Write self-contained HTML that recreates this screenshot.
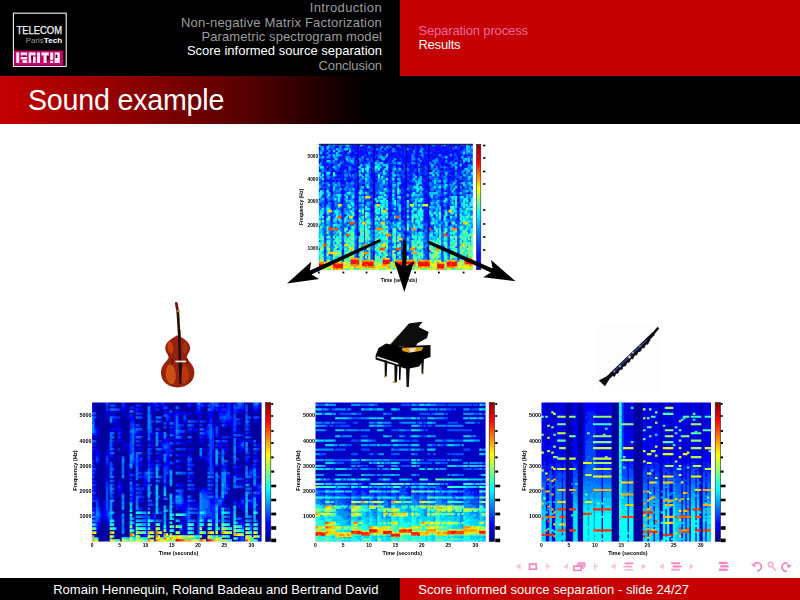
<!DOCTYPE html><html><head><meta charset="utf-8"><title>Sound example</title><style>
html,body{margin:0;padding:0;background:#fff;}
body{width:800px;height:600px;position:relative;overflow:hidden;font-family:"Liberation Sans",sans-serif;}
.abs{position:absolute;}
.nav{position:absolute;right:418px;white-space:nowrap;font-size:13px;line-height:15px;color:#9c9c9c;text-align:right;}
.t{position:absolute;white-space:nowrap;font-size:13px;line-height:15px;}
</style></head><body>
<div class="abs" style="left:0;top:0;width:400px;height:76px;background:#000"></div>
<div class="abs" style="left:400px;top:0;width:400px;height:76px;background:#c40000"></div>
<div class="abs" style="left:0;top:76px;width:800px;height:47.5px;background:linear-gradient(to right,#c40000 0px,#a30000 80px,#800000 160px,#5a0000 240px,#300000 300px,#0e0000 345px,#000 372px)"></div>
<div class="nav" style="top:0.3px;color:#9c9c9c;letter-spacing:0.36px">Introduction</div>
<div class="nav" style="top:14.6px;color:#9c9c9c;letter-spacing:0.20px">Non-negative Matrix Factorization</div>
<div class="nav" style="top:28.9px;color:#9c9c9c;letter-spacing:0.10px">Parametric spectrogram model</div>
<div class="nav" style="top:43.2px;color:#fff;letter-spacing:0.00px">Score informed source separation</div>
<div class="nav" style="top:57.5px;color:#9c9c9c;letter-spacing:-0.08px">Conclusion</div>
<div class="t" style="left:418.4px;top:22.6px;color:#ee6a9c;letter-spacing:-0.14px">Separation process</div>
<div class="t" style="left:418.4px;top:36.6px;color:#fff;letter-spacing:-0.2px">Results</div>
<div class="t" style="left:28px;top:84.2px;font-size:28.6px;line-height:32px;color:#fff;letter-spacing:-0.2px">Sound example</div>
<div class="abs" style="left:0;top:577.5px;width:400px;height:22.5px;background:#000"></div>
<div class="abs" style="left:400px;top:577.5px;width:400px;height:22.5px;background:#c40000"></div>
<div class="t" style="left:53.2px;top:581.8px;color:#fff;letter-spacing:0.03px">Romain Hennequin, Roland Badeau and Bertrand David</div>
<div class="t" style="left:418.2px;top:581.8px;color:#fff;letter-spacing:0.03px">Score informed source separation - slide 24/27</div>
<svg class="abs" style="left:0;top:0" width="80" height="76" viewBox="0 0 80 76"><rect x="13.4" y="13.2" width="52.8" height="53.2" fill="#000" stroke="#f4f4f4" stroke-width="1.1"/><rect x="14" y="50.6" width="49.2" height="15" fill="#c4006a"/><text x="16.4" y="34.2" font-family="Liberation Sans, sans-serif" font-size="10.4" fill="#f4f4f4" stroke="#f4f4f4" stroke-width="0.25" textLength="45.6" lengthAdjust="spacingAndGlyphs">TELECOM</text><text x="25.8" y="42.6" font-family="Liberation Sans, sans-serif" font-size="7.4" fill="#9a9a9a" textLength="18" lengthAdjust="spacingAndGlyphs">Paris</text><text x="43.8" y="42.6" font-family="Liberation Sans, sans-serif" font-weight="bold" font-size="7.4" fill="#fff" textLength="18.5" lengthAdjust="spacingAndGlyphs">Tech</text><g fill="#fff" opacity="0.9"><rect x="16.2" y="52.4" width="3" height="10.6"/><rect x="20.6" y="52.4" width="6.5" height="3"/><rect x="20.6" y="57" width="6.5" height="2.4"/><rect x="22.5" y="60" width="4.6" height="3"/><rect x="28.6" y="52.4" width="7" height="3"/><rect x="28.6" y="55" width="2.6" height="8"/><rect x="33" y="56.6" width="2.6" height="6.4"/><rect x="37" y="52.4" width="3" height="10.6"/><rect x="41.4" y="52.4" width="7.4" height="3"/><rect x="43.6" y="55" width="3" height="8"/><rect x="50.2" y="52.4" width="3" height="7.5"/><rect x="50.2" y="60.8" width="3" height="2.2"/><rect x="54.6" y="52.4" width="5.2" height="10.6"/></g><g fill="#1a0010"><rect x="23" y="55.6" width="2.2" height="1.2"/><rect x="31.4" y="55.6" width="1.4" height="4"/><rect x="55.6" y="54.6" width="1.6" height="3.4"/><rect x="47" y="56" width="2" height="4"/></g></svg>
<svg class="abs" style="left:0;top:0" width="800" height="600" viewBox="0 0 800 600">
<defs><filter id="bl" x="-2%" y="-2%" width="104%" height="104%"><feGaussianBlur stdDeviation="0.45"/></filter><filter id="bl2" x="-5%" y="-5%" width="110%" height="110%"><feGaussianBlur stdDeviation="0.5"/></filter><filter id="bl3" x="-5%" y="-5%" width="110%" height="110%"><feGaussianBlur stdDeviation="0.3"/></filter></defs>
<defs><clipPath id="cpT"><rect x="318.8" y="144.3" width="154.0" height="125.7"/></clipPath></defs><g clip-path="url(#cpT)"><g filter="url(#bl)"><rect x="316.8" y="142.3" width="158.0" height="129.7" fill="#004dff"/><path fill="#0000c3" d="M320.1 144h3.8v2.6h-3.8zM326.5 144h2.2v2.6h-2.2zM357 144h2.2v2.6h-2.2zM373 144h2.2v2.6h-2.2zM393.9 144h2.2v2.6h-2.2zM405.1 144h2.2v2.6h-2.2zM427.6 144h2.2v2.6h-2.2zM336.1 146h2.2v2.6h-2.2zM357 146h2.2v2.6h-2.2zM361.8 146h2.2v2.6h-2.2zM373 146h3.8v2.6h-3.8zM405.1 146h2.2v2.6h-2.2zM411.5 146h2.2v2.6h-2.2zM427.6 146h2.2v2.6h-2.2zM357 148h2.2v2.6h-2.2zM373 148h2.2v2.6h-2.2zM377.9 148h2.2v2.6h-2.2zM385.9 148h2.2v2.6h-2.2zM397.1 148h2.2v2.6h-2.2zM405.1 148h2.2v2.6h-2.2zM427.6 148h2.2v2.6h-2.2zM459.7 148h2.2v2.6h-2.2zM345.8 150h2.2v2.6h-2.2zM357 150h2.2v2.6h-2.2zM373 150h2.2v2.6h-2.2zM405.1 150h3.8v2.6h-3.8zM427.6 150h2.2v2.6h-2.2zM445.2 150h2.2v2.6h-2.2zM454.9 150h2.2v2.6h-2.2zM352.2 152h2.2v2.6h-2.2zM357 152h2.2v2.6h-2.2zM373 152h2.2v2.6h-2.2zM392.3 152h2.2v2.6h-2.2zM405.1 152h2.2v2.6h-2.2zM427.6 152h2.2v2.6h-2.2zM326.5 154h2.2v2.6h-2.2zM357 154h2.2v2.6h-2.2zM373 154h2.2v2.6h-2.2zM382.7 154h2.2v2.6h-2.2zM405.1 154h2.2v2.6h-2.2zM427.6 154h2.2v2.6h-2.2zM430.8 154h2.2v2.6h-2.2zM339.4 156h2.2v2.6h-2.2zM357 156h2.2v2.6h-2.2zM373 156h2.2v2.6h-2.2zM405.1 156h2.2v2.6h-2.2zM427.6 156h2.2v2.6h-2.2zM434 156h2.2v2.6h-2.2zM459.7 156h2.2v2.6h-2.2zM462.9 156h2.2v2.6h-2.2zM337.8 158h2.2v2.6h-2.2zM357 158h2.2v2.6h-2.2zM373 158h2.2v2.6h-2.2zM397.1 158h2.2v2.6h-2.2zM405.1 158h2.2v2.6h-2.2zM427.6 158h2.2v2.6h-2.2zM318.5 160h2.2v2.6h-2.2zM357 160h2.2v2.6h-2.2zM373 160h2.2v2.6h-2.2zM381.1 160h2.2v2.6h-2.2zM384.3 160h2.2v2.6h-2.2zM405.1 160h2.2v2.6h-2.2zM427.6 160h2.2v2.6h-2.2zM326.5 162h2.2v2.6h-2.2zM357 162h2.2v2.6h-2.2zM373 162h2.2v2.6h-2.2zM405.1 162h2.2v2.6h-2.2zM421.2 162h2.2v2.6h-2.2zM427.6 162h2.2v2.6h-2.2zM467.7 162h2.2v2.6h-2.2zM357 164h2.2v2.6h-2.2zM373 164h2.2v2.6h-2.2zM405.1 164h2.2v2.6h-2.2zM427.6 164h2.2v2.6h-2.2zM434 164h2.2v2.6h-2.2zM357 165.9h2.2v2.6h-2.2zM373 165.9h2.2v2.6h-2.2zM384.3 165.9h2.2v2.6h-2.2zM405.1 165.9h2.2v2.6h-2.2zM427.6 165.9h2.2v2.6h-2.2zM461.3 165.9h2.2v2.6h-2.2zM326.5 167.9h2.2v2.6h-2.2zM339.4 167.9h2.2v2.6h-2.2zM357 167.9h2.2v2.6h-2.2zM373 167.9h2.2v2.6h-2.2zM405.1 167.9h2.2v2.6h-2.2zM427.6 167.9h2.2v2.6h-2.2zM461.3 167.9h2.2v2.6h-2.2zM332.9 169.9h2.2v2.6h-2.2zM357 169.9h2.2v2.6h-2.2zM373 169.9h2.2v2.6h-2.2zM379.5 169.9h2.2v2.6h-2.2zM405.1 169.9h2.2v2.6h-2.2zM427.6 169.9h5.4v2.6h-5.4zM337.8 171.9h2.2v2.6h-2.2zM357 171.9h2.2v2.6h-2.2zM360.2 171.9h2.2v2.6h-2.2zM373 171.9h2.2v2.6h-2.2zM381.1 171.9h2.2v2.6h-2.2zM393.9 171.9h2.2v2.6h-2.2zM405.1 171.9h2.2v2.6h-2.2zM416.4 171.9h2.2v2.6h-2.2zM427.6 171.9h2.2v2.6h-2.2zM453.2 171.9h2.2v2.6h-2.2zM320.1 173.9h2.2v2.6h-2.2zM336.1 173.9h2.2v2.6h-2.2zM350.6 173.9h2.2v2.6h-2.2zM357 173.9h2.2v2.6h-2.2zM373 173.9h2.2v2.6h-2.2zM405.1 173.9h2.2v2.6h-2.2zM427.6 173.9h2.2v2.6h-2.2zM434 173.9h2.2v2.6h-2.2zM438.8 173.9h2.2v2.6h-2.2zM357 175.9h2.2v2.6h-2.2zM373 175.9h2.2v2.6h-2.2zM379.5 175.9h2.2v2.6h-2.2zM405.1 175.9h2.2v2.6h-2.2zM427.6 175.9h2.2v2.6h-2.2zM345.8 177.9h2.2v2.6h-2.2zM357 177.9h2.2v2.6h-2.2zM373 177.9h2.2v2.6h-2.2zM393.9 177.9h2.2v2.6h-2.2zM405.1 177.9h2.2v2.6h-2.2zM427.6 177.9h2.2v2.6h-2.2zM451.6 177.9h2.2v2.6h-2.2zM357 179.9h2.2v2.6h-2.2zM373 179.9h2.2v2.6h-2.2zM405.1 179.9h2.2v2.6h-2.2zM421.2 179.9h2.2v2.6h-2.2zM427.6 179.9h2.2v2.6h-2.2zM461.3 179.9h2.2v2.6h-2.2zM344.2 181.9h2.2v2.6h-2.2zM357 181.9h2.2v2.6h-2.2zM373 181.9h2.2v2.6h-2.2zM405.1 181.9h2.2v2.6h-2.2zM411.5 181.9h2.2v2.6h-2.2zM427.6 181.9h2.2v2.6h-2.2zM438.8 181.9h2.2v2.6h-2.2zM357 183.9h2.2v2.6h-2.2zM361.8 183.9h2.2v2.6h-2.2zM373 183.9h2.2v2.6h-2.2zM398.7 183.9h2.2v2.6h-2.2zM405.1 183.9h2.2v2.6h-2.2zM419.6 183.9h2.2v2.6h-2.2zM427.6 183.9h2.2v2.6h-2.2zM461.3 183.9h2.2v2.6h-2.2zM357 185.9h2.2v2.6h-2.2zM373 185.9h2.2v2.6h-2.2zM382.7 185.9h2.2v2.6h-2.2zM398.7 185.9h2.2v2.6h-2.2zM405.1 185.9h2.2v2.6h-2.2zM427.6 185.9h2.2v2.6h-2.2zM461.3 185.9h3.8v2.6h-3.8zM470.9 185.9h2.2v2.6h-2.2zM320.1 187.9h2.2v2.6h-2.2zM357 187.9h2.2v2.6h-2.2zM366.6 187.9h2.2v2.6h-2.2zM373 187.9h2.2v2.6h-2.2zM405.1 187.9h2.2v2.6h-2.2zM427.6 187.9h2.2v2.6h-2.2zM454.9 187.9h2.2v2.6h-2.2zM357 189.9h2.2v2.6h-2.2zM373 189.9h2.2v2.6h-2.2zM405.1 189.9h2.2v2.6h-2.2zM427.6 189.9h2.2v2.6h-2.2zM357 191.9h2.2v2.6h-2.2zM373 191.9h2.2v2.6h-2.2zM405.1 191.9h2.2v2.6h-2.2zM427.6 191.9h2.2v2.6h-2.2zM357 193.9h2.2v2.6h-2.2zM373 193.9h2.2v2.6h-2.2zM405.1 193.9h2.2v2.6h-2.2zM427.6 193.9h2.2v2.6h-2.2zM357 195.9h2.2v2.6h-2.2zM373 195.9h2.2v2.6h-2.2zM405.1 195.9h2.2v2.6h-2.2zM427.6 195.9h2.2v2.6h-2.2zM357 197.9h2.2v2.6h-2.2zM373 197.9h2.2v2.6h-2.2zM405.1 197.9h2.2v2.6h-2.2zM427.6 197.9h2.2v2.6h-2.2zM357 199.9h2.2v2.6h-2.2zM373 199.9h2.2v2.6h-2.2zM405.1 199.9h2.2v2.6h-2.2zM427.6 199.9h2.2v2.6h-2.2zM357 201.9h2.2v2.6h-2.2zM373 201.9h2.2v2.6h-2.2zM405.1 201.9h2.2v2.6h-2.2zM427.6 201.9h2.2v2.6h-2.2zM357 203.9h2.2v2.6h-2.2zM373 203.9h2.2v2.6h-2.2zM405.1 203.9h2.2v2.6h-2.2zM427.6 203.9h2.2v2.6h-2.2zM357 205.9h2.2v2.6h-2.2zM373 205.9h2.2v2.6h-2.2zM405.1 205.9h2.2v2.6h-2.2zM427.6 205.9h2.2v2.6h-2.2zM357 207.8h2.2v2.6h-2.2zM373 207.8h2.2v2.6h-2.2zM405.1 207.8h2.2v2.6h-2.2zM427.6 207.8h2.2v2.6h-2.2zM357 209.8h2.2v2.6h-2.2zM373 209.8h2.2v2.6h-2.2zM405.1 209.8h2.2v2.6h-2.2zM427.6 209.8h2.2v2.6h-2.2zM357 211.8h2.2v2.6h-2.2zM373 211.8h2.2v2.6h-2.2zM405.1 211.8h2.2v2.6h-2.2zM427.6 211.8h2.2v2.6h-2.2zM357 213.8h2.2v2.6h-2.2zM373 213.8h2.2v2.6h-2.2zM405.1 213.8h2.2v2.6h-2.2zM427.6 213.8h2.2v2.6h-2.2zM357 215.8h2.2v2.6h-2.2zM373 215.8h2.2v2.6h-2.2zM405.1 215.8h2.2v2.6h-2.2zM427.6 215.8h2.2v2.6h-2.2zM357 217.8h2.2v2.6h-2.2zM373 217.8h2.2v2.6h-2.2zM405.1 217.8h2.2v2.6h-2.2zM427.6 217.8h2.2v2.6h-2.2zM357 219.8h2.2v2.6h-2.2zM373 219.8h2.2v2.6h-2.2zM405.1 219.8h2.2v2.6h-2.2zM427.6 219.8h2.2v2.6h-2.2zM357 221.8h2.2v2.6h-2.2zM373 221.8h2.2v2.6h-2.2zM405.1 221.8h2.2v2.6h-2.2zM427.6 221.8h2.2v2.6h-2.2zM357 223.8h2.2v2.6h-2.2zM373 223.8h2.2v2.6h-2.2zM405.1 223.8h2.2v2.6h-2.2zM427.6 223.8h2.2v2.6h-2.2zM357 225.8h2.2v2.6h-2.2zM373 225.8h2.2v2.6h-2.2zM405.1 225.8h2.2v2.6h-2.2zM427.6 225.8h2.2v2.6h-2.2zM357 227.8h2.2v2.6h-2.2zM373 227.8h2.2v2.6h-2.2zM405.1 227.8h2.2v2.6h-2.2zM427.6 227.8h2.2v2.6h-2.2zM357 229.8h2.2v2.6h-2.2zM373 229.8h2.2v2.6h-2.2zM405.1 229.8h2.2v2.6h-2.2zM427.6 229.8h2.2v2.6h-2.2zM357 231.8h2.2v2.6h-2.2zM373 231.8h2.2v2.6h-2.2zM405.1 231.8h2.2v2.6h-2.2zM427.6 231.8h2.2v2.6h-2.2zM357 233.8h2.2v2.6h-2.2zM373 233.8h2.2v2.6h-2.2zM405.1 233.8h2.2v2.6h-2.2zM427.6 233.8h2.2v2.6h-2.2zM357 235.8h2.2v2.6h-2.2zM373 235.8h2.2v2.6h-2.2zM405.1 235.8h2.2v2.6h-2.2zM427.6 235.8h2.2v2.6h-2.2zM357 237.8h2.2v2.6h-2.2zM373 237.8h2.2v2.6h-2.2zM405.1 237.8h2.2v2.6h-2.2zM427.6 237.8h2.2v2.6h-2.2zM357 239.8h2.2v2.6h-2.2zM373 239.8h2.2v2.6h-2.2zM405.1 239.8h2.2v2.6h-2.2zM427.6 239.8h2.2v2.6h-2.2zM357 241.8h2.2v2.6h-2.2zM373 241.8h2.2v2.6h-2.2zM405.1 241.8h2.2v2.6h-2.2zM427.6 241.8h2.2v2.6h-2.2zM357 243.8h2.2v2.6h-2.2zM373 243.8h2.2v2.6h-2.2zM405.1 243.8h2.2v2.6h-2.2zM427.6 243.8h2.2v2.6h-2.2zM357 245.8h2.2v2.6h-2.2zM373 245.8h2.2v2.6h-2.2zM405.1 245.8h2.2v2.6h-2.2zM427.6 245.8h2.2v2.6h-2.2zM357 247.8h2.2v2.6h-2.2zM373 247.8h2.2v2.6h-2.2zM405.1 247.8h2.2v2.6h-2.2zM427.6 247.8h2.2v2.6h-2.2zM357 249.7h2.2v2.6h-2.2zM373 249.7h2.2v2.6h-2.2zM405.1 249.7h2.2v2.6h-2.2zM427.6 249.7h2.2v2.6h-2.2zM357 251.7h2.2v2.6h-2.2zM373 251.7h2.2v2.6h-2.2zM405.1 251.7h2.2v2.6h-2.2zM427.6 251.7h2.2v2.6h-2.2zM357 253.7h2.2v2.6h-2.2zM373 253.7h2.2v2.6h-2.2zM405.1 253.7h2.2v2.6h-2.2zM427.6 253.7h2.2v2.6h-2.2zM357 255.7h2.2v2.6h-2.2zM373 255.7h2.2v2.6h-2.2zM405.1 255.7h2.2v2.6h-2.2zM427.6 255.7h2.2v2.6h-2.2zM373 257.7h2.2v2.6h-2.2zM405.1 257.7h2.2v2.6h-2.2zM427.6 257.7h2.2v2.6h-2.2z"/><path fill="#0008ff" d="M323.3 144h3.8v2.6h-3.8zM337.8 144h2.2v2.6h-2.2zM349 144h2.2v2.6h-2.2zM352.2 144h2.2v2.6h-2.2zM355.4 144h2.2v2.6h-2.2zM358.6 144h2.2v2.6h-2.2zM365 144h3.8v2.6h-3.8zM369.8 144h3.8v2.6h-3.8zM377.9 144h5.4v2.6h-5.4zM384.3 144h3.8v2.6h-3.8zM390.7 144h3.8v2.6h-3.8zM395.5 144h2.2v2.6h-2.2zM400.3 144h5.4v2.6h-5.4zM406.7 144h2.2v2.6h-2.2zM409.9 144h2.2v2.6h-2.2zM413.1 144h7v2.6h-7zM421.2 144h5.4v2.6h-5.4zM429.2 144h2.2v2.6h-2.2zM434 144h2.2v2.6h-2.2zM437.2 144h3.8v2.6h-3.8zM445.2 144h2.2v2.6h-2.2zM448.4 144h11.8v2.6h-11.8zM464.5 144h2.2v2.6h-2.2zM470.9 144h2.2v2.6h-2.2zM318.5 146h2.2v2.6h-2.2zM323.3 146h3.8v2.6h-3.8zM334.5 146h2.2v2.6h-2.2zM341 146h3.8v2.6h-3.8zM349 146h2.2v2.6h-2.2zM352.2 146h5.4v2.6h-5.4zM360.2 146h2.2v2.6h-2.2zM363.4 146h3.8v2.6h-3.8zM369.8 146h2.2v2.6h-2.2zM376.2 146h3.8v2.6h-3.8zM382.7 146h3.8v2.6h-3.8zM392.3 146h3.8v2.6h-3.8zM397.1 146h2.2v2.6h-2.2zM401.9 146h2.2v2.6h-2.2zM408.3 146h2.2v2.6h-2.2zM413.1 146h2.2v2.6h-2.2zM416.4 146h3.8v2.6h-3.8zM422.8 146h3.8v2.6h-3.8zM430.8 146h3.8v2.6h-3.8zM435.6 146h5.4v2.6h-5.4zM442 146h7v2.6h-7zM450 146h2.2v2.6h-2.2zM456.5 146h2.2v2.6h-2.2zM459.7 146h3.8v2.6h-3.8zM464.5 146h2.2v2.6h-2.2zM469.3 146h2.2v2.6h-2.2zM318.5 148h2.2v2.6h-2.2zM323.3 148h3.8v2.6h-3.8zM328.1 148h2.2v2.6h-2.2zM350.6 148h2.2v2.6h-2.2zM353.8 148h2.2v2.6h-2.2zM360.2 148h2.2v2.6h-2.2zM363.4 148h3.8v2.6h-3.8zM368.2 148h2.2v2.6h-2.2zM374.6 148h2.2v2.6h-2.2zM381.1 148h3.8v2.6h-3.8zM389.1 148h3.8v2.6h-3.8zM395.5 148h2.2v2.6h-2.2zM400.3 148h3.8v2.6h-3.8zM408.3 148h2.2v2.6h-2.2zM411.5 148h3.8v2.6h-3.8zM416.4 148h3.8v2.6h-3.8zM424.4 148h2.2v2.6h-2.2zM429.2 148h3.8v2.6h-3.8zM434 148h11.8v2.6h-11.8zM446.8 148h2.2v2.6h-2.2zM450 148h2.2v2.6h-2.2zM454.9 148h2.2v2.6h-2.2zM461.3 148h2.2v2.6h-2.2zM324.9 150h3.8v2.6h-3.8zM329.7 150h3.8v2.6h-3.8zM336.1 150h2.2v2.6h-2.2zM344.2 150h2.2v2.6h-2.2zM347.4 150h2.2v2.6h-2.2zM350.6 150h2.2v2.6h-2.2zM353.8 150h3.8v2.6h-3.8zM358.6 150h5.4v2.6h-5.4zM365 150h2.2v2.6h-2.2zM371.4 150h2.2v2.6h-2.2zM374.6 150h3.8v2.6h-3.8zM384.3 150h2.2v2.6h-2.2zM387.5 150h3.8v2.6h-3.8zM397.1 150h3.8v2.6h-3.8zM401.9 150h2.2v2.6h-2.2zM408.3 150h5.4v2.6h-5.4zM414.8 150h5.4v2.6h-5.4zM422.8 150h2.2v2.6h-2.2zM426 150h2.2v2.6h-2.2zM429.2 150h2.2v2.6h-2.2zM432.4 150h2.2v2.6h-2.2zM435.6 150h2.2v2.6h-2.2zM438.8 150h3.8v2.6h-3.8zM443.6 150h2.2v2.6h-2.2zM446.8 150h3.8v2.6h-3.8zM451.6 150h3.8v2.6h-3.8zM456.5 150h3.8v2.6h-3.8zM321.7 152h3.8v2.6h-3.8zM328.1 152h3.8v2.6h-3.8zM332.9 152h2.2v2.6h-2.2zM337.8 152h5.4v2.6h-5.4zM344.2 152h3.8v2.6h-3.8zM349 152h3.8v2.6h-3.8zM358.6 152h10.2v2.6h-10.2zM374.6 152h3.8v2.6h-3.8zM381.1 152h2.2v2.6h-2.2zM384.3 152h2.2v2.6h-2.2zM389.1 152h3.8v2.6h-3.8zM393.9 152h2.2v2.6h-2.2zM397.1 152h3.8v2.6h-3.8zM401.9 152h2.2v2.6h-2.2zM406.7 152h2.2v2.6h-2.2zM409.9 152h2.2v2.6h-2.2zM416.4 152h5.4v2.6h-5.4zM422.8 152h2.2v2.6h-2.2zM432.4 152h21.5v2.6h-21.5zM456.5 152h3.8v2.6h-3.8zM320.1 154h2.2v2.6h-2.2zM323.3 154h2.2v2.6h-2.2zM342.6 154h3.8v2.6h-3.8zM347.4 154h10.2v2.6h-10.2zM360.2 154h3.8v2.6h-3.8zM366.6 154h2.2v2.6h-2.2zM369.8 154h3.8v2.6h-3.8zM381.1 154h2.2v2.6h-2.2zM384.3 154h2.2v2.6h-2.2zM387.5 154h7v2.6h-7zM395.5 154h2.2v2.6h-2.2zM398.7 154h5.4v2.6h-5.4zM406.7 154h5.4v2.6h-5.4zM414.8 154h3.8v2.6h-3.8zM424.4 154h3.8v2.6h-3.8zM429.2 154h2.2v2.6h-2.2zM432.4 154h2.2v2.6h-2.2zM435.6 154h2.2v2.6h-2.2zM442 154h2.2v2.6h-2.2zM445.2 154h5.4v2.6h-5.4zM451.6 154h2.2v2.6h-2.2zM456.5 154h5.4v2.6h-5.4zM464.5 154h2.2v2.6h-2.2zM467.7 154h2.2v2.6h-2.2zM470.9 154h2.2v2.6h-2.2zM324.9 156h2.2v2.6h-2.2zM329.7 156h2.2v2.6h-2.2zM342.6 156h2.2v2.6h-2.2zM350.6 156h2.2v2.6h-2.2zM355.4 156h2.2v2.6h-2.2zM358.6 156h2.2v2.6h-2.2zM363.4 156h2.2v2.6h-2.2zM366.6 156h2.2v2.6h-2.2zM371.4 156h2.2v2.6h-2.2zM376.2 156h2.2v2.6h-2.2zM387.5 156h2.2v2.6h-2.2zM390.7 156h2.2v2.6h-2.2zM393.9 156h5.4v2.6h-5.4zM400.3 156h5.4v2.6h-5.4zM406.7 156h5.4v2.6h-5.4zM414.8 156h7v2.6h-7zM424.4 156h2.2v2.6h-2.2zM429.2 156h2.2v2.6h-2.2zM432.4 156h2.2v2.6h-2.2zM437.2 156h3.8v2.6h-3.8zM448.4 156h7v2.6h-7zM458.1 156h2.2v2.6h-2.2zM318.5 158h2.2v2.6h-2.2zM323.3 158h2.2v2.6h-2.2zM326.5 158h3.8v2.6h-3.8zM331.3 158h3.8v2.6h-3.8zM339.4 158h2.2v2.6h-2.2zM342.6 158h3.8v2.6h-3.8zM353.8 158h3.8v2.6h-3.8zM363.4 158h2.2v2.6h-2.2zM368.2 158h2.2v2.6h-2.2zM374.6 158h2.2v2.6h-2.2zM377.9 158h3.8v2.6h-3.8zM384.3 158h5.4v2.6h-5.4zM390.7 158h2.2v2.6h-2.2zM401.9 158h3.8v2.6h-3.8zM406.7 158h5.4v2.6h-5.4zM414.8 158h2.2v2.6h-2.2zM419.6 158h3.8v2.6h-3.8zM424.4 158h2.2v2.6h-2.2zM430.8 158h2.2v2.6h-2.2zM438.8 158h3.8v2.6h-3.8zM443.6 158h2.2v2.6h-2.2zM446.8 158h7v2.6h-7zM458.1 158h3.8v2.6h-3.8zM469.3 158h2.2v2.6h-2.2zM323.3 160h3.8v2.6h-3.8zM334.5 160h2.2v2.6h-2.2zM337.8 160h2.2v2.6h-2.2zM344.2 160h2.2v2.6h-2.2zM353.8 160h2.2v2.6h-2.2zM363.4 160h3.8v2.6h-3.8zM379.5 160h2.2v2.6h-2.2zM382.7 160h2.2v2.6h-2.2zM385.9 160h2.2v2.6h-2.2zM389.1 160h2.2v2.6h-2.2zM393.9 160h3.8v2.6h-3.8zM398.7 160h2.2v2.6h-2.2zM401.9 160h3.8v2.6h-3.8zM406.7 160h3.8v2.6h-3.8zM413.1 160h7v2.6h-7zM421.2 160h7v2.6h-7zM429.2 160h3.8v2.6h-3.8zM438.8 160h2.2v2.6h-2.2zM442 160h3.8v2.6h-3.8zM446.8 160h3.8v2.6h-3.8zM454.9 160h2.2v2.6h-2.2zM458.1 160h2.2v2.6h-2.2zM461.3 160h2.2v2.6h-2.2zM469.3 160h2.2v2.6h-2.2zM318.5 162h2.2v2.6h-2.2zM321.7 162h2.2v2.6h-2.2zM324.9 162h2.2v2.6h-2.2zM337.8 162h2.2v2.6h-2.2zM344.2 162h5.4v2.6h-5.4zM353.8 162h2.2v2.6h-2.2zM361.8 162h2.2v2.6h-2.2zM369.8 162h3.8v2.6h-3.8zM384.3 162h2.2v2.6h-2.2zM395.5 162h2.2v2.6h-2.2zM401.9 162h3.8v2.6h-3.8zM408.3 162h2.2v2.6h-2.2zM414.8 162h2.2v2.6h-2.2zM419.6 162h2.2v2.6h-2.2zM422.8 162h5.4v2.6h-5.4zM430.8 162h3.8v2.6h-3.8zM435.6 162h2.2v2.6h-2.2zM440.4 162h3.8v2.6h-3.8zM445.2 162h2.2v2.6h-2.2zM458.1 162h2.2v2.6h-2.2zM464.5 162h3.8v2.6h-3.8zM469.3 162h2.2v2.6h-2.2zM323.3 164h3.8v2.6h-3.8zM329.7 164h3.8v2.6h-3.8zM341 164h3.8v2.6h-3.8zM349 164h2.2v2.6h-2.2zM352.2 164h2.2v2.6h-2.2zM355.4 164h2.2v2.6h-2.2zM358.6 164h2.2v2.6h-2.2zM369.8 164h3.8v2.6h-3.8zM389.1 164h3.8v2.6h-3.8zM393.9 164h8.6v2.6h-8.6zM409.9 164h8.6v2.6h-8.6zM419.6 164h2.2v2.6h-2.2zM422.8 164h2.2v2.6h-2.2zM426 164h2.2v2.6h-2.2zM429.2 164h2.2v2.6h-2.2zM437.2 164h2.2v2.6h-2.2zM442 164h8.6v2.6h-8.6zM456.5 164h2.2v2.6h-2.2zM461.3 164h3.8v2.6h-3.8zM466.1 164h2.2v2.6h-2.2zM323.3 165.9h2.2v2.6h-2.2zM328.1 165.9h3.8v2.6h-3.8zM341 165.9h7v2.6h-7zM350.6 165.9h7v2.6h-7zM363.4 165.9h2.2v2.6h-2.2zM369.8 165.9h2.2v2.6h-2.2zM381.1 165.9h2.2v2.6h-2.2zM389.1 165.9h2.2v2.6h-2.2zM395.5 165.9h2.2v2.6h-2.2zM400.3 165.9h3.8v2.6h-3.8zM408.3 165.9h3.8v2.6h-3.8zM413.1 165.9h3.8v2.6h-3.8zM418 165.9h5.4v2.6h-5.4zM429.2 165.9h2.2v2.6h-2.2zM434 165.9h2.2v2.6h-2.2zM437.2 165.9h2.2v2.6h-2.2zM448.4 165.9h2.2v2.6h-2.2zM453.2 165.9h2.2v2.6h-2.2zM458.1 165.9h2.2v2.6h-2.2zM462.9 165.9h3.8v2.6h-3.8zM331.3 167.9h3.8v2.6h-3.8zM341 167.9h3.8v2.6h-3.8zM345.8 167.9h2.2v2.6h-2.2zM355.4 167.9h2.2v2.6h-2.2zM358.6 167.9h2.2v2.6h-2.2zM363.4 167.9h2.2v2.6h-2.2zM369.8 167.9h2.2v2.6h-2.2zM379.5 167.9h2.2v2.6h-2.2zM387.5 167.9h5.4v2.6h-5.4zM401.9 167.9h2.2v2.6h-2.2zM408.3 167.9h2.2v2.6h-2.2zM411.5 167.9h2.2v2.6h-2.2zM416.4 167.9h2.2v2.6h-2.2zM422.8 167.9h2.2v2.6h-2.2zM438.8 167.9h5.4v2.6h-5.4zM445.2 167.9h2.2v2.6h-2.2zM448.4 167.9h7v2.6h-7zM456.5 167.9h3.8v2.6h-3.8zM318.5 169.9h2.2v2.6h-2.2zM331.3 169.9h2.2v2.6h-2.2zM334.5 169.9h2.2v2.6h-2.2zM339.4 169.9h2.2v2.6h-2.2zM342.6 169.9h2.2v2.6h-2.2zM345.8 169.9h2.2v2.6h-2.2zM350.6 169.9h7v2.6h-7zM363.4 169.9h2.2v2.6h-2.2zM371.4 169.9h2.2v2.6h-2.2zM377.9 169.9h2.2v2.6h-2.2zM381.1 169.9h2.2v2.6h-2.2zM384.3 169.9h2.2v2.6h-2.2zM389.1 169.9h3.8v2.6h-3.8zM393.9 169.9h2.2v2.6h-2.2zM409.9 169.9h3.8v2.6h-3.8zM416.4 169.9h2.2v2.6h-2.2zM419.6 169.9h3.8v2.6h-3.8zM426 169.9h2.2v2.6h-2.2zM435.6 169.9h2.2v2.6h-2.2zM451.6 169.9h2.2v2.6h-2.2zM454.9 169.9h3.8v2.6h-3.8zM459.7 169.9h2.2v2.6h-2.2zM464.5 169.9h2.2v2.6h-2.2zM469.3 169.9h2.2v2.6h-2.2zM323.3 171.9h2.2v2.6h-2.2zM329.7 171.9h3.8v2.6h-3.8zM334.5 171.9h3.8v2.6h-3.8zM339.4 171.9h3.8v2.6h-3.8zM350.6 171.9h3.8v2.6h-3.8zM371.4 171.9h2.2v2.6h-2.2zM374.6 171.9h2.2v2.6h-2.2zM387.5 171.9h2.2v2.6h-2.2zM398.7 171.9h2.2v2.6h-2.2zM403.5 171.9h2.2v2.6h-2.2zM408.3 171.9h2.2v2.6h-2.2zM414.8 171.9h2.2v2.6h-2.2zM422.8 171.9h2.2v2.6h-2.2zM440.4 171.9h3.8v2.6h-3.8zM448.4 171.9h5.4v2.6h-5.4zM456.5 171.9h2.2v2.6h-2.2zM459.7 171.9h2.2v2.6h-2.2zM462.9 171.9h2.2v2.6h-2.2zM323.3 173.9h2.2v2.6h-2.2zM329.7 173.9h3.8v2.6h-3.8zM339.4 173.9h2.2v2.6h-2.2zM342.6 173.9h2.2v2.6h-2.2zM347.4 173.9h2.2v2.6h-2.2zM353.8 173.9h2.2v2.6h-2.2zM363.4 173.9h2.2v2.6h-2.2zM369.8 173.9h3.8v2.6h-3.8zM379.5 173.9h2.2v2.6h-2.2zM389.1 173.9h3.8v2.6h-3.8zM409.9 173.9h2.2v2.6h-2.2zM416.4 173.9h2.2v2.6h-2.2zM421.2 173.9h3.8v2.6h-3.8zM426 173.9h2.2v2.6h-2.2zM429.2 173.9h2.2v2.6h-2.2zM443.6 173.9h2.2v2.6h-2.2zM446.8 173.9h2.2v2.6h-2.2zM451.6 173.9h2.2v2.6h-2.2zM459.7 173.9h3.8v2.6h-3.8zM323.3 175.9h3.8v2.6h-3.8zM334.5 175.9h7v2.6h-7zM342.6 175.9h2.2v2.6h-2.2zM347.4 175.9h2.2v2.6h-2.2zM360.2 175.9h2.2v2.6h-2.2zM369.8 175.9h3.8v2.6h-3.8zM374.6 175.9h3.8v2.6h-3.8zM387.5 175.9h2.2v2.6h-2.2zM395.5 175.9h2.2v2.6h-2.2zM400.3 175.9h2.2v2.6h-2.2zM408.3 175.9h3.8v2.6h-3.8zM416.4 175.9h3.8v2.6h-3.8zM421.2 175.9h5.4v2.6h-5.4zM438.8 175.9h2.2v2.6h-2.2zM446.8 175.9h5.4v2.6h-5.4zM453.2 175.9h2.2v2.6h-2.2zM461.3 175.9h3.8v2.6h-3.8zM323.3 177.9h3.8v2.6h-3.8zM329.7 177.9h2.2v2.6h-2.2zM341 177.9h3.8v2.6h-3.8zM349 177.9h3.8v2.6h-3.8zM355.4 177.9h2.2v2.6h-2.2zM371.4 177.9h2.2v2.6h-2.2zM387.5 177.9h3.8v2.6h-3.8zM395.5 177.9h2.2v2.6h-2.2zM400.3 177.9h2.2v2.6h-2.2zM403.5 177.9h2.2v2.6h-2.2zM409.9 177.9h2.2v2.6h-2.2zM414.8 177.9h2.2v2.6h-2.2zM424.4 177.9h2.2v2.6h-2.2zM440.4 177.9h2.2v2.6h-2.2zM448.4 177.9h2.2v2.6h-2.2zM456.5 177.9h2.2v2.6h-2.2zM320.1 179.9h2.2v2.6h-2.2zM323.3 179.9h7v2.6h-7zM331.3 179.9h3.8v2.6h-3.8zM336.1 179.9h2.2v2.6h-2.2zM339.4 179.9h7v2.6h-7zM347.4 179.9h3.8v2.6h-3.8zM353.8 179.9h2.2v2.6h-2.2zM363.4 179.9h2.2v2.6h-2.2zM374.6 179.9h2.2v2.6h-2.2zM387.5 179.9h2.2v2.6h-2.2zM395.5 179.9h3.8v2.6h-3.8zM400.3 179.9h5.4v2.6h-5.4zM406.7 179.9h2.2v2.6h-2.2zM409.9 179.9h2.2v2.6h-2.2zM413.1 179.9h2.2v2.6h-2.2zM426 179.9h2.2v2.6h-2.2zM429.2 179.9h2.2v2.6h-2.2zM440.4 179.9h2.2v2.6h-2.2zM446.8 179.9h3.8v2.6h-3.8zM456.5 179.9h5.4v2.6h-5.4zM329.7 181.9h2.2v2.6h-2.2zM341 181.9h3.8v2.6h-3.8zM353.8 181.9h2.2v2.6h-2.2zM369.8 181.9h2.2v2.6h-2.2zM387.5 181.9h2.2v2.6h-2.2zM390.7 181.9h2.2v2.6h-2.2zM401.9 181.9h3.8v2.6h-3.8zM408.3 181.9h3.8v2.6h-3.8zM422.8 181.9h3.8v2.6h-3.8zM440.4 181.9h3.8v2.6h-3.8zM446.8 181.9h2.2v2.6h-2.2zM456.5 181.9h2.2v2.6h-2.2zM323.3 183.9h2.2v2.6h-2.2zM329.7 183.9h2.2v2.6h-2.2zM353.8 183.9h2.2v2.6h-2.2zM363.4 183.9h2.2v2.6h-2.2zM369.8 183.9h3.8v2.6h-3.8zM387.5 183.9h5.4v2.6h-5.4zM395.5 183.9h2.2v2.6h-2.2zM400.3 183.9h5.4v2.6h-5.4zM424.4 183.9h3.8v2.6h-3.8zM458.1 183.9h2.2v2.6h-2.2zM329.7 185.9h3.8v2.6h-3.8zM341 185.9h3.8v2.6h-3.8zM353.8 185.9h2.2v2.6h-2.2zM363.4 185.9h2.2v2.6h-2.2zM369.8 185.9h2.2v2.6h-2.2zM389.1 185.9h3.8v2.6h-3.8zM400.3 185.9h5.4v2.6h-5.4zM422.8 185.9h5.4v2.6h-5.4zM448.4 185.9h2.2v2.6h-2.2zM458.1 185.9h2.2v2.6h-2.2zM324.9 187.9h2.2v2.6h-2.2zM329.7 187.9h3.8v2.6h-3.8zM341 187.9h2.2v2.6h-2.2zM355.4 187.9h2.2v2.6h-2.2zM363.4 187.9h2.2v2.6h-2.2zM389.1 187.9h2.2v2.6h-2.2zM395.5 187.9h2.2v2.6h-2.2zM403.5 187.9h2.2v2.6h-2.2zM409.9 187.9h2.2v2.6h-2.2zM424.4 187.9h3.8v2.6h-3.8zM440.4 187.9h3.8v2.6h-3.8zM448.4 187.9h2.2v2.6h-2.2zM456.5 187.9h3.8v2.6h-3.8zM323.3 189.9h2.2v2.6h-2.2zM329.7 189.9h3.8v2.6h-3.8zM341 189.9h3.8v2.6h-3.8zM355.4 189.9h2.2v2.6h-2.2zM381.1 189.9h2.2v2.6h-2.2zM390.7 189.9h2.2v2.6h-2.2zM395.5 189.9h2.2v2.6h-2.2zM400.3 189.9h2.2v2.6h-2.2zM403.5 189.9h2.2v2.6h-2.2zM406.7 189.9h2.2v2.6h-2.2zM409.9 189.9h2.2v2.6h-2.2zM422.8 189.9h2.2v2.6h-2.2zM434 189.9h2.2v2.6h-2.2zM440.4 189.9h3.8v2.6h-3.8zM445.2 189.9h2.2v2.6h-2.2zM448.4 189.9h2.2v2.6h-2.2zM456.5 189.9h3.8v2.6h-3.8zM323.3 191.9h2.2v2.6h-2.2zM331.3 191.9h2.2v2.6h-2.2zM341 191.9h3.8v2.6h-3.8zM355.4 191.9h2.2v2.6h-2.2zM369.8 191.9h3.8v2.6h-3.8zM385.9 191.9h2.2v2.6h-2.2zM389.1 191.9h3.8v2.6h-3.8zM395.5 191.9h2.2v2.6h-2.2zM403.5 191.9h2.2v2.6h-2.2zM408.3 191.9h3.8v2.6h-3.8zM418 191.9h2.2v2.6h-2.2zM424.4 191.9h2.2v2.6h-2.2zM442 191.9h2.2v2.6h-2.2zM446.8 191.9h3.8v2.6h-3.8zM466.1 191.9h3.8v2.6h-3.8zM321.7 193.9h3.8v2.6h-3.8zM329.7 193.9h3.8v2.6h-3.8zM341 193.9h3.8v2.6h-3.8zM353.8 193.9h3.8v2.6h-3.8zM363.4 193.9h2.2v2.6h-2.2zM376.2 193.9h2.2v2.6h-2.2zM389.1 193.9h3.8v2.6h-3.8zM395.5 193.9h2.2v2.6h-2.2zM400.3 193.9h5.4v2.6h-5.4zM408.3 193.9h2.2v2.6h-2.2zM422.8 193.9h5.4v2.6h-5.4zM445.2 193.9h3.8v2.6h-3.8zM451.6 193.9h2.2v2.6h-2.2zM456.5 193.9h3.8v2.6h-3.8zM324.9 195.9h2.2v2.6h-2.2zM341 195.9h3.8v2.6h-3.8zM347.4 195.9h2.2v2.6h-2.2zM355.4 195.9h2.2v2.6h-2.2zM387.5 195.9h3.8v2.6h-3.8zM395.5 195.9h2.2v2.6h-2.2zM400.3 195.9h2.2v2.6h-2.2zM408.3 195.9h3.8v2.6h-3.8zM424.4 195.9h3.8v2.6h-3.8zM437.2 195.9h2.2v2.6h-2.2zM440.4 195.9h3.8v2.6h-3.8zM446.8 195.9h2.2v2.6h-2.2zM458.1 195.9h2.2v2.6h-2.2zM318.5 197.9h2.2v2.6h-2.2zM324.9 197.9h2.2v2.6h-2.2zM339.4 197.9h2.2v2.6h-2.2zM342.6 197.9h2.2v2.6h-2.2zM353.8 197.9h3.8v2.6h-3.8zM369.8 197.9h2.2v2.6h-2.2zM381.1 197.9h2.2v2.6h-2.2zM385.9 197.9h3.8v2.6h-3.8zM390.7 197.9h2.2v2.6h-2.2zM395.5 197.9h2.2v2.6h-2.2zM400.3 197.9h2.2v2.6h-2.2zM403.5 197.9h2.2v2.6h-2.2zM406.7 197.9h2.2v2.6h-2.2zM422.8 197.9h2.2v2.6h-2.2zM426 197.9h2.2v2.6h-2.2zM429.2 197.9h2.2v2.6h-2.2zM440.4 197.9h2.2v2.6h-2.2zM456.5 197.9h3.8v2.6h-3.8zM324.9 199.9h2.2v2.6h-2.2zM329.7 199.9h3.8v2.6h-3.8zM341 199.9h3.8v2.6h-3.8zM353.8 199.9h2.2v2.6h-2.2zM363.4 199.9h2.2v2.6h-2.2zM387.5 199.9h5.4v2.6h-5.4zM395.5 199.9h2.2v2.6h-2.2zM400.3 199.9h3.8v2.6h-3.8zM408.3 199.9h2.2v2.6h-2.2zM424.4 199.9h3.8v2.6h-3.8zM448.4 199.9h2.2v2.6h-2.2zM453.2 199.9h2.2v2.6h-2.2zM456.5 199.9h3.8v2.6h-3.8zM324.9 201.9h3.8v2.6h-3.8zM332.9 201.9h2.2v2.6h-2.2zM341 201.9h2.2v2.6h-2.2zM353.8 201.9h3.8v2.6h-3.8zM358.6 201.9h2.2v2.6h-2.2zM363.4 201.9h2.2v2.6h-2.2zM377.9 201.9h2.2v2.6h-2.2zM400.3 201.9h3.8v2.6h-3.8zM409.9 201.9h2.2v2.6h-2.2zM418 201.9h2.2v2.6h-2.2zM424.4 201.9h3.8v2.6h-3.8zM440.4 201.9h2.2v2.6h-2.2zM320.1 203.9h2.2v2.6h-2.2zM323.3 203.9h2.2v2.6h-2.2zM331.3 203.9h3.8v2.6h-3.8zM353.8 203.9h2.2v2.6h-2.2zM371.4 203.9h2.2v2.6h-2.2zM387.5 203.9h3.8v2.6h-3.8zM395.5 203.9h2.2v2.6h-2.2zM401.9 203.9h3.8v2.6h-3.8zM440.4 203.9h3.8v2.6h-3.8zM446.8 203.9h2.2v2.6h-2.2zM456.5 203.9h3.8v2.6h-3.8zM331.3 205.9h2.2v2.6h-2.2zM342.6 205.9h2.2v2.6h-2.2zM363.4 205.9h2.2v2.6h-2.2zM369.8 205.9h2.2v2.6h-2.2zM389.1 205.9h2.2v2.6h-2.2zM400.3 205.9h3.8v2.6h-3.8zM409.9 205.9h2.2v2.6h-2.2zM422.8 205.9h3.8v2.6h-3.8zM440.4 205.9h3.8v2.6h-3.8zM446.8 205.9h3.8v2.6h-3.8zM331.3 207.8h2.2v2.6h-2.2zM334.5 207.8h2.2v2.6h-2.2zM337.8 207.8h2.2v2.6h-2.2zM341 207.8h2.2v2.6h-2.2zM350.6 207.8h2.2v2.6h-2.2zM369.8 207.8h3.8v2.6h-3.8zM382.7 207.8h2.2v2.6h-2.2zM389.1 207.8h2.2v2.6h-2.2zM395.5 207.8h2.2v2.6h-2.2zM409.9 207.8h2.2v2.6h-2.2zM440.4 207.8h3.8v2.6h-3.8zM446.8 207.8h2.2v2.6h-2.2zM456.5 207.8h2.2v2.6h-2.2zM341 209.8h2.2v2.6h-2.2zM355.4 209.8h2.2v2.6h-2.2zM363.4 209.8h2.2v2.6h-2.2zM366.6 209.8h2.2v2.6h-2.2zM369.8 209.8h3.8v2.6h-3.8zM387.5 209.8h8.6v2.6h-8.6zM400.3 209.8h5.4v2.6h-5.4zM424.4 209.8h3.8v2.6h-3.8zM440.4 209.8h3.8v2.6h-3.8zM446.8 209.8h2.2v2.6h-2.2zM456.5 209.8h2.2v2.6h-2.2zM324.9 211.8h2.2v2.6h-2.2zM329.7 211.8h2.2v2.6h-2.2zM341 211.8h2.2v2.6h-2.2zM353.8 211.8h3.8v2.6h-3.8zM363.4 211.8h2.2v2.6h-2.2zM371.4 211.8h2.2v2.6h-2.2zM390.7 211.8h2.2v2.6h-2.2zM400.3 211.8h5.4v2.6h-5.4zM408.3 211.8h2.2v2.6h-2.2zM414.8 211.8h2.2v2.6h-2.2zM422.8 211.8h2.2v2.6h-2.2zM426 211.8h2.2v2.6h-2.2zM442 211.8h2.2v2.6h-2.2zM458.1 211.8h2.2v2.6h-2.2zM321.7 213.8h3.8v2.6h-3.8zM341 213.8h2.2v2.6h-2.2zM344.2 213.8h2.2v2.6h-2.2zM369.8 213.8h2.2v2.6h-2.2zM379.5 213.8h2.2v2.6h-2.2zM389.1 213.8h2.2v2.6h-2.2zM400.3 213.8h3.8v2.6h-3.8zM408.3 213.8h3.8v2.6h-3.8zM424.4 213.8h2.2v2.6h-2.2zM434 213.8h2.2v2.6h-2.2zM451.6 213.8h2.2v2.6h-2.2zM456.5 213.8h2.2v2.6h-2.2zM323.3 215.8h3.8v2.6h-3.8zM331.3 215.8h2.2v2.6h-2.2zM341 215.8h2.2v2.6h-2.2zM347.4 215.8h2.2v2.6h-2.2zM353.8 215.8h3.8v2.6h-3.8zM369.8 215.8h2.2v2.6h-2.2zM377.9 215.8h2.2v2.6h-2.2zM387.5 215.8h2.2v2.6h-2.2zM400.3 215.8h2.2v2.6h-2.2zM422.8 215.8h5.4v2.6h-5.4zM442 215.8h2.2v2.6h-2.2zM446.8 215.8h2.2v2.6h-2.2zM458.1 215.8h2.2v2.6h-2.2zM323.3 217.8h2.2v2.6h-2.2zM329.7 217.8h2.2v2.6h-2.2zM341 217.8h2.2v2.6h-2.2zM355.4 217.8h2.2v2.6h-2.2zM365 217.8h2.2v2.6h-2.2zM379.5 217.8h2.2v2.6h-2.2zM387.5 217.8h2.2v2.6h-2.2zM395.5 217.8h2.2v2.6h-2.2zM400.3 217.8h5.4v2.6h-5.4zM408.3 217.8h3.8v2.6h-3.8zM414.8 217.8h2.2v2.6h-2.2zM422.8 217.8h2.2v2.6h-2.2zM426 217.8h2.2v2.6h-2.2zM440.4 217.8h3.8v2.6h-3.8zM451.6 217.8h2.2v2.6h-2.2zM456.5 217.8h3.8v2.6h-3.8zM331.3 219.8h2.2v2.6h-2.2zM376.2 219.8h2.2v2.6h-2.2zM389.1 219.8h3.8v2.6h-3.8zM413.1 219.8h2.2v2.6h-2.2zM424.4 219.8h2.2v2.6h-2.2zM332.9 221.8h2.2v2.6h-2.2zM347.4 221.8h2.2v2.6h-2.2zM387.5 221.8h2.2v2.6h-2.2zM403.5 221.8h2.2v2.6h-2.2zM448.4 221.8h3.8v2.6h-3.8zM454.9 221.8h2.2v2.6h-2.2zM461.3 221.8h2.2v2.6h-2.2zM448.4 223.8h2.2v2.6h-2.2zM334.5 225.8h2.2v2.6h-2.2zM339.4 225.8h2.2v2.6h-2.2zM347.4 225.8h2.2v2.6h-2.2zM422.8 225.8h2.2v2.6h-2.2zM429.2 225.8h2.2v2.6h-2.2zM453.2 225.8h2.2v2.6h-2.2zM464.5 225.8h2.2v2.6h-2.2zM470.9 225.8h2.2v2.6h-2.2zM349 227.8h2.2v2.6h-2.2zM368.2 227.8h2.2v2.6h-2.2zM418 227.8h2.2v2.6h-2.2zM430.8 227.8h2.2v2.6h-2.2zM440.4 227.8h2.2v2.6h-2.2zM389.1 229.8h3.8v2.6h-3.8zM397.1 229.8h3.8v2.6h-3.8zM416.4 229.8h2.2v2.6h-2.2zM422.8 229.8h2.2v2.6h-2.2zM467.7 229.8h2.2v2.6h-2.2zM344.2 231.8h2.2v2.6h-2.2zM358.6 231.8h2.2v2.6h-2.2zM403.5 231.8h2.2v2.6h-2.2zM406.7 231.8h2.2v2.6h-2.2zM445.2 231.8h2.2v2.6h-2.2zM326.5 233.8h2.2v2.6h-2.2zM341 233.8h2.2v2.6h-2.2zM358.6 233.8h2.2v2.6h-2.2zM377.9 233.8h2.2v2.6h-2.2zM409.9 233.8h2.2v2.6h-2.2zM434 233.8h2.2v2.6h-2.2zM437.2 233.8h2.2v2.6h-2.2zM451.6 233.8h2.2v2.6h-2.2zM334.5 235.8h2.2v2.6h-2.2zM469.3 235.8h2.2v2.6h-2.2zM324.9 237.8h2.2v2.6h-2.2zM332.9 237.8h2.2v2.6h-2.2zM411.5 237.8h2.2v2.6h-2.2zM453.2 237.8h2.2v2.6h-2.2zM318.5 239.8h2.2v2.6h-2.2zM398.7 239.8h2.2v2.6h-2.2zM461.3 239.8h2.2v2.6h-2.2zM467.7 239.8h2.2v2.6h-2.2zM334.5 241.8h2.2v2.6h-2.2zM395.5 241.8h3.8v2.6h-3.8zM403.5 241.8h2.2v2.6h-2.2zM392.3 243.8h2.2v2.6h-2.2zM332.9 245.8h2.2v2.6h-2.2zM384.3 245.8h2.2v2.6h-2.2zM426 245.8h2.2v2.6h-2.2zM440.4 245.8h2.2v2.6h-2.2zM443.6 245.8h2.2v2.6h-2.2zM454.9 245.8h2.2v2.6h-2.2zM466.1 245.8h2.2v2.6h-2.2zM318.5 247.8h2.2v2.6h-2.2zM336.1 247.8h3.8v2.6h-3.8zM365 247.8h2.2v2.6h-2.2zM392.3 247.8h3.8v2.6h-3.8zM414.8 247.8h2.2v2.6h-2.2zM422.8 247.8h2.2v2.6h-2.2zM440.4 247.8h2.2v2.6h-2.2zM323.3 249.7h2.2v2.6h-2.2zM342.6 249.7h2.2v2.6h-2.2zM366.6 249.7h2.2v2.6h-2.2zM369.8 249.7h2.2v2.6h-2.2zM387.5 249.7h2.2v2.6h-2.2zM397.1 249.7h2.2v2.6h-2.2zM401.9 249.7h2.2v2.6h-2.2zM419.6 249.7h2.2v2.6h-2.2zM429.2 249.7h2.2v2.6h-2.2zM448.4 249.7h2.2v2.6h-2.2zM341 251.7h2.2v2.6h-2.2zM381.1 251.7h2.2v2.6h-2.2zM393.9 251.7h2.2v2.6h-2.2zM400.3 251.7h2.2v2.6h-2.2zM406.7 251.7h2.2v2.6h-2.2zM430.8 251.7h2.2v2.6h-2.2zM328.1 253.7h2.2v2.6h-2.2zM366.6 255.7h2.2v2.6h-2.2zM379.5 255.7h2.2v2.6h-2.2zM385.9 255.7h2.2v2.6h-2.2zM395.5 255.7h2.2v2.6h-2.2zM459.7 255.7h2.2v2.6h-2.2zM342.6 257.7h2.2v2.6h-2.2zM442 257.7h2.2v2.6h-2.2zM403.5 259.7h2.2v2.6h-2.2zM442 259.7h2.2v2.6h-2.2z"/><path fill="#0091ff" d="M328.1 144h2.2v2.6h-2.2zM332.9 144h2.2v2.6h-2.2zM339.4 144h2.2v2.6h-2.2zM397.1 144h2.2v2.6h-2.2zM432.4 144h2.2v2.6h-2.2zM443.6 144h2.2v2.6h-2.2zM320.1 146h3.8v2.6h-3.8zM328.1 146h2.2v2.6h-2.2zM339.4 146h2.2v2.6h-2.2zM347.4 146h2.2v2.6h-2.2zM368.2 146h2.2v2.6h-2.2zM381.1 146h2.2v2.6h-2.2zM385.9 146h2.2v2.6h-2.2zM454.9 146h2.2v2.6h-2.2zM326.5 148h2.2v2.6h-2.2zM339.4 148h2.2v2.6h-2.2zM349 148h2.2v2.6h-2.2zM376.2 148h2.2v2.6h-2.2zM379.5 148h2.2v2.6h-2.2zM384.3 148h2.2v2.6h-2.2zM392.3 148h2.2v2.6h-2.2zM406.7 148h2.2v2.6h-2.2zM421.2 148h2.2v2.6h-2.2zM469.3 148h2.2v2.6h-2.2zM320.1 150h2.2v2.6h-2.2zM328.1 150h2.2v2.6h-2.2zM392.3 150h2.2v2.6h-2.2zM413.1 150h2.2v2.6h-2.2zM462.9 150h2.2v2.6h-2.2zM466.1 150h2.2v2.6h-2.2zM469.3 150h2.2v2.6h-2.2zM326.5 152h2.2v2.6h-2.2zM347.4 152h2.2v2.6h-2.2zM368.2 152h2.2v2.6h-2.2zM421.2 152h2.2v2.6h-2.2zM466.1 152h2.2v2.6h-2.2zM470.9 152h2.2v2.6h-2.2zM328.1 154h2.2v2.6h-2.2zM337.8 154h3.8v2.6h-3.8zM379.5 154h2.2v2.6h-2.2zM411.5 154h2.2v2.6h-2.2zM421.2 154h2.2v2.6h-2.2zM438.8 154h2.2v2.6h-2.2zM450 154h2.2v2.6h-2.2zM318.5 156h2.2v2.6h-2.2zM326.5 156h3.8v2.6h-3.8zM332.9 156h3.8v2.6h-3.8zM345.8 156h3.8v2.6h-3.8zM361.8 156h2.2v2.6h-2.2zM377.9 156h3.8v2.6h-3.8zM384.3 156h2.2v2.6h-2.2zM411.5 156h2.2v2.6h-2.2zM467.7 156h2.2v2.6h-2.2zM336.1 158h2.2v2.6h-2.2zM349 158h2.2v2.6h-2.2zM352.2 158h2.2v2.6h-2.2zM358.6 158h2.2v2.6h-2.2zM366.6 158h2.2v2.6h-2.2zM381.1 158h2.2v2.6h-2.2zM393.9 158h2.2v2.6h-2.2zM411.5 158h3.8v2.6h-3.8zM418 158h2.2v2.6h-2.2zM435.6 158h2.2v2.6h-2.2zM462.9 158h2.2v2.6h-2.2zM466.1 158h2.2v2.6h-2.2zM470.9 158h2.2v2.6h-2.2zM332.9 160h2.2v2.6h-2.2zM347.4 160h2.2v2.6h-2.2zM352.2 160h2.2v2.6h-2.2zM376.2 160h2.2v2.6h-2.2zM392.3 160h2.2v2.6h-2.2zM419.6 160h2.2v2.6h-2.2zM432.4 160h5.4v2.6h-5.4zM445.2 160h2.2v2.6h-2.2zM320.1 162h2.2v2.6h-2.2zM339.4 162h2.2v2.6h-2.2zM352.2 162h2.2v2.6h-2.2zM368.2 162h2.2v2.6h-2.2zM376.2 162h3.8v2.6h-3.8zM393.9 162h2.2v2.6h-2.2zM397.1 162h2.2v2.6h-2.2zM411.5 162h3.8v2.6h-3.8zM429.2 162h2.2v2.6h-2.2zM434 162h2.2v2.6h-2.2zM450 162h2.2v2.6h-2.2zM365 164h2.2v2.6h-2.2zM368.2 164h2.2v2.6h-2.2zM374.6 164h2.2v2.6h-2.2zM418 164h2.2v2.6h-2.2zM432.4 164h2.2v2.6h-2.2zM451.6 164h3.8v2.6h-3.8zM467.7 164h3.8v2.6h-3.8zM334.5 165.9h2.2v2.6h-2.2zM349 165.9h2.2v2.6h-2.2zM365 165.9h2.2v2.6h-2.2zM377.9 165.9h2.2v2.6h-2.2zM393.9 165.9h2.2v2.6h-2.2zM430.8 165.9h2.2v2.6h-2.2zM435.6 165.9h2.2v2.6h-2.2zM443.6 165.9h2.2v2.6h-2.2zM467.7 165.9h2.2v2.6h-2.2zM321.7 167.9h2.2v2.6h-2.2zM334.5 167.9h2.2v2.6h-2.2zM349 167.9h2.2v2.6h-2.2zM360.2 167.9h2.2v2.6h-2.2zM392.3 167.9h2.2v2.6h-2.2zM406.7 167.9h2.2v2.6h-2.2zM418 167.9h2.2v2.6h-2.2zM434 167.9h3.8v2.6h-3.8zM454.9 167.9h2.2v2.6h-2.2zM469.3 167.9h2.2v2.6h-2.2zM321.7 169.9h2.2v2.6h-2.2zM344.2 169.9h2.2v2.6h-2.2zM374.6 169.9h3.8v2.6h-3.8zM392.3 169.9h2.2v2.6h-2.2zM418 169.9h2.2v2.6h-2.2zM437.2 169.9h2.2v2.6h-2.2zM461.3 169.9h3.8v2.6h-3.8zM466.1 169.9h2.2v2.6h-2.2zM358.6 171.9h2.2v2.6h-2.2zM366.6 171.9h2.2v2.6h-2.2zM379.5 171.9h2.2v2.6h-2.2zM454.9 171.9h2.2v2.6h-2.2zM461.3 171.9h2.2v2.6h-2.2zM466.1 171.9h2.2v2.6h-2.2zM326.5 173.9h2.2v2.6h-2.2zM334.5 173.9h2.2v2.6h-2.2zM344.2 173.9h3.8v2.6h-3.8zM349 173.9h2.2v2.6h-2.2zM352.2 173.9h2.2v2.6h-2.2zM382.7 173.9h2.2v2.6h-2.2zM397.1 173.9h2.2v2.6h-2.2zM413.1 173.9h2.2v2.6h-2.2zM445.2 173.9h2.2v2.6h-2.2zM464.5 173.9h2.2v2.6h-2.2zM470.9 173.9h2.2v2.6h-2.2zM318.5 175.9h2.2v2.6h-2.2zM326.5 175.9h3.8v2.6h-3.8zM365 175.9h5.4v2.6h-5.4zM392.3 175.9h2.2v2.6h-2.2zM429.2 175.9h2.2v2.6h-2.2zM443.6 175.9h2.2v2.6h-2.2zM459.7 175.9h2.2v2.6h-2.2zM344.2 177.9h2.2v2.6h-2.2zM360.2 177.9h2.2v2.6h-2.2zM366.6 177.9h2.2v2.6h-2.2zM377.9 177.9h5.4v2.6h-5.4zM384.3 177.9h2.2v2.6h-2.2zM398.7 177.9h2.2v2.6h-2.2zM418 177.9h2.2v2.6h-2.2zM434 177.9h3.8v2.6h-3.8zM445.2 177.9h2.2v2.6h-2.2zM318.5 179.9h2.2v2.6h-2.2zM358.6 179.9h2.2v2.6h-2.2zM365 179.9h3.8v2.6h-3.8zM377.9 179.9h2.2v2.6h-2.2zM398.7 179.9h2.2v2.6h-2.2zM411.5 179.9h2.2v2.6h-2.2zM419.6 179.9h2.2v2.6h-2.2zM432.4 179.9h2.2v2.6h-2.2zM437.2 179.9h2.2v2.6h-2.2zM445.2 179.9h2.2v2.6h-2.2zM454.9 179.9h2.2v2.6h-2.2zM321.7 181.9h2.2v2.6h-2.2zM326.5 181.9h2.2v2.6h-2.2zM332.9 181.9h2.2v2.6h-2.2zM337.8 181.9h2.2v2.6h-2.2zM345.8 181.9h2.2v2.6h-2.2zM350.6 181.9h3.8v2.6h-3.8zM365 181.9h2.2v2.6h-2.2zM368.2 181.9h2.2v2.6h-2.2zM381.1 181.9h2.2v2.6h-2.2zM385.9 181.9h2.2v2.6h-2.2zM392.3 181.9h2.2v2.6h-2.2zM429.2 181.9h2.2v2.6h-2.2zM443.6 181.9h2.2v2.6h-2.2zM318.5 183.9h2.2v2.6h-2.2zM337.8 183.9h2.2v2.6h-2.2zM365 183.9h2.2v2.6h-2.2zM379.5 183.9h3.8v2.6h-3.8zM429.2 183.9h2.2v2.6h-2.2zM435.6 183.9h2.2v2.6h-2.2zM438.8 183.9h2.2v2.6h-2.2zM443.6 183.9h2.2v2.6h-2.2zM450 183.9h3.8v2.6h-3.8zM464.5 183.9h2.2v2.6h-2.2zM469.3 183.9h2.2v2.6h-2.2zM345.8 185.9h2.2v2.6h-2.2zM360.2 185.9h2.2v2.6h-2.2zM368.2 185.9h2.2v2.6h-2.2zM379.5 185.9h3.8v2.6h-3.8zM392.3 185.9h2.2v2.6h-2.2zM397.1 185.9h2.2v2.6h-2.2zM432.4 185.9h2.2v2.6h-2.2zM437.2 185.9h2.2v2.6h-2.2zM450 185.9h2.2v2.6h-2.2zM459.7 185.9h2.2v2.6h-2.2zM464.5 185.9h2.2v2.6h-2.2zM469.3 185.9h2.2v2.6h-2.2zM326.5 187.9h2.2v2.6h-2.2zM344.2 187.9h2.2v2.6h-2.2zM349 187.9h2.2v2.6h-2.2zM360.2 187.9h2.2v2.6h-2.2zM382.7 187.9h2.2v2.6h-2.2zM392.3 187.9h2.2v2.6h-2.2zM406.7 187.9h2.2v2.6h-2.2zM411.5 187.9h2.2v2.6h-2.2zM419.6 187.9h2.2v2.6h-2.2zM430.8 187.9h3.8v2.6h-3.8zM443.6 187.9h2.2v2.6h-2.2zM450 187.9h2.2v2.6h-2.2zM321.7 189.9h2.2v2.6h-2.2zM332.9 189.9h2.2v2.6h-2.2zM336.1 189.9h3.8v2.6h-3.8zM349 189.9h2.2v2.6h-2.2zM358.6 189.9h2.2v2.6h-2.2zM377.9 189.9h3.8v2.6h-3.8zM382.7 189.9h5.4v2.6h-5.4zM419.6 189.9h2.2v2.6h-2.2zM435.6 189.9h5.4v2.6h-5.4zM462.9 189.9h3.8v2.6h-3.8zM326.5 191.9h2.2v2.6h-2.2zM345.8 191.9h2.2v2.6h-2.2zM350.6 191.9h3.8v2.6h-3.8zM361.8 191.9h2.2v2.6h-2.2zM366.6 191.9h2.2v2.6h-2.2zM376.2 191.9h2.2v2.6h-2.2zM392.3 191.9h2.2v2.6h-2.2zM411.5 191.9h2.2v2.6h-2.2zM430.8 191.9h2.2v2.6h-2.2zM445.2 191.9h2.2v2.6h-2.2zM453.2 191.9h2.2v2.6h-2.2zM326.5 193.9h2.2v2.6h-2.2zM332.9 193.9h3.8v2.6h-3.8zM350.6 193.9h2.2v2.6h-2.2zM366.6 193.9h2.2v2.6h-2.2zM382.7 193.9h2.2v2.6h-2.2zM413.1 193.9h2.2v2.6h-2.2zM416.4 193.9h2.2v2.6h-2.2zM421.2 193.9h2.2v2.6h-2.2zM429.2 193.9h2.2v2.6h-2.2zM437.2 193.9h2.2v2.6h-2.2zM453.2 193.9h2.2v2.6h-2.2zM332.9 195.9h2.2v2.6h-2.2zM339.4 195.9h2.2v2.6h-2.2zM350.6 195.9h2.2v2.6h-2.2zM382.7 195.9h2.2v2.6h-2.2zM385.9 195.9h2.2v2.6h-2.2zM392.3 195.9h2.2v2.6h-2.2zM411.5 195.9h2.2v2.6h-2.2zM416.4 195.9h2.2v2.6h-2.2zM435.6 195.9h2.2v2.6h-2.2zM450 195.9h2.2v2.6h-2.2zM453.2 195.9h2.2v2.6h-2.2zM469.3 195.9h3.8v2.6h-3.8zM320.1 197.9h2.2v2.6h-2.2zM328.1 197.9h2.2v2.6h-2.2zM332.9 197.9h2.2v2.6h-2.2zM344.2 197.9h3.8v2.6h-3.8zM350.6 197.9h2.2v2.6h-2.2zM360.2 197.9h3.8v2.6h-3.8zM377.9 197.9h3.8v2.6h-3.8zM398.7 197.9h2.2v2.6h-2.2zM411.5 197.9h2.2v2.6h-2.2zM453.2 197.9h2.2v2.6h-2.2zM459.7 197.9h2.2v2.6h-2.2zM318.5 199.9h3.8v2.6h-3.8zM347.4 199.9h2.2v2.6h-2.2zM350.6 199.9h3.8v2.6h-3.8zM392.3 199.9h2.2v2.6h-2.2zM397.1 199.9h2.2v2.6h-2.2zM432.4 199.9h2.2v2.6h-2.2zM435.6 199.9h2.2v2.6h-2.2zM445.2 199.9h2.2v2.6h-2.2zM450 199.9h3.8v2.6h-3.8zM459.7 199.9h2.2v2.6h-2.2zM464.5 199.9h2.2v2.6h-2.2zM328.1 201.9h2.2v2.6h-2.2zM334.5 201.9h2.2v2.6h-2.2zM368.2 201.9h2.2v2.6h-2.2zM397.1 201.9h2.2v2.6h-2.2zM432.4 201.9h2.2v2.6h-2.2zM466.1 201.9h2.2v2.6h-2.2zM321.7 203.9h2.2v2.6h-2.2zM326.5 203.9h3.8v2.6h-3.8zM334.5 203.9h2.2v2.6h-2.2zM349 203.9h2.2v2.6h-2.2zM358.6 203.9h3.8v2.6h-3.8zM366.6 203.9h3.8v2.6h-3.8zM413.1 203.9h2.2v2.6h-2.2zM419.6 203.9h2.2v2.6h-2.2zM430.8 203.9h2.2v2.6h-2.2zM443.6 203.9h2.2v2.6h-2.2zM453.2 203.9h2.2v2.6h-2.2zM462.9 203.9h2.2v2.6h-2.2zM318.5 205.9h2.2v2.6h-2.2zM328.1 205.9h2.2v2.6h-2.2zM350.6 205.9h2.2v2.6h-2.2zM385.9 205.9h2.2v2.6h-2.2zM419.6 205.9h2.2v2.6h-2.2zM430.8 205.9h2.2v2.6h-2.2zM435.6 205.9h3.8v2.6h-3.8zM464.5 205.9h3.8v2.6h-3.8zM318.5 207.8h2.2v2.6h-2.2zM336.1 207.8h2.2v2.6h-2.2zM344.2 207.8h2.2v2.6h-2.2zM358.6 207.8h3.8v2.6h-3.8zM374.6 207.8h2.2v2.6h-2.2zM418 207.8h2.2v2.6h-2.2zM430.8 207.8h2.2v2.6h-2.2zM464.5 207.8h2.2v2.6h-2.2zM318.5 209.8h2.2v2.6h-2.2zM332.9 209.8h2.2v2.6h-2.2zM344.2 209.8h3.8v2.6h-3.8zM360.2 209.8h2.2v2.6h-2.2zM379.5 209.8h2.2v2.6h-2.2zM413.1 209.8h2.2v2.6h-2.2zM416.4 209.8h2.2v2.6h-2.2zM438.8 209.8h2.2v2.6h-2.2zM443.6 209.8h2.2v2.6h-2.2zM462.9 209.8h2.2v2.6h-2.2zM466.1 209.8h3.8v2.6h-3.8zM318.5 211.8h2.2v2.6h-2.2zM328.1 211.8h2.2v2.6h-2.2zM339.4 211.8h2.2v2.6h-2.2zM344.2 211.8h2.2v2.6h-2.2zM347.4 211.8h2.2v2.6h-2.2zM360.2 211.8h2.2v2.6h-2.2zM368.2 211.8h2.2v2.6h-2.2zM374.6 211.8h2.2v2.6h-2.2zM430.8 211.8h3.8v2.6h-3.8zM437.2 211.8h2.2v2.6h-2.2zM454.9 211.8h2.2v2.6h-2.2zM462.9 211.8h2.2v2.6h-2.2zM469.3 211.8h2.2v2.6h-2.2zM332.9 213.8h2.2v2.6h-2.2zM337.8 213.8h2.2v2.6h-2.2zM349 213.8h3.8v2.6h-3.8zM358.6 213.8h2.2v2.6h-2.2zM374.6 213.8h2.2v2.6h-2.2zM381.1 213.8h2.2v2.6h-2.2zM398.7 213.8h2.2v2.6h-2.2zM406.7 213.8h2.2v2.6h-2.2zM416.4 213.8h2.2v2.6h-2.2zM429.2 213.8h2.2v2.6h-2.2zM443.6 213.8h2.2v2.6h-2.2zM461.3 213.8h7v2.6h-7zM470.9 213.8h2.2v2.6h-2.2zM320.1 215.8h2.2v2.6h-2.2zM326.5 215.8h2.2v2.6h-2.2zM334.5 215.8h2.2v2.6h-2.2zM358.6 215.8h3.8v2.6h-3.8zM368.2 215.8h2.2v2.6h-2.2zM374.6 215.8h2.2v2.6h-2.2zM398.7 215.8h2.2v2.6h-2.2zM421.2 215.8h2.2v2.6h-2.2zM430.8 215.8h2.2v2.6h-2.2zM435.6 215.8h3.8v2.6h-3.8zM451.6 215.8h5.4v2.6h-5.4zM318.5 217.8h2.2v2.6h-2.2zM332.9 217.8h2.2v2.6h-2.2zM339.4 217.8h2.2v2.6h-2.2zM345.8 217.8h2.2v2.6h-2.2zM349 217.8h2.2v2.6h-2.2zM376.2 217.8h2.2v2.6h-2.2zM381.1 217.8h2.2v2.6h-2.2zM430.8 217.8h2.2v2.6h-2.2zM435.6 217.8h3.8v2.6h-3.8zM445.2 217.8h2.2v2.6h-2.2zM450 217.8h2.2v2.6h-2.2zM453.2 217.8h2.2v2.6h-2.2zM469.3 217.8h2.2v2.6h-2.2zM320.1 219.8h2.2v2.6h-2.2zM328.1 219.8h2.2v2.6h-2.2zM358.6 219.8h2.2v2.6h-2.2zM361.8 219.8h2.2v2.6h-2.2zM374.6 219.8h2.2v2.6h-2.2zM377.9 219.8h2.2v2.6h-2.2zM381.1 219.8h2.2v2.6h-2.2zM384.3 219.8h2.2v2.6h-2.2zM387.5 219.8h2.2v2.6h-2.2zM400.3 219.8h2.2v2.6h-2.2zM406.7 219.8h3.8v2.6h-3.8zM434 219.8h2.2v2.6h-2.2zM446.8 219.8h2.2v2.6h-2.2zM450 219.8h3.8v2.6h-3.8zM466.1 219.8h2.2v2.6h-2.2zM321.7 221.8h2.2v2.6h-2.2zM328.1 221.8h2.2v2.6h-2.2zM334.5 221.8h2.2v2.6h-2.2zM344.2 221.8h2.2v2.6h-2.2zM365 221.8h2.2v2.6h-2.2zM369.8 221.8h2.2v2.6h-2.2zM389.1 221.8h2.2v2.6h-2.2zM411.5 221.8h2.2v2.6h-2.2zM414.8 221.8h2.2v2.6h-2.2zM434 221.8h2.2v2.6h-2.2zM440.4 221.8h2.2v2.6h-2.2zM467.7 221.8h5.4v2.6h-5.4zM318.5 223.8h2.2v2.6h-2.2zM328.1 223.8h2.2v2.6h-2.2zM337.8 223.8h2.2v2.6h-2.2zM353.8 223.8h2.2v2.6h-2.2zM368.2 223.8h2.2v2.6h-2.2zM374.6 223.8h3.8v2.6h-3.8zM379.5 223.8h2.2v2.6h-2.2zM384.3 223.8h2.2v2.6h-2.2zM392.3 223.8h2.2v2.6h-2.2zM395.5 223.8h2.2v2.6h-2.2zM408.3 223.8h2.2v2.6h-2.2zM411.5 223.8h2.2v2.6h-2.2zM419.6 223.8h2.2v2.6h-2.2zM437.2 223.8h2.2v2.6h-2.2zM451.6 223.8h2.2v2.6h-2.2zM461.3 223.8h2.2v2.6h-2.2zM466.1 223.8h2.2v2.6h-2.2zM470.9 223.8h2.2v2.6h-2.2zM321.7 225.8h3.8v2.6h-3.8zM328.1 225.8h2.2v2.6h-2.2zM336.1 225.8h2.2v2.6h-2.2zM345.8 225.8h2.2v2.6h-2.2zM353.8 225.8h2.2v2.6h-2.2zM358.6 225.8h2.2v2.6h-2.2zM363.4 225.8h2.2v2.6h-2.2zM374.6 225.8h2.2v2.6h-2.2zM377.9 225.8h2.2v2.6h-2.2zM390.7 225.8h2.2v2.6h-2.2zM401.9 225.8h2.2v2.6h-2.2zM409.9 225.8h2.2v2.6h-2.2zM418 225.8h2.2v2.6h-2.2zM438.8 225.8h2.2v2.6h-2.2zM443.6 225.8h2.2v2.6h-2.2zM448.4 225.8h2.2v2.6h-2.2zM451.6 225.8h2.2v2.6h-2.2zM458.1 225.8h2.2v2.6h-2.2zM462.9 225.8h2.2v2.6h-2.2zM467.7 225.8h2.2v2.6h-2.2zM339.4 227.8h2.2v2.6h-2.2zM363.4 227.8h2.2v2.6h-2.2zM374.6 227.8h2.2v2.6h-2.2zM387.5 227.8h2.2v2.6h-2.2zM403.5 227.8h2.2v2.6h-2.2zM421.2 227.8h2.2v2.6h-2.2zM437.2 227.8h2.2v2.6h-2.2zM467.7 227.8h2.2v2.6h-2.2zM321.7 229.8h2.2v2.6h-2.2zM328.1 229.8h2.2v2.6h-2.2zM336.1 229.8h2.2v2.6h-2.2zM339.4 229.8h2.2v2.6h-2.2zM358.6 229.8h2.2v2.6h-2.2zM371.4 229.8h2.2v2.6h-2.2zM377.9 229.8h2.2v2.6h-2.2zM395.5 229.8h2.2v2.6h-2.2zM406.7 229.8h2.2v2.6h-2.2zM414.8 229.8h2.2v2.6h-2.2zM424.4 229.8h2.2v2.6h-2.2zM430.8 229.8h2.2v2.6h-2.2zM450 229.8h3.8v2.6h-3.8zM459.7 229.8h2.2v2.6h-2.2zM466.1 229.8h2.2v2.6h-2.2zM318.5 231.8h2.2v2.6h-2.2zM321.7 231.8h2.2v2.6h-2.2zM332.9 231.8h2.2v2.6h-2.2zM337.8 231.8h2.2v2.6h-2.2zM374.6 231.8h3.8v2.6h-3.8zM381.1 231.8h2.2v2.6h-2.2zM387.5 231.8h2.2v2.6h-2.2zM398.7 231.8h3.8v2.6h-3.8zM411.5 231.8h2.2v2.6h-2.2zM429.2 231.8h2.2v2.6h-2.2zM437.2 231.8h2.2v2.6h-2.2zM440.4 231.8h2.2v2.6h-2.2zM448.4 231.8h2.2v2.6h-2.2zM454.9 231.8h2.2v2.6h-2.2zM459.7 231.8h2.2v2.6h-2.2zM321.7 233.8h2.2v2.6h-2.2zM328.1 233.8h2.2v2.6h-2.2zM349 233.8h2.2v2.6h-2.2zM368.2 233.8h2.2v2.6h-2.2zM371.4 233.8h2.2v2.6h-2.2zM381.1 233.8h2.2v2.6h-2.2zM384.3 233.8h2.2v2.6h-2.2zM397.1 233.8h2.2v2.6h-2.2zM401.9 233.8h2.2v2.6h-2.2zM422.8 233.8h2.2v2.6h-2.2zM440.4 233.8h2.2v2.6h-2.2zM448.4 233.8h3.8v2.6h-3.8zM454.9 233.8h2.2v2.6h-2.2zM318.5 235.8h2.2v2.6h-2.2zM342.6 235.8h2.2v2.6h-2.2zM345.8 235.8h3.8v2.6h-3.8zM353.8 235.8h3.8v2.6h-3.8zM369.8 235.8h2.2v2.6h-2.2zM376.2 235.8h2.2v2.6h-2.2zM392.3 235.8h2.2v2.6h-2.2zM406.7 235.8h3.8v2.6h-3.8zM416.4 235.8h2.2v2.6h-2.2zM422.8 235.8h2.2v2.6h-2.2zM430.8 235.8h2.2v2.6h-2.2zM435.6 235.8h2.2v2.6h-2.2zM458.1 235.8h2.2v2.6h-2.2zM326.5 237.8h5.4v2.6h-5.4zM349 237.8h2.2v2.6h-2.2zM353.8 237.8h2.2v2.6h-2.2zM369.8 237.8h3.8v2.6h-3.8zM379.5 237.8h2.2v2.6h-2.2zM413.1 237.8h2.2v2.6h-2.2zM421.2 237.8h2.2v2.6h-2.2zM434 237.8h2.2v2.6h-2.2zM442 237.8h2.2v2.6h-2.2zM459.7 237.8h2.2v2.6h-2.2zM466.1 237.8h2.2v2.6h-2.2zM320.1 239.8h2.2v2.6h-2.2zM329.7 239.8h2.2v2.6h-2.2zM376.2 239.8h2.2v2.6h-2.2zM381.1 239.8h2.2v2.6h-2.2zM384.3 239.8h2.2v2.6h-2.2zM387.5 239.8h3.8v2.6h-3.8zM395.5 239.8h2.2v2.6h-2.2zM406.7 239.8h3.8v2.6h-3.8zM424.4 239.8h2.2v2.6h-2.2zM434 239.8h2.2v2.6h-2.2zM445.2 239.8h2.2v2.6h-2.2zM469.3 239.8h2.2v2.6h-2.2zM366.6 241.8h2.2v2.6h-2.2zM381.1 241.8h2.2v2.6h-2.2zM392.3 241.8h2.2v2.6h-2.2zM406.7 241.8h2.2v2.6h-2.2zM414.8 241.8h2.2v2.6h-2.2zM437.2 241.8h2.2v2.6h-2.2zM440.4 241.8h3.8v2.6h-3.8zM337.8 243.8h2.2v2.6h-2.2zM353.8 243.8h2.2v2.6h-2.2zM376.2 243.8h2.2v2.6h-2.2zM403.5 243.8h2.2v2.6h-2.2zM416.4 243.8h3.8v2.6h-3.8zM426 243.8h2.2v2.6h-2.2zM459.7 243.8h2.2v2.6h-2.2zM331.3 245.8h2.2v2.6h-2.2zM341 245.8h2.2v2.6h-2.2zM345.8 245.8h2.2v2.6h-2.2zM371.4 245.8h2.2v2.6h-2.2zM389.1 245.8h2.2v2.6h-2.2zM395.5 245.8h2.2v2.6h-2.2zM401.9 245.8h2.2v2.6h-2.2zM414.8 245.8h2.2v2.6h-2.2zM424.4 245.8h2.2v2.6h-2.2zM448.4 245.8h2.2v2.6h-2.2zM331.3 247.8h2.2v2.6h-2.2zM347.4 247.8h2.2v2.6h-2.2zM360.2 247.8h2.2v2.6h-2.2zM371.4 247.8h2.2v2.6h-2.2zM389.1 247.8h2.2v2.6h-2.2zM403.5 247.8h2.2v2.6h-2.2zM421.2 247.8h2.2v2.6h-2.2zM450 247.8h2.2v2.6h-2.2zM456.5 247.8h2.2v2.6h-2.2zM345.8 249.7h2.2v2.6h-2.2zM350.6 249.7h2.2v2.6h-2.2zM365 249.7h2.2v2.6h-2.2zM374.6 249.7h2.2v2.6h-2.2zM385.9 249.7h2.2v2.6h-2.2zM403.5 249.7h2.2v2.6h-2.2zM406.7 249.7h3.8v2.6h-3.8zM411.5 249.7h2.2v2.6h-2.2zM418 249.7h2.2v2.6h-2.2zM456.5 249.7h2.2v2.6h-2.2zM321.7 251.7h2.2v2.6h-2.2zM352.2 251.7h3.8v2.6h-3.8zM358.6 251.7h2.2v2.6h-2.2zM374.6 251.7h3.8v2.6h-3.8zM385.9 251.7h2.2v2.6h-2.2zM389.1 251.7h2.2v2.6h-2.2zM462.9 251.7h2.2v2.6h-2.2zM353.8 253.7h2.2v2.6h-2.2zM376.2 253.7h2.2v2.6h-2.2zM382.7 253.7h2.2v2.6h-2.2zM389.1 253.7h2.2v2.6h-2.2zM398.7 253.7h2.2v2.6h-2.2zM416.4 253.7h2.2v2.6h-2.2zM422.8 253.7h2.2v2.6h-2.2zM454.9 253.7h3.8v2.6h-3.8zM329.7 255.7h2.2v2.6h-2.2zM342.6 255.7h2.2v2.6h-2.2zM347.4 255.7h2.2v2.6h-2.2zM358.6 255.7h2.2v2.6h-2.2zM361.8 255.7h2.2v2.6h-2.2zM401.9 255.7h2.2v2.6h-2.2zM411.5 255.7h2.2v2.6h-2.2zM446.8 255.7h2.2v2.6h-2.2zM331.3 257.7h2.2v2.6h-2.2zM365 257.7h2.2v2.6h-2.2zM398.7 257.7h3.8v2.6h-3.8zM411.5 257.7h2.2v2.6h-2.2zM416.4 257.7h2.2v2.6h-2.2zM421.2 257.7h2.2v2.6h-2.2zM424.4 257.7h2.2v2.6h-2.2zM429.2 257.7h2.2v2.6h-2.2zM434 257.7h2.2v2.6h-2.2zM437.2 257.7h5.4v2.6h-5.4zM448.4 257.7h2.2v2.6h-2.2zM451.6 257.7h3.8v2.6h-3.8zM459.7 257.7h2.2v2.6h-2.2zM329.7 259.7h2.2v2.6h-2.2zM440.4 259.7h2.2v2.6h-2.2zM458.1 259.7h2.2v2.6h-2.2z"/><path fill="#00d4ff" d="M318.5 144h2.2v2.6h-2.2zM345.8 144h3.8v2.6h-3.8zM360.2 144h2.2v2.6h-2.2zM466.1 144h2.2v2.6h-2.2zM326.5 146h2.2v2.6h-2.2zM466.1 146h3.8v2.6h-3.8zM470.9 146h2.2v2.6h-2.2zM321.7 148h2.2v2.6h-2.2zM336.1 148h2.2v2.6h-2.2zM344.2 148h3.8v2.6h-3.8zM466.1 148h2.2v2.6h-2.2zM332.9 150h2.2v2.6h-2.2zM337.8 150h2.2v2.6h-2.2zM349 150h2.2v2.6h-2.2zM419.6 150h2.2v2.6h-2.2zM467.7 150h2.2v2.6h-2.2zM320.1 152h2.2v2.6h-2.2zM336.1 152h2.2v2.6h-2.2zM462.9 152h2.2v2.6h-2.2zM332.9 154h2.2v2.6h-2.2zM336.1 154h2.2v2.6h-2.2zM385.9 154h2.2v2.6h-2.2zM321.7 156h2.2v2.6h-2.2zM381.1 156h2.2v2.6h-2.2zM445.2 156h2.2v2.6h-2.2zM461.3 156h2.2v2.6h-2.2zM334.5 158h2.2v2.6h-2.2zM345.8 158h2.2v2.6h-2.2zM382.7 158h2.2v2.6h-2.2zM464.5 158h2.2v2.6h-2.2zM467.7 158h2.2v2.6h-2.2zM326.5 160h3.8v2.6h-3.8zM350.6 160h2.2v2.6h-2.2zM462.9 160h2.2v2.6h-2.2zM467.7 160h2.2v2.6h-2.2zM374.6 162h2.2v2.6h-2.2zM379.5 162h3.8v2.6h-3.8zM398.7 162h2.2v2.6h-2.2zM454.9 162h2.2v2.6h-2.2zM318.5 164h2.2v2.6h-2.2zM337.8 164h2.2v2.6h-2.2zM360.2 164h2.2v2.6h-2.2zM366.6 164h2.2v2.6h-2.2zM376.2 164h3.8v2.6h-3.8zM382.7 164h5.4v2.6h-5.4zM430.8 164h2.2v2.6h-2.2zM459.7 164h2.2v2.6h-2.2zM321.7 165.9h2.2v2.6h-2.2zM332.9 165.9h2.2v2.6h-2.2zM368.2 165.9h2.2v2.6h-2.2zM379.5 165.9h2.2v2.6h-2.2zM454.9 165.9h2.2v2.6h-2.2zM470.9 165.9h2.2v2.6h-2.2zM374.6 167.9h2.2v2.6h-2.2zM384.3 167.9h3.8v2.6h-3.8zM393.9 167.9h2.2v2.6h-2.2zM398.7 167.9h2.2v2.6h-2.2zM464.5 167.9h3.8v2.6h-3.8zM358.6 169.9h2.2v2.6h-2.2zM432.4 169.9h2.2v2.6h-2.2zM467.7 169.9h2.2v2.6h-2.2zM384.3 171.9h2.2v2.6h-2.2zM392.3 171.9h2.2v2.6h-2.2zM429.2 171.9h3.8v2.6h-3.8zM435.6 171.9h2.2v2.6h-2.2zM445.2 171.9h2.2v2.6h-2.2zM358.6 173.9h3.8v2.6h-3.8zM365 173.9h3.8v2.6h-3.8zM392.3 173.9h3.8v2.6h-3.8zM437.2 173.9h2.2v2.6h-2.2zM462.9 173.9h2.2v2.6h-2.2zM320.1 175.9h2.2v2.6h-2.2zM361.8 175.9h2.2v2.6h-2.2zM414.8 175.9h2.2v2.6h-2.2zM419.6 175.9h2.2v2.6h-2.2zM467.7 175.9h3.8v2.6h-3.8zM397.1 177.9h2.2v2.6h-2.2zM413.1 177.9h2.2v2.6h-2.2zM419.6 177.9h2.2v2.6h-2.2zM467.7 177.9h2.2v2.6h-2.2zM414.8 179.9h2.2v2.6h-2.2zM418 179.9h2.2v2.6h-2.2zM434 179.9h2.2v2.6h-2.2zM438.8 179.9h2.2v2.6h-2.2zM443.6 179.9h2.2v2.6h-2.2zM382.7 181.9h2.2v2.6h-2.2zM397.1 181.9h3.8v2.6h-3.8zM416.4 181.9h5.4v2.6h-5.4zM434 181.9h2.2v2.6h-2.2zM453.2 181.9h2.2v2.6h-2.2zM461.3 181.9h3.8v2.6h-3.8zM467.7 181.9h3.8v2.6h-3.8zM328.1 183.9h2.2v2.6h-2.2zM334.5 183.9h2.2v2.6h-2.2zM366.6 183.9h2.2v2.6h-2.2zM392.3 183.9h3.8v2.6h-3.8zM397.1 183.9h2.2v2.6h-2.2zM462.9 183.9h2.2v2.6h-2.2zM470.9 183.9h2.2v2.6h-2.2zM318.5 185.9h2.2v2.6h-2.2zM332.9 185.9h2.2v2.6h-2.2zM361.8 185.9h2.2v2.6h-2.2zM413.1 185.9h2.2v2.6h-2.2zM416.4 185.9h2.2v2.6h-2.2zM434 185.9h2.2v2.6h-2.2zM443.6 185.9h2.2v2.6h-2.2zM454.9 185.9h2.2v2.6h-2.2zM332.9 187.9h2.2v2.6h-2.2zM339.4 187.9h2.2v2.6h-2.2zM352.2 187.9h2.2v2.6h-2.2zM418 187.9h2.2v2.6h-2.2zM421.2 187.9h2.2v2.6h-2.2zM453.2 187.9h2.2v2.6h-2.2zM469.3 187.9h2.2v2.6h-2.2zM398.7 189.9h2.2v2.6h-2.2zM451.6 189.9h2.2v2.6h-2.2zM466.1 189.9h2.2v2.6h-2.2zM470.9 189.9h2.2v2.6h-2.2zM318.5 191.9h2.2v2.6h-2.2zM321.7 191.9h2.2v2.6h-2.2zM328.1 191.9h2.2v2.6h-2.2zM349 191.9h2.2v2.6h-2.2zM360.2 191.9h2.2v2.6h-2.2zM365 191.9h2.2v2.6h-2.2zM381.1 191.9h3.8v2.6h-3.8zM419.6 191.9h2.2v2.6h-2.2zM429.2 191.9h2.2v2.6h-2.2zM432.4 191.9h5.4v2.6h-5.4zM443.6 191.9h2.2v2.6h-2.2zM459.7 191.9h2.2v2.6h-2.2zM318.5 193.9h2.2v2.6h-2.2zM336.1 193.9h2.2v2.6h-2.2zM339.4 193.9h2.2v2.6h-2.2zM344.2 193.9h2.2v2.6h-2.2zM352.2 193.9h2.2v2.6h-2.2zM406.7 193.9h2.2v2.6h-2.2zM414.8 193.9h2.2v2.6h-2.2zM418 193.9h2.2v2.6h-2.2zM430.8 193.9h2.2v2.6h-2.2zM466.1 193.9h2.2v2.6h-2.2zM469.3 193.9h2.2v2.6h-2.2zM326.5 195.9h2.2v2.6h-2.2zM337.8 195.9h2.2v2.6h-2.2zM358.6 195.9h2.2v2.6h-2.2zM361.8 195.9h2.2v2.6h-2.2zM379.5 195.9h2.2v2.6h-2.2zM397.1 195.9h2.2v2.6h-2.2zM430.8 195.9h2.2v2.6h-2.2zM459.7 195.9h2.2v2.6h-2.2zM466.1 195.9h2.2v2.6h-2.2zM321.7 197.9h2.2v2.6h-2.2zM358.6 197.9h2.2v2.6h-2.2zM414.8 197.9h3.8v2.6h-3.8zM451.6 197.9h2.2v2.6h-2.2zM462.9 197.9h2.2v2.6h-2.2zM466.1 197.9h2.2v2.6h-2.2zM337.8 199.9h2.2v2.6h-2.2zM345.8 199.9h2.2v2.6h-2.2zM349 199.9h2.2v2.6h-2.2zM358.6 199.9h2.2v2.6h-2.2zM361.8 199.9h2.2v2.6h-2.2zM414.8 199.9h2.2v2.6h-2.2zM437.2 199.9h2.2v2.6h-2.2zM352.2 201.9h2.2v2.6h-2.2zM366.6 201.9h2.2v2.6h-2.2zM381.1 201.9h7v2.6h-7zM392.3 201.9h2.2v2.6h-2.2zM406.7 201.9h2.2v2.6h-2.2zM413.1 201.9h3.8v2.6h-3.8zM430.8 201.9h2.2v2.6h-2.2zM435.6 201.9h2.2v2.6h-2.2zM461.3 201.9h2.2v2.6h-2.2zM361.8 203.9h2.2v2.6h-2.2zM374.6 203.9h2.2v2.6h-2.2zM379.5 203.9h3.8v2.6h-3.8zM393.9 203.9h2.2v2.6h-2.2zM397.1 203.9h3.8v2.6h-3.8zM406.7 203.9h2.2v2.6h-2.2zM414.8 203.9h2.2v2.6h-2.2zM421.2 203.9h2.2v2.6h-2.2zM437.2 203.9h2.2v2.6h-2.2zM326.5 205.9h2.2v2.6h-2.2zM337.8 205.9h2.2v2.6h-2.2zM347.4 205.9h2.2v2.6h-2.2zM376.2 205.9h2.2v2.6h-2.2zM382.7 205.9h3.8v2.6h-3.8zM398.7 205.9h2.2v2.6h-2.2zM406.7 205.9h2.2v2.6h-2.2zM411.5 205.9h2.2v2.6h-2.2zM429.2 205.9h2.2v2.6h-2.2zM432.4 205.9h2.2v2.6h-2.2zM438.8 205.9h2.2v2.6h-2.2zM453.2 205.9h3.8v2.6h-3.8zM467.7 205.9h2.2v2.6h-2.2zM352.2 207.8h2.2v2.6h-2.2zM361.8 207.8h2.2v2.6h-2.2zM365 207.8h2.2v2.6h-2.2zM368.2 207.8h2.2v2.6h-2.2zM393.9 207.8h2.2v2.6h-2.2zM435.6 207.8h2.2v2.6h-2.2zM438.8 207.8h2.2v2.6h-2.2zM450 207.8h2.2v2.6h-2.2zM453.2 207.8h2.2v2.6h-2.2zM459.7 207.8h2.2v2.6h-2.2zM467.7 207.8h2.2v2.6h-2.2zM320.1 209.8h3.8v2.6h-3.8zM336.1 209.8h3.8v2.6h-3.8zM349 209.8h2.2v2.6h-2.2zM376.2 209.8h3.8v2.6h-3.8zM398.7 209.8h2.2v2.6h-2.2zM406.7 209.8h2.2v2.6h-2.2zM429.2 209.8h2.2v2.6h-2.2zM435.6 209.8h2.2v2.6h-2.2zM445.2 209.8h2.2v2.6h-2.2zM454.9 209.8h2.2v2.6h-2.2zM459.7 209.8h3.8v2.6h-3.8zM321.7 211.8h2.2v2.6h-2.2zM334.5 211.8h2.2v2.6h-2.2zM345.8 211.8h2.2v2.6h-2.2zM350.6 211.8h2.2v2.6h-2.2zM361.8 211.8h2.2v2.6h-2.2zM392.3 211.8h2.2v2.6h-2.2zM411.5 211.8h2.2v2.6h-2.2zM416.4 211.8h2.2v2.6h-2.2zM419.6 211.8h2.2v2.6h-2.2zM450 211.8h2.2v2.6h-2.2zM459.7 211.8h2.2v2.6h-2.2zM466.1 211.8h3.8v2.6h-3.8zM318.5 213.8h2.2v2.6h-2.2zM339.4 213.8h2.2v2.6h-2.2zM368.2 213.8h2.2v2.6h-2.2zM385.9 213.8h2.2v2.6h-2.2zM411.5 213.8h2.2v2.6h-2.2zM419.6 213.8h2.2v2.6h-2.2zM379.5 215.8h2.2v2.6h-2.2zM384.3 215.8h2.2v2.6h-2.2zM413.1 215.8h2.2v2.6h-2.2zM459.7 215.8h2.2v2.6h-2.2zM462.9 215.8h3.8v2.6h-3.8zM467.7 215.8h3.8v2.6h-3.8zM350.6 217.8h2.2v2.6h-2.2zM361.8 217.8h2.2v2.6h-2.2zM366.6 217.8h3.8v2.6h-3.8zM398.7 217.8h2.2v2.6h-2.2zM438.8 217.8h2.2v2.6h-2.2zM464.5 217.8h3.8v2.6h-3.8zM326.5 219.8h2.2v2.6h-2.2zM332.9 219.8h3.8v2.6h-3.8zM347.4 219.8h2.2v2.6h-2.2zM350.6 219.8h2.2v2.6h-2.2zM365 219.8h2.2v2.6h-2.2zM418 219.8h3.8v2.6h-3.8zM432.4 219.8h2.2v2.6h-2.2zM435.6 219.8h2.2v2.6h-2.2zM443.6 219.8h2.2v2.6h-2.2zM469.3 219.8h3.8v2.6h-3.8zM326.5 221.8h2.2v2.6h-2.2zM379.5 221.8h2.2v2.6h-2.2zM385.9 221.8h2.2v2.6h-2.2zM392.3 221.8h2.2v2.6h-2.2zM397.1 221.8h2.2v2.6h-2.2zM406.7 221.8h2.2v2.6h-2.2zM416.4 221.8h2.2v2.6h-2.2zM435.6 221.8h2.2v2.6h-2.2zM321.7 223.8h2.2v2.6h-2.2zM336.1 223.8h2.2v2.6h-2.2zM339.4 223.8h2.2v2.6h-2.2zM347.4 223.8h2.2v2.6h-2.2zM358.6 223.8h3.8v2.6h-3.8zM377.9 223.8h2.2v2.6h-2.2zM381.1 223.8h2.2v2.6h-2.2zM393.9 223.8h2.2v2.6h-2.2zM413.1 223.8h2.2v2.6h-2.2zM421.2 223.8h2.2v2.6h-2.2zM438.8 223.8h2.2v2.6h-2.2zM454.9 223.8h2.2v2.6h-2.2zM464.5 223.8h2.2v2.6h-2.2zM469.3 223.8h2.2v2.6h-2.2zM332.9 225.8h2.2v2.6h-2.2zM337.8 225.8h2.2v2.6h-2.2zM350.6 225.8h2.2v2.6h-2.2zM361.8 225.8h2.2v2.6h-2.2zM366.6 225.8h2.2v2.6h-2.2zM376.2 225.8h2.2v2.6h-2.2zM381.1 225.8h2.2v2.6h-2.2zM397.1 225.8h3.8v2.6h-3.8zM414.8 225.8h3.8v2.6h-3.8zM421.2 225.8h2.2v2.6h-2.2zM450 225.8h2.2v2.6h-2.2zM469.3 225.8h2.2v2.6h-2.2zM318.5 227.8h3.8v2.6h-3.8zM332.9 227.8h2.2v2.6h-2.2zM350.6 227.8h2.2v2.6h-2.2zM358.6 227.8h2.2v2.6h-2.2zM366.6 227.8h2.2v2.6h-2.2zM382.7 227.8h3.8v2.6h-3.8zM414.8 227.8h2.2v2.6h-2.2zM434 227.8h2.2v2.6h-2.2zM443.6 227.8h2.2v2.6h-2.2zM461.3 227.8h2.2v2.6h-2.2zM464.5 227.8h2.2v2.6h-2.2zM469.3 227.8h2.2v2.6h-2.2zM318.5 229.8h3.8v2.6h-3.8zM326.5 229.8h2.2v2.6h-2.2zM334.5 229.8h2.2v2.6h-2.2zM352.2 229.8h2.2v2.6h-2.2zM361.8 229.8h2.2v2.6h-2.2zM376.2 229.8h2.2v2.6h-2.2zM384.3 229.8h2.2v2.6h-2.2zM411.5 229.8h2.2v2.6h-2.2zM443.6 229.8h2.2v2.6h-2.2zM461.3 229.8h2.2v2.6h-2.2zM469.3 229.8h2.2v2.6h-2.2zM320.1 231.8h2.2v2.6h-2.2zM336.1 231.8h2.2v2.6h-2.2zM345.8 231.8h2.2v2.6h-2.2zM397.1 231.8h2.2v2.6h-2.2zM414.8 231.8h2.2v2.6h-2.2zM418 231.8h2.2v2.6h-2.2zM421.2 231.8h2.2v2.6h-2.2zM430.8 231.8h2.2v2.6h-2.2zM434 231.8h3.8v2.6h-3.8zM438.8 231.8h2.2v2.6h-2.2zM469.3 231.8h2.2v2.6h-2.2zM318.5 233.8h2.2v2.6h-2.2zM334.5 233.8h2.2v2.6h-2.2zM344.2 233.8h2.2v2.6h-2.2zM374.6 233.8h2.2v2.6h-2.2zM382.7 233.8h2.2v2.6h-2.2zM393.9 233.8h2.2v2.6h-2.2zM414.8 233.8h3.8v2.6h-3.8zM435.6 233.8h2.2v2.6h-2.2zM453.2 233.8h2.2v2.6h-2.2zM461.3 233.8h2.2v2.6h-2.2zM361.8 235.8h2.2v2.6h-2.2zM365 235.8h2.2v2.6h-2.2zM368.2 235.8h2.2v2.6h-2.2zM374.6 235.8h2.2v2.6h-2.2zM377.9 235.8h2.2v2.6h-2.2zM381.1 235.8h2.2v2.6h-2.2zM384.3 235.8h2.2v2.6h-2.2zM398.7 235.8h2.2v2.6h-2.2zM429.2 235.8h2.2v2.6h-2.2zM432.4 235.8h3.8v2.6h-3.8zM466.1 235.8h2.2v2.6h-2.2zM337.8 237.8h3.8v2.6h-3.8zM345.8 237.8h2.2v2.6h-2.2zM366.6 237.8h2.2v2.6h-2.2zM374.6 237.8h2.2v2.6h-2.2zM419.6 237.8h2.2v2.6h-2.2zM429.2 237.8h2.2v2.6h-2.2zM432.4 237.8h2.2v2.6h-2.2zM435.6 237.8h2.2v2.6h-2.2zM438.8 237.8h2.2v2.6h-2.2zM450 237.8h2.2v2.6h-2.2zM469.3 237.8h2.2v2.6h-2.2zM321.7 239.8h2.2v2.6h-2.2zM332.9 239.8h2.2v2.6h-2.2zM345.8 239.8h2.2v2.6h-2.2zM365 239.8h3.8v2.6h-3.8zM377.9 239.8h2.2v2.6h-2.2zM382.7 239.8h2.2v2.6h-2.2zM385.9 239.8h2.2v2.6h-2.2zM413.1 239.8h2.2v2.6h-2.2zM416.4 239.8h2.2v2.6h-2.2zM419.6 239.8h3.8v2.6h-3.8zM430.8 239.8h2.2v2.6h-2.2zM437.2 239.8h2.2v2.6h-2.2zM443.6 239.8h2.2v2.6h-2.2zM450 239.8h2.2v2.6h-2.2zM454.9 239.8h2.2v2.6h-2.2zM466.1 239.8h2.2v2.6h-2.2zM320.1 241.8h2.2v2.6h-2.2zM332.9 241.8h2.2v2.6h-2.2zM347.4 241.8h3.8v2.6h-3.8zM358.6 241.8h2.2v2.6h-2.2zM365 241.8h2.2v2.6h-2.2zM376.2 241.8h5.4v2.6h-5.4zM393.9 241.8h2.2v2.6h-2.2zM398.7 241.8h2.2v2.6h-2.2zM418 241.8h2.2v2.6h-2.2zM453.2 241.8h2.2v2.6h-2.2zM461.3 241.8h2.2v2.6h-2.2zM469.3 241.8h2.2v2.6h-2.2zM326.5 243.8h2.2v2.6h-2.2zM332.9 243.8h2.2v2.6h-2.2zM336.1 243.8h2.2v2.6h-2.2zM350.6 243.8h2.2v2.6h-2.2zM358.6 243.8h3.8v2.6h-3.8zM366.6 243.8h3.8v2.6h-3.8zM374.6 243.8h2.2v2.6h-2.2zM406.7 243.8h2.2v2.6h-2.2zM429.2 243.8h2.2v2.6h-2.2zM435.6 243.8h2.2v2.6h-2.2zM450 243.8h3.8v2.6h-3.8zM470.9 243.8h2.2v2.6h-2.2zM318.5 245.8h2.2v2.6h-2.2zM328.1 245.8h2.2v2.6h-2.2zM337.8 245.8h3.8v2.6h-3.8zM344.2 245.8h2.2v2.6h-2.2zM361.8 245.8h2.2v2.6h-2.2zM365 245.8h2.2v2.6h-2.2zM374.6 245.8h2.2v2.6h-2.2zM377.9 245.8h2.2v2.6h-2.2zM381.1 245.8h2.2v2.6h-2.2zM398.7 245.8h2.2v2.6h-2.2zM432.4 245.8h3.8v2.6h-3.8zM461.3 245.8h2.2v2.6h-2.2zM332.9 247.8h2.2v2.6h-2.2zM345.8 247.8h2.2v2.6h-2.2zM376.2 247.8h2.2v2.6h-2.2zM385.9 247.8h2.2v2.6h-2.2zM416.4 247.8h2.2v2.6h-2.2zM419.6 247.8h2.2v2.6h-2.2zM434 247.8h2.2v2.6h-2.2zM461.3 247.8h2.2v2.6h-2.2zM464.5 247.8h2.2v2.6h-2.2zM318.5 249.7h2.2v2.6h-2.2zM321.7 249.7h2.2v2.6h-2.2zM326.5 249.7h2.2v2.6h-2.2zM339.4 249.7h2.2v2.6h-2.2zM360.2 249.7h3.8v2.6h-3.8zM368.2 249.7h2.2v2.6h-2.2zM384.3 249.7h2.2v2.6h-2.2zM393.9 249.7h2.2v2.6h-2.2zM398.7 249.7h2.2v2.6h-2.2zM416.4 249.7h2.2v2.6h-2.2zM437.2 249.7h2.2v2.6h-2.2zM443.6 249.7h2.2v2.6h-2.2zM451.6 249.7h2.2v2.6h-2.2zM464.5 249.7h3.8v2.6h-3.8zM349 251.7h2.2v2.6h-2.2zM418 251.7h2.2v2.6h-2.2zM429.2 251.7h2.2v2.6h-2.2zM445.2 251.7h2.2v2.6h-2.2zM344.2 253.7h2.2v2.6h-2.2zM347.4 253.7h2.2v2.6h-2.2zM365 253.7h3.8v2.6h-3.8zM377.9 253.7h2.2v2.6h-2.2zM381.1 253.7h2.2v2.6h-2.2zM397.1 253.7h2.2v2.6h-2.2zM414.8 253.7h2.2v2.6h-2.2zM438.8 253.7h2.2v2.6h-2.2zM459.7 253.7h2.2v2.6h-2.2zM462.9 253.7h2.2v2.6h-2.2zM318.5 255.7h2.2v2.6h-2.2zM321.7 255.7h2.2v2.6h-2.2zM326.5 255.7h3.8v2.6h-3.8zM334.5 255.7h5.4v2.6h-5.4zM381.1 255.7h2.2v2.6h-2.2zM419.6 255.7h2.2v2.6h-2.2zM438.8 255.7h2.2v2.6h-2.2zM461.3 255.7h2.2v2.6h-2.2zM469.3 255.7h2.2v2.6h-2.2zM318.5 257.7h2.2v2.6h-2.2zM326.5 257.7h3.8v2.6h-3.8zM334.5 257.7h2.2v2.6h-2.2zM345.8 257.7h2.2v2.6h-2.2zM361.8 257.7h2.2v2.6h-2.2zM366.6 257.7h2.2v2.6h-2.2zM392.3 257.7h2.2v2.6h-2.2zM397.1 257.7h2.2v2.6h-2.2zM419.6 257.7h2.2v2.6h-2.2zM454.9 257.7h2.2v2.6h-2.2zM461.3 257.7h2.2v2.6h-2.2zM349 259.7h2.2v2.6h-2.2zM376.2 259.7h2.2v2.6h-2.2zM392.3 259.7h2.2v2.6h-2.2zM416.4 259.7h2.2v2.6h-2.2zM432.4 259.7h2.2v2.6h-2.2zM443.6 259.7h3.8v2.6h-3.8zM357 267.7h2.2v2.6h-2.2zM445.2 267.7h2.2v2.6h-2.2zM451.6 267.7h2.2v2.6h-2.2z"/><path fill="#1affe5" d="M320.1 165.9h2.2v2.6h-2.2zM358.6 165.9h2.2v2.6h-2.2zM366.6 165.9h2.2v2.6h-2.2zM374.6 165.9h3.8v2.6h-3.8zM385.9 165.9h2.2v2.6h-2.2zM361.8 167.9h2.2v2.6h-2.2zM365 167.9h3.8v2.6h-3.8zM377.9 167.9h2.2v2.6h-2.2zM361.8 169.9h2.2v2.6h-2.2zM366.6 169.9h2.2v2.6h-2.2zM382.7 169.9h2.2v2.6h-2.2zM318.5 171.9h2.2v2.6h-2.2zM326.5 171.9h3.8v2.6h-3.8zM332.9 171.9h2.2v2.6h-2.2zM382.7 171.9h2.2v2.6h-2.2zM470.9 171.9h2.2v2.6h-2.2zM318.5 173.9h2.2v2.6h-2.2zM321.7 173.9h2.2v2.6h-2.2zM332.9 173.9h2.2v2.6h-2.2zM377.9 173.9h2.2v2.6h-2.2zM432.4 173.9h2.2v2.6h-2.2zM377.9 175.9h2.2v2.6h-2.2zM381.1 175.9h2.2v2.6h-2.2zM321.7 177.9h2.2v2.6h-2.2zM365 177.9h2.2v2.6h-2.2zM385.9 177.9h2.2v2.6h-2.2zM392.3 177.9h2.2v2.6h-2.2zM382.7 179.9h2.2v2.6h-2.2zM416.4 183.9h2.2v2.6h-2.2zM445.2 183.9h2.2v2.6h-2.2zM366.6 185.9h2.2v2.6h-2.2zM414.8 185.9h2.2v2.6h-2.2zM419.6 185.9h2.2v2.6h-2.2zM438.8 185.9h2.2v2.6h-2.2zM384.3 187.9h2.2v2.6h-2.2zM397.1 187.9h2.2v2.6h-2.2zM416.4 187.9h2.2v2.6h-2.2zM320.1 189.9h2.2v2.6h-2.2zM326.5 189.9h2.2v2.6h-2.2zM360.2 189.9h2.2v2.6h-2.2zM392.3 189.9h2.2v2.6h-2.2zM397.1 189.9h2.2v2.6h-2.2zM416.4 189.9h2.2v2.6h-2.2zM320.1 191.9h2.2v2.6h-2.2zM347.4 191.9h2.2v2.6h-2.2zM358.6 191.9h2.2v2.6h-2.2zM379.5 191.9h2.2v2.6h-2.2zM397.1 191.9h2.2v2.6h-2.2zM413.1 191.9h2.2v2.6h-2.2zM320.1 193.9h2.2v2.6h-2.2zM328.1 193.9h2.2v2.6h-2.2zM337.8 193.9h2.2v2.6h-2.2zM384.3 193.9h2.2v2.6h-2.2zM392.3 193.9h2.2v2.6h-2.2zM411.5 193.9h2.2v2.6h-2.2zM318.5 195.9h2.2v2.6h-2.2zM345.8 195.9h2.2v2.6h-2.2zM352.2 195.9h2.2v2.6h-2.2zM377.9 195.9h2.2v2.6h-2.2zM381.1 195.9h2.2v2.6h-2.2zM398.7 195.9h2.2v2.6h-2.2zM451.6 195.9h2.2v2.6h-2.2zM454.9 195.9h2.2v2.6h-2.2zM461.3 195.9h2.2v2.6h-2.2zM334.5 197.9h2.2v2.6h-2.2zM337.8 197.9h2.2v2.6h-2.2zM374.6 197.9h2.2v2.6h-2.2zM382.7 197.9h3.8v2.6h-3.8zM392.3 197.9h2.2v2.6h-2.2zM419.6 197.9h3.8v2.6h-3.8zM445.2 197.9h2.2v2.6h-2.2zM454.9 197.9h2.2v2.6h-2.2zM464.5 197.9h2.2v2.6h-2.2zM470.9 197.9h2.2v2.6h-2.2zM376.2 199.9h2.2v2.6h-2.2zM379.5 199.9h5.4v2.6h-5.4zM385.9 199.9h2.2v2.6h-2.2zM393.9 199.9h2.2v2.6h-2.2zM406.7 199.9h2.2v2.6h-2.2zM418 199.9h3.8v2.6h-3.8zM443.6 199.9h2.2v2.6h-2.2zM454.9 199.9h2.2v2.6h-2.2zM462.9 199.9h2.2v2.6h-2.2zM466.1 199.9h2.2v2.6h-2.2zM470.9 199.9h2.2v2.6h-2.2zM350.6 201.9h2.2v2.6h-2.2zM393.9 201.9h2.2v2.6h-2.2zM451.6 201.9h2.2v2.6h-2.2zM454.9 201.9h2.2v2.6h-2.2zM462.9 201.9h2.2v2.6h-2.2zM469.3 201.9h3.8v2.6h-3.8zM347.4 203.9h2.2v2.6h-2.2zM352.2 203.9h2.2v2.6h-2.2zM382.7 203.9h2.2v2.6h-2.2zM385.9 203.9h2.2v2.6h-2.2zM418 203.9h2.2v2.6h-2.2zM454.9 203.9h2.2v2.6h-2.2zM461.3 203.9h2.2v2.6h-2.2zM464.5 203.9h3.8v2.6h-3.8zM469.3 203.9h3.8v2.6h-3.8zM365 205.9h2.2v2.6h-2.2zM374.6 205.9h2.2v2.6h-2.2zM379.5 205.9h2.2v2.6h-2.2zM450 205.9h2.2v2.6h-2.2zM462.9 205.9h2.2v2.6h-2.2zM321.7 207.8h2.2v2.6h-2.2zM326.5 207.8h3.8v2.6h-3.8zM366.6 207.8h2.2v2.6h-2.2zM376.2 207.8h3.8v2.6h-3.8zM398.7 207.8h2.2v2.6h-2.2zM413.1 207.8h3.8v2.6h-3.8zM451.6 207.8h2.2v2.6h-2.2zM469.3 207.8h3.8v2.6h-3.8zM326.5 209.8h2.2v2.6h-2.2zM334.5 209.8h2.2v2.6h-2.2zM350.6 209.8h2.2v2.6h-2.2zM381.1 209.8h2.2v2.6h-2.2zM411.5 209.8h2.2v2.6h-2.2zM418 209.8h5.4v2.6h-5.4zM453.2 209.8h2.2v2.6h-2.2zM464.5 209.8h2.2v2.6h-2.2zM320.1 211.8h2.2v2.6h-2.2zM326.5 211.8h2.2v2.6h-2.2zM336.1 211.8h2.2v2.6h-2.2zM366.6 211.8h2.2v2.6h-2.2zM376.2 211.8h3.8v2.6h-3.8zM381.1 211.8h7v2.6h-7zM418 211.8h2.2v2.6h-2.2zM421.2 211.8h2.2v2.6h-2.2zM429.2 211.8h2.2v2.6h-2.2zM434 211.8h2.2v2.6h-2.2zM451.6 211.8h2.2v2.6h-2.2zM464.5 211.8h2.2v2.6h-2.2zM320.1 213.8h2.2v2.6h-2.2zM336.1 213.8h2.2v2.6h-2.2zM347.4 213.8h2.2v2.6h-2.2zM352.2 213.8h2.2v2.6h-2.2zM366.6 213.8h2.2v2.6h-2.2zM382.7 213.8h2.2v2.6h-2.2zM413.1 213.8h2.2v2.6h-2.2zM418 213.8h2.2v2.6h-2.2zM421.2 213.8h2.2v2.6h-2.2zM430.8 213.8h2.2v2.6h-2.2zM435.6 213.8h2.2v2.6h-2.2zM438.8 213.8h2.2v2.6h-2.2zM445.2 213.8h2.2v2.6h-2.2zM454.9 213.8h2.2v2.6h-2.2zM459.7 213.8h2.2v2.6h-2.2zM467.7 213.8h2.2v2.6h-2.2zM318.5 215.8h2.2v2.6h-2.2zM345.8 215.8h2.2v2.6h-2.2zM381.1 215.8h2.2v2.6h-2.2zM393.9 215.8h2.2v2.6h-2.2zM406.7 215.8h2.2v2.6h-2.2zM411.5 215.8h2.2v2.6h-2.2zM414.8 215.8h3.8v2.6h-3.8zM419.6 215.8h2.2v2.6h-2.2zM438.8 215.8h2.2v2.6h-2.2zM443.6 215.8h2.2v2.6h-2.2zM450 215.8h2.2v2.6h-2.2zM461.3 215.8h2.2v2.6h-2.2zM328.1 217.8h2.2v2.6h-2.2zM334.5 217.8h2.2v2.6h-2.2zM337.8 217.8h2.2v2.6h-2.2zM344.2 217.8h2.2v2.6h-2.2zM358.6 217.8h2.2v2.6h-2.2zM374.6 217.8h2.2v2.6h-2.2zM416.4 217.8h2.2v2.6h-2.2zM421.2 217.8h2.2v2.6h-2.2zM432.4 217.8h2.2v2.6h-2.2zM443.6 217.8h2.2v2.6h-2.2zM462.9 217.8h2.2v2.6h-2.2zM339.4 219.8h2.2v2.6h-2.2zM344.2 219.8h2.2v2.6h-2.2zM352.2 219.8h2.2v2.6h-2.2zM360.2 219.8h2.2v2.6h-2.2zM368.2 219.8h2.2v2.6h-2.2zM414.8 219.8h3.8v2.6h-3.8zM461.3 219.8h5.4v2.6h-5.4zM467.7 219.8h2.2v2.6h-2.2zM318.5 221.8h2.2v2.6h-2.2zM358.6 221.8h2.2v2.6h-2.2zM368.2 221.8h2.2v2.6h-2.2zM374.6 221.8h3.8v2.6h-3.8zM398.7 221.8h2.2v2.6h-2.2zM418 221.8h2.2v2.6h-2.2zM430.8 221.8h3.8v2.6h-3.8zM445.2 221.8h2.2v2.6h-2.2zM453.2 221.8h2.2v2.6h-2.2zM459.7 221.8h2.2v2.6h-2.2zM332.9 223.8h3.8v2.6h-3.8zM361.8 223.8h2.2v2.6h-2.2zM397.1 223.8h2.2v2.6h-2.2zM406.7 223.8h2.2v2.6h-2.2zM418 223.8h2.2v2.6h-2.2zM445.2 223.8h2.2v2.6h-2.2zM467.7 223.8h2.2v2.6h-2.2zM360.2 225.8h2.2v2.6h-2.2zM365 225.8h2.2v2.6h-2.2zM419.6 225.8h2.2v2.6h-2.2zM434 225.8h2.2v2.6h-2.2zM459.7 225.8h2.2v2.6h-2.2zM466.1 225.8h2.2v2.6h-2.2zM345.8 227.8h2.2v2.6h-2.2zM352.2 227.8h2.2v2.6h-2.2zM361.8 227.8h2.2v2.6h-2.2zM392.3 227.8h2.2v2.6h-2.2zM435.6 227.8h2.2v2.6h-2.2zM438.8 227.8h2.2v2.6h-2.2zM445.2 227.8h2.2v2.6h-2.2zM450 227.8h2.2v2.6h-2.2zM459.7 227.8h2.2v2.6h-2.2zM466.1 227.8h2.2v2.6h-2.2zM470.9 227.8h2.2v2.6h-2.2zM337.8 229.8h2.2v2.6h-2.2zM344.2 229.8h2.2v2.6h-2.2zM349 229.8h3.8v2.6h-3.8zM368.2 229.8h2.2v2.6h-2.2zM374.6 229.8h2.2v2.6h-2.2zM379.5 229.8h2.2v2.6h-2.2zM382.7 229.8h2.2v2.6h-2.2zM392.3 229.8h2.2v2.6h-2.2zM438.8 229.8h2.2v2.6h-2.2zM453.2 229.8h2.2v2.6h-2.2zM470.9 229.8h2.2v2.6h-2.2zM349 231.8h2.2v2.6h-2.2zM360.2 231.8h2.2v2.6h-2.2zM366.6 231.8h3.8v2.6h-3.8zM379.5 231.8h2.2v2.6h-2.2zM392.3 231.8h3.8v2.6h-3.8zM419.6 231.8h2.2v2.6h-2.2zM450 231.8h5.4v2.6h-5.4zM461.3 231.8h2.2v2.6h-2.2zM470.9 231.8h2.2v2.6h-2.2zM320.1 233.8h2.2v2.6h-2.2zM361.8 233.8h2.2v2.6h-2.2zM376.2 233.8h2.2v2.6h-2.2zM379.5 233.8h2.2v2.6h-2.2zM392.3 233.8h2.2v2.6h-2.2zM411.5 233.8h2.2v2.6h-2.2zM419.6 233.8h2.2v2.6h-2.2zM429.2 233.8h3.8v2.6h-3.8zM438.8 233.8h2.2v2.6h-2.2zM459.7 233.8h2.2v2.6h-2.2zM462.9 233.8h3.8v2.6h-3.8zM467.7 233.8h2.2v2.6h-2.2zM320.1 235.8h3.8v2.6h-3.8zM336.1 235.8h5.4v2.6h-5.4zM344.2 235.8h2.2v2.6h-2.2zM349 235.8h5.4v2.6h-5.4zM358.6 235.8h3.8v2.6h-3.8zM379.5 235.8h2.2v2.6h-2.2zM382.7 235.8h2.2v2.6h-2.2zM411.5 235.8h2.2v2.6h-2.2zM414.8 235.8h2.2v2.6h-2.2zM418 235.8h5.4v2.6h-5.4zM443.6 235.8h3.8v2.6h-3.8zM453.2 235.8h2.2v2.6h-2.2zM462.9 235.8h3.8v2.6h-3.8zM318.5 237.8h2.2v2.6h-2.2zM334.5 237.8h2.2v2.6h-2.2zM344.2 237.8h2.2v2.6h-2.2zM358.6 237.8h3.8v2.6h-3.8zM377.9 237.8h2.2v2.6h-2.2zM381.1 237.8h3.8v2.6h-3.8zM393.9 237.8h2.2v2.6h-2.2zM397.1 237.8h2.2v2.6h-2.2zM406.7 237.8h2.2v2.6h-2.2zM414.8 237.8h2.2v2.6h-2.2zM418 237.8h2.2v2.6h-2.2zM443.6 237.8h3.8v2.6h-3.8zM462.9 237.8h2.2v2.6h-2.2zM326.5 239.8h3.8v2.6h-3.8zM334.5 239.8h2.2v2.6h-2.2zM337.8 239.8h3.8v2.6h-3.8zM350.6 239.8h3.8v2.6h-3.8zM361.8 239.8h2.2v2.6h-2.2zM379.5 239.8h2.2v2.6h-2.2zM414.8 239.8h2.2v2.6h-2.2zM432.4 239.8h2.2v2.6h-2.2zM435.6 239.8h2.2v2.6h-2.2zM451.6 239.8h3.8v2.6h-3.8zM462.9 239.8h3.8v2.6h-3.8zM470.9 239.8h2.2v2.6h-2.2zM318.5 241.8h2.2v2.6h-2.2zM336.1 241.8h2.2v2.6h-2.2zM368.2 241.8h2.2v2.6h-2.2zM385.9 241.8h2.2v2.6h-2.2zM413.1 241.8h2.2v2.6h-2.2zM421.2 241.8h2.2v2.6h-2.2zM430.8 241.8h2.2v2.6h-2.2zM459.7 241.8h2.2v2.6h-2.2zM466.1 241.8h2.2v2.6h-2.2zM318.5 243.8h5.4v2.6h-5.4zM328.1 243.8h2.2v2.6h-2.2zM347.4 243.8h2.2v2.6h-2.2zM379.5 243.8h2.2v2.6h-2.2zM385.9 243.8h2.2v2.6h-2.2zM393.9 243.8h2.2v2.6h-2.2zM411.5 243.8h3.8v2.6h-3.8zM419.6 243.8h3.8v2.6h-3.8zM432.4 243.8h3.8v2.6h-3.8zM438.8 243.8h2.2v2.6h-2.2zM443.6 243.8h3.8v2.6h-3.8zM464.5 243.8h2.2v2.6h-2.2zM467.7 243.8h3.8v2.6h-3.8zM334.5 245.8h2.2v2.6h-2.2zM347.4 245.8h2.2v2.6h-2.2zM350.6 245.8h2.2v2.6h-2.2zM368.2 245.8h2.2v2.6h-2.2zM379.5 245.8h2.2v2.6h-2.2zM392.3 245.8h3.8v2.6h-3.8zM397.1 245.8h2.2v2.6h-2.2zM450 245.8h2.2v2.6h-2.2zM339.4 247.8h2.2v2.6h-2.2zM358.6 247.8h2.2v2.6h-2.2zM361.8 247.8h2.2v2.6h-2.2zM384.3 247.8h2.2v2.6h-2.2zM406.7 247.8h2.2v2.6h-2.2zM418 247.8h2.2v2.6h-2.2zM430.8 247.8h2.2v2.6h-2.2zM445.2 247.8h2.2v2.6h-2.2zM451.6 247.8h2.2v2.6h-2.2zM454.9 247.8h2.2v2.6h-2.2zM332.9 249.7h2.2v2.6h-2.2zM336.1 249.7h2.2v2.6h-2.2zM344.2 249.7h2.2v2.6h-2.2zM349 249.7h2.2v2.6h-2.2zM376.2 249.7h3.8v2.6h-3.8zM413.1 249.7h3.8v2.6h-3.8zM421.2 249.7h2.2v2.6h-2.2zM445.2 249.7h2.2v2.6h-2.2zM450 249.7h2.2v2.6h-2.2zM459.7 249.7h2.2v2.6h-2.2zM462.9 249.7h2.2v2.6h-2.2zM467.7 249.7h3.8v2.6h-3.8zM318.5 251.7h3.8v2.6h-3.8zM326.5 251.7h2.2v2.6h-2.2zM337.8 251.7h2.2v2.6h-2.2zM344.2 251.7h2.2v2.6h-2.2zM377.9 251.7h2.2v2.6h-2.2zM382.7 251.7h2.2v2.6h-2.2zM397.1 251.7h2.2v2.6h-2.2zM421.2 251.7h2.2v2.6h-2.2zM432.4 251.7h2.2v2.6h-2.2zM438.8 251.7h2.2v2.6h-2.2zM443.6 251.7h2.2v2.6h-2.2zM451.6 251.7h5.4v2.6h-5.4zM470.9 251.7h2.2v2.6h-2.2zM318.5 253.7h2.2v2.6h-2.2zM321.7 253.7h2.2v2.6h-2.2zM350.6 253.7h3.8v2.6h-3.8zM360.2 253.7h2.2v2.6h-2.2zM368.2 253.7h2.2v2.6h-2.2zM374.6 253.7h2.2v2.6h-2.2zM379.5 253.7h2.2v2.6h-2.2zM413.1 253.7h2.2v2.6h-2.2zM430.8 253.7h2.2v2.6h-2.2zM437.2 253.7h2.2v2.6h-2.2zM443.6 253.7h3.8v2.6h-3.8zM450 253.7h2.2v2.6h-2.2zM461.3 253.7h2.2v2.6h-2.2zM470.9 253.7h2.2v2.6h-2.2zM339.4 255.7h2.2v2.6h-2.2zM345.8 255.7h2.2v2.6h-2.2zM384.3 255.7h2.2v2.6h-2.2zM393.9 255.7h2.2v2.6h-2.2zM398.7 255.7h2.2v2.6h-2.2zM414.8 255.7h3.8v2.6h-3.8zM421.2 255.7h2.2v2.6h-2.2zM429.2 255.7h2.2v2.6h-2.2zM435.6 255.7h2.2v2.6h-2.2zM443.6 255.7h2.2v2.6h-2.2zM451.6 255.7h2.2v2.6h-2.2zM454.9 255.7h2.2v2.6h-2.2zM464.5 255.7h2.2v2.6h-2.2zM332.9 257.7h2.2v2.6h-2.2zM337.8 257.7h2.2v2.6h-2.2zM347.4 257.7h2.2v2.6h-2.2zM358.6 257.7h2.2v2.6h-2.2zM374.6 257.7h2.2v2.6h-2.2zM379.5 257.7h2.2v2.6h-2.2zM406.7 257.7h2.2v2.6h-2.2zM418 257.7h2.2v2.6h-2.2zM443.6 257.7h2.2v2.6h-2.2zM450 257.7h2.2v2.6h-2.2zM318.5 259.7h2.2v2.6h-2.2zM334.5 259.7h2.2v2.6h-2.2zM339.4 259.7h2.2v2.6h-2.2zM347.4 259.7h2.2v2.6h-2.2zM379.5 259.7h3.8v2.6h-3.8zM414.8 259.7h2.2v2.6h-2.2zM430.8 259.7h2.2v2.6h-2.2zM461.3 259.7h2.2v2.6h-2.2zM329.7 261.7h2.2v2.6h-2.2zM381.1 261.7h2.2v2.6h-2.2zM389.1 261.7h2.2v2.6h-2.2zM416.4 261.7h2.2v2.6h-2.2zM432.4 261.7h2.2v2.6h-2.2zM445.2 261.7h2.2v2.6h-2.2zM456.5 261.7h2.2v2.6h-2.2zM349 263.7h2.2v2.6h-2.2zM358.6 263.7h2.2v2.6h-2.2zM373 263.7h2.2v2.6h-2.2zM393.9 263.7h2.2v2.6h-2.2zM392.3 265.7h2.2v2.6h-2.2zM401.9 265.7h2.2v2.6h-2.2zM429.2 265.7h2.2v2.6h-2.2zM320.1 267.7h2.2v2.6h-2.2zM328.1 267.7h2.2v2.6h-2.2zM344.2 267.7h3.8v2.6h-3.8zM353.8 267.7h3.8v2.6h-3.8zM363.4 267.7h2.2v2.6h-2.2zM366.6 267.7h2.2v2.6h-2.2zM371.4 267.7h2.2v2.6h-2.2zM381.1 267.7h2.2v2.6h-2.2zM384.3 267.7h2.2v2.6h-2.2zM392.3 267.7h3.8v2.6h-3.8zM398.7 267.7h2.2v2.6h-2.2zM406.7 267.7h2.2v2.6h-2.2zM413.1 267.7h2.2v2.6h-2.2zM422.8 267.7h2.2v2.6h-2.2zM435.6 267.7h2.2v2.6h-2.2zM443.6 267.7h2.2v2.6h-2.2zM456.5 267.7h2.2v2.6h-2.2zM459.7 267.7h2.2v2.6h-2.2zM462.9 267.7h2.2v2.6h-2.2zM469.3 267.7h2.2v2.6h-2.2z"/><path fill="#5effa2" d="M349 205.9h2.2v2.6h-2.2zM381.1 205.9h2.2v2.6h-2.2zM451.6 205.9h2.2v2.6h-2.2zM381.1 207.8h2.2v2.6h-2.2zM385.9 207.8h2.2v2.6h-2.2zM419.6 207.8h2.2v2.6h-2.2zM466.1 207.8h2.2v2.6h-2.2zM358.6 209.8h2.2v2.6h-2.2zM361.8 209.8h2.2v2.6h-2.2zM374.6 209.8h2.2v2.6h-2.2zM352.2 211.8h2.2v2.6h-2.2zM365 211.8h2.2v2.6h-2.2zM438.8 211.8h2.2v2.6h-2.2zM445.2 211.8h2.2v2.6h-2.2zM365 213.8h2.2v2.6h-2.2zM414.8 213.8h2.2v2.6h-2.2zM321.7 215.8h2.2v2.6h-2.2zM328.1 215.8h2.2v2.6h-2.2zM336.1 215.8h2.2v2.6h-2.2zM361.8 215.8h2.2v2.6h-2.2zM365 215.8h2.2v2.6h-2.2zM376.2 215.8h2.2v2.6h-2.2zM385.9 215.8h2.2v2.6h-2.2zM466.1 215.8h2.2v2.6h-2.2zM470.9 215.8h2.2v2.6h-2.2zM326.5 217.8h2.2v2.6h-2.2zM377.9 217.8h2.2v2.6h-2.2zM382.7 217.8h2.2v2.6h-2.2zM411.5 217.8h2.2v2.6h-2.2zM419.6 217.8h2.2v2.6h-2.2zM459.7 217.8h2.2v2.6h-2.2zM318.5 219.8h2.2v2.6h-2.2zM321.7 219.8h2.2v2.6h-2.2zM366.6 219.8h2.2v2.6h-2.2zM411.5 219.8h2.2v2.6h-2.2zM366.6 221.8h2.2v2.6h-2.2zM451.6 221.8h2.2v2.6h-2.2zM365 223.8h2.2v2.6h-2.2zM382.7 223.8h2.2v2.6h-2.2zM320.1 225.8h2.2v2.6h-2.2zM326.5 225.8h2.2v2.6h-2.2zM352.2 225.8h2.2v2.6h-2.2zM368.2 225.8h2.2v2.6h-2.2zM382.7 225.8h5.4v2.6h-5.4zM406.7 225.8h2.2v2.6h-2.2zM413.1 225.8h2.2v2.6h-2.2zM461.3 225.8h2.2v2.6h-2.2zM326.5 227.8h2.2v2.6h-2.2zM344.2 227.8h2.2v2.6h-2.2zM360.2 227.8h2.2v2.6h-2.2zM365 227.8h2.2v2.6h-2.2zM393.9 227.8h2.2v2.6h-2.2zM398.7 227.8h2.2v2.6h-2.2zM406.7 227.8h2.2v2.6h-2.2zM360.2 229.8h2.2v2.6h-2.2zM365 229.8h3.8v2.6h-3.8zM381.1 229.8h2.2v2.6h-2.2zM385.9 229.8h2.2v2.6h-2.2zM393.9 229.8h2.2v2.6h-2.2zM435.6 229.8h2.2v2.6h-2.2zM445.2 229.8h2.2v2.6h-2.2zM454.9 229.8h2.2v2.6h-2.2zM462.9 229.8h3.8v2.6h-3.8zM326.5 231.8h2.2v2.6h-2.2zM339.4 231.8h2.2v2.6h-2.2zM347.4 231.8h2.2v2.6h-2.2zM350.6 231.8h3.8v2.6h-3.8zM361.8 231.8h2.2v2.6h-2.2zM365 231.8h2.2v2.6h-2.2zM377.9 231.8h2.2v2.6h-2.2zM382.7 231.8h5.4v2.6h-5.4zM443.6 231.8h2.2v2.6h-2.2zM462.9 231.8h5.4v2.6h-5.4zM339.4 233.8h2.2v2.6h-2.2zM350.6 233.8h3.8v2.6h-3.8zM360.2 233.8h2.2v2.6h-2.2zM365 233.8h3.8v2.6h-3.8zM398.7 233.8h2.2v2.6h-2.2zM466.1 233.8h2.2v2.6h-2.2zM469.3 233.8h3.8v2.6h-3.8zM326.5 235.8h3.8v2.6h-3.8zM332.9 235.8h2.2v2.6h-2.2zM366.6 235.8h2.2v2.6h-2.2zM385.9 235.8h2.2v2.6h-2.2zM393.9 235.8h2.2v2.6h-2.2zM397.1 235.8h2.2v2.6h-2.2zM413.1 235.8h2.2v2.6h-2.2zM438.8 235.8h2.2v2.6h-2.2zM450 235.8h3.8v2.6h-3.8zM454.9 235.8h2.2v2.6h-2.2zM459.7 235.8h3.8v2.6h-3.8zM467.7 235.8h2.2v2.6h-2.2zM470.9 235.8h2.2v2.6h-2.2zM320.1 237.8h3.8v2.6h-3.8zM336.1 237.8h2.2v2.6h-2.2zM347.4 237.8h2.2v2.6h-2.2zM350.6 237.8h3.8v2.6h-3.8zM361.8 237.8h2.2v2.6h-2.2zM365 237.8h2.2v2.6h-2.2zM368.2 237.8h2.2v2.6h-2.2zM376.2 237.8h2.2v2.6h-2.2zM384.3 237.8h3.8v2.6h-3.8zM392.3 237.8h2.2v2.6h-2.2zM437.2 237.8h2.2v2.6h-2.2zM451.6 237.8h2.2v2.6h-2.2zM454.9 237.8h2.2v2.6h-2.2zM461.3 237.8h2.2v2.6h-2.2zM464.5 237.8h2.2v2.6h-2.2zM467.7 237.8h2.2v2.6h-2.2zM470.9 237.8h2.2v2.6h-2.2zM336.1 239.8h2.2v2.6h-2.2zM344.2 239.8h2.2v2.6h-2.2zM347.4 239.8h3.8v2.6h-3.8zM358.6 239.8h3.8v2.6h-3.8zM374.6 239.8h2.2v2.6h-2.2zM392.3 239.8h3.8v2.6h-3.8zM397.1 239.8h2.2v2.6h-2.2zM411.5 239.8h2.2v2.6h-2.2zM418 239.8h2.2v2.6h-2.2zM429.2 239.8h2.2v2.6h-2.2zM438.8 239.8h2.2v2.6h-2.2zM459.7 239.8h2.2v2.6h-2.2zM321.7 241.8h2.2v2.6h-2.2zM326.5 241.8h3.8v2.6h-3.8zM337.8 241.8h2.2v2.6h-2.2zM345.8 241.8h2.2v2.6h-2.2zM350.6 241.8h3.8v2.6h-3.8zM374.6 241.8h2.2v2.6h-2.2zM382.7 241.8h3.8v2.6h-3.8zM411.5 241.8h2.2v2.6h-2.2zM416.4 241.8h2.2v2.6h-2.2zM419.6 241.8h2.2v2.6h-2.2zM429.2 241.8h2.2v2.6h-2.2zM432.4 241.8h5.4v2.6h-5.4zM438.8 241.8h2.2v2.6h-2.2zM443.6 241.8h3.8v2.6h-3.8zM450 241.8h3.8v2.6h-3.8zM454.9 241.8h2.2v2.6h-2.2zM462.9 241.8h3.8v2.6h-3.8zM467.7 241.8h2.2v2.6h-2.2zM470.9 241.8h2.2v2.6h-2.2zM334.5 243.8h2.2v2.6h-2.2zM339.4 243.8h2.2v2.6h-2.2zM349 243.8h2.2v2.6h-2.2zM352.2 243.8h2.2v2.6h-2.2zM377.9 243.8h2.2v2.6h-2.2zM397.1 243.8h3.8v2.6h-3.8zM414.8 243.8h2.2v2.6h-2.2zM430.8 243.8h2.2v2.6h-2.2zM437.2 243.8h2.2v2.6h-2.2zM453.2 243.8h3.8v2.6h-3.8zM466.1 243.8h2.2v2.6h-2.2zM320.1 245.8h3.8v2.6h-3.8zM326.5 245.8h2.2v2.6h-2.2zM336.1 245.8h2.2v2.6h-2.2zM352.2 245.8h2.2v2.6h-2.2zM358.6 245.8h2.2v2.6h-2.2zM366.6 245.8h2.2v2.6h-2.2zM376.2 245.8h2.2v2.6h-2.2zM382.7 245.8h2.2v2.6h-2.2zM406.7 245.8h2.2v2.6h-2.2zM411.5 245.8h2.2v2.6h-2.2zM416.4 245.8h3.8v2.6h-3.8zM421.2 245.8h2.2v2.6h-2.2zM429.2 245.8h3.8v2.6h-3.8zM435.6 245.8h5.4v2.6h-5.4zM445.2 245.8h2.2v2.6h-2.2zM451.6 245.8h3.8v2.6h-3.8zM462.9 245.8h3.8v2.6h-3.8zM467.7 245.8h3.8v2.6h-3.8zM321.7 247.8h2.2v2.6h-2.2zM334.5 247.8h2.2v2.6h-2.2zM344.2 247.8h2.2v2.6h-2.2zM366.6 247.8h3.8v2.6h-3.8zM374.6 247.8h2.2v2.6h-2.2zM377.9 247.8h2.2v2.6h-2.2zM432.4 247.8h2.2v2.6h-2.2zM453.2 247.8h2.2v2.6h-2.2zM459.7 247.8h2.2v2.6h-2.2zM462.9 247.8h2.2v2.6h-2.2zM466.1 247.8h2.2v2.6h-2.2zM469.3 247.8h2.2v2.6h-2.2zM320.1 249.7h2.2v2.6h-2.2zM328.1 249.7h2.2v2.6h-2.2zM334.5 249.7h2.2v2.6h-2.2zM337.8 249.7h2.2v2.6h-2.2zM347.4 249.7h2.2v2.6h-2.2zM352.2 249.7h2.2v2.6h-2.2zM358.6 249.7h2.2v2.6h-2.2zM379.5 249.7h2.2v2.6h-2.2zM382.7 249.7h2.2v2.6h-2.2zM432.4 249.7h3.8v2.6h-3.8zM438.8 249.7h2.2v2.6h-2.2zM453.2 249.7h3.8v2.6h-3.8zM470.9 249.7h2.2v2.6h-2.2zM347.4 251.7h2.2v2.6h-2.2zM350.6 251.7h2.2v2.6h-2.2zM360.2 251.7h2.2v2.6h-2.2zM368.2 251.7h2.2v2.6h-2.2zM379.5 251.7h2.2v2.6h-2.2zM384.3 251.7h2.2v2.6h-2.2zM392.3 251.7h2.2v2.6h-2.2zM398.7 251.7h2.2v2.6h-2.2zM411.5 251.7h2.2v2.6h-2.2zM416.4 251.7h2.2v2.6h-2.2zM419.6 251.7h2.2v2.6h-2.2zM434 251.7h2.2v2.6h-2.2zM437.2 251.7h2.2v2.6h-2.2zM459.7 251.7h3.8v2.6h-3.8zM464.5 251.7h7v2.6h-7zM320.1 253.7h2.2v2.6h-2.2zM332.9 253.7h2.2v2.6h-2.2zM336.1 253.7h5.4v2.6h-5.4zM345.8 253.7h2.2v2.6h-2.2zM358.6 253.7h2.2v2.6h-2.2zM384.3 253.7h3.8v2.6h-3.8zM393.9 253.7h2.2v2.6h-2.2zM418 253.7h5.4v2.6h-5.4zM429.2 253.7h2.2v2.6h-2.2zM432.4 253.7h2.2v2.6h-2.2zM464.5 253.7h2.2v2.6h-2.2zM320.1 255.7h2.2v2.6h-2.2zM332.9 255.7h2.2v2.6h-2.2zM344.2 255.7h2.2v2.6h-2.2zM374.6 255.7h5.4v2.6h-5.4zM382.7 255.7h2.2v2.6h-2.2zM392.3 255.7h2.2v2.6h-2.2zM406.7 255.7h2.2v2.6h-2.2zM413.1 255.7h2.2v2.6h-2.2zM418 255.7h2.2v2.6h-2.2zM430.8 255.7h2.2v2.6h-2.2zM434 255.7h2.2v2.6h-2.2zM445.2 255.7h2.2v2.6h-2.2zM453.2 255.7h2.2v2.6h-2.2zM462.9 255.7h2.2v2.6h-2.2zM467.7 255.7h2.2v2.6h-2.2zM470.9 255.7h2.2v2.6h-2.2zM321.7 257.7h2.2v2.6h-2.2zM339.4 257.7h2.2v2.6h-2.2zM360.2 257.7h2.2v2.6h-2.2zM368.2 257.7h2.2v2.6h-2.2zM376.2 257.7h3.8v2.6h-3.8zM381.1 257.7h2.2v2.6h-2.2zM393.9 257.7h2.2v2.6h-2.2zM413.1 257.7h2.2v2.6h-2.2zM430.8 257.7h3.8v2.6h-3.8zM435.6 257.7h2.2v2.6h-2.2zM445.2 257.7h2.2v2.6h-2.2zM462.9 257.7h2.2v2.6h-2.2zM321.7 259.7h2.2v2.6h-2.2zM344.2 259.7h3.8v2.6h-3.8zM358.6 259.7h3.8v2.6h-3.8zM377.9 259.7h2.2v2.6h-2.2zM435.6 259.7h2.2v2.6h-2.2zM349 261.7h2.2v2.6h-2.2zM358.6 261.7h2.2v2.6h-2.2zM392.3 261.7h3.8v2.6h-3.8zM403.5 261.7h2.2v2.6h-2.2zM435.6 261.7h2.2v2.6h-2.2zM344.2 263.7h2.2v2.6h-2.2zM376.2 263.7h2.2v2.6h-2.2zM389.1 263.7h3.8v2.6h-3.8zM401.9 263.7h2.2v2.6h-2.2zM414.8 263.7h2.2v2.6h-2.2zM443.6 263.7h2.2v2.6h-2.2zM458.1 263.7h2.2v2.6h-2.2zM461.3 263.7h3.8v2.6h-3.8zM349 265.7h2.2v2.6h-2.2zM389.1 265.7h3.8v2.6h-3.8zM406.7 265.7h2.2v2.6h-2.2zM413.1 265.7h5.4v2.6h-5.4zM430.8 265.7h2.2v2.6h-2.2zM466.1 265.7h2.2v2.6h-2.2zM470.9 265.7h2.2v2.6h-2.2zM323.3 267.7h2.2v2.6h-2.2zM326.5 267.7h2.2v2.6h-2.2zM329.7 267.7h2.2v2.6h-2.2zM347.4 267.7h2.2v2.6h-2.2zM352.2 267.7h2.2v2.6h-2.2zM379.5 267.7h2.2v2.6h-2.2zM397.1 267.7h2.2v2.6h-2.2zM403.5 267.7h2.2v2.6h-2.2zM408.3 267.7h2.2v2.6h-2.2zM411.5 267.7h2.2v2.6h-2.2zM416.4 267.7h2.2v2.6h-2.2zM421.2 267.7h2.2v2.6h-2.2zM424.4 267.7h3.8v2.6h-3.8zM450 267.7h2.2v2.6h-2.2zM453.2 267.7h3.8v2.6h-3.8z"/><path fill="#a2ff5e" d="M349 245.8h2.2v2.6h-2.2zM385.9 245.8h2.2v2.6h-2.2zM413.1 245.8h2.2v2.6h-2.2zM419.6 245.8h2.2v2.6h-2.2zM459.7 245.8h2.2v2.6h-2.2zM470.9 245.8h2.2v2.6h-2.2zM320.1 247.8h2.2v2.6h-2.2zM326.5 247.8h3.8v2.6h-3.8zM352.2 247.8h2.2v2.6h-2.2zM429.2 247.8h2.2v2.6h-2.2zM438.8 247.8h2.2v2.6h-2.2zM443.6 247.8h2.2v2.6h-2.2zM467.7 247.8h2.2v2.6h-2.2zM470.9 247.8h2.2v2.6h-2.2zM381.1 249.7h2.2v2.6h-2.2zM392.3 249.7h2.2v2.6h-2.2zM430.8 249.7h2.2v2.6h-2.2zM435.6 249.7h2.2v2.6h-2.2zM461.3 249.7h2.2v2.6h-2.2zM336.1 251.7h2.2v2.6h-2.2zM339.4 251.7h2.2v2.6h-2.2zM345.8 251.7h2.2v2.6h-2.2zM361.8 251.7h2.2v2.6h-2.2zM435.6 251.7h2.2v2.6h-2.2zM450 251.7h2.2v2.6h-2.2zM326.5 253.7h2.2v2.6h-2.2zM334.5 253.7h2.2v2.6h-2.2zM349 253.7h2.2v2.6h-2.2zM361.8 253.7h2.2v2.6h-2.2zM392.3 253.7h2.2v2.6h-2.2zM434 253.7h3.8v2.6h-3.8zM451.6 253.7h3.8v2.6h-3.8zM467.7 253.7h3.8v2.6h-3.8zM349 255.7h5.4v2.6h-5.4zM360.2 255.7h2.2v2.6h-2.2zM365 255.7h2.2v2.6h-2.2zM368.2 255.7h2.2v2.6h-2.2zM432.4 255.7h2.2v2.6h-2.2zM437.2 255.7h2.2v2.6h-2.2zM450 255.7h2.2v2.6h-2.2zM320.1 257.7h2.2v2.6h-2.2zM336.1 257.7h2.2v2.6h-2.2zM344.2 257.7h2.2v2.6h-2.2zM349 257.7h2.2v2.6h-2.2zM414.8 257.7h2.2v2.6h-2.2zM326.5 259.7h3.8v2.6h-3.8zM332.9 259.7h2.2v2.6h-2.2zM336.1 259.7h3.8v2.6h-3.8zM374.6 259.7h2.2v2.6h-2.2zM437.2 259.7h2.2v2.6h-2.2zM462.9 259.7h2.2v2.6h-2.2zM323.3 261.7h2.2v2.6h-2.2zM345.8 261.7h3.8v2.6h-3.8zM373 261.7h8.6v2.6h-8.6zM443.6 261.7h2.2v2.6h-2.2zM458.1 261.7h7v2.6h-7zM324.9 263.7h2.2v2.6h-2.2zM328.1 263.7h5.4v2.6h-5.4zM342.6 263.7h2.2v2.6h-2.2zM374.6 263.7h2.2v2.6h-2.2zM379.5 263.7h2.2v2.6h-2.2zM323.3 265.7h2.2v2.6h-2.2zM326.5 265.7h2.2v2.6h-2.2zM374.6 265.7h2.2v2.6h-2.2zM384.3 265.7h2.2v2.6h-2.2zM409.9 265.7h3.8v2.6h-3.8zM434 265.7h2.2v2.6h-2.2zM443.6 265.7h2.2v2.6h-2.2zM342.6 267.7h2.2v2.6h-2.2zM349 267.7h2.2v2.6h-2.2zM360.2 267.7h3.8v2.6h-3.8zM365 267.7h2.2v2.6h-2.2zM368.2 267.7h2.2v2.6h-2.2zM374.6 267.7h2.2v2.6h-2.2zM377.9 267.7h2.2v2.6h-2.2zM385.9 267.7h2.2v2.6h-2.2zM389.1 267.7h3.8v2.6h-3.8zM400.3 267.7h2.2v2.6h-2.2zM409.9 267.7h2.2v2.6h-2.2zM419.6 267.7h2.2v2.6h-2.2zM429.2 267.7h2.2v2.6h-2.2zM434 267.7h2.2v2.6h-2.2zM458.1 267.7h2.2v2.6h-2.2zM461.3 267.7h2.2v2.6h-2.2zM467.7 267.7h2.2v2.6h-2.2z"/><path fill="#e5ff1a" d="M337.8 203.9h3.8v2.6h-3.8zM409.9 203.9h3.8v2.6h-3.8zM422.8 203.9h5.4v2.6h-5.4zM320.1 259.7h2.2v2.6h-2.2zM393.9 259.7h2.2v2.6h-2.2zM429.2 259.7h2.2v2.6h-2.2zM434 259.7h2.2v2.6h-2.2zM438.8 259.7h2.2v2.6h-2.2zM459.7 259.7h2.2v2.6h-2.2zM328.1 261.7h2.2v2.6h-2.2zM331.3 261.7h2.2v2.6h-2.2zM342.6 261.7h3.8v2.6h-3.8zM360.2 261.7h2.2v2.6h-2.2zM429.2 261.7h2.2v2.6h-2.2zM434 261.7h2.2v2.6h-2.2zM323.3 263.7h2.2v2.6h-2.2zM326.5 263.7h2.2v2.6h-2.2zM347.4 263.7h2.2v2.6h-2.2zM360.2 263.7h2.2v2.6h-2.2zM377.9 263.7h2.2v2.6h-2.2zM403.5 263.7h2.2v2.6h-2.2zM416.4 263.7h2.2v2.6h-2.2zM429.2 263.7h8.6v2.6h-8.6zM459.7 263.7h2.2v2.6h-2.2zM342.6 265.7h5.4v2.6h-5.4zM350.6 265.7h3.8v2.6h-3.8zM376.2 265.7h2.2v2.6h-2.2zM379.5 265.7h2.2v2.6h-2.2zM385.9 265.7h2.2v2.6h-2.2zM432.4 265.7h2.2v2.6h-2.2zM458.1 265.7h3.8v2.6h-3.8zM462.9 265.7h3.8v2.6h-3.8zM467.7 265.7h2.2v2.6h-2.2zM318.5 267.7h2.2v2.6h-2.2zM321.7 267.7h2.2v2.6h-2.2zM324.9 267.7h2.2v2.6h-2.2zM331.3 267.7h2.2v2.6h-2.2zM350.6 267.7h2.2v2.6h-2.2zM369.8 267.7h2.2v2.6h-2.2zM376.2 267.7h2.2v2.6h-2.2zM387.5 267.7h2.2v2.6h-2.2zM395.5 267.7h2.2v2.6h-2.2zM401.9 267.7h2.2v2.6h-2.2zM405.1 267.7h2.2v2.6h-2.2zM414.8 267.7h2.2v2.6h-2.2zM418 267.7h2.2v2.6h-2.2zM427.6 267.7h2.2v2.6h-2.2zM432.4 267.7h2.2v2.6h-2.2zM446.8 267.7h3.8v2.6h-3.8zM464.5 267.7h3.8v2.6h-3.8zM470.9 267.7h2.2v2.6h-2.2z"/><path fill="#ffd500" d="M365 195.9h5.4v2.6h-5.4zM376.2 203.9h3.8v2.6h-3.8zM328.1 209.8h3.8v2.6h-3.8zM382.7 209.8h3.8v2.6h-3.8zM448.4 209.8h3.8v2.6h-3.8zM349 215.8h3.8v2.6h-3.8zM361.8 221.8h3.8v2.6h-3.8zM381.1 221.8h3.8v2.6h-3.8zM462.9 221.8h5.4v2.6h-5.4zM398.7 237.8h3.8v2.6h-3.8zM344.2 243.8h3.8v2.6h-3.8zM381.1 243.8h5.4v2.6h-5.4zM461.3 243.8h3.8v2.6h-3.8zM349 247.8h3.8v2.6h-3.8zM328.1 251.7h8.6v2.6h-8.6zM352.2 257.7h2.2v2.6h-2.2zM355.4 257.7h2.2v2.6h-2.2zM384.3 257.7h5.4v2.6h-5.4zM466.1 257.7h2.2v2.6h-2.2zM470.9 257.7h2.2v2.6h-2.2zM368.2 259.7h2.2v2.6h-2.2zM371.4 259.7h2.2v2.6h-2.2zM405.1 259.7h2.2v2.6h-2.2zM409.9 259.7h2.2v2.6h-2.2zM413.1 259.7h2.2v2.6h-2.2zM419.6 259.7h3.8v2.6h-3.8zM446.8 259.7h2.2v2.6h-2.2zM451.6 259.7h3.8v2.6h-3.8zM324.9 261.7h3.8v2.6h-3.8zM332.9 261.7h2.2v2.6h-2.2zM337.8 261.7h3.8v2.6h-3.8zM390.7 261.7h2.2v2.6h-2.2zM401.9 261.7h2.2v2.6h-2.2zM414.8 261.7h2.2v2.6h-2.2zM430.8 261.7h2.2v2.6h-2.2zM438.8 261.7h5.4v2.6h-5.4zM345.8 263.7h2.2v2.6h-2.2zM353.8 263.7h2.2v2.6h-2.2zM381.1 263.7h2.2v2.6h-2.2zM385.9 263.7h3.8v2.6h-3.8zM392.3 263.7h2.2v2.6h-2.2zM405.1 263.7h3.8v2.6h-3.8zM411.5 263.7h2.2v2.6h-2.2zM445.2 263.7h2.2v2.6h-2.2zM456.5 263.7h2.2v2.6h-2.2zM464.5 263.7h5.4v2.6h-5.4zM320.1 265.7h3.8v2.6h-3.8zM328.1 265.7h5.4v2.6h-5.4zM347.4 265.7h2.2v2.6h-2.2zM355.4 265.7h10.2v2.6h-10.2zM366.6 265.7h2.2v2.6h-2.2zM377.9 265.7h2.2v2.6h-2.2zM381.1 265.7h3.8v2.6h-3.8zM393.9 265.7h3.8v2.6h-3.8zM398.7 265.7h2.2v2.6h-2.2zM403.5 265.7h3.8v2.6h-3.8zM421.2 265.7h3.8v2.6h-3.8zM426 265.7h2.2v2.6h-2.2zM435.6 265.7h2.2v2.6h-2.2zM445.2 265.7h2.2v2.6h-2.2zM454.9 265.7h3.8v2.6h-3.8zM461.3 265.7h2.2v2.6h-2.2zM469.3 265.7h2.2v2.6h-2.2zM334.5 267.7h2.2v2.6h-2.2zM337.8 267.7h3.8v2.6h-3.8zM358.6 267.7h2.2v2.6h-2.2zM373 267.7h2.2v2.6h-2.2zM382.7 267.7h2.2v2.6h-2.2zM430.8 267.7h2.2v2.6h-2.2zM438.8 267.7h2.2v2.6h-2.2z"/><path fill="#ff9100" d="M376.2 227.8h7v2.6h-7zM411.5 227.8h3.8v2.6h-3.8zM451.6 227.8h5.4v2.6h-5.4zM385.9 233.8h5.4v2.6h-5.4zM363.4 243.8h3.8v2.6h-3.8zM409.9 247.8h5.4v2.6h-5.4zM435.6 247.8h3.8v2.6h-3.8zM363.4 251.7h5.4v2.6h-5.4zM413.1 251.7h3.8v2.6h-3.8zM350.6 257.7h2.2v2.6h-2.2zM353.8 257.7h2.2v2.6h-2.2zM357 257.7h2.2v2.6h-2.2zM382.7 257.7h2.2v2.6h-2.2zM464.5 257.7h2.2v2.6h-2.2zM467.7 257.7h3.8v2.6h-3.8zM361.8 259.7h7v2.6h-7zM369.8 259.7h2.2v2.6h-2.2zM395.5 259.7h7v2.6h-7zM406.7 259.7h3.8v2.6h-3.8zM411.5 259.7h2.2v2.6h-2.2zM418 259.7h2.2v2.6h-2.2zM422.8 259.7h7v2.6h-7zM448.4 259.7h3.8v2.6h-3.8zM454.9 259.7h2.2v2.6h-2.2zM318.5 261.7h5.4v2.6h-5.4zM334.5 261.7h3.8v2.6h-3.8zM341 261.7h2.2v2.6h-2.2zM437.2 261.7h2.2v2.6h-2.2zM350.6 263.7h3.8v2.6h-3.8zM355.4 263.7h3.8v2.6h-3.8zM382.7 263.7h3.8v2.6h-3.8zM408.3 263.7h3.8v2.6h-3.8zM413.1 263.7h2.2v2.6h-2.2zM469.3 263.7h3.8v2.6h-3.8zM318.5 265.7h2.2v2.6h-2.2zM324.9 265.7h2.2v2.6h-2.2zM353.8 265.7h2.2v2.6h-2.2zM365 265.7h2.2v2.6h-2.2zM368.2 265.7h7v2.6h-7zM387.5 265.7h2.2v2.6h-2.2zM397.1 265.7h2.2v2.6h-2.2zM400.3 265.7h2.2v2.6h-2.2zM408.3 265.7h2.2v2.6h-2.2zM418 265.7h3.8v2.6h-3.8zM424.4 265.7h2.2v2.6h-2.2zM427.6 265.7h2.2v2.6h-2.2zM446.8 265.7h8.6v2.6h-8.6zM332.9 267.7h2.2v2.6h-2.2zM336.1 267.7h2.2v2.6h-2.2zM341 267.7h2.2v2.6h-2.2zM437.2 267.7h2.2v2.6h-2.2zM440.4 267.7h3.8v2.6h-3.8z"/><path fill="#ff4c00" d="M337.8 215.8h3.8v2.6h-3.8zM395.5 215.8h3.8v2.6h-3.8zM349 221.8h5.4v2.6h-5.4zM328.1 227.8h5.4v2.6h-5.4zM334.5 227.8h3.8v2.6h-3.8zM429.2 227.8h2.2v2.6h-2.2zM345.8 233.8h3.8v2.6h-3.8zM443.6 233.8h3.8v2.6h-3.8zM323.3 243.8h3.8v2.6h-3.8zM379.5 247.8h5.4v2.6h-5.4zM395.5 247.8h5.4v2.6h-5.4zM357 259.7h2.2v2.6h-2.2zM470.9 259.7h2.2v2.6h-2.2zM355.4 261.7h2.2v2.6h-2.2zM361.8 261.7h2.2v2.6h-2.2zM368.2 261.7h2.2v2.6h-2.2zM395.5 261.7h2.2v2.6h-2.2zM398.7 261.7h2.2v2.6h-2.2zM413.1 261.7h2.2v2.6h-2.2zM422.8 261.7h2.2v2.6h-2.2zM427.6 261.7h2.2v2.6h-2.2zM450 261.7h2.2v2.6h-2.2zM464.5 261.7h2.2v2.6h-2.2zM336.1 263.7h2.2v2.6h-2.2zM365 263.7h3.8v2.6h-3.8zM440.4 263.7h2.2v2.6h-2.2zM450 263.7h2.2v2.6h-2.2zM332.9 265.7h2.2v2.6h-2.2z"/><path fill="#ff0800" d="M350.6 259.7h7v2.6h-7zM382.7 259.7h7v2.6h-7zM464.5 259.7h7v2.6h-7zM350.6 261.7h5.4v2.6h-5.4zM357 261.7h2.2v2.6h-2.2zM363.4 261.7h5.4v2.6h-5.4zM369.8 261.7h3.8v2.6h-3.8zM382.7 261.7h7v2.6h-7zM397.1 261.7h2.2v2.6h-2.2zM400.3 261.7h2.2v2.6h-2.2zM405.1 261.7h8.6v2.6h-8.6zM418 261.7h5.4v2.6h-5.4zM424.4 261.7h3.8v2.6h-3.8zM446.8 261.7h3.8v2.6h-3.8zM451.6 261.7h5.4v2.6h-5.4zM466.1 261.7h7v2.6h-7zM318.5 263.7h5.4v2.6h-5.4zM332.9 263.7h3.8v2.6h-3.8zM337.8 263.7h5.4v2.6h-5.4zM361.8 263.7h3.8v2.6h-3.8zM368.2 263.7h5.4v2.6h-5.4zM395.5 263.7h7v2.6h-7zM418 263.7h11.8v2.6h-11.8zM437.2 263.7h3.8v2.6h-3.8zM442 263.7h2.2v2.6h-2.2zM446.8 263.7h3.8v2.6h-3.8zM451.6 263.7h5.4v2.6h-5.4zM334.5 265.7h8.6v2.6h-8.6zM437.2 265.7h7v2.6h-7z"/></g></g><rect x="318.8" y="143.8" width="154.0" height="1" fill="#112"/><defs><linearGradient id="cbT" x1="0" y1="1" x2="0" y2="0"><stop offset="0.00" stop-color="#0000fa"/><stop offset="0.12" stop-color="#000fff"/><stop offset="0.30" stop-color="#0080ff"/><stop offset="0.45" stop-color="#05fffa"/><stop offset="0.55" stop-color="#80ff80"/><stop offset="0.65" stop-color="#faff05"/><stop offset="0.75" stop-color="#ff8000"/><stop offset="0.85" stop-color="#ff0500"/><stop offset="0.95" stop-color="#b30000"/><stop offset="1.00" stop-color="#800000"/></linearGradient></defs><rect x="476.5" y="144.3" width="4.3" height="125.4" fill="url(#cbT)"/><rect x="476.5" y="144.3" width="4.3" height="125.4" fill="none" stroke="#223" stroke-width="0.6"/>
<defs><clipPath id="cpcbB"><rect x="92.1" y="402.6" width="169.5" height="138.9"/></clipPath></defs><g clip-path="url(#cpcbB)"><g filter="url(#bl)"><rect x="90.1" y="400.6" width="173.5" height="142.9" fill="#0000a0"/><path fill="#0000c1" d="M97.8 402.3h2.6v2.6h-2.6zM147.6 402.3h4.6v2.6h-4.6zM155.6 402.3h2.6v2.6h-2.6zM251.3 402.3h2.6v2.6h-2.6zM159.6 404.3h2.6v2.6h-2.6zM163.6 404.3h2.6v2.6h-2.6zM219.4 404.3h2.6v2.6h-2.6zM259.3 404.3h2.6v2.6h-2.6zM149.6 406.3h6.6v2.6h-6.6zM187.5 406.3h2.6v2.6h-2.6zM201.5 406.3h2.6v2.6h-2.6zM225.4 406.3h2.6v2.6h-2.6zM151.6 408.3h2.6v2.6h-2.6zM163.6 408.3h6.6v2.6h-6.6zM175.6 408.3h2.6v2.6h-2.6zM213.4 408.3h2.6v2.6h-2.6zM235.4 408.3h2.6v2.6h-2.6zM121.7 410.2h4.6v2.6h-4.6zM167.6 410.2h2.6v2.6h-2.6zM173.6 410.2h2.6v2.6h-2.6zM183.5 410.2h2.6v2.6h-2.6zM199.5 410.2h2.6v2.6h-2.6zM217.4 410.2h2.6v2.6h-2.6zM223.4 410.2h2.6v2.6h-2.6zM241.4 410.2h2.6v2.6h-2.6zM255.3 410.2h2.6v2.6h-2.6zM121.7 412.2h4.6v2.6h-4.6zM173.6 412.2h2.6v2.6h-2.6zM195.5 412.2h2.6v2.6h-2.6zM217.4 412.2h2.6v2.6h-2.6zM231.4 412.2h2.6v2.6h-2.6zM239.4 412.2h2.6v2.6h-2.6zM253.3 412.2h2.6v2.6h-2.6zM113.7 414.2h2.6v2.6h-2.6zM123.7 414.2h6.6v2.6h-6.6zM131.7 414.2h2.6v2.6h-2.6zM177.5 414.2h2.6v2.6h-2.6zM181.5 414.2h2.6v2.6h-2.6zM185.5 414.2h2.6v2.6h-2.6zM195.5 414.2h4.6v2.6h-4.6zM217.4 414.2h2.6v2.6h-2.6zM231.4 414.2h2.6v2.6h-2.6zM125.7 416.2h2.6v2.6h-2.6zM181.5 416.2h2.6v2.6h-2.6zM185.5 416.2h2.6v2.6h-2.6zM197.5 416.2h2.6v2.6h-2.6zM211.4 416.2h2.6v2.6h-2.6zM105.8 418.2h2.6v2.6h-2.6zM127.7 418.2h2.6v2.6h-2.6zM181.5 418.2h2.6v2.6h-2.6zM185.5 418.2h2.6v2.6h-2.6zM93.8 420.2h2.6v2.6h-2.6zM181.5 420.2h2.6v2.6h-2.6zM207.5 420.2h2.6v2.6h-2.6zM113.7 422.1h4.6v2.6h-4.6zM133.7 422.1h2.6v2.6h-2.6zM165.6 422.1h4.6v2.6h-4.6zM181.5 422.1h4.6v2.6h-4.6zM219.4 422.1h2.6v2.6h-2.6zM113.7 424.1h6.6v2.6h-6.6zM205.5 424.1h2.6v2.6h-2.6zM227.4 424.1h4.6v2.6h-4.6zM113.7 426.1h4.6v2.6h-4.6zM119.7 426.1h2.6v2.6h-2.6zM135.7 426.1h2.6v2.6h-2.6zM119.7 428.1h2.6v2.6h-2.6zM203.5 428.1h2.6v2.6h-2.6zM189.5 430.1h2.6v2.6h-2.6zM203.5 430.1h2.6v2.6h-2.6zM187.5 432.1h2.6v2.6h-2.6zM231.4 432.1h4.6v2.6h-4.6zM119.7 434h2.6v2.6h-2.6zM135.7 434h2.6v2.6h-2.6zM149.6 434h2.6v2.6h-2.6zM231.4 434h2.6v2.6h-2.6zM93.8 436h4.6v2.6h-4.6zM119.7 436h2.6v2.6h-2.6zM173.6 436h2.6v2.6h-2.6zM95.8 438h2.6v2.6h-2.6zM117.7 438h4.6v2.6h-4.6zM167.6 438h2.6v2.6h-2.6zM173.6 438h2.6v2.6h-2.6zM177.5 438h4.6v2.6h-4.6zM241.4 438h2.6v2.6h-2.6zM119.7 440h4.6v2.6h-4.6zM163.6 440h2.6v2.6h-2.6zM173.6 440h2.6v2.6h-2.6zM177.5 440h2.6v2.6h-2.6zM219.4 440h2.6v2.6h-2.6zM107.8 442h2.6v2.6h-2.6zM121.7 442h8.6v2.6h-8.6zM159.6 442h2.6v2.6h-2.6zM201.5 442h2.6v2.6h-2.6zM97.8 444h2.6v2.6h-2.6zM121.7 444h2.6v2.6h-2.6zM171.6 444h2.6v2.6h-2.6zM201.5 444h2.6v2.6h-2.6zM217.4 444h2.6v2.6h-2.6zM227.4 444h2.6v2.6h-2.6zM237.4 444h2.6v2.6h-2.6zM97.8 446h2.6v2.6h-2.6zM121.7 446h6.6v2.6h-6.6zM159.6 446h2.6v2.6h-2.6zM201.5 446h2.6v2.6h-2.6zM257.3 446h2.6v2.6h-2.6zM95.8 447.9h4.6v2.6h-4.6zM123.7 447.9h4.6v2.6h-4.6zM169.6 447.9h2.6v2.6h-2.6zM219.4 447.9h2.6v2.6h-2.6zM239.4 447.9h2.6v2.6h-2.6zM97.8 449.9h2.6v2.6h-2.6zM105.8 449.9h2.6v2.6h-2.6zM207.5 449.9h2.6v2.6h-2.6zM219.4 449.9h2.6v2.6h-2.6zM127.7 451.9h2.6v2.6h-2.6zM133.7 451.9h2.6v2.6h-2.6zM161.6 451.9h2.6v2.6h-2.6zM187.5 451.9h4.6v2.6h-4.6zM109.7 453.9h2.6v2.6h-2.6zM127.7 453.9h2.6v2.6h-2.6zM133.7 453.9h2.6v2.6h-2.6zM139.7 453.9h2.6v2.6h-2.6zM161.6 453.9h2.6v2.6h-2.6zM205.5 453.9h2.6v2.6h-2.6zM245.3 453.9h2.6v2.6h-2.6zM137.7 455.9h2.6v2.6h-2.6zM161.6 455.9h2.6v2.6h-2.6zM107.8 457.9h2.6v2.6h-2.6zM149.6 457.9h4.6v2.6h-4.6zM185.5 457.9h2.6v2.6h-2.6zM191.5 457.9h2.6v2.6h-2.6zM203.5 457.9h2.6v2.6h-2.6zM255.3 457.9h2.6v2.6h-2.6zM97.8 459.8h2.6v2.6h-2.6zM107.8 459.8h2.6v2.6h-2.6zM149.6 459.8h4.6v2.6h-4.6zM185.5 459.8h2.6v2.6h-2.6zM107.8 461.8h2.6v2.6h-2.6zM127.7 461.8h2.6v2.6h-2.6zM137.7 461.8h2.6v2.6h-2.6zM151.6 461.8h2.6v2.6h-2.6zM185.5 461.8h2.6v2.6h-2.6zM245.3 461.8h2.6v2.6h-2.6zM127.7 463.8h2.6v2.6h-2.6zM133.7 463.8h2.6v2.6h-2.6zM185.5 463.8h2.6v2.6h-2.6zM251.3 463.8h2.6v2.6h-2.6zM127.7 465.8h2.6v2.6h-2.6zM133.7 465.8h2.6v2.6h-2.6zM207.5 465.8h2.6v2.6h-2.6zM223.4 465.8h2.6v2.6h-2.6zM249.3 465.8h2.6v2.6h-2.6zM127.7 467.8h4.6v2.6h-4.6zM105.8 469.8h2.6v2.6h-2.6zM187.5 469.8h2.6v2.6h-2.6zM219.4 469.8h2.6v2.6h-2.6zM225.4 469.8h2.6v2.6h-2.6zM105.8 471.8h2.6v2.6h-2.6zM219.4 471.8h2.6v2.6h-2.6zM105.8 473.7h2.6v2.6h-2.6zM127.7 473.7h2.6v2.6h-2.6zM149.6 473.7h2.6v2.6h-2.6zM127.7 475.7h2.6v2.6h-2.6zM167.6 475.7h2.6v2.6h-2.6zM111.7 477.7h2.6v2.6h-2.6zM127.7 477.7h2.6v2.6h-2.6zM165.6 477.7h2.6v2.6h-2.6zM249.3 477.7h2.6v2.6h-2.6zM117.7 479.7h2.6v2.6h-2.6zM129.7 479.7h4.6v2.6h-4.6zM107.8 481.7h2.6v2.6h-2.6zM119.7 481.7h2.6v2.6h-2.6zM131.7 481.7h4.6v2.6h-4.6zM257.3 481.7h2.6v2.6h-2.6zM107.8 483.7h2.6v2.6h-2.6zM133.7 483.7h2.6v2.6h-2.6zM121.7 485.6h2.6v2.6h-2.6zM133.7 485.6h2.6v2.6h-2.6zM145.6 485.6h2.6v2.6h-2.6zM227.4 485.6h2.6v2.6h-2.6zM231.4 485.6h2.6v2.6h-2.6zM107.8 487.6h2.6v2.6h-2.6zM133.7 487.6h2.6v2.6h-2.6zM143.6 487.6h2.6v2.6h-2.6zM177.5 487.6h2.6v2.6h-2.6zM199.5 487.6h2.6v2.6h-2.6zM107.8 489.6h2.6v2.6h-2.6zM199.5 489.6h2.6v2.6h-2.6zM231.4 489.6h2.6v2.6h-2.6zM119.7 491.6h2.6v2.6h-2.6zM129.7 491.6h2.6v2.6h-2.6zM231.4 491.6h2.6v2.6h-2.6zM117.7 493.6h2.6v2.6h-2.6zM173.6 493.6h2.6v2.6h-2.6zM213.4 493.6h2.6v2.6h-2.6zM217.4 493.6h2.6v2.6h-2.6zM231.4 493.6h2.6v2.6h-2.6zM249.3 493.6h2.6v2.6h-2.6zM231.4 495.6h2.6v2.6h-2.6zM241.4 495.6h2.6v2.6h-2.6zM251.3 495.6h2.6v2.6h-2.6zM183.5 497.5h6.6v2.6h-6.6zM231.4 497.5h2.6v2.6h-2.6zM239.4 497.5h2.6v2.6h-2.6zM255.3 497.5h2.6v2.6h-2.6zM259.3 497.5h2.6v2.6h-2.6zM223.4 499.5h2.6v2.6h-2.6zM231.4 499.5h2.6v2.6h-2.6zM97.8 501.5h2.6v2.6h-2.6zM197.5 501.5h2.6v2.6h-2.6zM231.4 501.5h2.6v2.6h-2.6zM255.3 501.5h4.6v2.6h-4.6zM107.8 503.5h2.6v2.6h-2.6zM131.7 503.5h2.6v2.6h-2.6zM173.6 503.5h2.6v2.6h-2.6zM197.5 503.5h2.6v2.6h-2.6zM231.4 503.5h4.6v2.6h-4.6zM239.4 503.5h2.6v2.6h-2.6zM93.8 505.5h2.6v2.6h-2.6zM189.5 505.5h2.6v2.6h-2.6zM231.4 505.5h2.6v2.6h-2.6zM251.3 505.5h2.6v2.6h-2.6zM153.6 507.5h2.6v2.6h-2.6zM179.5 507.5h2.6v2.6h-2.6zM249.3 507.5h2.6v2.6h-2.6zM99.8 509.5h4.6v2.6h-4.6zM143.6 509.5h2.6v2.6h-2.6zM181.5 509.5h2.6v2.6h-2.6zM219.4 509.5h2.6v2.6h-2.6zM241.4 509.5h2.6v2.6h-2.6zM117.7 511.4h2.6v2.6h-2.6zM151.6 511.4h2.6v2.6h-2.6zM181.5 511.4h2.6v2.6h-2.6zM243.4 511.4h2.6v2.6h-2.6zM117.7 513.4h4.6v2.6h-4.6zM151.6 513.4h2.6v2.6h-2.6zM155.6 513.4h2.6v2.6h-2.6zM217.4 513.4h2.6v2.6h-2.6zM243.4 513.4h2.6v2.6h-2.6zM117.7 515.4h2.6v2.6h-2.6zM151.6 515.4h2.6v2.6h-2.6zM181.5 515.4h2.6v2.6h-2.6zM231.4 515.4h2.6v2.6h-2.6zM243.4 515.4h2.6v2.6h-2.6zM91.8 517.4h2.6v2.6h-2.6zM101.8 517.4h2.6v2.6h-2.6zM117.7 517.4h2.6v2.6h-2.6zM151.6 517.4h2.6v2.6h-2.6zM181.5 517.4h2.6v2.6h-2.6zM231.4 517.4h2.6v2.6h-2.6zM241.4 517.4h2.6v2.6h-2.6zM99.8 519.4h2.6v2.6h-2.6zM103.8 519.4h2.6v2.6h-2.6zM117.7 519.4h2.6v2.6h-2.6zM179.5 519.4h6.6v2.6h-6.6zM205.5 519.4h2.6v2.6h-2.6zM235.4 519.4h4.6v2.6h-4.6zM105.8 521.4h2.6v2.6h-2.6zM111.7 521.4h2.6v2.6h-2.6zM117.7 521.4h2.6v2.6h-2.6zM151.6 521.4h2.6v2.6h-2.6zM183.5 521.4h2.6v2.6h-2.6zM203.5 521.4h2.6v2.6h-2.6zM207.5 521.4h2.6v2.6h-2.6zM223.4 521.4h2.6v2.6h-2.6zM107.8 523.3h2.6v2.6h-2.6zM117.7 523.3h2.6v2.6h-2.6zM131.7 523.3h2.6v2.6h-2.6zM151.6 523.3h4.6v2.6h-4.6zM213.4 523.3h2.6v2.6h-2.6zM97.8 525.3h2.6v2.6h-2.6zM117.7 525.3h2.6v2.6h-2.6zM149.6 525.3h6.6v2.6h-6.6zM161.6 525.3h2.6v2.6h-2.6zM185.5 525.3h2.6v2.6h-2.6zM189.5 525.3h2.6v2.6h-2.6zM213.4 525.3h2.6v2.6h-2.6zM251.3 525.3h2.6v2.6h-2.6zM117.7 527.3h2.6v2.6h-2.6zM151.6 527.3h2.6v2.6h-2.6zM161.6 527.3h2.6v2.6h-2.6zM185.5 527.3h2.6v2.6h-2.6zM195.5 527.3h2.6v2.6h-2.6zM201.5 527.3h2.6v2.6h-2.6zM117.7 529.3h2.6v2.6h-2.6zM149.6 529.3h2.6v2.6h-2.6zM185.5 529.3h2.6v2.6h-2.6zM189.5 529.3h2.6v2.6h-2.6zM195.5 529.3h2.6v2.6h-2.6zM201.5 529.3h2.6v2.6h-2.6zM225.4 529.3h2.6v2.6h-2.6zM95.8 531.3h2.6v2.6h-2.6zM183.5 531.3h2.6v2.6h-2.6zM195.5 531.3h2.6v2.6h-2.6zM243.4 531.3h2.6v2.6h-2.6zM91.8 533.3h2.6v2.6h-2.6zM141.7 533.3h2.6v2.6h-2.6zM149.6 533.3h2.6v2.6h-2.6zM179.5 533.3h2.6v2.6h-2.6zM189.5 533.3h2.6v2.6h-2.6zM195.5 533.3h2.6v2.6h-2.6zM225.4 533.3h2.6v2.6h-2.6zM243.4 533.3h2.6v2.6h-2.6zM247.3 533.3h2.6v2.6h-2.6zM141.7 535.2h2.6v2.6h-2.6zM235.4 535.2h2.6v2.6h-2.6zM259.3 535.2h2.6v2.6h-2.6zM223.4 537.2h4.6v2.6h-4.6zM255.3 537.2h6.6v2.6h-6.6z"/><path fill="#0000e2" d="M159.6 402.3h2.6v2.6h-2.6zM163.6 402.3h2.6v2.6h-2.6zM201.5 402.3h2.6v2.6h-2.6zM217.4 402.3h2.6v2.6h-2.6zM229.4 402.3h2.6v2.6h-2.6zM149.6 404.3h6.6v2.6h-6.6zM229.4 404.3h2.6v2.6h-2.6zM123.7 406.3h2.6v2.6h-2.6zM161.6 406.3h2.6v2.6h-2.6zM195.5 406.3h2.6v2.6h-2.6zM215.4 406.3h6.6v2.6h-6.6zM229.4 406.3h2.6v2.6h-2.6zM257.3 406.3h2.6v2.6h-2.6zM121.7 408.3h4.6v2.6h-4.6zM195.5 408.3h2.6v2.6h-2.6zM199.5 408.3h2.6v2.6h-2.6zM219.4 408.3h2.6v2.6h-2.6zM241.4 408.3h2.6v2.6h-2.6zM165.6 410.2h2.6v2.6h-2.6zM175.6 410.2h2.6v2.6h-2.6zM195.5 410.2h2.6v2.6h-2.6zM221.4 410.2h2.6v2.6h-2.6zM239.4 410.2h2.6v2.6h-2.6zM253.3 410.2h2.6v2.6h-2.6zM113.7 412.2h2.6v2.6h-2.6zM167.6 412.2h2.6v2.6h-2.6zM179.5 412.2h6.6v2.6h-6.6zM197.5 412.2h2.6v2.6h-2.6zM201.5 412.2h2.6v2.6h-2.6zM105.8 414.2h2.6v2.6h-2.6zM171.6 414.2h4.6v2.6h-4.6zM211.4 414.2h2.6v2.6h-2.6zM105.8 416.2h2.6v2.6h-2.6zM127.7 416.2h2.6v2.6h-2.6zM131.7 416.2h2.6v2.6h-2.6zM173.6 416.2h2.6v2.6h-2.6zM177.5 416.2h2.6v2.6h-2.6zM231.4 416.2h2.6v2.6h-2.6zM113.7 418.2h2.6v2.6h-2.6zM173.6 418.2h2.6v2.6h-2.6zM177.5 418.2h2.6v2.6h-2.6zM211.4 418.2h2.6v2.6h-2.6zM231.4 418.2h2.6v2.6h-2.6zM115.7 420.2h2.6v2.6h-2.6zM129.7 420.2h2.6v2.6h-2.6zM165.6 420.2h4.6v2.6h-4.6zM173.6 420.2h2.6v2.6h-2.6zM211.4 420.2h2.6v2.6h-2.6zM219.4 420.2h2.6v2.6h-2.6zM231.4 420.2h2.6v2.6h-2.6zM255.3 420.2h2.6v2.6h-2.6zM93.8 422.1h2.6v2.6h-2.6zM173.6 422.1h2.6v2.6h-2.6zM207.5 422.1h2.6v2.6h-2.6zM211.4 422.1h2.6v2.6h-2.6zM221.4 422.1h2.6v2.6h-2.6zM225.4 422.1h8.6v2.6h-8.6zM93.8 424.1h2.6v2.6h-2.6zM133.7 424.1h2.6v2.6h-2.6zM173.6 424.1h2.6v2.6h-2.6zM231.4 424.1h2.6v2.6h-2.6zM117.7 426.1h2.6v2.6h-2.6zM173.6 426.1h2.6v2.6h-2.6zM179.5 426.1h2.6v2.6h-2.6zM205.5 426.1h2.6v2.6h-2.6zM231.4 426.1h2.6v2.6h-2.6zM95.8 428.1h2.6v2.6h-2.6zM113.7 428.1h4.6v2.6h-4.6zM173.6 428.1h2.6v2.6h-2.6zM179.5 428.1h2.6v2.6h-2.6zM231.4 428.1h2.6v2.6h-2.6zM119.7 430.1h2.6v2.6h-2.6zM173.6 430.1h2.6v2.6h-2.6zM187.5 430.1h2.6v2.6h-2.6zM231.4 430.1h2.6v2.6h-2.6zM235.4 430.1h4.6v2.6h-4.6zM119.7 432.1h2.6v2.6h-2.6zM137.7 432.1h4.6v2.6h-4.6zM173.6 432.1h2.6v2.6h-2.6zM217.4 432.1h2.6v2.6h-2.6zM93.8 434h4.6v2.6h-4.6zM117.7 434h2.6v2.6h-2.6zM173.6 434h2.6v2.6h-2.6zM179.5 434h2.6v2.6h-2.6zM205.5 434h2.6v2.6h-2.6zM133.7 436h2.6v2.6h-2.6zM159.6 436h2.6v2.6h-2.6zM215.4 436h4.6v2.6h-4.6zM133.7 438h2.6v2.6h-2.6zM165.6 438h2.6v2.6h-2.6zM171.6 438h2.6v2.6h-2.6zM207.5 438h2.6v2.6h-2.6zM235.4 438h6.6v2.6h-6.6zM149.6 440h4.6v2.6h-4.6zM167.6 440h2.6v2.6h-2.6zM175.6 440h2.6v2.6h-2.6zM189.5 440h2.6v2.6h-2.6zM239.4 440h2.6v2.6h-2.6zM249.3 440h2.6v2.6h-2.6zM161.6 442h2.6v2.6h-2.6zM219.4 442h2.6v2.6h-2.6zM235.4 442h4.6v2.6h-4.6zM259.3 442h2.6v2.6h-2.6zM123.7 444h4.6v2.6h-4.6zM159.6 444h2.6v2.6h-2.6zM169.6 444h2.6v2.6h-2.6zM221.4 444h6.6v2.6h-6.6zM257.3 444h2.6v2.6h-2.6zM127.7 446h2.6v2.6h-2.6zM169.6 446h2.6v2.6h-2.6zM219.4 446h2.6v2.6h-2.6zM237.4 446h2.6v2.6h-2.6zM259.3 446h2.6v2.6h-2.6zM107.8 447.9h2.6v2.6h-2.6zM127.7 447.9h2.6v2.6h-2.6zM137.7 447.9h4.6v2.6h-4.6zM161.6 447.9h2.6v2.6h-2.6zM189.5 447.9h4.6v2.6h-4.6zM203.5 447.9h2.6v2.6h-2.6zM95.8 449.9h2.6v2.6h-2.6zM107.8 449.9h2.6v2.6h-2.6zM127.7 449.9h2.6v2.6h-2.6zM161.6 449.9h2.6v2.6h-2.6zM241.4 449.9h2.6v2.6h-2.6zM97.8 451.9h2.6v2.6h-2.6zM105.8 451.9h4.6v2.6h-4.6zM97.8 453.9h2.6v2.6h-2.6zM107.8 453.9h2.6v2.6h-2.6zM167.6 453.9h2.6v2.6h-2.6zM183.5 453.9h2.6v2.6h-2.6zM187.5 453.9h4.6v2.6h-4.6zM211.4 453.9h2.6v2.6h-2.6zM97.8 455.9h2.6v2.6h-2.6zM107.8 455.9h2.6v2.6h-2.6zM117.7 455.9h2.6v2.6h-2.6zM133.7 455.9h2.6v2.6h-2.6zM155.6 455.9h6.6v2.6h-6.6zM167.6 455.9h2.6v2.6h-2.6zM201.5 455.9h6.6v2.6h-6.6zM211.4 455.9h2.6v2.6h-2.6zM255.3 455.9h2.6v2.6h-2.6zM137.7 457.9h2.6v2.6h-2.6zM167.6 457.9h2.6v2.6h-2.6zM211.4 457.9h2.6v2.6h-2.6zM253.3 457.9h2.6v2.6h-2.6zM133.7 459.8h2.6v2.6h-2.6zM137.7 459.8h2.6v2.6h-2.6zM167.6 459.8h2.6v2.6h-2.6zM211.4 459.8h2.6v2.6h-2.6zM247.3 459.8h2.6v2.6h-2.6zM95.8 461.8h2.6v2.6h-2.6zM133.7 461.8h2.6v2.6h-2.6zM139.7 461.8h2.6v2.6h-2.6zM147.6 461.8h4.6v2.6h-4.6zM167.6 461.8h2.6v2.6h-2.6zM253.3 461.8h2.6v2.6h-2.6zM131.7 463.8h2.6v2.6h-2.6zM207.5 463.8h2.6v2.6h-2.6zM105.8 465.8h2.6v2.6h-2.6zM149.6 465.8h2.6v2.6h-2.6zM179.5 465.8h2.6v2.6h-2.6zM189.5 465.8h2.6v2.6h-2.6zM251.3 465.8h4.6v2.6h-4.6zM105.8 467.8h2.6v2.6h-2.6zM137.7 467.8h4.6v2.6h-4.6zM249.3 467.8h2.6v2.6h-2.6zM111.7 469.8h2.6v2.6h-2.6zM127.7 469.8h2.6v2.6h-2.6zM149.6 469.8h2.6v2.6h-2.6zM171.6 469.8h2.6v2.6h-2.6zM235.4 469.8h2.6v2.6h-2.6zM111.7 471.8h2.6v2.6h-2.6zM127.7 471.8h2.6v2.6h-2.6zM111.7 473.7h2.6v2.6h-2.6zM167.6 473.7h2.6v2.6h-2.6zM225.4 473.7h2.6v2.6h-2.6zM239.4 473.7h4.6v2.6h-4.6zM105.8 475.7h2.6v2.6h-2.6zM165.6 475.7h2.6v2.6h-2.6zM229.4 475.7h2.6v2.6h-2.6zM251.3 475.7h2.6v2.6h-2.6zM117.7 481.7h2.6v2.6h-2.6zM145.6 481.7h2.6v2.6h-2.6zM241.4 481.7h2.6v2.6h-2.6zM259.3 481.7h2.6v2.6h-2.6zM119.7 483.7h2.6v2.6h-2.6zM131.7 483.7h2.6v2.6h-2.6zM145.6 483.7h2.6v2.6h-2.6zM107.8 485.6h2.6v2.6h-2.6zM143.6 485.6h2.6v2.6h-2.6zM119.7 487.6h2.6v2.6h-2.6zM205.5 487.6h2.6v2.6h-2.6zM119.7 489.6h2.6v2.6h-2.6zM225.4 489.6h2.6v2.6h-2.6zM117.7 491.6h2.6v2.6h-2.6zM175.6 491.6h2.6v2.6h-2.6zM181.5 491.6h2.6v2.6h-2.6zM181.5 493.6h2.6v2.6h-2.6zM207.5 493.6h2.6v2.6h-2.6zM95.8 495.6h2.6v2.6h-2.6zM173.6 495.6h2.6v2.6h-2.6zM213.4 495.6h2.6v2.6h-2.6zM219.4 495.6h2.6v2.6h-2.6zM249.3 495.6h2.6v2.6h-2.6zM257.3 495.6h4.6v2.6h-4.6zM209.5 497.5h4.6v2.6h-4.6zM223.4 497.5h2.6v2.6h-2.6zM257.3 497.5h2.6v2.6h-2.6zM141.7 499.5h2.6v2.6h-2.6zM183.5 499.5h4.6v2.6h-4.6zM239.4 499.5h2.6v2.6h-2.6zM255.3 499.5h4.6v2.6h-4.6zM131.7 501.5h2.6v2.6h-2.6zM173.6 501.5h2.6v2.6h-2.6zM183.5 501.5h4.6v2.6h-4.6zM221.4 501.5h2.6v2.6h-2.6zM239.4 501.5h2.6v2.6h-2.6zM97.8 503.5h2.6v2.6h-2.6zM183.5 503.5h4.6v2.6h-4.6zM193.5 503.5h4.6v2.6h-4.6zM249.3 503.5h4.6v2.6h-4.6zM107.8 505.5h2.6v2.6h-2.6zM175.6 505.5h4.6v2.6h-4.6zM183.5 505.5h2.6v2.6h-2.6zM197.5 505.5h2.6v2.6h-2.6zM241.4 505.5h2.6v2.6h-2.6zM249.3 505.5h2.6v2.6h-2.6zM181.5 507.5h4.6v2.6h-4.6zM197.5 507.5h2.6v2.6h-2.6zM219.4 507.5h2.6v2.6h-2.6zM231.4 507.5h2.6v2.6h-2.6zM241.4 507.5h2.6v2.6h-2.6zM93.8 509.5h2.6v2.6h-2.6zM153.6 509.5h2.6v2.6h-2.6zM189.5 509.5h2.6v2.6h-2.6zM217.4 509.5h2.6v2.6h-2.6zM231.4 509.5h2.6v2.6h-2.6zM99.8 511.4h4.6v2.6h-4.6zM145.6 511.4h2.6v2.6h-2.6zM217.4 511.4h2.6v2.6h-2.6zM231.4 511.4h2.6v2.6h-2.6zM111.7 513.4h2.6v2.6h-2.6zM231.4 513.4h2.6v2.6h-2.6zM101.8 515.4h4.6v2.6h-4.6zM111.7 515.4h2.6v2.6h-2.6zM189.5 515.4h2.6v2.6h-2.6zM99.8 517.4h2.6v2.6h-2.6zM103.8 517.4h2.6v2.6h-2.6zM111.7 517.4h2.6v2.6h-2.6zM183.5 517.4h2.6v2.6h-2.6zM189.5 517.4h2.6v2.6h-2.6zM105.8 519.4h2.6v2.6h-2.6zM203.5 519.4h2.6v2.6h-2.6zM239.4 519.4h4.6v2.6h-4.6zM91.8 521.4h2.6v2.6h-2.6zM107.8 521.4h2.6v2.6h-2.6zM153.6 521.4h2.6v2.6h-2.6zM179.5 521.4h4.6v2.6h-4.6zM185.5 521.4h2.6v2.6h-2.6zM189.5 521.4h2.6v2.6h-2.6zM213.4 521.4h2.6v2.6h-2.6zM237.4 521.4h6.6v2.6h-6.6zM97.8 523.3h2.6v2.6h-2.6zM181.5 523.3h2.6v2.6h-2.6zM185.5 523.3h2.6v2.6h-2.6zM235.4 523.3h2.6v2.6h-2.6zM131.7 525.3h2.6v2.6h-2.6zM147.6 525.3h2.6v2.6h-2.6zM165.6 525.3h2.6v2.6h-2.6zM181.5 525.3h2.6v2.6h-2.6zM201.5 525.3h2.6v2.6h-2.6zM209.5 525.3h4.6v2.6h-4.6zM149.6 527.3h2.6v2.6h-2.6zM211.4 527.3h2.6v2.6h-2.6zM251.3 527.3h2.6v2.6h-2.6zM93.8 529.3h4.6v2.6h-4.6zM147.6 529.3h2.6v2.6h-2.6zM161.6 529.3h2.6v2.6h-2.6zM181.5 529.3h2.6v2.6h-2.6zM251.3 529.3h2.6v2.6h-2.6zM161.6 531.3h2.6v2.6h-2.6zM181.5 531.3h2.6v2.6h-2.6zM185.5 531.3h2.6v2.6h-2.6zM235.4 531.3h2.6v2.6h-2.6zM251.3 531.3h2.6v2.6h-2.6zM181.5 533.3h4.6v2.6h-4.6zM199.5 533.3h2.6v2.6h-2.6zM243.4 535.2h2.6v2.6h-2.6zM199.5 537.2h2.6v2.6h-2.6zM227.4 537.2h2.6v2.6h-2.6zM253.3 537.2h2.6v2.6h-2.6zM237.4 539.2h2.6v2.6h-2.6zM257.3 539.2h4.6v2.6h-4.6z"/><path fill="#0004ff" d="M123.7 402.3h2.6v2.6h-2.6zM151.6 402.3h2.6v2.6h-2.6zM187.5 402.3h4.6v2.6h-4.6zM195.5 402.3h2.6v2.6h-2.6zM235.4 402.3h2.6v2.6h-2.6zM259.3 402.3h2.6v2.6h-2.6zM91.8 404.3h2.6v2.6h-2.6zM123.7 404.3h2.6v2.6h-2.6zM139.7 404.3h2.6v2.6h-2.6zM147.6 404.3h2.6v2.6h-2.6zM157.6 404.3h2.6v2.6h-2.6zM161.6 404.3h2.6v2.6h-2.6zM189.5 404.3h2.6v2.6h-2.6zM195.5 404.3h2.6v2.6h-2.6zM203.5 404.3h2.6v2.6h-2.6zM223.4 404.3h4.6v2.6h-4.6zM235.4 404.3h2.6v2.6h-2.6zM257.3 404.3h2.6v2.6h-2.6zM121.7 406.3h2.6v2.6h-2.6zM199.5 406.3h2.6v2.6h-2.6zM213.4 406.3h2.6v2.6h-2.6zM91.8 408.3h2.6v2.6h-2.6zM137.7 408.3h4.6v2.6h-4.6zM149.6 408.3h2.6v2.6h-2.6zM157.6 408.3h2.6v2.6h-2.6zM217.4 408.3h2.6v2.6h-2.6zM225.4 408.3h2.6v2.6h-2.6zM229.4 408.3h2.6v2.6h-2.6zM237.4 408.3h4.6v2.6h-4.6zM253.3 408.3h4.6v2.6h-4.6zM105.8 410.2h2.6v2.6h-2.6zM149.6 410.2h2.6v2.6h-2.6zM163.6 410.2h2.6v2.6h-2.6zM197.5 410.2h2.6v2.6h-2.6zM209.5 410.2h4.6v2.6h-4.6zM219.4 410.2h2.6v2.6h-2.6zM225.4 410.2h2.6v2.6h-2.6zM229.4 410.2h2.6v2.6h-2.6zM237.4 410.2h2.6v2.6h-2.6zM105.8 412.2h2.6v2.6h-2.6zM109.7 412.2h4.6v2.6h-4.6zM149.6 412.2h2.6v2.6h-2.6zM165.6 412.2h2.6v2.6h-2.6zM175.6 412.2h4.6v2.6h-4.6zM187.5 412.2h4.6v2.6h-4.6zM199.5 412.2h2.6v2.6h-2.6zM207.5 412.2h6.6v2.6h-6.6zM221.4 412.2h4.6v2.6h-4.6zM229.4 412.2h2.6v2.6h-2.6zM167.6 414.2h4.6v2.6h-4.6zM209.5 414.2h2.6v2.6h-2.6zM229.4 414.2h2.6v2.6h-2.6zM129.7 416.2h2.6v2.6h-2.6zM199.5 416.2h2.6v2.6h-2.6zM207.5 416.2h4.6v2.6h-4.6zM129.7 418.2h4.6v2.6h-4.6zM167.6 418.2h4.6v2.6h-4.6zM229.4 418.2h2.6v2.6h-2.6zM239.4 418.2h2.6v2.6h-2.6zM111.7 420.2h4.6v2.6h-4.6zM177.5 420.2h2.6v2.6h-2.6zM183.5 420.2h2.6v2.6h-2.6zM215.4 420.2h2.6v2.6h-2.6zM225.4 420.2h6.6v2.6h-6.6zM253.3 420.2h2.6v2.6h-2.6zM177.5 422.1h2.6v2.6h-2.6zM223.4 422.1h2.6v2.6h-2.6zM239.4 422.1h2.6v2.6h-2.6zM211.4 424.1h2.6v2.6h-2.6zM225.4 424.1h2.6v2.6h-2.6zM93.8 426.1h2.6v2.6h-2.6zM133.7 426.1h2.6v2.6h-2.6zM171.6 426.1h2.6v2.6h-2.6zM211.4 426.1h2.6v2.6h-2.6zM235.4 426.1h2.6v2.6h-2.6zM109.7 428.1h4.6v2.6h-4.6zM117.7 428.1h2.6v2.6h-2.6zM191.5 428.1h6.6v2.6h-6.6zM205.5 428.1h2.6v2.6h-2.6zM211.4 428.1h2.6v2.6h-2.6zM217.4 428.1h2.6v2.6h-2.6zM95.8 430.1h2.6v2.6h-2.6zM117.7 430.1h2.6v2.6h-2.6zM169.6 430.1h4.6v2.6h-4.6zM95.8 432.1h2.6v2.6h-2.6zM135.7 432.1h2.6v2.6h-2.6zM149.6 432.1h4.6v2.6h-4.6zM157.6 432.1h4.6v2.6h-4.6zM179.5 432.1h2.6v2.6h-2.6zM205.5 432.1h2.6v2.6h-2.6zM247.3 432.1h2.6v2.6h-2.6zM91.8 434h2.6v2.6h-2.6zM133.7 434h2.6v2.6h-2.6zM177.5 434h2.6v2.6h-2.6zM149.6 436h2.6v2.6h-2.6zM157.6 436h2.6v2.6h-2.6zM201.5 436h4.6v2.6h-4.6zM227.4 436h4.6v2.6h-4.6zM163.6 438h2.6v2.6h-2.6zM169.6 438h2.6v2.6h-2.6zM175.6 438h2.6v2.6h-2.6zM117.7 440h2.6v2.6h-2.6zM147.6 440h2.6v2.6h-2.6zM165.6 440h2.6v2.6h-2.6zM187.5 440h2.6v2.6h-2.6zM199.5 440h4.6v2.6h-4.6zM207.5 440h2.6v2.6h-2.6zM241.4 440h2.6v2.6h-2.6zM245.3 440h4.6v2.6h-4.6zM163.6 442h2.6v2.6h-2.6zM167.6 442h2.6v2.6h-2.6zM179.5 442h6.6v2.6h-6.6zM239.4 442h2.6v2.6h-2.6zM93.8 444h2.6v2.6h-2.6zM107.8 444h2.6v2.6h-2.6zM111.7 444h2.6v2.6h-2.6zM127.7 444h2.6v2.6h-2.6zM139.7 444h2.6v2.6h-2.6zM149.6 444h4.6v2.6h-4.6zM219.4 444h2.6v2.6h-2.6zM259.3 444h2.6v2.6h-2.6zM107.8 446h2.6v2.6h-2.6zM161.6 446h2.6v2.6h-2.6zM235.4 446h2.6v2.6h-2.6zM239.4 446h2.6v2.6h-2.6zM93.8 447.9h2.6v2.6h-2.6zM135.7 447.9h2.6v2.6h-2.6zM187.5 447.9h2.6v2.6h-2.6zM201.5 447.9h2.6v2.6h-2.6zM207.5 447.9h2.6v2.6h-2.6zM223.4 447.9h4.6v2.6h-4.6zM241.4 447.9h2.6v2.6h-2.6zM247.3 447.9h2.6v2.6h-2.6zM109.7 449.9h2.6v2.6h-2.6zM163.6 449.9h2.6v2.6h-2.6zM167.6 449.9h2.6v2.6h-2.6zM171.6 449.9h2.6v2.6h-2.6zM211.4 449.9h2.6v2.6h-2.6zM235.4 449.9h6.6v2.6h-6.6zM91.8 451.9h2.6v2.6h-2.6zM95.8 451.9h2.6v2.6h-2.6zM157.6 451.9h2.6v2.6h-2.6zM163.6 451.9h2.6v2.6h-2.6zM167.6 451.9h2.6v2.6h-2.6zM211.4 451.9h2.6v2.6h-2.6zM255.3 451.9h2.6v2.6h-2.6zM95.8 453.9h2.6v2.6h-2.6zM105.8 453.9h2.6v2.6h-2.6zM177.5 453.9h6.6v2.6h-6.6zM207.5 453.9h2.6v2.6h-2.6zM91.8 455.9h2.6v2.6h-2.6zM109.7 455.9h4.6v2.6h-4.6zM139.7 455.9h2.6v2.6h-2.6zM165.6 455.9h2.6v2.6h-2.6zM189.5 455.9h2.6v2.6h-2.6zM199.5 455.9h2.6v2.6h-2.6zM207.5 455.9h2.6v2.6h-2.6zM253.3 455.9h2.6v2.6h-2.6zM97.8 457.9h2.6v2.6h-2.6zM133.7 457.9h2.6v2.6h-2.6zM165.6 457.9h2.6v2.6h-2.6zM205.5 457.9h2.6v2.6h-2.6zM237.4 457.9h2.6v2.6h-2.6zM139.7 459.8h2.6v2.6h-2.6zM157.6 459.8h2.6v2.6h-2.6zM165.6 459.8h2.6v2.6h-2.6zM179.5 459.8h2.6v2.6h-2.6zM207.5 459.8h2.6v2.6h-2.6zM245.3 459.8h2.6v2.6h-2.6zM257.3 459.8h2.6v2.6h-2.6zM163.6 461.8h4.6v2.6h-4.6zM189.5 461.8h2.6v2.6h-2.6zM207.5 461.8h2.6v2.6h-2.6zM211.4 461.8h2.6v2.6h-2.6zM105.8 463.8h2.6v2.6h-2.6zM111.7 463.8h2.6v2.6h-2.6zM137.7 463.8h4.6v2.6h-4.6zM149.6 463.8h4.6v2.6h-4.6zM159.6 463.8h2.6v2.6h-2.6zM165.6 463.8h4.6v2.6h-4.6zM211.4 463.8h2.6v2.6h-2.6zM217.4 463.8h2.6v2.6h-2.6zM225.4 463.8h2.6v2.6h-2.6zM255.3 463.8h2.6v2.6h-2.6zM131.7 465.8h2.6v2.6h-2.6zM147.6 465.8h2.6v2.6h-2.6zM167.6 465.8h4.6v2.6h-4.6zM175.6 465.8h4.6v2.6h-4.6zM187.5 465.8h2.6v2.6h-2.6zM211.4 465.8h2.6v2.6h-2.6zM235.4 465.8h6.6v2.6h-6.6zM151.6 467.8h2.6v2.6h-2.6zM167.6 467.8h2.6v2.6h-2.6zM225.4 467.8h2.6v2.6h-2.6zM251.3 467.8h2.6v2.6h-2.6zM255.3 467.8h4.6v2.6h-4.6zM91.8 469.8h2.6v2.6h-2.6zM167.6 469.8h2.6v2.6h-2.6zM221.4 469.8h2.6v2.6h-2.6zM233.4 469.8h2.6v2.6h-2.6zM93.8 471.8h2.6v2.6h-2.6zM167.6 471.8h2.6v2.6h-2.6zM247.3 471.8h2.6v2.6h-2.6zM255.3 471.8h4.6v2.6h-4.6zM91.8 473.7h2.6v2.6h-2.6zM165.6 473.7h2.6v2.6h-2.6zM211.4 473.7h2.6v2.6h-2.6zM233.4 473.7h6.6v2.6h-6.6zM251.3 473.7h2.6v2.6h-2.6zM141.7 475.7h2.6v2.6h-2.6zM189.5 475.7h4.6v2.6h-4.6zM225.4 475.7h4.6v2.6h-4.6zM105.8 477.7h2.6v2.6h-2.6zM143.6 477.7h2.6v2.6h-2.6zM225.4 477.7h2.6v2.6h-2.6zM93.8 479.7h2.6v2.6h-2.6zM105.8 479.7h2.6v2.6h-2.6zM143.6 479.7h4.6v2.6h-4.6zM211.4 479.7h2.6v2.6h-2.6zM225.4 479.7h4.6v2.6h-4.6zM247.3 479.7h2.6v2.6h-2.6zM255.3 479.7h2.6v2.6h-2.6zM143.6 481.7h2.6v2.6h-2.6zM165.6 481.7h2.6v2.6h-2.6zM225.4 481.7h2.6v2.6h-2.6zM235.4 481.7h6.6v2.6h-6.6zM117.7 483.7h2.6v2.6h-2.6zM143.6 483.7h2.6v2.6h-2.6zM177.5 483.7h6.6v2.6h-6.6zM227.4 483.7h2.6v2.6h-2.6zM257.3 483.7h2.6v2.6h-2.6zM119.7 485.6h2.6v2.6h-2.6zM131.7 485.6h2.6v2.6h-2.6zM179.5 485.6h2.6v2.6h-2.6zM93.8 487.6h2.6v2.6h-2.6zM117.7 487.6h2.6v2.6h-2.6zM131.7 487.6h2.6v2.6h-2.6zM179.5 487.6h2.6v2.6h-2.6zM193.5 487.6h2.6v2.6h-2.6zM201.5 487.6h4.6v2.6h-4.6zM253.3 487.6h6.6v2.6h-6.6zM117.7 489.6h2.6v2.6h-2.6zM203.5 489.6h4.6v2.6h-4.6zM257.3 489.6h2.6v2.6h-2.6zM131.7 491.6h2.6v2.6h-2.6zM177.5 491.6h2.6v2.6h-2.6zM211.4 491.6h2.6v2.6h-2.6zM259.3 491.6h2.6v2.6h-2.6zM131.7 493.6h2.6v2.6h-2.6zM175.6 493.6h2.6v2.6h-2.6zM223.4 493.6h2.6v2.6h-2.6zM257.3 493.6h4.6v2.6h-4.6zM93.8 495.6h2.6v2.6h-2.6zM131.7 495.6h2.6v2.6h-2.6zM181.5 495.6h2.6v2.6h-2.6zM217.4 495.6h2.6v2.6h-2.6zM223.4 495.6h2.6v2.6h-2.6zM255.3 495.6h2.6v2.6h-2.6zM95.8 497.5h2.6v2.6h-2.6zM131.7 497.5h2.6v2.6h-2.6zM173.6 497.5h2.6v2.6h-2.6zM213.4 497.5h2.6v2.6h-2.6zM221.4 497.5h2.6v2.6h-2.6zM241.4 497.5h2.6v2.6h-2.6zM249.3 497.5h4.6v2.6h-4.6zM103.8 499.5h2.6v2.6h-2.6zM131.7 499.5h2.6v2.6h-2.6zM137.7 499.5h4.6v2.6h-4.6zM209.5 499.5h4.6v2.6h-4.6zM103.8 501.5h2.6v2.6h-2.6zM187.5 501.5h2.6v2.6h-2.6zM209.5 501.5h6.6v2.6h-6.6zM235.4 501.5h2.6v2.6h-2.6zM249.3 501.5h4.6v2.6h-4.6zM103.8 503.5h2.6v2.6h-2.6zM111.7 503.5h2.6v2.6h-2.6zM181.5 503.5h2.6v2.6h-2.6zM189.5 503.5h4.6v2.6h-4.6zM211.4 503.5h2.6v2.6h-2.6zM221.4 503.5h4.6v2.6h-4.6zM241.4 503.5h2.6v2.6h-2.6zM97.8 505.5h2.6v2.6h-2.6zM103.8 505.5h2.6v2.6h-2.6zM179.5 505.5h4.6v2.6h-4.6zM185.5 505.5h2.6v2.6h-2.6zM217.4 505.5h4.6v2.6h-4.6zM235.4 505.5h6.6v2.6h-6.6zM93.8 507.5h2.6v2.6h-2.6zM103.8 507.5h2.6v2.6h-2.6zM107.8 507.5h2.6v2.6h-2.6zM177.5 507.5h2.6v2.6h-2.6zM185.5 507.5h2.6v2.6h-2.6zM217.4 507.5h2.6v2.6h-2.6zM255.3 507.5h4.6v2.6h-4.6zM103.8 509.5h2.6v2.6h-2.6zM183.5 509.5h2.6v2.6h-2.6zM197.5 509.5h2.6v2.6h-2.6zM93.8 511.4h2.6v2.6h-2.6zM103.8 511.4h2.6v2.6h-2.6zM153.6 511.4h2.6v2.6h-2.6zM183.5 511.4h2.6v2.6h-2.6zM197.5 511.4h2.6v2.6h-2.6zM93.8 513.4h2.6v2.6h-2.6zM99.8 513.4h6.6v2.6h-6.6zM189.5 513.4h2.6v2.6h-2.6zM197.5 513.4h2.6v2.6h-2.6zM99.8 515.4h2.6v2.6h-2.6zM105.8 515.4h2.6v2.6h-2.6zM183.5 515.4h2.6v2.6h-2.6zM93.8 517.4h2.6v2.6h-2.6zM105.8 517.4h2.6v2.6h-2.6zM153.6 517.4h2.6v2.6h-2.6zM203.5 517.4h6.6v2.6h-6.6zM213.4 517.4h2.6v2.6h-2.6zM107.8 519.4h2.6v2.6h-2.6zM153.6 519.4h2.6v2.6h-2.6zM185.5 519.4h2.6v2.6h-2.6zM211.4 519.4h4.6v2.6h-4.6zM93.8 521.4h2.6v2.6h-2.6zM97.8 521.4h2.6v2.6h-2.6zM143.6 521.4h4.6v2.6h-4.6zM201.5 521.4h2.6v2.6h-2.6zM209.5 521.4h4.6v2.6h-4.6zM249.3 521.4h2.6v2.6h-2.6zM145.6 523.3h2.6v2.6h-2.6zM211.4 523.3h2.6v2.6h-2.6zM237.4 523.3h2.6v2.6h-2.6zM241.4 523.3h2.6v2.6h-2.6zM91.8 525.3h6.6v2.6h-6.6zM143.6 525.3h4.6v2.6h-4.6zM95.8 527.3h2.6v2.6h-2.6zM131.7 527.3h2.6v2.6h-2.6zM145.6 527.3h2.6v2.6h-2.6zM165.6 527.3h2.6v2.6h-2.6zM181.5 527.3h2.6v2.6h-2.6zM235.4 527.3h2.6v2.6h-2.6zM91.8 529.3h2.6v2.6h-2.6zM143.6 529.3h4.6v2.6h-4.6zM165.6 529.3h2.6v2.6h-2.6zM187.5 529.3h2.6v2.6h-2.6zM145.6 531.3h2.6v2.6h-2.6zM163.6 531.3h4.6v2.6h-4.6zM179.5 531.3h2.6v2.6h-2.6zM143.6 533.3h4.6v2.6h-4.6zM161.6 533.3h2.6v2.6h-2.6zM185.5 533.3h4.6v2.6h-4.6zM223.4 533.3h2.6v2.6h-2.6zM251.3 533.3h2.6v2.6h-2.6zM143.6 535.2h4.6v2.6h-4.6zM237.4 535.2h2.6v2.6h-2.6zM251.3 535.2h2.6v2.6h-2.6zM237.4 537.2h2.6v2.6h-2.6zM243.4 537.2h2.6v2.6h-2.6z"/><path fill="#0025ff" d="M121.7 402.3h2.6v2.6h-2.6zM153.6 402.3h2.6v2.6h-2.6zM161.6 402.3h2.6v2.6h-2.6zM199.5 402.3h2.6v2.6h-2.6zM209.5 402.3h2.6v2.6h-2.6zM227.4 402.3h2.6v2.6h-2.6zM241.4 402.3h2.6v2.6h-2.6zM105.8 404.3h2.6v2.6h-2.6zM113.7 404.3h2.6v2.6h-2.6zM121.7 404.3h2.6v2.6h-2.6zM135.7 404.3h4.6v2.6h-4.6zM155.6 404.3h2.6v2.6h-2.6zM187.5 404.3h2.6v2.6h-2.6zM199.5 404.3h4.6v2.6h-4.6zM209.5 404.3h2.6v2.6h-2.6zM213.4 404.3h2.6v2.6h-2.6zM217.4 404.3h2.6v2.6h-2.6zM221.4 404.3h2.6v2.6h-2.6zM227.4 404.3h2.6v2.6h-2.6zM241.4 404.3h2.6v2.6h-2.6zM105.8 406.3h2.6v2.6h-2.6zM129.7 406.3h4.6v2.6h-4.6zM165.6 406.3h2.6v2.6h-2.6zM177.5 406.3h2.6v2.6h-2.6zM209.5 406.3h2.6v2.6h-2.6zM227.4 406.3h2.6v2.6h-2.6zM239.4 406.3h4.6v2.6h-4.6zM253.3 406.3h4.6v2.6h-4.6zM105.8 408.3h2.6v2.6h-2.6zM117.7 408.3h2.6v2.6h-2.6zM135.7 408.3h2.6v2.6h-2.6zM155.6 408.3h2.6v2.6h-2.6zM197.5 408.3h2.6v2.6h-2.6zM211.4 408.3h2.6v2.6h-2.6zM215.4 408.3h2.6v2.6h-2.6zM221.4 408.3h4.6v2.6h-4.6zM227.4 408.3h2.6v2.6h-2.6zM233.4 408.3h2.6v2.6h-2.6zM233.4 410.2h4.6v2.6h-4.6zM245.3 410.2h2.6v2.6h-2.6zM137.7 412.2h4.6v2.6h-4.6zM219.4 412.2h2.6v2.6h-2.6zM225.4 412.2h2.6v2.6h-2.6zM233.4 412.2h2.6v2.6h-2.6zM245.3 412.2h2.6v2.6h-2.6zM91.8 414.2h2.6v2.6h-2.6zM129.7 414.2h2.6v2.6h-2.6zM149.6 414.2h2.6v2.6h-2.6zM175.6 414.2h2.6v2.6h-2.6zM183.5 414.2h2.6v2.6h-2.6zM219.4 414.2h6.6v2.6h-6.6zM113.7 416.2h6.6v2.6h-6.6zM149.6 416.2h2.6v2.6h-2.6zM167.6 416.2h2.6v2.6h-2.6zM229.4 416.2h2.6v2.6h-2.6zM249.3 416.2h2.6v2.6h-2.6zM257.3 416.2h2.6v2.6h-2.6zM149.6 418.2h2.6v2.6h-2.6zM165.6 418.2h2.6v2.6h-2.6zM183.5 418.2h2.6v2.6h-2.6zM209.5 418.2h2.6v2.6h-2.6zM219.4 418.2h4.6v2.6h-4.6zM225.4 418.2h4.6v2.6h-4.6zM237.4 418.2h2.6v2.6h-2.6zM131.7 420.2h2.6v2.6h-2.6zM151.6 420.2h2.6v2.6h-2.6zM159.6 420.2h2.6v2.6h-2.6zM193.5 420.2h4.6v2.6h-4.6zM201.5 420.2h4.6v2.6h-4.6zM209.5 420.2h2.6v2.6h-2.6zM221.4 420.2h4.6v2.6h-4.6zM129.7 422.1h4.6v2.6h-4.6zM209.5 422.1h2.6v2.6h-2.6zM235.4 422.1h4.6v2.6h-4.6zM129.7 424.1h2.6v2.6h-2.6zM137.7 424.1h2.6v2.6h-2.6zM149.6 424.1h2.6v2.6h-2.6zM179.5 424.1h4.6v2.6h-4.6zM191.5 424.1h2.6v2.6h-2.6zM199.5 424.1h2.6v2.6h-2.6zM223.4 424.1h2.6v2.6h-2.6zM247.3 424.1h2.6v2.6h-2.6zM129.7 426.1h2.6v2.6h-2.6zM169.6 426.1h2.6v2.6h-2.6zM177.5 426.1h2.6v2.6h-2.6zM207.5 426.1h2.6v2.6h-2.6zM233.4 426.1h2.6v2.6h-2.6zM245.3 426.1h2.6v2.6h-2.6zM93.8 428.1h2.6v2.6h-2.6zM129.7 428.1h2.6v2.6h-2.6zM133.7 428.1h2.6v2.6h-2.6zM149.6 428.1h2.6v2.6h-2.6zM157.6 428.1h2.6v2.6h-2.6zM177.5 428.1h2.6v2.6h-2.6zM187.5 428.1h4.6v2.6h-4.6zM207.5 428.1h2.6v2.6h-2.6zM247.3 428.1h2.6v2.6h-2.6zM135.7 430.1h2.6v2.6h-2.6zM183.5 430.1h2.6v2.6h-2.6zM205.5 430.1h2.6v2.6h-2.6zM211.4 430.1h2.6v2.6h-2.6zM233.4 430.1h2.6v2.6h-2.6zM93.8 432.1h2.6v2.6h-2.6zM117.7 432.1h2.6v2.6h-2.6zM129.7 432.1h2.6v2.6h-2.6zM133.7 432.1h2.6v2.6h-2.6zM177.5 432.1h2.6v2.6h-2.6zM203.5 432.1h2.6v2.6h-2.6zM211.4 432.1h2.6v2.6h-2.6zM215.4 432.1h2.6v2.6h-2.6zM245.3 432.1h2.6v2.6h-2.6zM129.7 434h2.6v2.6h-2.6zM165.6 434h2.6v2.6h-2.6zM175.6 434h2.6v2.6h-2.6zM207.5 434h2.6v2.6h-2.6zM211.4 434h2.6v2.6h-2.6zM215.4 434h2.6v2.6h-2.6zM239.4 434h4.6v2.6h-4.6zM117.7 436h2.6v2.6h-2.6zM129.7 436h2.6v2.6h-2.6zM199.5 436h2.6v2.6h-2.6zM207.5 436h2.6v2.6h-2.6zM211.4 436h2.6v2.6h-2.6zM221.4 436h6.6v2.6h-6.6zM249.3 436h2.6v2.6h-2.6zM129.7 438h2.6v2.6h-2.6zM211.4 438h2.6v2.6h-2.6zM111.7 440h2.6v2.6h-2.6zM129.7 440h2.6v2.6h-2.6zM137.7 440h2.6v2.6h-2.6zM157.6 440h4.6v2.6h-4.6zM211.4 440h2.6v2.6h-2.6zM225.4 440h2.6v2.6h-2.6zM165.6 442h2.6v2.6h-2.6zM171.6 442h2.6v2.6h-2.6zM175.6 442h4.6v2.6h-4.6zM211.4 442h2.6v2.6h-2.6zM91.8 444h2.6v2.6h-2.6zM135.7 444h4.6v2.6h-4.6zM147.6 444h2.6v2.6h-2.6zM161.6 444h2.6v2.6h-2.6zM167.6 444h2.6v2.6h-2.6zM211.4 444h2.6v2.6h-2.6zM215.4 444h2.6v2.6h-2.6zM239.4 444h2.6v2.6h-2.6zM255.3 444h2.6v2.6h-2.6zM167.6 446h2.6v2.6h-2.6zM211.4 446h2.6v2.6h-2.6zM241.4 446h2.6v2.6h-2.6zM91.8 447.9h2.6v2.6h-2.6zM117.7 447.9h2.6v2.6h-2.6zM129.7 447.9h2.6v2.6h-2.6zM149.6 447.9h2.6v2.6h-2.6zM163.6 447.9h6.6v2.6h-6.6zM179.5 447.9h6.6v2.6h-6.6zM211.4 447.9h2.6v2.6h-2.6zM221.4 447.9h2.6v2.6h-2.6zM257.3 447.9h2.6v2.6h-2.6zM129.7 449.9h2.6v2.6h-2.6zM165.6 449.9h2.6v2.6h-2.6zM169.6 449.9h2.6v2.6h-2.6zM129.7 451.9h2.6v2.6h-2.6zM149.6 451.9h2.6v2.6h-2.6zM155.6 451.9h2.6v2.6h-2.6zM165.6 451.9h2.6v2.6h-2.6zM207.5 451.9h2.6v2.6h-2.6zM223.4 451.9h2.6v2.6h-2.6zM247.3 451.9h2.6v2.6h-2.6zM253.3 451.9h2.6v2.6h-2.6zM147.6 453.9h2.6v2.6h-2.6zM165.6 453.9h2.6v2.6h-2.6zM175.6 453.9h2.6v2.6h-2.6zM95.8 455.9h2.6v2.6h-2.6zM105.8 455.9h2.6v2.6h-2.6zM187.5 455.9h2.6v2.6h-2.6zM217.4 455.9h2.6v2.6h-2.6zM245.3 455.9h4.6v2.6h-4.6zM147.6 457.9h2.6v2.6h-2.6zM207.5 457.9h2.6v2.6h-2.6zM235.4 457.9h2.6v2.6h-2.6zM245.3 457.9h2.6v2.6h-2.6zM91.8 459.8h2.6v2.6h-2.6zM95.8 459.8h2.6v2.6h-2.6zM105.8 459.8h2.6v2.6h-2.6zM147.6 459.8h2.6v2.6h-2.6zM155.6 459.8h2.6v2.6h-2.6zM177.5 459.8h2.6v2.6h-2.6zM189.5 459.8h2.6v2.6h-2.6zM255.3 459.8h2.6v2.6h-2.6zM105.8 461.8h2.6v2.6h-2.6zM131.7 461.8h2.6v2.6h-2.6zM171.6 461.8h2.6v2.6h-2.6zM187.5 461.8h2.6v2.6h-2.6zM91.8 463.8h2.6v2.6h-2.6zM147.6 463.8h2.6v2.6h-2.6zM157.6 463.8h2.6v2.6h-2.6zM189.5 463.8h4.6v2.6h-4.6zM215.4 463.8h2.6v2.6h-2.6zM221.4 463.8h4.6v2.6h-4.6zM253.3 463.8h2.6v2.6h-2.6zM163.6 465.8h4.6v2.6h-4.6zM233.4 465.8h2.6v2.6h-2.6zM93.8 467.8h2.6v2.6h-2.6zM149.6 467.8h2.6v2.6h-2.6zM165.6 467.8h2.6v2.6h-2.6zM189.5 467.8h2.6v2.6h-2.6zM207.5 467.8h2.6v2.6h-2.6zM211.4 467.8h2.6v2.6h-2.6zM221.4 467.8h4.6v2.6h-4.6zM165.6 469.8h2.6v2.6h-2.6zM211.4 469.8h2.6v2.6h-2.6zM249.3 469.8h4.6v2.6h-4.6zM139.7 471.8h2.6v2.6h-2.6zM143.6 471.8h2.6v2.6h-2.6zM151.6 471.8h2.6v2.6h-2.6zM191.5 471.8h2.6v2.6h-2.6zM131.7 473.7h2.6v2.6h-2.6zM143.6 473.7h2.6v2.6h-2.6zM209.5 473.7h2.6v2.6h-2.6zM249.3 473.7h2.6v2.6h-2.6zM137.7 475.7h4.6v2.6h-4.6zM143.6 475.7h4.6v2.6h-4.6zM151.6 475.7h2.6v2.6h-2.6zM187.5 475.7h2.6v2.6h-2.6zM255.3 475.7h4.6v2.6h-4.6zM129.7 477.7h2.6v2.6h-2.6zM145.6 477.7h2.6v2.6h-2.6zM241.4 477.7h2.6v2.6h-2.6zM91.8 479.7h2.6v2.6h-2.6zM189.5 479.7h2.6v2.6h-2.6zM209.5 479.7h2.6v2.6h-2.6zM245.3 479.7h2.6v2.6h-2.6zM105.8 481.7h2.6v2.6h-2.6zM163.6 481.7h2.6v2.6h-2.6zM93.8 483.7h2.6v2.6h-2.6zM105.8 483.7h2.6v2.6h-2.6zM137.7 483.7h2.6v2.6h-2.6zM175.6 483.7h2.6v2.6h-2.6zM211.4 483.7h2.6v2.6h-2.6zM225.4 483.7h2.6v2.6h-2.6zM255.3 483.7h2.6v2.6h-2.6zM259.3 483.7h2.6v2.6h-2.6zM117.7 485.6h2.6v2.6h-2.6zM225.4 485.6h2.6v2.6h-2.6zM241.4 485.6h2.6v2.6h-2.6zM257.3 485.6h2.6v2.6h-2.6zM91.8 487.6h2.6v2.6h-2.6zM139.7 487.6h4.6v2.6h-4.6zM189.5 487.6h4.6v2.6h-4.6zM209.5 487.6h2.6v2.6h-2.6zM227.4 487.6h2.6v2.6h-2.6zM259.3 487.6h2.6v2.6h-2.6zM131.7 489.6h2.6v2.6h-2.6zM181.5 489.6h2.6v2.6h-2.6zM201.5 489.6h2.6v2.6h-2.6zM259.3 489.6h2.6v2.6h-2.6zM93.8 491.6h2.6v2.6h-2.6zM137.7 491.6h4.6v2.6h-4.6zM201.5 491.6h10.6v2.6h-10.6zM177.5 493.6h2.6v2.6h-2.6zM205.5 493.6h2.6v2.6h-2.6zM91.8 495.6h2.6v2.6h-2.6zM111.7 495.6h2.6v2.6h-2.6zM139.7 495.6h4.6v2.6h-4.6zM189.5 495.6h2.6v2.6h-2.6zM253.3 495.6h2.6v2.6h-2.6zM181.5 497.5h2.6v2.6h-2.6zM207.5 497.5h2.6v2.6h-2.6zM215.4 497.5h6.6v2.6h-6.6zM93.8 499.5h4.6v2.6h-4.6zM173.6 499.5h2.6v2.6h-2.6zM181.5 499.5h2.6v2.6h-2.6zM191.5 499.5h4.6v2.6h-4.6zM213.4 499.5h4.6v2.6h-4.6zM221.4 499.5h2.6v2.6h-2.6zM251.3 499.5h2.6v2.6h-2.6zM181.5 501.5h2.6v2.6h-2.6zM215.4 501.5h2.6v2.6h-2.6zM233.4 501.5h2.6v2.6h-2.6zM241.4 501.5h2.6v2.6h-2.6zM151.6 503.5h2.6v2.6h-2.6zM175.6 503.5h6.6v2.6h-6.6zM187.5 503.5h2.6v2.6h-2.6zM209.5 503.5h2.6v2.6h-2.6zM213.4 503.5h2.6v2.6h-2.6zM219.4 503.5h2.6v2.6h-2.6zM171.6 505.5h2.6v2.6h-2.6zM187.5 505.5h2.6v2.6h-2.6zM209.5 505.5h6.6v2.6h-6.6zM91.8 507.5h2.6v2.6h-2.6zM97.8 507.5h2.6v2.6h-2.6zM137.7 507.5h4.6v2.6h-4.6zM157.6 507.5h2.6v2.6h-2.6zM175.6 507.5h2.6v2.6h-2.6zM195.5 507.5h2.6v2.6h-2.6zM209.5 507.5h6.6v2.6h-6.6zM225.4 507.5h4.6v2.6h-4.6zM97.8 509.5h2.6v2.6h-2.6zM105.8 509.5h4.6v2.6h-4.6zM185.5 509.5h2.6v2.6h-2.6zM209.5 509.5h6.6v2.6h-6.6zM105.8 511.4h2.6v2.6h-2.6zM185.5 511.4h2.6v2.6h-2.6zM211.4 511.4h4.6v2.6h-4.6zM105.8 513.4h2.6v2.6h-2.6zM143.6 513.4h4.6v2.6h-4.6zM153.6 513.4h2.6v2.6h-2.6zM211.4 513.4h4.6v2.6h-4.6zM145.6 515.4h2.6v2.6h-2.6zM153.6 515.4h2.6v2.6h-2.6zM185.5 515.4h2.6v2.6h-2.6zM197.5 515.4h2.6v2.6h-2.6zM205.5 515.4h10.6v2.6h-10.6zM97.8 517.4h2.6v2.6h-2.6zM107.8 517.4h2.6v2.6h-2.6zM143.6 517.4h4.6v2.6h-4.6zM185.5 517.4h2.6v2.6h-2.6zM197.5 517.4h2.6v2.6h-2.6zM209.5 517.4h4.6v2.6h-4.6zM97.8 519.4h2.6v2.6h-2.6zM145.6 519.4h2.6v2.6h-2.6zM197.5 519.4h2.6v2.6h-2.6zM95.8 521.4h2.6v2.6h-2.6zM199.5 521.4h2.6v2.6h-2.6zM95.8 523.3h2.6v2.6h-2.6zM179.5 523.3h2.6v2.6h-2.6zM239.4 523.3h2.6v2.6h-2.6zM249.3 523.3h2.6v2.6h-2.6zM187.5 525.3h2.6v2.6h-2.6zM241.4 525.3h2.6v2.6h-2.6zM179.5 529.3h2.6v2.6h-2.6zM237.4 531.3h2.6v2.6h-2.6zM249.3 533.3h2.6v2.6h-2.6zM161.6 535.2h2.6v2.6h-2.6zM239.4 535.2h2.6v2.6h-2.6zM239.4 537.2h2.6v2.6h-2.6zM239.4 539.2h2.6v2.6h-2.6zM243.4 539.2h2.6v2.6h-2.6z"/><path fill="#0046ff" d="M105.8 402.3h2.6v2.6h-2.6zM213.4 402.3h4.6v2.6h-4.6zM257.3 402.3h2.6v2.6h-2.6zM109.7 404.3h4.6v2.6h-4.6zM197.5 404.3h2.6v2.6h-2.6zM207.5 404.3h2.6v2.6h-2.6zM211.4 404.3h2.6v2.6h-2.6zM233.4 404.3h2.6v2.6h-2.6zM237.4 404.3h4.6v2.6h-4.6zM245.3 404.3h2.6v2.6h-2.6zM253.3 404.3h4.6v2.6h-4.6zM163.6 406.3h2.6v2.6h-2.6zM197.5 406.3h2.6v2.6h-2.6zM211.4 406.3h2.6v2.6h-2.6zM233.4 406.3h6.6v2.6h-6.6zM245.3 406.3h2.6v2.6h-2.6zM113.7 408.3h4.6v2.6h-4.6zM209.5 408.3h2.6v2.6h-2.6zM245.3 408.3h2.6v2.6h-2.6zM131.7 410.2h2.6v2.6h-2.6zM227.4 410.2h2.6v2.6h-2.6zM93.8 412.2h2.6v2.6h-2.6zM135.7 412.2h2.6v2.6h-2.6zM227.4 412.2h2.6v2.6h-2.6zM165.6 414.2h2.6v2.6h-2.6zM225.4 414.2h4.6v2.6h-4.6zM233.4 414.2h2.6v2.6h-2.6zM245.3 414.2h2.6v2.6h-2.6zM93.8 416.2h2.6v2.6h-2.6zM111.7 416.2h2.6v2.6h-2.6zM137.7 416.2h4.6v2.6h-4.6zM159.6 416.2h2.6v2.6h-2.6zM165.6 416.2h2.6v2.6h-2.6zM183.5 416.2h2.6v2.6h-2.6zM219.4 416.2h4.6v2.6h-4.6zM225.4 416.2h4.6v2.6h-4.6zM233.4 416.2h2.6v2.6h-2.6zM247.3 416.2h2.6v2.6h-2.6zM253.3 416.2h4.6v2.6h-4.6zM223.4 418.2h2.6v2.6h-2.6zM233.4 418.2h4.6v2.6h-4.6zM245.3 418.2h2.6v2.6h-2.6zM149.6 420.2h2.6v2.6h-2.6zM157.6 420.2h2.6v2.6h-2.6zM189.5 420.2h4.6v2.6h-4.6zM199.5 420.2h2.6v2.6h-2.6zM233.4 420.2h2.6v2.6h-2.6zM247.3 420.2h2.6v2.6h-2.6zM149.6 422.1h2.6v2.6h-2.6zM163.6 422.1h2.6v2.6h-2.6zM171.6 422.1h2.6v2.6h-2.6zM233.4 422.1h2.6v2.6h-2.6zM245.3 422.1h2.6v2.6h-2.6zM131.7 424.1h2.6v2.6h-2.6zM135.7 424.1h2.6v2.6h-2.6zM177.5 424.1h2.6v2.6h-2.6zM189.5 424.1h2.6v2.6h-2.6zM207.5 424.1h4.6v2.6h-4.6zM221.4 424.1h2.6v2.6h-2.6zM233.4 424.1h2.6v2.6h-2.6zM245.3 424.1h2.6v2.6h-2.6zM131.7 426.1h2.6v2.6h-2.6zM149.6 426.1h2.6v2.6h-2.6zM163.6 426.1h2.6v2.6h-2.6zM209.5 426.1h2.6v2.6h-2.6zM215.4 426.1h2.6v2.6h-2.6zM137.7 428.1h4.6v2.6h-4.6zM155.6 428.1h2.6v2.6h-2.6zM201.5 428.1h2.6v2.6h-2.6zM215.4 428.1h2.6v2.6h-2.6zM233.4 428.1h2.6v2.6h-2.6zM245.3 428.1h2.6v2.6h-2.6zM93.8 430.1h2.6v2.6h-2.6zM133.7 430.1h2.6v2.6h-2.6zM149.6 430.1h2.6v2.6h-2.6zM179.5 430.1h4.6v2.6h-4.6zM207.5 430.1h2.6v2.6h-2.6zM215.4 430.1h2.6v2.6h-2.6zM91.8 432.1h2.6v2.6h-2.6zM147.6 432.1h2.6v2.6h-2.6zM201.5 432.1h2.6v2.6h-2.6zM207.5 432.1h2.6v2.6h-2.6zM147.6 434h2.6v2.6h-2.6zM171.6 434h2.6v2.6h-2.6zM235.4 434h4.6v2.6h-4.6zM139.7 436h2.6v2.6h-2.6zM147.6 436h2.6v2.6h-2.6zM179.5 436h2.6v2.6h-2.6zM189.5 436h2.6v2.6h-2.6zM247.3 436h2.6v2.6h-2.6zM109.7 438h2.6v2.6h-2.6zM209.5 438h2.6v2.6h-2.6zM93.8 440h2.6v2.6h-2.6zM135.7 440h2.6v2.6h-2.6zM209.5 440h2.6v2.6h-2.6zM217.4 440h2.6v2.6h-2.6zM221.4 440h4.6v2.6h-4.6zM109.7 442h2.6v2.6h-2.6zM129.7 442h2.6v2.6h-2.6zM209.5 442h2.6v2.6h-2.6zM241.4 442h2.6v2.6h-2.6zM129.7 444h4.6v2.6h-4.6zM163.6 444h4.6v2.6h-4.6zM207.5 444h4.6v2.6h-4.6zM233.4 444h2.6v2.6h-2.6zM253.3 444h2.6v2.6h-2.6zM109.7 446h2.6v2.6h-2.6zM129.7 446h4.6v2.6h-4.6zM165.6 446h2.6v2.6h-2.6zM209.5 446h2.6v2.6h-2.6zM111.7 447.9h2.6v2.6h-2.6zM147.6 447.9h2.6v2.6h-2.6zM159.6 447.9h2.6v2.6h-2.6zM175.6 447.9h4.6v2.6h-4.6zM209.5 447.9h2.6v2.6h-2.6zM215.4 447.9h2.6v2.6h-2.6zM255.3 447.9h2.6v2.6h-2.6zM131.7 449.9h2.6v2.6h-2.6zM147.6 449.9h2.6v2.6h-2.6zM209.5 449.9h2.6v2.6h-2.6zM139.7 451.9h2.6v2.6h-2.6zM147.6 451.9h2.6v2.6h-2.6zM209.5 451.9h2.6v2.6h-2.6zM217.4 451.9h2.6v2.6h-2.6zM245.3 451.9h2.6v2.6h-2.6zM209.5 453.9h2.6v2.6h-2.6zM221.4 453.9h2.6v2.6h-2.6zM121.7 455.9h2.6v2.6h-2.6zM147.6 455.9h2.6v2.6h-2.6zM209.5 455.9h2.6v2.6h-2.6zM95.8 457.9h2.6v2.6h-2.6zM105.8 457.9h2.6v2.6h-2.6zM135.7 457.9h2.6v2.6h-2.6zM139.7 457.9h2.6v2.6h-2.6zM189.5 457.9h2.6v2.6h-2.6zM209.5 457.9h2.6v2.6h-2.6zM131.7 459.8h2.6v2.6h-2.6zM175.6 459.8h2.6v2.6h-2.6zM187.5 459.8h2.6v2.6h-2.6zM209.5 459.8h2.6v2.6h-2.6zM225.4 459.8h2.6v2.6h-2.6zM253.3 459.8h2.6v2.6h-2.6zM109.7 461.8h2.6v2.6h-2.6zM135.7 461.8h2.6v2.6h-2.6zM169.6 461.8h2.6v2.6h-2.6zM209.5 461.8h2.6v2.6h-2.6zM233.4 461.8h2.6v2.6h-2.6zM109.7 463.8h2.6v2.6h-2.6zM135.7 463.8h2.6v2.6h-2.6zM155.6 463.8h2.6v2.6h-2.6zM187.5 463.8h2.6v2.6h-2.6zM209.5 463.8h2.6v2.6h-2.6zM109.7 465.8h2.6v2.6h-2.6zM209.5 465.8h2.6v2.6h-2.6zM91.8 467.8h2.6v2.6h-2.6zM111.7 467.8h2.6v2.6h-2.6zM147.6 467.8h2.6v2.6h-2.6zM157.6 467.8h2.6v2.6h-2.6zM163.6 467.8h2.6v2.6h-2.6zM209.5 467.8h2.6v2.6h-2.6zM109.7 469.8h2.6v2.6h-2.6zM163.6 469.8h2.6v2.6h-2.6zM209.5 469.8h2.6v2.6h-2.6zM223.4 469.8h2.6v2.6h-2.6zM91.8 471.8h2.6v2.6h-2.6zM137.7 471.8h2.6v2.6h-2.6zM149.6 471.8h2.6v2.6h-2.6zM163.6 471.8h4.6v2.6h-4.6zM181.5 471.8h4.6v2.6h-4.6zM187.5 471.8h4.6v2.6h-4.6zM209.5 471.8h4.6v2.6h-4.6zM215.4 471.8h2.6v2.6h-2.6zM225.4 471.8h4.6v2.6h-4.6zM249.3 471.8h4.6v2.6h-4.6zM109.7 473.7h2.6v2.6h-2.6zM129.7 473.7h2.6v2.6h-2.6zM145.6 473.7h2.6v2.6h-2.6zM163.6 473.7h2.6v2.6h-2.6zM91.8 475.7h2.6v2.6h-2.6zM149.6 475.7h2.6v2.6h-2.6zM159.6 475.7h2.6v2.6h-2.6zM163.6 475.7h2.6v2.6h-2.6zM211.4 475.7h2.6v2.6h-2.6zM217.4 475.7h2.6v2.6h-2.6zM249.3 475.7h2.6v2.6h-2.6zM163.6 477.7h2.6v2.6h-2.6zM237.4 477.7h4.6v2.6h-4.6zM111.7 479.7h2.6v2.6h-2.6zM157.6 479.7h2.6v2.6h-2.6zM187.5 479.7h2.6v2.6h-2.6zM207.5 479.7h2.6v2.6h-2.6zM215.4 481.7h2.6v2.6h-2.6zM233.4 481.7h2.6v2.6h-2.6zM91.8 483.7h2.6v2.6h-2.6zM111.7 483.7h2.6v2.6h-2.6zM129.7 483.7h2.6v2.6h-2.6zM135.7 483.7h2.6v2.6h-2.6zM149.6 483.7h2.6v2.6h-2.6zM155.6 483.7h2.6v2.6h-2.6zM189.5 483.7h4.6v2.6h-4.6zM209.5 483.7h2.6v2.6h-2.6zM105.8 485.6h2.6v2.6h-2.6zM129.7 485.6h2.6v2.6h-2.6zM163.6 485.6h2.6v2.6h-2.6zM237.4 485.6h4.6v2.6h-4.6zM259.3 485.6h2.6v2.6h-2.6zM105.8 487.6h2.6v2.6h-2.6zM135.7 487.6h4.6v2.6h-4.6zM187.5 487.6h2.6v2.6h-2.6zM207.5 487.6h2.6v2.6h-2.6zM223.4 487.6h4.6v2.6h-4.6zM249.3 487.6h2.6v2.6h-2.6zM105.8 489.6h2.6v2.6h-2.6zM129.7 489.6h2.6v2.6h-2.6zM179.5 489.6h2.6v2.6h-2.6zM223.4 489.6h2.6v2.6h-2.6zM91.8 491.6h2.6v2.6h-2.6zM105.8 491.6h2.6v2.6h-2.6zM111.7 491.6h2.6v2.6h-2.6zM135.7 491.6h2.6v2.6h-2.6zM149.6 491.6h2.6v2.6h-2.6zM179.5 491.6h2.6v2.6h-2.6zM199.5 491.6h2.6v2.6h-2.6zM225.4 491.6h2.6v2.6h-2.6zM249.3 491.6h2.6v2.6h-2.6zM255.3 491.6h4.6v2.6h-4.6zM105.8 493.6h2.6v2.6h-2.6zM109.7 493.6h2.6v2.6h-2.6zM179.5 493.6h2.6v2.6h-2.6zM201.5 493.6h4.6v2.6h-4.6zM105.8 495.6h2.6v2.6h-2.6zM109.7 495.6h2.6v2.6h-2.6zM137.7 495.6h2.6v2.6h-2.6zM157.6 495.6h2.6v2.6h-2.6zM201.5 495.6h6.6v2.6h-6.6zM211.4 495.6h2.6v2.6h-2.6zM105.8 497.5h2.6v2.6h-2.6zM129.7 497.5h2.6v2.6h-2.6zM165.6 497.5h2.6v2.6h-2.6zM203.5 497.5h4.6v2.6h-4.6zM91.8 499.5h2.6v2.6h-2.6zM105.8 499.5h2.6v2.6h-2.6zM149.6 499.5h2.6v2.6h-2.6zM189.5 499.5h2.6v2.6h-2.6zM207.5 499.5h2.6v2.6h-2.6zM241.4 499.5h2.6v2.6h-2.6zM249.3 499.5h2.6v2.6h-2.6zM95.8 501.5h2.6v2.6h-2.6zM105.8 501.5h2.6v2.6h-2.6zM171.6 501.5h2.6v2.6h-2.6zM207.5 501.5h2.6v2.6h-2.6zM217.4 501.5h4.6v2.6h-4.6zM95.8 503.5h2.6v2.6h-2.6zM105.8 503.5h2.6v2.6h-2.6zM147.6 503.5h4.6v2.6h-4.6zM207.5 503.5h2.6v2.6h-2.6zM217.4 503.5h2.6v2.6h-2.6zM95.8 505.5h2.6v2.6h-2.6zM105.8 505.5h2.6v2.6h-2.6zM207.5 505.5h2.6v2.6h-2.6zM105.8 507.5h2.6v2.6h-2.6zM191.5 507.5h4.6v2.6h-4.6zM205.5 507.5h4.6v2.6h-4.6zM223.4 507.5h2.6v2.6h-2.6zM187.5 509.5h2.6v2.6h-2.6zM205.5 509.5h4.6v2.6h-4.6zM97.8 511.4h2.6v2.6h-2.6zM107.8 511.4h2.6v2.6h-2.6zM157.6 511.4h4.6v2.6h-4.6zM193.5 511.4h4.6v2.6h-4.6zM205.5 511.4h6.6v2.6h-6.6zM185.5 513.4h2.6v2.6h-2.6zM205.5 513.4h6.6v2.6h-6.6zM97.8 515.4h2.6v2.6h-2.6zM107.8 515.4h2.6v2.6h-2.6zM141.7 515.4h4.6v2.6h-4.6zM201.5 515.4h4.6v2.6h-4.6zM227.4 515.4h2.6v2.6h-2.6zM187.5 517.4h2.6v2.6h-2.6zM201.5 517.4h2.6v2.6h-2.6zM239.4 517.4h2.6v2.6h-2.6zM95.8 519.4h2.6v2.6h-2.6zM159.6 519.4h2.6v2.6h-2.6zM193.5 519.4h2.6v2.6h-2.6zM217.4 519.4h2.6v2.6h-2.6zM225.4 519.4h4.6v2.6h-4.6zM255.3 519.4h2.6v2.6h-2.6zM187.5 521.4h2.6v2.6h-2.6zM197.5 521.4h2.6v2.6h-2.6zM197.5 523.3h2.6v2.6h-2.6zM197.5 525.3h2.6v2.6h-2.6zM223.4 525.3h2.6v2.6h-2.6zM249.3 525.3h2.6v2.6h-2.6zM197.5 527.3h2.6v2.6h-2.6zM237.4 527.3h6.6v2.6h-6.6zM197.5 529.3h2.6v2.6h-2.6zM249.3 529.3h2.6v2.6h-2.6zM197.5 531.3h2.6v2.6h-2.6zM239.4 531.3h4.6v2.6h-4.6zM197.5 533.3h2.6v2.6h-2.6zM241.4 535.2h2.6v2.6h-2.6zM241.4 537.2h2.6v2.6h-2.6zM241.4 539.2h2.6v2.6h-2.6z"/><path fill="#0067ff" d="M211.4 402.3h2.6v2.6h-2.6zM237.4 402.3h4.6v2.6h-4.6zM253.3 402.3h2.6v2.6h-2.6zM215.4 404.3h2.6v2.6h-2.6zM175.6 406.3h2.6v2.6h-2.6zM109.7 408.3h4.6v2.6h-4.6zM207.5 408.3h2.6v2.6h-2.6zM147.6 410.2h2.6v2.6h-2.6zM169.6 410.2h2.6v2.6h-2.6zM91.8 412.2h2.6v2.6h-2.6zM147.6 412.2h2.6v2.6h-2.6zM163.6 414.2h2.6v2.6h-2.6zM91.8 416.2h2.6v2.6h-2.6zM109.7 416.2h2.6v2.6h-2.6zM135.7 416.2h2.6v2.6h-2.6zM155.6 416.2h4.6v2.6h-4.6zM175.6 416.2h2.6v2.6h-2.6zM223.4 416.2h2.6v2.6h-2.6zM245.3 416.2h2.6v2.6h-2.6zM91.8 418.2h2.6v2.6h-2.6zM175.6 418.2h2.6v2.6h-2.6zM91.8 420.2h2.6v2.6h-2.6zM155.6 420.2h2.6v2.6h-2.6zM175.6 420.2h2.6v2.6h-2.6zM187.5 420.2h2.6v2.6h-2.6zM91.8 422.1h2.6v2.6h-2.6zM169.6 422.1h2.6v2.6h-2.6zM175.6 422.1h2.6v2.6h-2.6zM175.6 424.1h2.6v2.6h-2.6zM187.5 424.1h2.6v2.6h-2.6zM175.6 426.1h2.6v2.6h-2.6zM131.7 428.1h2.6v2.6h-2.6zM135.7 428.1h2.6v2.6h-2.6zM147.6 428.1h2.6v2.6h-2.6zM175.6 428.1h2.6v2.6h-2.6zM199.5 428.1h2.6v2.6h-2.6zM209.5 428.1h2.6v2.6h-2.6zM129.7 430.1h2.6v2.6h-2.6zM147.6 430.1h2.6v2.6h-2.6zM177.5 430.1h2.6v2.6h-2.6zM209.5 430.1h2.6v2.6h-2.6zM109.7 432.1h4.6v2.6h-4.6zM131.7 432.1h2.6v2.6h-2.6zM175.6 432.1h2.6v2.6h-2.6zM199.5 432.1h2.6v2.6h-2.6zM209.5 432.1h2.6v2.6h-2.6zM109.7 434h2.6v2.6h-2.6zM131.7 434h2.6v2.6h-2.6zM155.6 434h2.6v2.6h-2.6zM163.6 434h2.6v2.6h-2.6zM169.6 434h2.6v2.6h-2.6zM209.5 434h2.6v2.6h-2.6zM233.4 434h2.6v2.6h-2.6zM109.7 436h4.6v2.6h-4.6zM131.7 436h2.6v2.6h-2.6zM135.7 436h4.6v2.6h-4.6zM177.5 436h2.6v2.6h-2.6zM187.5 436h2.6v2.6h-2.6zM209.5 436h2.6v2.6h-2.6zM245.3 436h2.6v2.6h-2.6zM131.7 438h2.6v2.6h-2.6zM147.6 438h2.6v2.6h-2.6zM233.4 438h2.6v2.6h-2.6zM91.8 440h2.6v2.6h-2.6zM109.7 440h2.6v2.6h-2.6zM131.7 440h2.6v2.6h-2.6zM215.4 440h2.6v2.6h-2.6zM233.4 440h2.6v2.6h-2.6zM253.3 440h2.6v2.6h-2.6zM131.7 442h2.6v2.6h-2.6zM169.6 442h2.6v2.6h-2.6zM233.4 442h2.6v2.6h-2.6zM109.7 444h2.6v2.6h-2.6zM241.4 444h2.6v2.6h-2.6zM163.6 446h2.6v2.6h-2.6zM245.3 446h2.6v2.6h-2.6zM109.7 447.9h2.6v2.6h-2.6zM131.7 447.9h2.6v2.6h-2.6zM155.6 447.9h4.6v2.6h-4.6zM253.3 447.9h2.6v2.6h-2.6zM199.5 449.9h2.6v2.6h-2.6zM221.4 449.9h2.6v2.6h-2.6zM245.3 449.9h2.6v2.6h-2.6zM109.7 451.9h4.6v2.6h-4.6zM131.7 451.9h2.6v2.6h-2.6zM135.7 451.9h4.6v2.6h-4.6zM221.4 451.9h2.6v2.6h-2.6zM233.4 451.9h2.6v2.6h-2.6zM131.7 453.9h2.6v2.6h-2.6zM135.7 453.9h2.6v2.6h-2.6zM169.6 453.9h2.6v2.6h-2.6zM199.5 453.9h2.6v2.6h-2.6zM233.4 453.9h2.6v2.6h-2.6zM131.7 455.9h2.6v2.6h-2.6zM135.7 455.9h2.6v2.6h-2.6zM163.6 455.9h2.6v2.6h-2.6zM221.4 455.9h2.6v2.6h-2.6zM131.7 457.9h2.6v2.6h-2.6zM187.5 457.9h2.6v2.6h-2.6zM233.4 457.9h2.6v2.6h-2.6zM129.7 459.8h2.6v2.6h-2.6zM135.7 459.8h2.6v2.6h-2.6zM163.6 459.8h2.6v2.6h-2.6zM221.4 459.8h4.6v2.6h-4.6zM233.4 459.8h2.6v2.6h-2.6zM121.7 461.8h2.6v2.6h-2.6zM129.7 461.8h2.6v2.6h-2.6zM221.4 461.8h2.6v2.6h-2.6zM121.7 463.8h2.6v2.6h-2.6zM121.7 465.8h2.6v2.6h-2.6zM135.7 465.8h2.6v2.6h-2.6zM245.3 465.8h2.6v2.6h-2.6zM109.7 467.8h2.6v2.6h-2.6zM121.7 467.8h2.6v2.6h-2.6zM135.7 467.8h2.6v2.6h-2.6zM187.5 467.8h2.6v2.6h-2.6zM245.3 467.8h2.6v2.6h-2.6zM253.3 467.8h2.6v2.6h-2.6zM121.7 469.8h2.6v2.6h-2.6zM135.7 469.8h2.6v2.6h-2.6zM147.6 469.8h2.6v2.6h-2.6zM245.3 469.8h2.6v2.6h-2.6zM109.7 471.8h2.6v2.6h-2.6zM121.7 471.8h2.6v2.6h-2.6zM135.7 471.8h2.6v2.6h-2.6zM145.6 471.8h2.6v2.6h-2.6zM177.5 471.8h4.6v2.6h-4.6zM207.5 471.8h2.6v2.6h-2.6zM253.3 471.8h2.6v2.6h-2.6zM121.7 473.7h2.6v2.6h-2.6zM135.7 473.7h2.6v2.6h-2.6zM147.6 473.7h2.6v2.6h-2.6zM245.3 473.7h2.6v2.6h-2.6zM111.7 475.7h2.6v2.6h-2.6zM135.7 475.7h2.6v2.6h-2.6zM157.6 475.7h2.6v2.6h-2.6zM209.5 475.7h2.6v2.6h-2.6zM215.4 475.7h2.6v2.6h-2.6zM221.4 475.7h2.6v2.6h-2.6zM233.4 475.7h2.6v2.6h-2.6zM247.3 475.7h2.6v2.6h-2.6zM253.3 475.7h2.6v2.6h-2.6zM135.7 477.7h2.6v2.6h-2.6zM215.4 477.7h2.6v2.6h-2.6zM233.4 477.7h4.6v2.6h-4.6zM253.3 477.7h2.6v2.6h-2.6zM109.7 479.7h2.6v2.6h-2.6zM155.6 479.7h2.6v2.6h-2.6zM163.6 479.7h2.6v2.6h-2.6zM223.4 481.7h2.6v2.6h-2.6zM109.7 483.7h2.6v2.6h-2.6zM147.6 483.7h2.6v2.6h-2.6zM187.5 483.7h2.6v2.6h-2.6zM207.5 483.7h2.6v2.6h-2.6zM215.4 483.7h2.6v2.6h-2.6zM223.4 483.7h2.6v2.6h-2.6zM233.4 483.7h2.6v2.6h-2.6zM247.3 483.7h2.6v2.6h-2.6zM253.3 483.7h2.6v2.6h-2.6zM109.7 485.6h2.6v2.6h-2.6zM215.4 485.6h2.6v2.6h-2.6zM223.4 485.6h2.6v2.6h-2.6zM233.4 485.6h4.6v2.6h-4.6zM111.7 487.6h2.6v2.6h-2.6zM129.7 487.6h2.6v2.6h-2.6zM215.4 487.6h2.6v2.6h-2.6zM245.3 487.6h4.6v2.6h-4.6zM109.7 489.6h2.6v2.6h-2.6zM175.6 489.6h4.6v2.6h-4.6zM109.7 491.6h2.6v2.6h-2.6zM215.4 491.6h2.6v2.6h-2.6zM223.4 491.6h2.6v2.6h-2.6zM247.3 491.6h2.6v2.6h-2.6zM253.3 491.6h2.6v2.6h-2.6zM121.7 493.6h2.6v2.6h-2.6zM129.7 493.6h2.6v2.6h-2.6zM215.4 493.6h2.6v2.6h-2.6zM135.7 495.6h2.6v2.6h-2.6zM179.5 495.6h2.6v2.6h-2.6zM187.5 495.6h2.6v2.6h-2.6zM207.5 495.6h4.6v2.6h-4.6zM121.7 497.5h2.6v2.6h-2.6zM135.7 497.5h2.6v2.6h-2.6zM163.6 497.5h2.6v2.6h-2.6zM175.6 497.5h6.6v2.6h-6.6zM199.5 497.5h4.6v2.6h-4.6zM121.7 499.5h2.6v2.6h-2.6zM135.7 499.5h2.6v2.6h-2.6zM147.6 499.5h2.6v2.6h-2.6zM187.5 499.5h2.6v2.6h-2.6zM201.5 499.5h6.6v2.6h-6.6zM217.4 499.5h4.6v2.6h-4.6zM247.3 499.5h2.6v2.6h-2.6zM135.7 501.5h2.6v2.6h-2.6zM175.6 501.5h6.6v2.6h-6.6zM201.5 501.5h6.6v2.6h-6.6zM121.7 503.5h2.6v2.6h-2.6zM135.7 503.5h2.6v2.6h-2.6zM201.5 503.5h6.6v2.6h-6.6zM215.4 503.5h2.6v2.6h-2.6zM255.3 503.5h2.6v2.6h-2.6zM201.5 505.5h6.6v2.6h-6.6zM95.8 507.5h2.6v2.6h-2.6zM147.6 507.5h2.6v2.6h-2.6zM187.5 507.5h4.6v2.6h-4.6zM201.5 507.5h4.6v2.6h-4.6zM95.8 509.5h2.6v2.6h-2.6zM199.5 509.5h6.6v2.6h-6.6zM189.5 511.4h4.6v2.6h-4.6zM97.8 513.4h2.6v2.6h-2.6zM107.8 513.4h2.6v2.6h-2.6zM187.5 513.4h2.6v2.6h-2.6zM201.5 513.4h4.6v2.6h-4.6zM93.8 515.4h4.6v2.6h-4.6zM121.7 515.4h2.6v2.6h-2.6zM139.7 515.4h2.6v2.6h-2.6zM147.6 515.4h2.6v2.6h-2.6zM187.5 515.4h2.6v2.6h-2.6zM225.4 515.4h2.6v2.6h-2.6zM249.3 515.4h2.6v2.6h-2.6zM95.8 517.4h2.6v2.6h-2.6zM121.7 517.4h2.6v2.6h-2.6zM147.6 517.4h2.6v2.6h-2.6zM235.4 517.4h4.6v2.6h-4.6zM93.8 519.4h2.6v2.6h-2.6zM143.6 519.4h2.6v2.6h-2.6zM157.6 519.4h2.6v2.6h-2.6zM189.5 519.4h4.6v2.6h-4.6zM223.4 519.4h2.6v2.6h-2.6zM249.3 519.4h2.6v2.6h-2.6zM121.7 523.3h2.6v2.6h-2.6zM121.7 525.3h2.6v2.6h-2.6zM121.7 527.3h2.6v2.6h-2.6zM179.5 527.3h2.6v2.6h-2.6zM249.3 527.3h2.6v2.6h-2.6zM223.4 529.3h2.6v2.6h-2.6z"/><path fill="#0088ff" d="M197.5 402.3h2.6v2.6h-2.6zM255.3 402.3h2.6v2.6h-2.6zM147.6 406.3h2.6v2.6h-2.6zM147.6 408.3h2.6v2.6h-2.6zM129.7 410.2h2.6v2.6h-2.6zM147.6 414.2h2.6v2.6h-2.6zM147.6 416.2h2.6v2.6h-2.6zM109.7 418.2h2.6v2.6h-2.6zM147.6 418.2h2.6v2.6h-2.6zM109.7 420.2h2.6v2.6h-2.6zM147.6 420.2h2.6v2.6h-2.6zM245.3 420.2h2.6v2.6h-2.6zM147.6 422.1h2.6v2.6h-2.6zM91.8 424.1h2.6v2.6h-2.6zM147.6 424.1h2.6v2.6h-2.6zM91.8 426.1h2.6v2.6h-2.6zM147.6 426.1h2.6v2.6h-2.6zM91.8 428.1h2.6v2.6h-2.6zM91.8 430.1h2.6v2.6h-2.6zM131.7 430.1h2.6v2.6h-2.6zM175.6 430.1h2.6v2.6h-2.6zM155.6 432.1h2.6v2.6h-2.6zM163.6 432.1h2.6v2.6h-2.6zM155.6 436h2.6v2.6h-2.6zM163.6 436h2.6v2.6h-2.6zM175.6 436h2.6v2.6h-2.6zM155.6 438h2.6v2.6h-2.6zM155.6 440h2.6v2.6h-2.6zM155.6 442h2.6v2.6h-2.6zM245.3 442h2.6v2.6h-2.6zM155.6 444h2.6v2.6h-2.6zM245.3 444h2.6v2.6h-2.6zM233.4 446h2.6v2.6h-2.6zM199.5 447.9h2.6v2.6h-2.6zM233.4 447.9h2.6v2.6h-2.6zM245.3 447.9h2.6v2.6h-2.6zM233.4 449.9h2.6v2.6h-2.6zM199.5 451.9h2.6v2.6h-2.6zM129.7 453.9h2.6v2.6h-2.6zM163.6 453.9h2.6v2.6h-2.6zM129.7 455.9h2.6v2.6h-2.6zM233.4 455.9h2.6v2.6h-2.6zM121.7 457.9h2.6v2.6h-2.6zM129.7 457.9h2.6v2.6h-2.6zM163.6 457.9h2.6v2.6h-2.6zM221.4 457.9h2.6v2.6h-2.6zM121.7 459.8h2.6v2.6h-2.6zM215.4 461.8h2.6v2.6h-2.6zM129.7 465.8h2.6v2.6h-2.6zM155.6 465.8h2.6v2.6h-2.6zM155.6 469.8h2.6v2.6h-2.6zM169.6 469.8h2.6v2.6h-2.6zM253.3 469.8h2.6v2.6h-2.6zM147.6 471.8h2.6v2.6h-2.6zM175.6 471.8h2.6v2.6h-2.6zM221.4 471.8h4.6v2.6h-4.6zM245.3 471.8h2.6v2.6h-2.6zM169.6 473.7h2.6v2.6h-2.6zM215.4 473.7h2.6v2.6h-2.6zM221.4 473.7h4.6v2.6h-4.6zM253.3 473.7h2.6v2.6h-2.6zM109.7 475.7h2.6v2.6h-2.6zM121.7 475.7h2.6v2.6h-2.6zM147.6 475.7h2.6v2.6h-2.6zM169.6 475.7h2.6v2.6h-2.6zM207.5 475.7h2.6v2.6h-2.6zM223.4 475.7h2.6v2.6h-2.6zM245.3 475.7h2.6v2.6h-2.6zM147.6 477.7h2.6v2.6h-2.6zM169.6 477.7h2.6v2.6h-2.6zM221.4 477.7h4.6v2.6h-4.6zM147.6 479.7h2.6v2.6h-2.6zM215.4 479.7h2.6v2.6h-2.6zM221.4 479.7h4.6v2.6h-4.6zM233.4 479.7h2.6v2.6h-2.6zM253.3 479.7h2.6v2.6h-2.6zM129.7 481.7h2.6v2.6h-2.6zM221.4 481.7h2.6v2.6h-2.6zM253.3 481.7h2.6v2.6h-2.6zM169.6 483.7h2.6v2.6h-2.6zM147.6 485.6h2.6v2.6h-2.6zM221.4 485.6h2.6v2.6h-2.6zM109.7 487.6h2.6v2.6h-2.6zM221.4 487.6h2.6v2.6h-2.6zM147.6 489.6h2.6v2.6h-2.6zM215.4 489.6h2.6v2.6h-2.6zM221.4 489.6h2.6v2.6h-2.6zM199.5 493.6h2.6v2.6h-2.6zM221.4 493.6h2.6v2.6h-2.6zM121.7 495.6h2.6v2.6h-2.6zM147.6 495.6h2.6v2.6h-2.6zM177.5 495.6h2.6v2.6h-2.6zM199.5 495.6h2.6v2.6h-2.6zM215.4 495.6h2.6v2.6h-2.6zM245.3 495.6h2.6v2.6h-2.6zM111.7 499.5h2.6v2.6h-2.6zM175.6 499.5h6.6v2.6h-6.6zM199.5 499.5h2.6v2.6h-2.6zM253.3 499.5h2.6v2.6h-2.6zM109.7 501.5h2.6v2.6h-2.6zM121.7 501.5h2.6v2.6h-2.6zM129.7 501.5h2.6v2.6h-2.6zM199.5 501.5h2.6v2.6h-2.6zM109.7 503.5h2.6v2.6h-2.6zM199.5 503.5h2.6v2.6h-2.6zM109.7 505.5h2.6v2.6h-2.6zM121.7 505.5h2.6v2.6h-2.6zM129.7 505.5h2.6v2.6h-2.6zM135.7 505.5h2.6v2.6h-2.6zM199.5 505.5h2.6v2.6h-2.6zM109.7 507.5h2.6v2.6h-2.6zM121.7 507.5h2.6v2.6h-2.6zM135.7 507.5h2.6v2.6h-2.6zM163.6 507.5h2.6v2.6h-2.6zM199.5 507.5h2.6v2.6h-2.6zM253.3 507.5h2.6v2.6h-2.6zM109.7 509.5h2.6v2.6h-2.6zM165.6 509.5h2.6v2.6h-2.6zM253.3 509.5h2.6v2.6h-2.6zM91.8 511.4h2.6v2.6h-2.6zM95.8 511.4h2.6v2.6h-2.6zM163.6 511.4h2.6v2.6h-2.6zM187.5 511.4h2.6v2.6h-2.6zM95.8 513.4h2.6v2.6h-2.6zM109.7 513.4h2.6v2.6h-2.6zM121.7 513.4h2.6v2.6h-2.6zM163.6 513.4h2.6v2.6h-2.6zM199.5 513.4h2.6v2.6h-2.6zM253.3 513.4h2.6v2.6h-2.6zM91.8 515.4h2.6v2.6h-2.6zM109.7 515.4h2.6v2.6h-2.6zM135.7 515.4h4.6v2.6h-4.6zM199.5 515.4h2.6v2.6h-2.6zM223.4 515.4h2.6v2.6h-2.6zM247.3 515.4h2.6v2.6h-2.6zM109.7 517.4h2.6v2.6h-2.6zM131.7 517.4h2.6v2.6h-2.6zM253.3 517.4h2.6v2.6h-2.6zM91.8 519.4h2.6v2.6h-2.6zM121.7 519.4h2.6v2.6h-2.6zM129.7 519.4h2.6v2.6h-2.6zM139.7 519.4h4.6v2.6h-4.6zM155.6 519.4h2.6v2.6h-2.6zM163.6 519.4h2.6v2.6h-2.6zM177.5 519.4h2.6v2.6h-2.6zM187.5 519.4h2.6v2.6h-2.6zM247.3 519.4h2.6v2.6h-2.6zM109.7 521.4h2.6v2.6h-2.6zM121.7 521.4h2.6v2.6h-2.6zM147.6 521.4h2.6v2.6h-2.6zM135.7 525.3h2.6v2.6h-2.6zM199.5 525.3h2.6v2.6h-2.6zM129.7 527.3h2.6v2.6h-2.6zM121.7 529.3h2.6v2.6h-2.6zM135.7 529.3h2.6v2.6h-2.6zM155.6 529.3h2.6v2.6h-2.6zM199.5 529.3h2.6v2.6h-2.6zM121.7 531.3h2.6v2.6h-2.6zM135.7 533.3h2.6v2.6h-2.6zM155.6 533.3h2.6v2.6h-2.6zM133.7 535.2h2.6v2.6h-2.6zM219.4 535.2h2.6v2.6h-2.6zM109.7 537.2h2.6v2.6h-2.6z"/><path fill="#00a9ff" d="M215.4 449.9h2.6v2.6h-2.6zM215.4 451.9h2.6v2.6h-2.6zM215.4 453.9h2.6v2.6h-2.6zM215.4 455.9h2.6v2.6h-2.6zM215.4 457.9h2.6v2.6h-2.6zM215.4 459.8h2.6v2.6h-2.6zM129.7 463.8h2.6v2.6h-2.6zM155.6 467.8h2.6v2.6h-2.6zM155.6 471.8h2.6v2.6h-2.6zM169.6 471.8h2.6v2.6h-2.6zM155.6 473.7h2.6v2.6h-2.6zM155.6 475.7h2.6v2.6h-2.6zM169.6 479.7h2.6v2.6h-2.6zM169.6 481.7h2.6v2.6h-2.6zM221.4 483.7h2.6v2.6h-2.6zM245.3 483.7h2.6v2.6h-2.6zM147.6 487.6h2.6v2.6h-2.6zM163.6 487.6h2.6v2.6h-2.6zM155.6 489.6h2.6v2.6h-2.6zM163.6 489.6h2.6v2.6h-2.6zM147.6 491.6h2.6v2.6h-2.6zM221.4 491.6h2.6v2.6h-2.6zM245.3 491.6h2.6v2.6h-2.6zM147.6 493.6h2.6v2.6h-2.6zM155.6 493.6h2.6v2.6h-2.6zM169.6 493.6h2.6v2.6h-2.6zM245.3 493.6h2.6v2.6h-2.6zM155.6 495.6h2.6v2.6h-2.6zM175.6 495.6h2.6v2.6h-2.6zM221.4 495.6h2.6v2.6h-2.6zM169.6 497.5h2.6v2.6h-2.6zM245.3 497.5h2.6v2.6h-2.6zM253.3 497.5h2.6v2.6h-2.6zM109.7 499.5h2.6v2.6h-2.6zM155.6 499.5h2.6v2.6h-2.6zM169.6 499.5h2.6v2.6h-2.6zM245.3 499.5h2.6v2.6h-2.6zM155.6 501.5h2.6v2.6h-2.6zM169.6 501.5h2.6v2.6h-2.6zM245.3 501.5h2.6v2.6h-2.6zM253.3 501.5h2.6v2.6h-2.6zM169.6 503.5h2.6v2.6h-2.6zM253.3 503.5h2.6v2.6h-2.6zM155.6 505.5h2.6v2.6h-2.6zM163.6 505.5h2.6v2.6h-2.6zM215.4 505.5h2.6v2.6h-2.6zM253.3 505.5h2.6v2.6h-2.6zM129.7 507.5h2.6v2.6h-2.6zM155.6 507.5h2.6v2.6h-2.6zM169.6 507.5h2.6v2.6h-2.6zM233.4 507.5h2.6v2.6h-2.6zM245.3 507.5h2.6v2.6h-2.6zM215.4 509.5h2.6v2.6h-2.6zM221.4 509.5h2.6v2.6h-2.6zM233.4 509.5h2.6v2.6h-2.6zM111.7 511.4h2.6v2.6h-2.6zM141.7 511.4h4.6v2.6h-4.6zM169.6 511.4h2.6v2.6h-2.6zM203.5 511.4h2.6v2.6h-2.6zM215.4 511.4h2.6v2.6h-2.6zM227.4 511.4h2.6v2.6h-2.6zM233.4 511.4h2.6v2.6h-2.6zM245.3 511.4h2.6v2.6h-2.6zM221.4 513.4h2.6v2.6h-2.6zM245.3 513.4h2.6v2.6h-2.6zM129.7 515.4h2.6v2.6h-2.6zM163.6 515.4h2.6v2.6h-2.6zM221.4 515.4h2.6v2.6h-2.6zM245.3 515.4h2.6v2.6h-2.6zM253.3 515.4h2.6v2.6h-2.6zM163.6 517.4h2.6v2.6h-2.6zM171.6 517.4h2.6v2.6h-2.6zM199.5 517.4h2.6v2.6h-2.6zM221.4 517.4h2.6v2.6h-2.6zM137.7 519.4h2.6v2.6h-2.6zM151.6 519.4h2.6v2.6h-2.6zM201.5 519.4h2.6v2.6h-2.6zM221.4 519.4h2.6v2.6h-2.6zM233.4 519.4h2.6v2.6h-2.6zM245.3 519.4h2.6v2.6h-2.6zM253.3 519.4h2.6v2.6h-2.6zM131.7 521.4h2.6v2.6h-2.6zM163.6 521.4h2.6v2.6h-2.6zM215.4 521.4h2.6v2.6h-2.6zM221.4 521.4h2.6v2.6h-2.6zM235.4 521.4h2.6v2.6h-2.6zM93.8 523.3h2.6v2.6h-2.6zM129.7 523.3h2.6v2.6h-2.6zM141.7 523.3h4.6v2.6h-4.6zM163.6 523.3h2.6v2.6h-2.6zM233.4 523.3h2.6v2.6h-2.6zM163.6 527.3h2.6v2.6h-2.6zM191.5 527.3h2.6v2.6h-2.6zM221.4 529.3h2.6v2.6h-2.6zM129.7 531.3h2.6v2.6h-2.6zM147.6 533.3h2.6v2.6h-2.6zM131.7 535.2h2.6v2.6h-2.6zM213.4 535.2h2.6v2.6h-2.6zM217.4 535.2h2.6v2.6h-2.6zM147.6 537.2h2.6v2.6h-2.6z"/><path fill="#00caff" d="M155.6 485.6h2.6v2.6h-2.6zM155.6 487.6h2.6v2.6h-2.6zM155.6 491.6h2.6v2.6h-2.6zM163.6 491.6h2.6v2.6h-2.6zM163.6 493.6h2.6v2.6h-2.6zM169.6 495.6h2.6v2.6h-2.6zM155.6 497.5h2.6v2.6h-2.6zM129.7 503.5h2.6v2.6h-2.6zM155.6 503.5h2.6v2.6h-2.6zM245.3 503.5h2.6v2.6h-2.6zM169.6 505.5h2.6v2.6h-2.6zM233.4 505.5h2.6v2.6h-2.6zM245.3 505.5h2.6v2.6h-2.6zM215.4 507.5h2.6v2.6h-2.6zM221.4 507.5h2.6v2.6h-2.6zM155.6 509.5h2.6v2.6h-2.6zM163.6 509.5h2.6v2.6h-2.6zM169.6 509.5h2.6v2.6h-2.6zM245.3 509.5h2.6v2.6h-2.6zM109.7 511.4h2.6v2.6h-2.6zM139.7 511.4h2.6v2.6h-2.6zM155.6 511.4h2.6v2.6h-2.6zM225.4 511.4h2.6v2.6h-2.6zM255.3 511.4h2.6v2.6h-2.6zM171.6 513.4h2.6v2.6h-2.6zM183.5 513.4h2.6v2.6h-2.6zM215.4 513.4h2.6v2.6h-2.6zM233.4 513.4h2.6v2.6h-2.6zM169.6 515.4h2.6v2.6h-2.6zM215.4 515.4h2.6v2.6h-2.6zM233.4 515.4h2.6v2.6h-2.6zM129.7 517.4h2.6v2.6h-2.6zM215.4 517.4h2.6v2.6h-2.6zM233.4 517.4h2.6v2.6h-2.6zM135.7 519.4h2.6v2.6h-2.6zM175.6 519.4h2.6v2.6h-2.6zM209.5 519.4h2.6v2.6h-2.6zM215.4 519.4h2.6v2.6h-2.6zM139.7 523.3h2.6v2.6h-2.6zM215.4 525.3h2.6v2.6h-2.6zM221.4 525.3h2.6v2.6h-2.6zM217.4 527.3h2.6v2.6h-2.6zM233.4 527.3h2.6v2.6h-2.6zM215.4 529.3h2.6v2.6h-2.6zM191.5 531.3h2.6v2.6h-2.6zM233.4 531.3h2.6v2.6h-2.6zM129.7 535.2h2.6v2.6h-2.6zM127.7 537.2h2.6v2.6h-2.6zM195.5 537.2h4.6v2.6h-4.6z"/><path fill="#00eaff" d="M129.7 509.5h2.6v2.6h-2.6zM137.7 511.4h2.6v2.6h-2.6zM201.5 511.4h2.6v2.6h-2.6zM223.4 511.4h2.6v2.6h-2.6zM181.5 513.4h2.6v2.6h-2.6zM169.6 517.4h2.6v2.6h-2.6zM111.7 519.4h2.6v2.6h-2.6zM149.6 519.4h2.6v2.6h-2.6zM199.5 519.4h2.6v2.6h-2.6zM129.7 521.4h2.6v2.6h-2.6zM169.6 521.4h2.6v2.6h-2.6zM233.4 521.4h2.6v2.6h-2.6zM91.8 523.3h2.6v2.6h-2.6zM111.7 523.3h2.6v2.6h-2.6zM137.7 523.3h2.6v2.6h-2.6zM191.5 523.3h2.6v2.6h-2.6zM201.5 523.3h2.6v2.6h-2.6zM227.4 523.3h2.6v2.6h-2.6zM247.3 523.3h2.6v2.6h-2.6zM255.3 523.3h2.6v2.6h-2.6zM239.4 525.3h2.6v2.6h-2.6zM113.7 527.3h2.6v2.6h-2.6zM143.6 527.3h2.6v2.6h-2.6zM189.5 527.3h2.6v2.6h-2.6zM209.5 527.3h2.6v2.6h-2.6zM255.3 527.3h2.6v2.6h-2.6zM171.6 529.3h2.6v2.6h-2.6zM241.4 529.3h2.6v2.6h-2.6zM197.5 535.2h2.6v2.6h-2.6zM227.4 535.2h2.6v2.6h-2.6zM95.8 537.2h2.6v2.6h-2.6zM125.7 537.2h2.6v2.6h-2.6zM133.7 537.2h2.6v2.6h-2.6zM145.6 537.2h2.6v2.6h-2.6zM193.5 537.2h2.6v2.6h-2.6zM213.4 537.2h2.6v2.6h-2.6zM235.4 537.2h2.6v2.6h-2.6zM255.3 539.2h2.6v2.6h-2.6z"/><path fill="#0cfff3" d="M135.7 511.4h2.6v2.6h-2.6zM147.6 511.4h2.6v2.6h-2.6zM199.5 511.4h2.6v2.6h-2.6zM221.4 511.4h2.6v2.6h-2.6zM253.3 511.4h2.6v2.6h-2.6zM129.7 513.4h2.6v2.6h-2.6zM169.6 513.4h2.6v2.6h-2.6zM179.5 513.4h2.6v2.6h-2.6zM109.7 519.4h2.6v2.6h-2.6zM147.6 519.4h2.6v2.6h-2.6zM207.5 519.4h2.6v2.6h-2.6zM109.7 523.3h2.6v2.6h-2.6zM135.7 523.3h2.6v2.6h-2.6zM157.6 523.3h2.6v2.6h-2.6zM225.4 523.3h2.6v2.6h-2.6zM163.6 525.3h2.6v2.6h-2.6zM179.5 525.3h2.6v2.6h-2.6zM111.7 527.3h2.6v2.6h-2.6zM141.7 527.3h2.6v2.6h-2.6zM187.5 527.3h2.6v2.6h-2.6zM229.4 527.3h2.6v2.6h-2.6zM131.7 529.3h2.6v2.6h-2.6zM239.4 529.3h2.6v2.6h-2.6zM189.5 531.3h2.6v2.6h-2.6zM167.6 535.2h2.6v2.6h-2.6zM195.5 535.2h2.6v2.6h-2.6zM93.8 537.2h2.6v2.6h-2.6zM123.7 537.2h2.6v2.6h-2.6zM131.7 537.2h2.6v2.6h-2.6zM141.7 537.2h4.6v2.6h-4.6zM189.5 537.2h4.6v2.6h-4.6zM251.3 539.2h2.6v2.6h-2.6z"/><path fill="#2dffd2" d="M177.5 513.4h2.6v2.6h-2.6zM147.6 523.3h2.6v2.6h-2.6zM189.5 523.3h2.6v2.6h-2.6zM215.4 523.3h2.6v2.6h-2.6zM223.4 523.3h2.6v2.6h-2.6zM245.3 523.3h2.6v2.6h-2.6zM253.3 523.3h2.6v2.6h-2.6zM171.6 525.3h2.6v2.6h-2.6zM237.4 525.3h2.6v2.6h-2.6zM93.8 527.3h2.6v2.6h-2.6zM139.7 527.3h2.6v2.6h-2.6zM147.6 527.3h2.6v2.6h-2.6zM207.5 527.3h2.6v2.6h-2.6zM215.4 527.3h2.6v2.6h-2.6zM227.4 527.3h2.6v2.6h-2.6zM247.3 527.3h2.6v2.6h-2.6zM253.3 527.3h2.6v2.6h-2.6zM169.6 529.3h2.6v2.6h-2.6zM143.6 531.3h2.6v2.6h-2.6zM187.5 531.3h2.6v2.6h-2.6zM203.5 531.3h2.6v2.6h-2.6zM249.3 531.3h2.6v2.6h-2.6zM165.6 535.2h2.6v2.6h-2.6zM225.4 535.2h2.6v2.6h-2.6zM91.8 537.2h2.6v2.6h-2.6zM121.7 537.2h2.6v2.6h-2.6zM139.7 537.2h2.6v2.6h-2.6zM185.5 537.2h4.6v2.6h-4.6zM211.4 537.2h2.6v2.6h-2.6zM133.7 539.2h2.6v2.6h-2.6zM229.4 539.2h2.6v2.6h-2.6z"/><path fill="#4effb1" d="M175.6 513.4h2.6v2.6h-2.6zM187.5 523.3h2.6v2.6h-2.6zM199.5 523.3h2.6v2.6h-2.6zM209.5 523.3h2.6v2.6h-2.6zM177.5 525.3h2.6v2.6h-2.6zM235.4 525.3h2.6v2.6h-2.6zM109.7 527.3h2.6v2.6h-2.6zM137.7 527.3h2.6v2.6h-2.6zM237.4 529.3h2.6v2.6h-2.6zM141.7 531.3h2.6v2.6h-2.6zM169.6 533.3h2.6v2.6h-2.6zM163.6 535.2h2.6v2.6h-2.6zM193.5 535.2h2.6v2.6h-2.6zM211.4 535.2h2.6v2.6h-2.6zM223.4 535.2h2.6v2.6h-2.6zM137.7 537.2h2.6v2.6h-2.6zM161.6 537.2h2.6v2.6h-2.6zM183.5 537.2h2.6v2.6h-2.6zM209.5 537.2h2.6v2.6h-2.6zM233.4 537.2h2.6v2.6h-2.6zM251.3 537.2h2.6v2.6h-2.6zM117.7 539.2h2.6v2.6h-2.6zM127.7 539.2h2.6v2.6h-2.6zM145.6 539.2h2.6v2.6h-2.6zM173.6 539.2h2.6v2.6h-2.6zM227.4 539.2h2.6v2.6h-2.6zM249.3 539.2h2.6v2.6h-2.6zM253.3 539.2h2.6v2.6h-2.6z"/><path fill="#6fff90" d="M155.6 523.3h2.6v2.6h-2.6zM221.4 523.3h2.6v2.6h-2.6zM233.4 525.3h2.6v2.6h-2.6zM135.7 527.3h2.6v2.6h-2.6zM157.6 527.3h2.6v2.6h-2.6zM225.4 527.3h2.6v2.6h-2.6zM245.3 527.3h2.6v2.6h-2.6zM129.7 529.3h2.6v2.6h-2.6zM235.4 529.3h2.6v2.6h-2.6zM139.7 531.3h2.6v2.6h-2.6zM177.5 531.3h2.6v2.6h-2.6zM201.5 531.3h2.6v2.6h-2.6zM247.3 531.3h2.6v2.6h-2.6zM255.3 531.3h2.6v2.6h-2.6zM111.7 535.2h2.6v2.6h-2.6zM137.7 535.2h2.6v2.6h-2.6zM151.6 535.2h2.6v2.6h-2.6zM173.6 535.2h2.6v2.6h-2.6zM185.5 535.2h2.6v2.6h-2.6zM215.4 535.2h2.6v2.6h-2.6zM221.4 535.2h2.6v2.6h-2.6zM249.3 535.2h2.6v2.6h-2.6zM257.3 535.2h2.6v2.6h-2.6zM135.7 537.2h2.6v2.6h-2.6zM207.5 537.2h2.6v2.6h-2.6zM219.4 537.2h2.6v2.6h-2.6zM115.7 539.2h2.6v2.6h-2.6zM131.7 539.2h2.6v2.6h-2.6zM143.6 539.2h2.6v2.6h-2.6zM171.6 539.2h2.6v2.6h-2.6zM219.4 539.2h2.6v2.6h-2.6z"/><path fill="#90ff6f" d="M207.5 523.3h2.6v2.6h-2.6zM129.7 525.3h2.6v2.6h-2.6zM169.6 525.3h2.6v2.6h-2.6zM175.6 525.3h2.6v2.6h-2.6zM91.8 527.3h2.6v2.6h-2.6zM223.4 527.3h2.6v2.6h-2.6zM233.4 529.3h2.6v2.6h-2.6zM137.7 531.3h2.6v2.6h-2.6zM151.6 531.3h2.6v2.6h-2.6zM229.4 531.3h2.6v2.6h-2.6zM241.4 533.3h2.6v2.6h-2.6zM183.5 535.2h2.6v2.6h-2.6zM191.5 535.2h2.6v2.6h-2.6zM209.5 535.2h2.6v2.6h-2.6zM159.6 537.2h2.6v2.6h-2.6zM181.5 537.2h2.6v2.6h-2.6zM249.3 537.2h2.6v2.6h-2.6zM113.7 539.2h2.6v2.6h-2.6zM125.7 539.2h2.6v2.6h-2.6zM141.7 539.2h2.6v2.6h-2.6zM167.6 539.2h2.6v2.6h-2.6zM217.4 539.2h2.6v2.6h-2.6zM225.4 539.2h2.6v2.6h-2.6z"/><path fill="#b1ff4e" d="M199.5 527.3h2.6v2.6h-2.6zM221.4 527.3h2.6v2.6h-2.6zM163.6 529.3h2.6v2.6h-2.6zM135.7 531.3h2.6v2.6h-2.6zM159.6 531.3h2.6v2.6h-2.6zM199.5 531.3h2.6v2.6h-2.6zM211.4 531.3h2.6v2.6h-2.6zM227.4 531.3h2.6v2.6h-2.6zM245.3 531.3h2.6v2.6h-2.6zM239.4 533.3h2.6v2.6h-2.6zM149.6 535.2h2.6v2.6h-2.6zM171.6 535.2h2.6v2.6h-2.6zM181.5 535.2h2.6v2.6h-2.6zM199.5 535.2h2.6v2.6h-2.6zM247.3 535.2h2.6v2.6h-2.6zM255.3 535.2h2.6v2.6h-2.6zM157.6 537.2h2.6v2.6h-2.6zM167.6 537.2h2.6v2.6h-2.6zM179.5 537.2h2.6v2.6h-2.6zM217.4 537.2h2.6v2.6h-2.6zM247.3 537.2h2.6v2.6h-2.6zM123.7 539.2h2.6v2.6h-2.6zM129.7 539.2h2.6v2.6h-2.6zM139.7 539.2h2.6v2.6h-2.6zM165.6 539.2h2.6v2.6h-2.6zM169.6 539.2h2.6v2.6h-2.6zM197.5 539.2h2.6v2.6h-2.6zM223.4 539.2h2.6v2.6h-2.6z"/><path fill="#d2ff2d" d="M155.6 527.3h2.6v2.6h-2.6zM93.8 531.3h2.6v2.6h-2.6zM111.7 531.3h2.6v2.6h-2.6zM175.6 531.3h2.6v2.6h-2.6zM135.7 535.2h2.6v2.6h-2.6zM179.5 535.2h2.6v2.6h-2.6zM189.5 535.2h2.6v2.6h-2.6zM207.5 535.2h2.6v2.6h-2.6zM173.6 537.2h2.6v2.6h-2.6zM245.3 537.2h2.6v2.6h-2.6zM95.8 539.2h2.6v2.6h-2.6zM111.7 539.2h2.6v2.6h-2.6zM137.7 539.2h2.6v2.6h-2.6zM151.6 539.2h2.6v2.6h-2.6zM161.6 539.2h2.6v2.6h-2.6zM195.5 539.2h2.6v2.6h-2.6zM215.4 539.2h2.6v2.6h-2.6zM221.4 539.2h2.6v2.6h-2.6z"/><path fill="#f3ff0c" d="M149.6 531.3h2.6v2.6h-2.6zM209.5 531.3h2.6v2.6h-2.6zM215.4 531.3h2.6v2.6h-2.6zM225.4 531.3h2.6v2.6h-2.6zM253.3 531.3h2.6v2.6h-2.6zM165.6 533.3h2.6v2.6h-2.6zM237.4 533.3h2.6v2.6h-2.6zM109.7 535.2h2.6v2.6h-2.6zM147.6 535.2h2.6v2.6h-2.6zM157.6 535.2h2.6v2.6h-2.6zM169.6 535.2h2.6v2.6h-2.6zM177.5 535.2h2.6v2.6h-2.6zM245.3 535.2h2.6v2.6h-2.6zM253.3 535.2h2.6v2.6h-2.6zM129.7 537.2h2.6v2.6h-2.6zM155.6 537.2h2.6v2.6h-2.6zM165.6 537.2h2.6v2.6h-2.6zM177.5 537.2h2.6v2.6h-2.6zM215.4 537.2h2.6v2.6h-2.6zM109.7 539.2h2.6v2.6h-2.6zM121.7 539.2h2.6v2.6h-2.6zM135.7 539.2h2.6v2.6h-2.6zM159.6 539.2h2.6v2.6h-2.6zM163.6 539.2h2.6v2.6h-2.6zM193.5 539.2h2.6v2.6h-2.6zM203.5 539.2h2.6v2.6h-2.6z"/><path fill="#ffea00" d="M157.6 531.3h2.6v2.6h-2.6zM223.4 531.3h2.6v2.6h-2.6zM131.7 533.3h2.6v2.6h-2.6zM175.6 535.2h2.6v2.6h-2.6zM187.5 535.2h2.6v2.6h-2.6zM171.6 537.2h2.6v2.6h-2.6zM93.8 539.2h2.6v2.6h-2.6zM149.6 539.2h2.6v2.6h-2.6zM191.5 539.2h2.6v2.6h-2.6zM247.3 539.2h2.6v2.6h-2.6z"/><path fill="#ffca00" d="M91.8 531.3h2.6v2.6h-2.6zM147.6 531.3h2.6v2.6h-2.6zM235.4 533.3h2.6v2.6h-2.6zM175.6 537.2h2.6v2.6h-2.6zM157.6 539.2h2.6v2.6h-2.6zM185.5 539.2h2.6v2.6h-2.6zM189.5 539.2h2.6v2.6h-2.6zM213.4 539.2h2.6v2.6h-2.6z"/><path fill="#ffa900" d="M109.7 531.3h2.6v2.6h-2.6zM207.5 531.3h2.6v2.6h-2.6zM221.4 531.3h2.6v2.6h-2.6zM233.4 533.3h2.6v2.6h-2.6zM169.6 537.2h2.6v2.6h-2.6zM91.8 539.2h2.6v2.6h-2.6zM183.5 539.2h2.6v2.6h-2.6zM187.5 539.2h2.6v2.6h-2.6zM201.5 539.2h2.6v2.6h-2.6z"/><path fill="#ff8800" d="M155.6 531.3h2.6v2.6h-2.6zM163.6 533.3h2.6v2.6h-2.6zM91.8 535.2h2.6v2.6h-2.6zM155.6 535.2h2.6v2.6h-2.6zM163.6 537.2h2.6v2.6h-2.6zM147.6 539.2h2.6v2.6h-2.6zM155.6 539.2h2.6v2.6h-2.6zM211.4 539.2h2.6v2.6h-2.6z"/><path fill="#ff6700" d="M129.7 533.3h2.6v2.6h-2.6zM181.5 539.2h2.6v2.6h-2.6zM199.5 539.2h2.6v2.6h-2.6zM245.3 539.2h2.6v2.6h-2.6z"/><path fill="#ff4600" d="M179.5 539.2h2.6v2.6h-2.6zM209.5 539.2h2.6v2.6h-2.6z"/><path fill="#ff2500" d="M177.5 539.2h2.6v2.6h-2.6z"/><path fill="#ff0400" d="M207.5 539.2h2.6v2.6h-2.6z"/><path fill="#e20000" d="M175.6 539.2h2.6v2.6h-2.6z"/></g></g><defs><linearGradient id="cbB" x1="0" y1="1" x2="0" y2="0"><stop offset="0.000" stop-color="#000080"/><stop offset="0.062" stop-color="#0000bf"/><stop offset="0.125" stop-color="#0000ff"/><stop offset="0.188" stop-color="#0040ff"/><stop offset="0.250" stop-color="#0080ff"/><stop offset="0.312" stop-color="#00bfff"/><stop offset="0.375" stop-color="#00ffff"/><stop offset="0.438" stop-color="#40ffbf"/><stop offset="0.500" stop-color="#80ff80"/><stop offset="0.562" stop-color="#bfff40"/><stop offset="0.625" stop-color="#ffff00"/><stop offset="0.688" stop-color="#ffbf00"/><stop offset="0.750" stop-color="#ff8000"/><stop offset="0.812" stop-color="#ff4000"/><stop offset="0.875" stop-color="#ff0000"/><stop offset="0.938" stop-color="#bf0000"/><stop offset="1.000" stop-color="#800000"/></linearGradient></defs><rect x="265.5" y="402.6" width="5.3" height="138.9" fill="url(#cbB)"/><rect x="265.5" y="402.6" width="5.3" height="138.9" fill="none" stroke="#223" stroke-width="0.6"/>
<defs><clipPath id="cpcbP"><rect x="315.5" y="402.6" width="170.1" height="138.9"/></clipPath></defs><g clip-path="url(#cpcbP)"><g filter="url(#bl)"><rect x="313.5" y="400.6" width="174.1" height="142.9" fill="#0008ff"/><path fill="#0000c3" d="M315.2 402.3h170.7v2.1h-170.7zM335.2 403.8h16.6v2.1h-16.6zM377.2 403.8h22.6v2.1h-22.6zM477.3 403.8h2.6v2.1h-2.6zM315.2 405.3h170.7v2.1h-170.7zM315.2 406.8h170.7v2.1h-170.7zM351.2 408.3h10.6v2.1h-10.6zM383.2 408.3h8.6v2.1h-8.6zM399.2 408.3h12.6v2.1h-12.6zM461.3 408.3h2.6v2.1h-2.6zM315.2 409.8h170.7v2.1h-170.7zM315.2 411.3h170.7v2.1h-170.7zM361.2 412.8h22.6v2.1h-22.6zM391.2 412.8h28.6v2.1h-28.6zM447.3 412.8h16.6v2.1h-16.6zM315.2 414.2h170.7v2.1h-170.7zM315.2 415.7h170.7v2.1h-170.7zM315.2 417.2h20.6v2.1h-20.6zM383.2 417.2h8.6v2.1h-8.6zM447.3 417.2h16.6v2.1h-16.6zM315.2 418.7h170.7v2.1h-170.7zM315.2 420.2h170.7v2.1h-170.7zM361.2 421.7h8.6v2.1h-8.6zM391.2 421.7h8.6v2.1h-8.6zM435.3 421.7h12.6v2.1h-12.6zM459.3 421.7h2.6v2.1h-2.6zM479.3 421.7h6.6v2.1h-6.6zM315.2 423.2h170.7v2.1h-170.7zM351.2 424.7h18.6v2.1h-18.6zM391.2 424.7h20.6v2.1h-20.6zM463.3 424.7h22.6v2.1h-22.6zM315.2 426.2h170.7v2.1h-170.7zM315.2 427.7h170.7v2.1h-170.7zM325.2 429.2h10.6v2.1h-10.6zM369.2 429.2h8.6v2.1h-8.6zM383.2 429.2h8.6v2.1h-8.6zM427.3 429.2h20.6v2.1h-20.6zM479.3 429.2h6.6v2.1h-6.6zM315.2 430.7h170.7v2.1h-170.7zM315.2 432.2h170.7v2.1h-170.7zM315.2 433.7h170.7v2.1h-170.7zM315.2 435.2h20.6v2.1h-20.6zM351.2 435.2h10.6v2.1h-10.6zM369.2 435.2h14.6v2.1h-14.6zM391.2 435.2h8.6v2.1h-8.6zM435.3 435.2h28.6v2.1h-28.6zM479.3 435.2h6.6v2.1h-6.6zM315.2 436.7h170.7v2.1h-170.7zM315.2 438.1h170.7v2.1h-170.7zM335.2 439.6h16.6v2.1h-16.6zM377.2 439.6h14.6v2.1h-14.6zM419.3 439.6h16.6v2.1h-16.6zM479.3 439.6h6.6v2.1h-6.6zM315.2 441.1h170.7v2.1h-170.7zM315.2 442.6h170.7v2.1h-170.7zM315.2 444.1h10.6v2.1h-10.6zM351.2 444.1h10.6v2.1h-10.6zM419.3 444.1h8.6v2.1h-8.6zM463.3 444.1h22.6v2.1h-22.6zM315.2 445.6h170.7v2.1h-170.7zM315.2 447.1h170.7v2.1h-170.7zM351.2 448.6h10.6v2.1h-10.6zM369.2 448.6h22.6v2.1h-22.6zM423.3 448.6h2.6v2.1h-2.6zM435.3 448.6h28.6v2.1h-28.6zM315.2 450.1h170.7v2.1h-170.7zM315.2 451.6h170.7v2.1h-170.7zM325.2 453.1h26.6v2.1h-26.6zM361.2 453.1h8.6v2.1h-8.6zM383.2 453.1h8.6v2.1h-8.6zM399.2 453.1h12.6v2.1h-12.6zM419.3 453.1h8.6v2.1h-8.6zM435.3 453.1h12.6v2.1h-12.6zM463.3 453.1h16.6v2.1h-16.6zM315.2 454.6h170.7v2.1h-170.7zM315.2 456.1h170.7v2.1h-170.7zM315.2 457.6h170.7v2.1h-170.7zM409.3 459.1h2.6v2.1h-2.6zM463.3 459.1h22.6v2.1h-22.6zM315.2 460.5h170.7v2.1h-170.7zM315.2 462h10.6v2.1h-10.6zM361.2 462h8.6v2.1h-8.6zM399.2 462h12.6v2.1h-12.6zM447.3 462h16.6v2.1h-16.6zM315.2 463.5h170.7v2.1h-170.7zM325.2 465h26.6v2.1h-26.6zM369.2 465h8.6v2.1h-8.6zM383.2 465h8.6v2.1h-8.6zM419.3 465h28.6v2.1h-28.6zM315.2 466.5h170.7v2.1h-170.7zM399.2 468h20.6v2.1h-20.6zM447.3 468h16.6v2.1h-16.6zM315.2 469.5h170.7v2.1h-170.7zM315.2 471h170.7v2.1h-170.7zM315.2 472.5h170.7v2.1h-170.7zM325.2 474h10.6v2.1h-10.6zM351.2 474h10.6v2.1h-10.6zM399.2 474h12.6v2.1h-12.6zM419.3 474h28.6v2.1h-28.6zM463.3 474h16.6v2.1h-16.6zM315.2 475.5h170.7v2.1h-170.7zM315.2 477h170.7v2.1h-170.7zM373.2 478.5h4.6v2.1h-4.6zM393.2 478.5h6.6v2.1h-6.6zM413.3 478.5h6.6v2.1h-6.6zM431.3 478.5h4.6v2.1h-4.6zM319.2 480h6.6v2.1h-6.6zM327.2 480h8.6v2.1h-8.6zM339.2 480h2.6v2.1h-2.6zM343.2 480h8.6v2.1h-8.6zM355.2 480h6.6v2.1h-6.6zM363.2 480h6.6v2.1h-6.6zM371.2 480h6.6v2.1h-6.6zM379.2 480h4.6v2.1h-4.6zM387.2 480h4.6v2.1h-4.6zM395.2 480h4.6v2.1h-4.6zM401.3 480h10.6v2.1h-10.6zM415.3 480h4.6v2.1h-4.6zM421.3 480h6.6v2.1h-6.6zM431.3 480h4.6v2.1h-4.6zM437.3 480h2.6v2.1h-2.6zM441.3 480h6.6v2.1h-6.6zM449.3 480h2.6v2.1h-2.6zM455.3 480h8.6v2.1h-8.6zM467.3 480h12.6v2.1h-12.6zM481.3 480h4.6v2.1h-4.6zM319.2 481.5h6.6v2.1h-6.6zM331.2 481.5h4.6v2.1h-4.6zM341.2 481.5h10.6v2.1h-10.6zM355.2 481.5h6.6v2.1h-6.6zM365.2 481.5h4.6v2.1h-4.6zM373.2 481.5h4.6v2.1h-4.6zM379.2 481.5h4.6v2.1h-4.6zM385.2 481.5h6.6v2.1h-6.6zM395.2 481.5h4.6v2.1h-4.6zM403.3 481.5h2.6v2.1h-2.6zM407.3 481.5h4.6v2.1h-4.6zM417.3 481.5h2.6v2.1h-2.6zM425.3 481.5h2.6v2.1h-2.6zM431.3 481.5h4.6v2.1h-4.6zM441.3 481.5h6.6v2.1h-6.6zM451.3 481.5h12.6v2.1h-12.6zM471.3 481.5h8.6v2.1h-8.6zM483.3 481.5h2.6v2.1h-2.6zM365.2 483h4.6v2.1h-4.6zM453.3 483h10.6v2.1h-10.6zM319.2 484.4h6.6v2.1h-6.6zM333.2 484.4h2.6v2.1h-2.6zM341.2 484.4h10.6v2.1h-10.6zM359.2 484.4h2.6v2.1h-2.6zM365.2 484.4h4.6v2.1h-4.6zM373.2 484.4h4.6v2.1h-4.6zM389.2 484.4h2.6v2.1h-2.6zM397.2 484.4h2.6v2.1h-2.6zM409.3 484.4h2.6v2.1h-2.6zM417.3 484.4h2.6v2.1h-2.6zM425.3 484.4h2.6v2.1h-2.6zM431.3 484.4h4.6v2.1h-4.6zM441.3 484.4h6.6v2.1h-6.6zM459.3 484.4h4.6v2.1h-4.6zM471.3 484.4h8.6v2.1h-8.6zM483.3 484.4h2.6v2.1h-2.6zM445.3 485.9h2.6v2.1h-2.6zM345.2 487.4h2.6v2.1h-2.6zM349.2 487.4h2.6v2.1h-2.6zM375.2 487.4h2.6v2.1h-2.6zM389.2 487.4h2.6v2.1h-2.6zM397.2 487.4h2.6v2.1h-2.6zM409.3 487.4h2.6v2.1h-2.6zM425.3 487.4h2.6v2.1h-2.6zM457.3 487.4h6.6v2.1h-6.6zM473.3 487.4h6.6v2.1h-6.6zM483.3 487.4h2.6v2.1h-2.6zM349.2 488.9h2.6v2.1h-2.6zM389.2 488.9h2.6v2.1h-2.6zM461.3 488.9h2.6v2.1h-2.6zM477.3 488.9h2.6v2.1h-2.6zM483.3 488.9h2.6v2.1h-2.6zM349.2 491.9h2.6v2.1h-2.6zM461.3 491.9h2.6v2.1h-2.6zM477.3 491.9h2.6v2.1h-2.6zM461.3 493.4h2.6v2.1h-2.6z"/><path fill="#004dff" d="M317.2 403.8h8.6v2.1h-8.6zM359.2 403.8h10.6v2.1h-10.6zM373.2 403.8h4.6v2.1h-4.6zM401.3 403.8h8.6v2.1h-8.6zM415.3 403.8h4.6v2.1h-4.6zM435.3 403.8h10.6v2.1h-10.6zM447.3 403.8h24.6v2.1h-24.6zM473.3 403.8h4.6v2.1h-4.6zM321.2 408.3h2.6v2.1h-2.6zM327.2 408.3h2.6v2.1h-2.6zM331.2 408.3h4.6v2.1h-4.6zM349.2 408.3h2.6v2.1h-2.6zM433.3 408.3h2.6v2.1h-2.6zM445.3 408.3h6.6v2.1h-6.6zM453.3 408.3h2.6v2.1h-2.6zM471.3 408.3h8.6v2.1h-8.6zM321.2 412.8h4.6v2.1h-4.6zM331.2 412.8h2.6v2.1h-2.6zM339.2 412.8h12.6v2.1h-12.6zM355.2 412.8h6.6v2.1h-6.6zM385.2 412.8h6.6v2.1h-6.6zM419.3 412.8h10.6v2.1h-10.6zM431.3 412.8h4.6v2.1h-4.6zM445.3 412.8h2.6v2.1h-2.6zM473.3 412.8h6.6v2.1h-6.6zM483.3 412.8h2.6v2.1h-2.6zM351.2 417.2h10.6v2.1h-10.6zM363.2 417.2h2.6v2.1h-2.6zM415.3 417.2h2.6v2.1h-2.6zM421.3 417.2h4.6v2.1h-4.6zM443.3 417.2h4.6v2.1h-4.6zM467.3 417.2h2.6v2.1h-2.6zM321.2 421.7h4.6v2.1h-4.6zM333.2 421.7h12.6v2.1h-12.6zM353.2 421.7h4.6v2.1h-4.6zM373.2 421.7h4.6v2.1h-4.6zM389.2 421.7h2.6v2.1h-2.6zM399.2 421.7h2.6v2.1h-2.6zM417.3 421.7h2.6v2.1h-2.6zM423.3 421.7h4.6v2.1h-4.6zM447.3 421.7h10.6v2.1h-10.6zM473.3 421.7h2.6v2.1h-2.6zM477.3 421.7h2.6v2.1h-2.6zM325.2 424.7h2.6v2.1h-2.6zM329.2 424.7h4.6v2.1h-4.6zM335.2 424.7h2.6v2.1h-2.6zM339.2 424.7h10.6v2.1h-10.6zM383.2 424.7h8.6v2.1h-8.6zM419.3 424.7h2.6v2.1h-2.6zM423.3 424.7h2.6v2.1h-2.6zM427.3 424.7h4.6v2.1h-4.6zM445.3 424.7h2.6v2.1h-2.6zM461.3 424.7h2.6v2.1h-2.6zM343.2 429.2h4.6v2.1h-4.6zM357.2 429.2h4.6v2.1h-4.6zM363.2 429.2h2.6v2.1h-2.6zM391.2 429.2h8.6v2.1h-8.6zM405.3 429.2h6.6v2.1h-6.6zM421.3 429.2h2.6v2.1h-2.6zM425.3 429.2h2.6v2.1h-2.6zM447.3 429.2h24.6v2.1h-24.6zM339.2 435.2h4.6v2.1h-4.6zM361.2 435.2h6.6v2.1h-6.6zM403.3 435.2h2.6v2.1h-2.6zM409.3 435.2h2.6v2.1h-2.6zM419.3 435.2h2.6v2.1h-2.6zM423.3 435.2h4.6v2.1h-4.6zM471.3 435.2h2.6v2.1h-2.6zM351.2 439.6h6.6v2.1h-6.6zM359.2 439.6h2.6v2.1h-2.6zM371.2 439.6h4.6v2.1h-4.6zM403.3 439.6h6.6v2.1h-6.6zM411.3 439.6h6.6v2.1h-6.6zM441.3 439.6h6.6v2.1h-6.6zM453.3 439.6h10.6v2.1h-10.6zM345.2 444.1h6.6v2.1h-6.6zM367.2 444.1h2.6v2.1h-2.6zM375.2 444.1h2.6v2.1h-2.6zM379.2 444.1h2.6v2.1h-2.6zM389.2 444.1h4.6v2.1h-4.6zM407.3 444.1h4.6v2.1h-4.6zM431.3 444.1h4.6v2.1h-4.6zM439.3 444.1h4.6v2.1h-4.6zM445.3 444.1h2.6v2.1h-2.6zM335.2 448.6h10.6v2.1h-10.6zM361.2 448.6h8.6v2.1h-8.6zM393.2 448.6h6.6v2.1h-6.6zM407.3 448.6h4.6v2.1h-4.6zM419.3 448.6h4.6v2.1h-4.6zM463.3 448.6h6.6v2.1h-6.6zM481.3 448.6h2.6v2.1h-2.6zM319.2 453.1h6.6v2.1h-6.6zM351.2 453.1h6.6v2.1h-6.6zM369.2 453.1h4.6v2.1h-4.6zM377.2 453.1h2.6v2.1h-2.6zM391.2 453.1h8.6v2.1h-8.6zM413.3 453.1h4.6v2.1h-4.6zM427.3 453.1h2.6v2.1h-2.6zM433.3 453.1h2.6v2.1h-2.6zM447.3 453.1h2.6v2.1h-2.6zM451.3 453.1h12.6v2.1h-12.6zM323.2 459.1h2.6v2.1h-2.6zM333.2 459.1h18.6v2.1h-18.6zM371.2 459.1h2.6v2.1h-2.6zM381.2 459.1h2.6v2.1h-2.6zM389.2 459.1h20.6v2.1h-20.6zM415.3 459.1h2.6v2.1h-2.6zM419.3 459.1h4.6v2.1h-4.6zM427.3 459.1h18.6v2.1h-18.6zM457.3 459.1h4.6v2.1h-4.6zM335.2 462h8.6v2.1h-8.6zM351.2 462h8.6v2.1h-8.6zM371.2 462h2.6v2.1h-2.6zM379.2 462h2.6v2.1h-2.6zM383.2 462h2.6v2.1h-2.6zM389.2 462h2.6v2.1h-2.6zM419.3 462h12.6v2.1h-12.6zM439.3 462h8.6v2.1h-8.6zM477.3 462h2.6v2.1h-2.6zM481.3 462h4.6v2.1h-4.6zM359.2 465h4.6v2.1h-4.6zM365.2 465h2.6v2.1h-2.6zM401.3 465h8.6v2.1h-8.6zM415.3 465h2.6v2.1h-2.6zM467.3 465h2.6v2.1h-2.6zM323.2 468h2.6v2.1h-2.6zM347.2 468h2.6v2.1h-2.6zM351.2 468h6.6v2.1h-6.6zM359.2 468h2.6v2.1h-2.6zM367.2 468h8.6v2.1h-8.6zM381.2 468h2.6v2.1h-2.6zM387.2 468h4.6v2.1h-4.6zM437.3 468h2.6v2.1h-2.6zM463.3 468h8.6v2.1h-8.6zM473.3 468h6.6v2.1h-6.6zM483.3 468h2.6v2.1h-2.6zM335.2 474h2.6v2.1h-2.6zM349.2 474h2.6v2.1h-2.6zM373.2 474h2.6v2.1h-2.6zM379.2 474h4.6v2.1h-4.6zM415.3 474h4.6v2.1h-4.6zM457.3 474h6.6v2.1h-6.6zM479.3 474h2.6v2.1h-2.6zM321.2 478.5h2.6v2.1h-2.6zM325.2 478.5h2.6v2.1h-2.6zM333.2 478.5h2.6v2.1h-2.6zM341.2 478.5h2.6v2.1h-2.6zM345.2 478.5h2.6v2.1h-2.6zM355.2 478.5h2.6v2.1h-2.6zM377.2 478.5h2.6v2.1h-2.6zM389.2 478.5h2.6v2.1h-2.6zM323.2 483h2.6v2.1h-2.6zM331.2 483h2.6v2.1h-2.6zM357.2 483h2.6v2.1h-2.6zM409.3 483h2.6v2.1h-2.6zM439.3 483h2.6v2.1h-2.6zM473.3 483h2.6v2.1h-2.6zM335.2 484.4h2.6v2.1h-2.6zM401.3 484.4h2.6v2.1h-2.6zM419.3 484.4h2.6v2.1h-2.6zM463.3 484.4h2.6v2.1h-2.6zM335.2 485.9h2.6v2.1h-2.6zM357.2 485.9h2.6v2.1h-2.6zM367.2 485.9h2.6v2.1h-2.6zM371.2 485.9h2.6v2.1h-2.6zM385.2 485.9h2.6v2.1h-2.6zM409.3 485.9h2.6v2.1h-2.6zM427.3 485.9h2.6v2.1h-2.6zM435.3 485.9h4.6v2.1h-4.6zM315.2 487.4h2.6v2.1h-2.6zM335.2 487.4h4.6v2.1h-4.6zM351.2 487.4h2.6v2.1h-2.6zM377.2 487.4h2.6v2.1h-2.6zM391.2 487.4h2.6v2.1h-2.6zM399.2 487.4h2.6v2.1h-2.6zM403.3 487.4h2.6v2.1h-2.6zM411.3 487.4h2.6v2.1h-2.6zM419.3 487.4h4.6v2.1h-4.6zM427.3 487.4h2.6v2.1h-2.6zM435.3 487.4h6.6v2.1h-6.6zM465.3 487.4h2.6v2.1h-2.6zM315.2 488.9h2.6v2.1h-2.6zM325.2 488.9h4.6v2.1h-4.6zM335.2 488.9h2.6v2.1h-2.6zM371.2 488.9h2.6v2.1h-2.6zM377.2 488.9h2.6v2.1h-2.6zM391.2 488.9h4.6v2.1h-4.6zM399.2 488.9h6.6v2.1h-6.6zM411.3 488.9h2.6v2.1h-2.6zM419.3 488.9h2.6v2.1h-2.6zM427.3 488.9h2.6v2.1h-2.6zM435.3 488.9h2.6v2.1h-2.6zM439.3 488.9h2.6v2.1h-2.6zM449.3 488.9h2.6v2.1h-2.6zM463.3 488.9h2.6v2.1h-2.6zM479.3 488.9h2.6v2.1h-2.6zM343.2 490.4h2.6v2.1h-2.6zM351.2 490.4h6.6v2.1h-6.6zM361.2 490.4h2.6v2.1h-2.6zM385.2 490.4h2.6v2.1h-2.6zM399.2 490.4h6.6v2.1h-6.6zM439.3 490.4h2.6v2.1h-2.6zM457.3 490.4h2.6v2.1h-2.6zM463.3 490.4h2.6v2.1h-2.6zM467.3 490.4h2.6v2.1h-2.6zM317.2 491.9h2.6v2.1h-2.6zM325.2 491.9h8.6v2.1h-8.6zM335.2 491.9h4.6v2.1h-4.6zM351.2 491.9h4.6v2.1h-4.6zM361.2 491.9h4.6v2.1h-4.6zM369.2 491.9h2.6v2.1h-2.6zM377.2 491.9h4.6v2.1h-4.6zM383.2 491.9h4.6v2.1h-4.6zM391.2 491.9h4.6v2.1h-4.6zM399.2 491.9h8.6v2.1h-8.6zM411.3 491.9h4.6v2.1h-4.6zM419.3 491.9h4.6v2.1h-4.6zM427.3 491.9h4.6v2.1h-4.6zM435.3 491.9h8.6v2.1h-8.6zM447.3 491.9h4.6v2.1h-4.6zM463.3 491.9h6.6v2.1h-6.6zM471.3 491.9h2.6v2.1h-2.6zM479.3 491.9h2.6v2.1h-2.6zM315.2 493.4h8.6v2.1h-8.6zM325.2 493.4h4.6v2.1h-4.6zM335.2 493.4h8.6v2.1h-8.6zM351.2 493.4h4.6v2.1h-4.6zM361.2 493.4h4.6v2.1h-4.6zM369.2 493.4h4.6v2.1h-4.6zM377.2 493.4h4.6v2.1h-4.6zM383.2 493.4h2.6v2.1h-2.6zM391.2 493.4h4.6v2.1h-4.6zM399.2 493.4h6.6v2.1h-6.6zM411.3 493.4h4.6v2.1h-4.6zM419.3 493.4h4.6v2.1h-4.6zM427.3 493.4h6.6v2.1h-6.6zM435.3 493.4h8.6v2.1h-8.6zM447.3 493.4h4.6v2.1h-4.6zM463.3 493.4h6.6v2.1h-6.6zM479.3 493.4h4.6v2.1h-4.6zM315.2 494.9h8.6v2.1h-8.6zM327.2 494.9h6.6v2.1h-6.6zM335.2 494.9h4.6v2.1h-4.6zM341.2 494.9h4.6v2.1h-4.6zM351.2 494.9h8.6v2.1h-8.6zM361.2 494.9h12.6v2.1h-12.6zM377.2 494.9h10.6v2.1h-10.6zM391.2 494.9h6.6v2.1h-6.6zM399.2 494.9h2.6v2.1h-2.6zM403.3 494.9h4.6v2.1h-4.6zM413.3 494.9h12.6v2.1h-12.6zM429.3 494.9h4.6v2.1h-4.6zM435.3 494.9h8.6v2.1h-8.6zM445.3 494.9h6.6v2.1h-6.6zM453.3 494.9h2.6v2.1h-2.6zM463.3 494.9h10.6v2.1h-10.6zM479.3 494.9h4.6v2.1h-4.6zM349.2 496.4h2.6v2.1h-2.6zM373.2 496.4h2.6v2.1h-2.6zM395.2 496.4h2.6v2.1h-2.6zM413.3 496.4h6.6v2.1h-6.6zM423.3 496.4h2.6v2.1h-2.6zM453.3 496.4h2.6v2.1h-2.6zM473.3 496.4h2.6v2.1h-2.6zM477.3 496.4h2.6v2.1h-2.6zM317.2 497.9h2.6v2.1h-2.6zM321.2 497.9h2.6v2.1h-2.6zM329.2 497.9h16.6v2.1h-16.6zM353.2 497.9h6.6v2.1h-6.6zM361.2 497.9h6.6v2.1h-6.6zM371.2 497.9h2.6v2.1h-2.6zM379.2 497.9h10.6v2.1h-10.6zM395.2 497.9h4.6v2.1h-4.6zM401.3 497.9h2.6v2.1h-2.6zM405.3 497.9h4.6v2.1h-4.6zM413.3 497.9h6.6v2.1h-6.6zM421.3 497.9h4.6v2.1h-4.6zM429.3 497.9h4.6v2.1h-4.6zM437.3 497.9h22.6v2.1h-22.6zM465.3 497.9h10.6v2.1h-10.6zM479.3 497.9h4.6v2.1h-4.6zM319.2 499.4h6.6v2.1h-6.6zM329.2 499.4h6.6v2.1h-6.6zM337.2 499.4h12.6v2.1h-12.6zM353.2 499.4h14.6v2.1h-14.6zM369.2 499.4h6.6v2.1h-6.6zM379.2 499.4h2.6v2.1h-2.6zM385.2 499.4h2.6v2.1h-2.6zM395.2 499.4h4.6v2.1h-4.6zM403.3 499.4h8.6v2.1h-8.6zM415.3 499.4h4.6v2.1h-4.6zM421.3 499.4h6.6v2.1h-6.6zM429.3 499.4h6.6v2.1h-6.6zM441.3 499.4h4.6v2.1h-4.6zM453.3 499.4h4.6v2.1h-4.6zM463.3 499.4h4.6v2.1h-4.6zM469.3 499.4h10.6v2.1h-10.6zM481.3 499.4h2.6v2.1h-2.6zM319.2 500.9h6.6v2.1h-6.6zM333.2 500.9h2.6v2.1h-2.6zM337.2 500.9h8.6v2.1h-8.6zM385.2 500.9h6.6v2.1h-6.6zM417.3 500.9h2.6v2.1h-2.6zM441.3 500.9h6.6v2.1h-6.6zM469.3 500.9h10.6v2.1h-10.6zM321.2 502.4h4.6v2.1h-4.6zM329.2 502.4h6.6v2.1h-6.6zM337.2 502.4h2.6v2.1h-2.6zM341.2 502.4h8.6v2.1h-8.6zM355.2 502.4h6.6v2.1h-6.6zM367.2 502.4h2.6v2.1h-2.6zM373.2 502.4h4.6v2.1h-4.6zM381.2 502.4h4.6v2.1h-4.6zM387.2 502.4h2.6v2.1h-2.6zM405.3 502.4h2.6v2.1h-2.6zM409.3 502.4h2.6v2.1h-2.6zM417.3 502.4h2.6v2.1h-2.6zM423.3 502.4h4.6v2.1h-4.6zM433.3 502.4h2.6v2.1h-2.6zM441.3 502.4h2.6v2.1h-2.6zM445.3 502.4h2.6v2.1h-2.6zM451.3 502.4h10.6v2.1h-10.6zM467.3 502.4h10.6v2.1h-10.6zM481.3 502.4h4.6v2.1h-4.6zM323.2 503.9h2.6v2.1h-2.6zM331.2 503.9h4.6v2.1h-4.6zM337.2 503.9h4.6v2.1h-4.6zM343.2 503.9h4.6v2.1h-4.6zM349.2 503.9h2.6v2.1h-2.6zM355.2 503.9h6.6v2.1h-6.6zM367.2 503.9h2.6v2.1h-2.6zM373.2 503.9h4.6v2.1h-4.6zM381.2 503.9h2.6v2.1h-2.6zM387.2 503.9h2.6v2.1h-2.6zM397.2 503.9h2.6v2.1h-2.6zM409.3 503.9h2.6v2.1h-2.6zM417.3 503.9h2.6v2.1h-2.6zM425.3 503.9h2.6v2.1h-2.6zM429.3 503.9h6.6v2.1h-6.6zM445.3 503.9h2.6v2.1h-2.6zM453.3 503.9h10.6v2.1h-10.6zM471.3 503.9h8.6v2.1h-8.6zM481.3 503.9h4.6v2.1h-4.6zM347.2 505.4h2.6v2.1h-2.6zM385.2 505.4h6.6v2.1h-6.6zM469.3 505.4h2.6v2.1h-2.6zM475.3 505.4h4.6v2.1h-4.6zM483.3 505.4h2.6v2.1h-2.6zM333.2 506.8h2.6v2.1h-2.6zM341.2 506.8h2.6v2.1h-2.6zM345.2 506.8h4.6v2.1h-4.6zM367.2 506.8h2.6v2.1h-2.6zM375.2 506.8h2.6v2.1h-2.6zM389.2 506.8h2.6v2.1h-2.6zM425.3 506.8h2.6v2.1h-2.6zM431.3 506.8h2.6v2.1h-2.6zM475.3 506.8h4.6v2.1h-4.6zM483.3 506.8h2.6v2.1h-2.6zM343.2 508.3h8.6v2.1h-8.6zM375.2 508.3h2.6v2.1h-2.6zM343.2 509.8h8.6v2.1h-8.6zM461.3 509.8h2.6v2.1h-2.6zM477.3 509.8h2.6v2.1h-2.6zM347.2 511.3h4.6v2.1h-4.6zM373.2 511.3h4.6v2.1h-4.6zM389.2 511.3h2.6v2.1h-2.6zM459.3 511.3h2.6v2.1h-2.6zM475.3 511.3h2.6v2.1h-2.6zM483.3 511.3h2.6v2.1h-2.6zM477.3 512.8h2.6v2.1h-2.6zM347.2 514.3h2.6v2.1h-2.6zM461.3 514.3h2.6v2.1h-2.6zM347.2 515.8h4.6v2.1h-4.6zM375.2 515.8h2.6v2.1h-2.6zM347.2 517.3h2.6v2.1h-2.6zM461.3 517.3h2.6v2.1h-2.6z"/><path fill="#0091ff" d="M315.2 403.8h2.6v2.1h-2.6zM327.2 403.8h8.6v2.1h-8.6zM351.2 403.8h8.6v2.1h-8.6zM369.2 403.8h4.6v2.1h-4.6zM411.3 403.8h4.6v2.1h-4.6zM423.3 403.8h4.6v2.1h-4.6zM429.3 403.8h6.6v2.1h-6.6zM481.3 403.8h4.6v2.1h-4.6zM323.2 408.3h4.6v2.1h-4.6zM335.2 408.3h10.6v2.1h-10.6zM347.2 408.3h2.6v2.1h-2.6zM363.2 408.3h6.6v2.1h-6.6zM371.2 408.3h6.6v2.1h-6.6zM381.2 408.3h2.6v2.1h-2.6zM395.2 408.3h4.6v2.1h-4.6zM417.3 408.3h2.6v2.1h-2.6zM425.3 408.3h2.6v2.1h-2.6zM429.3 408.3h4.6v2.1h-4.6zM435.3 408.3h2.6v2.1h-2.6zM439.3 408.3h6.6v2.1h-6.6zM463.3 408.3h6.6v2.1h-6.6zM333.2 412.8h2.6v2.1h-2.6zM351.2 412.8h4.6v2.1h-4.6zM383.2 412.8h2.6v2.1h-2.6zM435.3 412.8h8.6v2.1h-8.6zM463.3 412.8h10.6v2.1h-10.6zM479.3 412.8h2.6v2.1h-2.6zM347.2 417.2h4.6v2.1h-4.6zM361.2 417.2h2.6v2.1h-2.6zM365.2 417.2h4.6v2.1h-4.6zM375.2 417.2h2.6v2.1h-2.6zM403.3 417.2h8.6v2.1h-8.6zM433.3 417.2h10.6v2.1h-10.6zM475.3 417.2h4.6v2.1h-4.6zM481.3 417.2h2.6v2.1h-2.6zM315.2 421.7h6.6v2.1h-6.6zM325.2 421.7h4.6v2.1h-4.6zM331.2 421.7h2.6v2.1h-2.6zM369.2 421.7h4.6v2.1h-4.6zM381.2 421.7h8.6v2.1h-8.6zM401.3 421.7h14.6v2.1h-14.6zM419.3 421.7h2.6v2.1h-2.6zM431.3 421.7h4.6v2.1h-4.6zM465.3 421.7h8.6v2.1h-8.6zM317.2 424.7h8.6v2.1h-8.6zM373.2 424.7h4.6v2.1h-4.6zM381.2 424.7h2.6v2.1h-2.6zM417.3 424.7h2.6v2.1h-2.6zM435.3 424.7h10.6v2.1h-10.6zM447.3 424.7h14.6v2.1h-14.6zM315.2 429.2h10.6v2.1h-10.6zM347.2 429.2h10.6v2.1h-10.6zM361.2 429.2h2.6v2.1h-2.6zM365.2 429.2h4.6v2.1h-4.6zM381.2 429.2h2.6v2.1h-2.6zM399.2 429.2h6.6v2.1h-6.6zM419.3 429.2h2.6v2.1h-2.6zM343.2 435.2h8.6v2.1h-8.6zM387.2 435.2h4.6v2.1h-4.6zM399.2 435.2h4.6v2.1h-4.6zM417.3 435.2h2.6v2.1h-2.6zM429.3 435.2h6.6v2.1h-6.6zM469.3 435.2h2.6v2.1h-2.6zM473.3 435.2h2.6v2.1h-2.6zM323.2 439.6h2.6v2.1h-2.6zM333.2 439.6h2.6v2.1h-2.6zM367.2 439.6h4.6v2.1h-4.6zM397.2 439.6h6.6v2.1h-6.6zM435.3 439.6h6.6v2.1h-6.6zM447.3 439.6h6.6v2.1h-6.6zM473.3 439.6h6.6v2.1h-6.6zM333.2 444.1h4.6v2.1h-4.6zM339.2 444.1h6.6v2.1h-6.6zM361.2 444.1h6.6v2.1h-6.6zM369.2 444.1h6.6v2.1h-6.6zM381.2 444.1h8.6v2.1h-8.6zM397.2 444.1h10.6v2.1h-10.6zM417.3 444.1h2.6v2.1h-2.6zM427.3 444.1h4.6v2.1h-4.6zM437.3 444.1h2.6v2.1h-2.6zM453.3 444.1h6.6v2.1h-6.6zM461.3 444.1h2.6v2.1h-2.6zM315.2 448.6h18.6v2.1h-18.6zM391.2 448.6h2.6v2.1h-2.6zM399.2 448.6h8.6v2.1h-8.6zM413.3 448.6h6.6v2.1h-6.6zM433.3 448.6h2.6v2.1h-2.6zM483.3 448.6h2.6v2.1h-2.6zM315.2 453.1h4.6v2.1h-4.6zM379.2 453.1h4.6v2.1h-4.6zM411.3 453.1h2.6v2.1h-2.6zM483.3 453.1h2.6v2.1h-2.6zM315.2 459.1h8.6v2.1h-8.6zM325.2 459.1h8.6v2.1h-8.6zM355.2 459.1h4.6v2.1h-4.6zM365.2 459.1h6.6v2.1h-6.6zM373.2 459.1h8.6v2.1h-8.6zM383.2 459.1h6.6v2.1h-6.6zM447.3 459.1h2.6v2.1h-2.6zM451.3 459.1h6.6v2.1h-6.6zM333.2 462h2.6v2.1h-2.6zM373.2 462h4.6v2.1h-4.6zM385.2 462h4.6v2.1h-4.6zM397.2 462h2.6v2.1h-2.6zM415.3 462h4.6v2.1h-4.6zM435.3 462h4.6v2.1h-4.6zM463.3 462h4.6v2.1h-4.6zM469.3 462h8.6v2.1h-8.6zM479.3 462h2.6v2.1h-2.6zM321.2 465h4.6v2.1h-4.6zM351.2 465h4.6v2.1h-4.6zM357.2 465h2.6v2.1h-2.6zM377.2 465h6.6v2.1h-6.6zM391.2 465h6.6v2.1h-6.6zM417.3 465h2.6v2.1h-2.6zM455.3 465h8.6v2.1h-8.6zM477.3 465h2.6v2.1h-2.6zM481.3 465h4.6v2.1h-4.6zM329.2 468h4.6v2.1h-4.6zM345.2 468h2.6v2.1h-2.6zM349.2 468h2.6v2.1h-2.6zM361.2 468h6.6v2.1h-6.6zM377.2 468h2.6v2.1h-2.6zM383.2 468h4.6v2.1h-4.6zM423.3 468h2.6v2.1h-2.6zM431.3 468h2.6v2.1h-2.6zM439.3 468h6.6v2.1h-6.6zM479.3 468h2.6v2.1h-2.6zM315.2 474h8.6v2.1h-8.6zM337.2 474h12.6v2.1h-12.6zM363.2 474h10.6v2.1h-10.6zM377.2 474h2.6v2.1h-2.6zM383.2 474h8.6v2.1h-8.6zM393.2 474h6.6v2.1h-6.6zM411.3 474h4.6v2.1h-4.6zM447.3 474h2.6v2.1h-2.6zM451.3 474h6.6v2.1h-6.6zM327.2 478.5h2.6v2.1h-2.6zM349.2 478.5h2.6v2.1h-2.6zM379.2 478.5h4.6v2.1h-4.6zM407.3 478.5h4.6v2.1h-4.6zM481.3 478.5h4.6v2.1h-4.6zM333.2 483h2.6v2.1h-2.6zM347.2 483h4.6v2.1h-4.6zM359.2 483h2.6v2.1h-2.6zM369.2 483h2.6v2.1h-2.6zM389.2 483h2.6v2.1h-2.6zM403.3 483h2.6v2.1h-2.6zM413.3 483h6.6v2.1h-6.6zM425.3 483h2.6v2.1h-2.6zM441.3 483h2.6v2.1h-2.6zM445.3 483h2.6v2.1h-2.6zM345.2 485.9h4.6v2.1h-4.6zM359.2 485.9h2.6v2.1h-2.6zM373.2 485.9h10.6v2.1h-10.6zM389.2 485.9h4.6v2.1h-4.6zM399.2 485.9h2.6v2.1h-2.6zM405.3 485.9h2.6v2.1h-2.6zM415.3 485.9h4.6v2.1h-4.6zM423.3 485.9h4.6v2.1h-4.6zM429.3 485.9h6.6v2.1h-6.6zM475.3 485.9h4.6v2.1h-4.6zM315.2 490.4h10.6v2.1h-10.6zM381.2 490.4h2.6v2.1h-2.6zM389.2 490.4h2.6v2.1h-2.6zM433.3 490.4h2.6v2.1h-2.6zM445.3 490.4h2.6v2.1h-2.6zM459.3 490.4h4.6v2.1h-4.6zM315.2 491.9h2.6v2.1h-2.6zM325.2 494.9h2.6v2.1h-2.6zM401.3 494.9h2.6v2.1h-2.6zM411.3 494.9h2.6v2.1h-2.6zM427.3 494.9h2.6v2.1h-2.6zM355.2 496.4h6.6v2.1h-6.6zM375.2 496.4h2.6v2.1h-2.6zM397.2 496.4h2.6v2.1h-2.6zM411.3 496.4h2.6v2.1h-2.6zM419.3 496.4h4.6v2.1h-4.6zM425.3 496.4h2.6v2.1h-2.6zM451.3 496.4h2.6v2.1h-2.6zM475.3 496.4h2.6v2.1h-2.6zM315.2 497.9h2.6v2.1h-2.6zM319.2 497.9h2.6v2.1h-2.6zM325.2 497.9h4.6v2.1h-4.6zM351.2 497.9h2.6v2.1h-2.6zM369.2 497.9h2.6v2.1h-2.6zM377.2 497.9h2.6v2.1h-2.6zM391.2 497.9h4.6v2.1h-4.6zM399.2 497.9h2.6v2.1h-2.6zM403.3 497.9h2.6v2.1h-2.6zM411.3 497.9h2.6v2.1h-2.6zM419.3 497.9h2.6v2.1h-2.6zM427.3 497.9h2.6v2.1h-2.6zM435.3 497.9h2.6v2.1h-2.6zM463.3 497.9h2.6v2.1h-2.6zM315.2 499.4h4.6v2.1h-4.6zM325.2 499.4h4.6v2.1h-4.6zM335.2 499.4h2.6v2.1h-2.6zM351.2 499.4h2.6v2.1h-2.6zM377.2 499.4h2.6v2.1h-2.6zM383.2 499.4h2.6v2.1h-2.6zM391.2 499.4h4.6v2.1h-4.6zM399.2 499.4h4.6v2.1h-4.6zM411.3 499.4h4.6v2.1h-4.6zM419.3 499.4h2.6v2.1h-2.6zM427.3 499.4h2.6v2.1h-2.6zM435.3 499.4h6.6v2.1h-6.6zM447.3 499.4h6.6v2.1h-6.6zM467.3 499.4h2.6v2.1h-2.6zM479.3 499.4h2.6v2.1h-2.6zM315.2 500.9h4.6v2.1h-4.6zM329.2 500.9h2.6v2.1h-2.6zM335.2 500.9h2.6v2.1h-2.6zM383.2 500.9h2.6v2.1h-2.6zM411.3 500.9h6.6v2.1h-6.6zM435.3 500.9h6.6v2.1h-6.6zM463.3 500.9h6.6v2.1h-6.6zM315.2 502.4h6.6v2.1h-6.6zM325.2 502.4h4.6v2.1h-4.6zM335.2 502.4h2.6v2.1h-2.6zM339.2 502.4h2.6v2.1h-2.6zM351.2 502.4h4.6v2.1h-4.6zM361.2 502.4h6.6v2.1h-6.6zM369.2 502.4h4.6v2.1h-4.6zM377.2 502.4h4.6v2.1h-4.6zM385.2 502.4h2.6v2.1h-2.6zM393.2 502.4h12.6v2.1h-12.6zM407.3 502.4h2.6v2.1h-2.6zM411.3 502.4h6.6v2.1h-6.6zM419.3 502.4h4.6v2.1h-4.6zM427.3 502.4h6.6v2.1h-6.6zM435.3 502.4h6.6v2.1h-6.6zM443.3 502.4h2.6v2.1h-2.6zM447.3 502.4h4.6v2.1h-4.6zM463.3 502.4h4.6v2.1h-4.6zM479.3 502.4h2.6v2.1h-2.6zM319.2 503.9h4.6v2.1h-4.6zM325.2 503.9h6.6v2.1h-6.6zM335.2 503.9h2.6v2.1h-2.6zM341.2 503.9h2.6v2.1h-2.6zM351.2 503.9h4.6v2.1h-4.6zM361.2 503.9h6.6v2.1h-6.6zM369.2 503.9h4.6v2.1h-4.6zM377.2 503.9h4.6v2.1h-4.6zM383.2 503.9h4.6v2.1h-4.6zM391.2 503.9h6.6v2.1h-6.6zM399.2 503.9h10.6v2.1h-10.6zM411.3 503.9h6.6v2.1h-6.6zM419.3 503.9h6.6v2.1h-6.6zM427.3 503.9h2.6v2.1h-2.6zM437.3 503.9h8.6v2.1h-8.6zM447.3 503.9h6.6v2.1h-6.6zM463.3 503.9h8.6v2.1h-8.6zM479.3 503.9h2.6v2.1h-2.6zM383.2 505.4h2.6v2.1h-2.6zM395.2 505.4h2.6v2.1h-2.6zM399.2 505.4h2.6v2.1h-2.6zM407.3 505.4h2.6v2.1h-2.6zM413.3 505.4h2.6v2.1h-2.6zM463.3 505.4h6.6v2.1h-6.6zM471.3 505.4h4.6v2.1h-4.6zM321.2 506.8h4.6v2.1h-4.6zM331.2 506.8h2.6v2.1h-2.6zM351.2 506.8h2.6v2.1h-2.6zM365.2 506.8h2.6v2.1h-2.6zM377.2 506.8h4.6v2.1h-4.6zM383.2 506.8h6.6v2.1h-6.6zM395.2 506.8h4.6v2.1h-4.6zM407.3 506.8h2.6v2.1h-2.6zM417.3 506.8h4.6v2.1h-4.6zM429.3 506.8h2.6v2.1h-2.6zM439.3 506.8h4.6v2.1h-4.6zM451.3 506.8h2.6v2.1h-2.6zM463.3 506.8h12.6v2.1h-12.6zM335.2 508.3h8.6v2.1h-8.6zM369.2 508.3h6.6v2.1h-6.6zM401.3 508.3h2.6v2.1h-2.6zM405.3 508.3h6.6v2.1h-6.6zM421.3 508.3h6.6v2.1h-6.6zM461.3 508.3h2.6v2.1h-2.6zM321.2 509.8h2.6v2.1h-2.6zM335.2 509.8h8.6v2.1h-8.6zM371.2 509.8h6.6v2.1h-6.6zM385.2 509.8h2.6v2.1h-2.6zM405.3 509.8h6.6v2.1h-6.6zM413.3 509.8h2.6v2.1h-2.6zM423.3 509.8h4.6v2.1h-4.6zM429.3 509.8h2.6v2.1h-2.6zM445.3 509.8h2.6v2.1h-2.6zM451.3 509.8h4.6v2.1h-4.6zM471.3 509.8h2.6v2.1h-2.6zM323.2 511.3h2.6v2.1h-2.6zM329.2 511.3h6.6v2.1h-6.6zM337.2 511.3h10.6v2.1h-10.6zM357.2 511.3h4.6v2.1h-4.6zM365.2 511.3h4.6v2.1h-4.6zM371.2 511.3h2.6v2.1h-2.6zM379.2 511.3h4.6v2.1h-4.6zM385.2 511.3h4.6v2.1h-4.6zM403.3 511.3h2.6v2.1h-2.6zM407.3 511.3h4.6v2.1h-4.6zM417.3 511.3h2.6v2.1h-2.6zM423.3 511.3h4.6v2.1h-4.6zM429.3 511.3h6.6v2.1h-6.6zM441.3 511.3h6.6v2.1h-6.6zM449.3 511.3h10.6v2.1h-10.6zM461.3 511.3h2.6v2.1h-2.6zM469.3 511.3h6.6v2.1h-6.6zM477.3 511.3h2.6v2.1h-2.6zM481.3 511.3h2.6v2.1h-2.6zM335.2 512.8h16.6v2.1h-16.6zM365.2 512.8h4.6v2.1h-4.6zM371.2 512.8h6.6v2.1h-6.6zM381.2 512.8h2.6v2.1h-2.6zM421.3 512.8h6.6v2.1h-6.6zM455.3 512.8h2.6v2.1h-2.6zM459.3 512.8h2.6v2.1h-2.6zM469.3 512.8h8.6v2.1h-8.6zM321.2 514.3h2.6v2.1h-2.6zM337.2 514.3h10.6v2.1h-10.6zM349.2 514.3h2.6v2.1h-2.6zM365.2 514.3h4.6v2.1h-4.6zM371.2 514.3h6.6v2.1h-6.6zM381.2 514.3h2.6v2.1h-2.6zM385.2 514.3h2.6v2.1h-2.6zM409.3 514.3h2.6v2.1h-2.6zM423.3 514.3h4.6v2.1h-4.6zM429.3 514.3h2.6v2.1h-2.6zM449.3 514.3h2.6v2.1h-2.6zM453.3 514.3h4.6v2.1h-4.6zM459.3 514.3h2.6v2.1h-2.6zM467.3 514.3h4.6v2.1h-4.6zM475.3 514.3h4.6v2.1h-4.6zM341.2 515.8h6.6v2.1h-6.6zM357.2 515.8h4.6v2.1h-4.6zM365.2 515.8h4.6v2.1h-4.6zM373.2 515.8h2.6v2.1h-2.6zM381.2 515.8h2.6v2.1h-2.6zM385.2 515.8h6.6v2.1h-6.6zM397.2 515.8h2.6v2.1h-2.6zM417.3 515.8h2.6v2.1h-2.6zM425.3 515.8h2.6v2.1h-2.6zM431.3 515.8h4.6v2.1h-4.6zM445.3 515.8h2.6v2.1h-2.6zM453.3 515.8h10.6v2.1h-10.6zM471.3 515.8h8.6v2.1h-8.6zM481.3 515.8h4.6v2.1h-4.6zM341.2 517.3h6.6v2.1h-6.6zM349.2 517.3h2.6v2.1h-2.6zM357.2 517.3h4.6v2.1h-4.6zM373.2 517.3h4.6v2.1h-4.6zM381.2 517.3h2.6v2.1h-2.6zM385.2 517.3h6.6v2.1h-6.6zM417.3 517.3h2.6v2.1h-2.6zM433.3 517.3h2.6v2.1h-2.6zM459.3 517.3h2.6v2.1h-2.6zM473.3 517.3h6.6v2.1h-6.6zM483.3 517.3h2.6v2.1h-2.6zM333.2 518.8h2.6v2.1h-2.6zM339.2 518.8h2.6v2.1h-2.6zM343.2 518.8h8.6v2.1h-8.6zM357.2 518.8h4.6v2.1h-4.6zM367.2 518.8h2.6v2.1h-2.6zM375.2 518.8h2.6v2.1h-2.6zM385.2 518.8h2.6v2.1h-2.6zM389.2 518.8h2.6v2.1h-2.6zM433.3 518.8h2.6v2.1h-2.6zM453.3 518.8h4.6v2.1h-4.6zM459.3 518.8h4.6v2.1h-4.6zM477.3 518.8h2.6v2.1h-2.6zM481.3 518.8h4.6v2.1h-4.6zM347.2 520.3h4.6v2.1h-4.6zM367.2 520.3h2.6v2.1h-2.6zM375.2 520.3h2.6v2.1h-2.6zM387.2 520.3h4.6v2.1h-4.6zM433.3 520.3h2.6v2.1h-2.6zM457.3 520.3h6.6v2.1h-6.6zM475.3 520.3h2.6v2.1h-2.6zM345.2 521.8h6.6v2.1h-6.6zM375.2 521.8h2.6v2.1h-2.6zM459.3 521.8h2.6v2.1h-2.6zM343.2 523.3h8.6v2.1h-8.6zM375.2 523.3h2.6v2.1h-2.6zM461.3 523.3h2.6v2.1h-2.6zM457.3 524.8h2.6v2.1h-2.6zM461.3 524.8h2.6v2.1h-2.6zM483.3 524.8h2.6v2.1h-2.6zM461.3 526.3h2.6v2.1h-2.6zM359.2 535.2h2.6v2.1h-2.6zM375.2 535.2h2.6v2.1h-2.6zM387.2 535.2h4.6v2.1h-4.6zM461.3 535.2h2.6v2.1h-2.6zM483.3 535.2h2.6v2.1h-2.6zM343.2 536.7h2.6v2.1h-2.6zM347.2 536.7h4.6v2.1h-4.6zM459.3 536.7h4.6v2.1h-4.6zM477.3 536.7h2.6v2.1h-2.6zM483.3 536.7h2.6v2.1h-2.6zM375.2 538.2h2.6v2.1h-2.6zM375.2 539.7h2.6v2.1h-2.6zM483.3 539.7h2.6v2.1h-2.6z"/><path fill="#00d4ff" d="M325.2 403.8h2.6v2.1h-2.6zM419.3 403.8h4.6v2.1h-4.6zM427.3 403.8h2.6v2.1h-2.6zM479.3 403.8h2.6v2.1h-2.6zM315.2 408.3h6.6v2.1h-6.6zM361.2 408.3h2.6v2.1h-2.6zM369.2 408.3h2.6v2.1h-2.6zM377.2 408.3h4.6v2.1h-4.6zM391.2 408.3h4.6v2.1h-4.6zM411.3 408.3h6.6v2.1h-6.6zM419.3 408.3h6.6v2.1h-6.6zM481.3 408.3h4.6v2.1h-4.6zM315.2 412.8h6.6v2.1h-6.6zM325.2 412.8h6.6v2.1h-6.6zM337.2 417.2h10.6v2.1h-10.6zM369.2 417.2h6.6v2.1h-6.6zM377.2 417.2h6.6v2.1h-6.6zM393.2 417.2h10.6v2.1h-10.6zM413.3 417.2h2.6v2.1h-2.6zM417.3 417.2h2.6v2.1h-2.6zM427.3 417.2h6.6v2.1h-6.6zM463.3 417.2h4.6v2.1h-4.6zM469.3 417.2h6.6v2.1h-6.6zM479.3 417.2h2.6v2.1h-2.6zM377.2 421.7h4.6v2.1h-4.6zM427.3 421.7h4.6v2.1h-4.6zM315.2 424.7h2.6v2.1h-2.6zM369.2 424.7h4.6v2.1h-4.6zM377.2 424.7h4.6v2.1h-4.6zM411.3 424.7h6.6v2.1h-6.6zM335.2 429.2h8.6v2.1h-8.6zM377.2 429.2h4.6v2.1h-4.6zM413.3 429.2h6.6v2.1h-6.6zM335.2 435.2h4.6v2.1h-4.6zM383.2 435.2h4.6v2.1h-4.6zM411.3 435.2h6.6v2.1h-6.6zM427.3 435.2h2.6v2.1h-2.6zM463.3 435.2h6.6v2.1h-6.6zM317.2 439.6h6.6v2.1h-6.6zM325.2 439.6h8.6v2.1h-8.6zM361.2 439.6h6.6v2.1h-6.6zM393.2 439.6h4.6v2.1h-4.6zM463.3 439.6h10.6v2.1h-10.6zM325.2 444.1h8.6v2.1h-8.6zM377.2 444.1h2.6v2.1h-2.6zM393.2 444.1h4.6v2.1h-4.6zM411.3 444.1h6.6v2.1h-6.6zM447.3 444.1h6.6v2.1h-6.6zM411.3 448.6h2.6v2.1h-2.6zM427.3 448.6h6.6v2.1h-6.6zM479.3 448.6h2.6v2.1h-2.6zM479.3 453.1h4.6v2.1h-4.6zM351.2 459.1h4.6v2.1h-4.6zM361.2 459.1h4.6v2.1h-4.6zM413.3 459.1h2.6v2.1h-2.6zM417.3 459.1h2.6v2.1h-2.6zM325.2 462h8.6v2.1h-8.6zM369.2 462h2.6v2.1h-2.6zM381.2 462h2.6v2.1h-2.6zM391.2 462h6.6v2.1h-6.6zM411.3 462h4.6v2.1h-4.6zM315.2 465h6.6v2.1h-6.6zM411.3 465h4.6v2.1h-4.6zM447.3 465h8.6v2.1h-8.6zM465.3 465h2.6v2.1h-2.6zM469.3 465h8.6v2.1h-8.6zM479.3 465h2.6v2.1h-2.6zM317.2 468h6.6v2.1h-6.6zM325.2 468h4.6v2.1h-4.6zM335.2 468h10.6v2.1h-10.6zM393.2 468h6.6v2.1h-6.6zM419.3 468h4.6v2.1h-4.6zM427.3 468h4.6v2.1h-4.6zM435.3 468h2.6v2.1h-2.6zM361.2 474h2.6v2.1h-2.6zM391.2 474h2.6v2.1h-2.6zM481.3 474h4.6v2.1h-4.6zM319.2 478.5h2.6v2.1h-2.6zM323.2 478.5h2.6v2.1h-2.6zM339.2 478.5h2.6v2.1h-2.6zM343.2 478.5h2.6v2.1h-2.6zM347.2 478.5h2.6v2.1h-2.6zM357.2 478.5h4.6v2.1h-4.6zM365.2 478.5h4.6v2.1h-4.6zM385.2 478.5h4.6v2.1h-4.6zM399.2 478.5h8.6v2.1h-8.6zM461.3 478.5h2.6v2.1h-2.6zM467.3 478.5h14.6v2.1h-14.6zM325.2 483h6.6v2.1h-6.6zM335.2 483h12.6v2.1h-12.6zM351.2 483h6.6v2.1h-6.6zM383.2 483h6.6v2.1h-6.6zM411.3 483h2.6v2.1h-2.6zM419.3 483h6.6v2.1h-6.6zM433.3 483h6.6v2.1h-6.6zM471.3 483h2.6v2.1h-2.6zM475.3 483h10.6v2.1h-10.6zM337.2 485.9h8.6v2.1h-8.6zM353.2 485.9h4.6v2.1h-4.6zM369.2 485.9h2.6v2.1h-2.6zM383.2 485.9h2.6v2.1h-2.6zM387.2 485.9h2.6v2.1h-2.6zM411.3 485.9h4.6v2.1h-4.6zM419.3 485.9h4.6v2.1h-4.6zM465.3 485.9h10.6v2.1h-10.6zM483.3 485.9h2.6v2.1h-2.6zM327.2 490.4h8.6v2.1h-8.6zM345.2 490.4h6.6v2.1h-6.6zM377.2 490.4h4.6v2.1h-4.6zM383.2 490.4h2.6v2.1h-2.6zM387.2 490.4h2.6v2.1h-2.6zM397.2 490.4h2.6v2.1h-2.6zM437.3 490.4h2.6v2.1h-2.6zM441.3 490.4h4.6v2.1h-4.6zM447.3 490.4h10.6v2.1h-10.6zM323.2 496.4h2.6v2.1h-2.6zM331.2 496.4h4.6v2.1h-4.6zM339.2 496.4h10.6v2.1h-10.6zM351.2 496.4h4.6v2.1h-4.6zM369.2 496.4h4.6v2.1h-4.6zM379.2 496.4h4.6v2.1h-4.6zM389.2 496.4h6.6v2.1h-6.6zM409.3 496.4h2.6v2.1h-2.6zM445.3 496.4h2.6v2.1h-2.6zM457.3 496.4h6.6v2.1h-6.6zM465.3 496.4h8.6v2.1h-8.6zM367.2 500.9h2.6v2.1h-2.6zM401.3 500.9h2.6v2.1h-2.6zM461.3 500.9h2.6v2.1h-2.6zM391.2 502.4h2.6v2.1h-2.6zM315.2 503.9h4.6v2.1h-4.6zM435.3 503.9h2.6v2.1h-2.6zM321.2 505.4h4.6v2.1h-4.6zM331.2 505.4h2.6v2.1h-2.6zM349.2 505.4h2.6v2.1h-2.6zM367.2 505.4h2.6v2.1h-2.6zM397.2 505.4h2.6v2.1h-2.6zM315.2 506.8h6.6v2.1h-6.6zM339.2 506.8h2.6v2.1h-2.6zM343.2 506.8h2.6v2.1h-2.6zM349.2 506.8h2.6v2.1h-2.6zM361.2 506.8h4.6v2.1h-4.6zM393.2 506.8h2.6v2.1h-2.6zM399.2 506.8h2.6v2.1h-2.6zM405.3 506.8h2.6v2.1h-2.6zM409.3 506.8h2.6v2.1h-2.6zM413.3 506.8h2.6v2.1h-2.6zM427.3 506.8h2.6v2.1h-2.6zM435.3 506.8h4.6v2.1h-4.6zM481.3 506.8h2.6v2.1h-2.6zM399.2 508.3h2.6v2.1h-2.6zM403.3 508.3h2.6v2.1h-2.6zM419.3 508.3h2.6v2.1h-2.6zM453.3 508.3h2.6v2.1h-2.6zM361.2 509.8h2.6v2.1h-2.6zM365.2 509.8h6.6v2.1h-6.6zM377.2 509.8h2.6v2.1h-2.6zM381.2 509.8h2.6v2.1h-2.6zM399.2 509.8h6.6v2.1h-6.6zM411.3 509.8h2.6v2.1h-2.6zM415.3 509.8h8.6v2.1h-8.6zM433.3 509.8h4.6v2.1h-4.6zM439.3 509.8h2.6v2.1h-2.6zM481.3 509.8h4.6v2.1h-4.6zM317.2 511.3h6.6v2.1h-6.6zM325.2 511.3h4.6v2.1h-4.6zM335.2 511.3h2.6v2.1h-2.6zM351.2 511.3h6.6v2.1h-6.6zM361.2 511.3h4.6v2.1h-4.6zM369.2 511.3h2.6v2.1h-2.6zM377.2 511.3h2.6v2.1h-2.6zM383.2 511.3h2.6v2.1h-2.6zM391.2 511.3h12.6v2.1h-12.6zM405.3 511.3h2.6v2.1h-2.6zM411.3 511.3h6.6v2.1h-6.6zM419.3 511.3h4.6v2.1h-4.6zM427.3 511.3h2.6v2.1h-2.6zM437.3 511.3h4.6v2.1h-4.6zM447.3 511.3h2.6v2.1h-2.6zM463.3 511.3h6.6v2.1h-6.6zM479.3 511.3h2.6v2.1h-2.6zM361.2 512.8h4.6v2.1h-4.6zM369.2 512.8h2.6v2.1h-2.6zM377.2 512.8h4.6v2.1h-4.6zM387.2 512.8h2.6v2.1h-2.6zM407.3 512.8h4.6v2.1h-4.6zM413.3 512.8h2.6v2.1h-2.6zM419.3 512.8h2.6v2.1h-2.6zM429.3 512.8h2.6v2.1h-2.6zM453.3 512.8h2.6v2.1h-2.6zM463.3 512.8h6.6v2.1h-6.6zM479.3 512.8h2.6v2.1h-2.6zM319.2 514.3h2.6v2.1h-2.6zM327.2 514.3h2.6v2.1h-2.6zM335.2 514.3h2.6v2.1h-2.6zM361.2 514.3h4.6v2.1h-4.6zM369.2 514.3h2.6v2.1h-2.6zM377.2 514.3h4.6v2.1h-4.6zM387.2 514.3h2.6v2.1h-2.6zM407.3 514.3h2.6v2.1h-2.6zM413.3 514.3h2.6v2.1h-2.6zM419.3 514.3h4.6v2.1h-4.6zM439.3 514.3h2.6v2.1h-2.6zM443.3 514.3h6.6v2.1h-6.6zM451.3 514.3h2.6v2.1h-2.6zM463.3 514.3h4.6v2.1h-4.6zM471.3 514.3h4.6v2.1h-4.6zM479.3 514.3h2.6v2.1h-2.6zM319.2 515.8h22.6v2.1h-22.6zM351.2 515.8h6.6v2.1h-6.6zM361.2 515.8h4.6v2.1h-4.6zM369.2 515.8h4.6v2.1h-4.6zM379.2 515.8h2.6v2.1h-2.6zM383.2 515.8h2.6v2.1h-2.6zM393.2 515.8h4.6v2.1h-4.6zM403.3 515.8h14.6v2.1h-14.6zM419.3 515.8h6.6v2.1h-6.6zM427.3 515.8h4.6v2.1h-4.6zM439.3 515.8h6.6v2.1h-6.6zM447.3 515.8h6.6v2.1h-6.6zM465.3 515.8h6.6v2.1h-6.6zM479.3 515.8h2.6v2.1h-2.6zM319.2 517.3h6.6v2.1h-6.6zM327.2 517.3h14.6v2.1h-14.6zM351.2 517.3h6.6v2.1h-6.6zM361.2 517.3h12.6v2.1h-12.6zM379.2 517.3h2.6v2.1h-2.6zM383.2 517.3h2.6v2.1h-2.6zM395.2 517.3h4.6v2.1h-4.6zM403.3 517.3h8.6v2.1h-8.6zM415.3 517.3h2.6v2.1h-2.6zM419.3 517.3h14.6v2.1h-14.6zM439.3 517.3h20.6v2.1h-20.6zM465.3 517.3h8.6v2.1h-8.6zM479.3 517.3h4.6v2.1h-4.6zM319.2 518.8h6.6v2.1h-6.6zM331.2 518.8h2.6v2.1h-2.6zM335.2 518.8h4.6v2.1h-4.6zM341.2 518.8h2.6v2.1h-2.6zM351.2 518.8h6.6v2.1h-6.6zM361.2 518.8h6.6v2.1h-6.6zM371.2 518.8h4.6v2.1h-4.6zM379.2 518.8h6.6v2.1h-6.6zM387.2 518.8h2.6v2.1h-2.6zM393.2 518.8h6.6v2.1h-6.6zM403.3 518.8h8.6v2.1h-8.6zM415.3 518.8h4.6v2.1h-4.6zM421.3 518.8h12.6v2.1h-12.6zM439.3 518.8h14.6v2.1h-14.6zM457.3 518.8h2.6v2.1h-2.6zM463.3 518.8h4.6v2.1h-4.6zM469.3 518.8h8.6v2.1h-8.6zM479.3 518.8h2.6v2.1h-2.6zM323.2 520.3h2.6v2.1h-2.6zM331.2 520.3h16.6v2.1h-16.6zM353.2 520.3h8.6v2.1h-8.6zM363.2 520.3h4.6v2.1h-4.6zM369.2 520.3h6.6v2.1h-6.6zM377.2 520.3h10.6v2.1h-10.6zM397.2 520.3h2.6v2.1h-2.6zM403.3 520.3h8.6v2.1h-8.6zM415.3 520.3h4.6v2.1h-4.6zM421.3 520.3h6.6v2.1h-6.6zM429.3 520.3h4.6v2.1h-4.6zM441.3 520.3h2.6v2.1h-2.6zM445.3 520.3h2.6v2.1h-2.6zM449.3 520.3h8.6v2.1h-8.6zM463.3 520.3h2.6v2.1h-2.6zM467.3 520.3h8.6v2.1h-8.6zM477.3 520.3h8.6v2.1h-8.6zM321.2 521.8h4.6v2.1h-4.6zM335.2 521.8h10.6v2.1h-10.6zM363.2 521.8h6.6v2.1h-6.6zM371.2 521.8h4.6v2.1h-4.6zM381.2 521.8h2.6v2.1h-2.6zM385.2 521.8h2.6v2.1h-2.6zM397.2 521.8h2.6v2.1h-2.6zM405.3 521.8h2.6v2.1h-2.6zM409.3 521.8h2.6v2.1h-2.6zM415.3 521.8h4.6v2.1h-4.6zM465.3 521.8h14.6v2.1h-14.6zM483.3 521.8h2.6v2.1h-2.6zM323.2 523.3h2.6v2.1h-2.6zM339.2 523.3h4.6v2.1h-4.6zM357.2 523.3h4.6v2.1h-4.6zM365.2 523.3h4.6v2.1h-4.6zM371.2 523.3h4.6v2.1h-4.6zM381.2 523.3h2.6v2.1h-2.6zM385.2 523.3h2.6v2.1h-2.6zM389.2 523.3h2.6v2.1h-2.6zM397.2 523.3h2.6v2.1h-2.6zM417.3 523.3h2.6v2.1h-2.6zM425.3 523.3h2.6v2.1h-2.6zM453.3 523.3h2.6v2.1h-2.6zM457.3 523.3h4.6v2.1h-4.6zM469.3 523.3h10.6v2.1h-10.6zM481.3 523.3h4.6v2.1h-4.6zM321.2 524.8h2.6v2.1h-2.6zM333.2 524.8h2.6v2.1h-2.6zM337.2 524.8h14.6v2.1h-14.6zM355.2 524.8h6.6v2.1h-6.6zM367.2 524.8h10.6v2.1h-10.6zM379.2 524.8h12.6v2.1h-12.6zM407.3 524.8h4.6v2.1h-4.6zM417.3 524.8h2.6v2.1h-2.6zM425.3 524.8h2.6v2.1h-2.6zM429.3 524.8h6.6v2.1h-6.6zM451.3 524.8h6.6v2.1h-6.6zM459.3 524.8h2.6v2.1h-2.6zM469.3 524.8h2.6v2.1h-2.6zM473.3 524.8h6.6v2.1h-6.6zM481.3 524.8h2.6v2.1h-2.6zM341.2 526.3h2.6v2.1h-2.6zM367.2 526.3h2.6v2.1h-2.6zM451.3 526.3h10.6v2.1h-10.6zM341.2 527.8h2.6v2.1h-2.6zM367.2 527.8h2.6v2.1h-2.6zM389.2 527.8h2.6v2.1h-2.6zM451.3 527.8h12.6v2.1h-12.6zM339.2 529.3h2.6v2.1h-2.6zM343.2 529.3h8.6v2.1h-8.6zM425.3 529.3h2.6v2.1h-2.6zM339.2 530.7h12.6v2.1h-12.6zM389.2 533.7h2.6v2.1h-2.6zM321.2 535.2h4.6v2.1h-4.6zM331.2 535.2h4.6v2.1h-4.6zM353.2 535.2h6.6v2.1h-6.6zM363.2 535.2h6.6v2.1h-6.6zM371.2 535.2h4.6v2.1h-4.6zM379.2 535.2h8.6v2.1h-8.6zM409.3 535.2h2.6v2.1h-2.6zM425.3 535.2h2.6v2.1h-2.6zM429.3 535.2h6.6v2.1h-6.6zM443.3 535.2h2.6v2.1h-2.6zM447.3 535.2h2.6v2.1h-2.6zM451.3 535.2h10.6v2.1h-10.6zM465.3 535.2h2.6v2.1h-2.6zM469.3 535.2h14.6v2.1h-14.6zM331.2 536.7h4.6v2.1h-4.6zM337.2 536.7h6.6v2.1h-6.6zM345.2 536.7h2.6v2.1h-2.6zM355.2 536.7h6.6v2.1h-6.6zM363.2 536.7h6.6v2.1h-6.6zM371.2 536.7h6.6v2.1h-6.6zM379.2 536.7h4.6v2.1h-4.6zM385.2 536.7h6.6v2.1h-6.6zM417.3 536.7h2.6v2.1h-2.6zM425.3 536.7h2.6v2.1h-2.6zM431.3 536.7h4.6v2.1h-4.6zM447.3 536.7h4.6v2.1h-4.6zM453.3 536.7h6.6v2.1h-6.6zM469.3 536.7h8.6v2.1h-8.6zM479.3 536.7h4.6v2.1h-4.6zM357.2 538.2h4.6v2.1h-4.6zM371.2 538.2h4.6v2.1h-4.6zM381.2 538.2h2.6v2.1h-2.6zM385.2 538.2h6.6v2.1h-6.6zM409.3 538.2h2.6v2.1h-2.6zM425.3 538.2h2.6v2.1h-2.6zM429.3 538.2h6.6v2.1h-6.6zM469.3 538.2h10.6v2.1h-10.6zM481.3 538.2h4.6v2.1h-4.6zM333.2 539.7h2.6v2.1h-2.6zM341.2 539.7h10.6v2.1h-10.6zM359.2 539.7h2.6v2.1h-2.6zM371.2 539.7h4.6v2.1h-4.6zM381.2 539.7h10.6v2.1h-10.6zM425.3 539.7h2.6v2.1h-2.6zM431.3 539.7h4.6v2.1h-4.6zM453.3 539.7h10.6v2.1h-10.6zM473.3 539.7h2.6v2.1h-2.6zM477.3 539.7h6.6v2.1h-6.6z"/><path fill="#1affe5" d="M479.3 408.3h2.6v2.1h-2.6zM335.2 417.2h2.6v2.1h-2.6zM391.2 417.2h2.6v2.1h-2.6zM411.3 417.2h2.6v2.1h-2.6zM411.3 429.2h2.6v2.1h-2.6zM315.2 439.6h2.6v2.1h-2.6zM391.2 439.6h2.6v2.1h-2.6zM411.3 459.1h2.6v2.1h-2.6zM377.2 462h2.6v2.1h-2.6zM463.3 465h2.6v2.1h-2.6zM315.2 468h2.6v2.1h-2.6zM391.2 468h2.6v2.1h-2.6zM315.2 478.5h4.6v2.1h-4.6zM335.2 478.5h4.6v2.1h-4.6zM351.2 478.5h4.6v2.1h-4.6zM361.2 478.5h4.6v2.1h-4.6zM383.2 478.5h2.6v2.1h-2.6zM423.3 478.5h4.6v2.1h-4.6zM443.3 478.5h4.6v2.1h-4.6zM451.3 478.5h10.6v2.1h-10.6zM463.3 478.5h4.6v2.1h-4.6zM319.2 483h4.6v2.1h-4.6zM371.2 483h6.6v2.1h-6.6zM381.2 483h2.6v2.1h-2.6zM395.2 483h4.6v2.1h-4.6zM405.3 483h4.6v2.1h-4.6zM429.3 483h4.6v2.1h-4.6zM463.3 483h8.6v2.1h-8.6zM319.2 485.9h6.6v2.1h-6.6zM329.2 485.9h6.6v2.1h-6.6zM351.2 485.9h2.6v2.1h-2.6zM363.2 485.9h4.6v2.1h-4.6zM395.2 485.9h4.6v2.1h-4.6zM453.3 485.9h12.6v2.1h-12.6zM481.3 485.9h2.6v2.1h-2.6zM325.2 490.4h2.6v2.1h-2.6zM335.2 490.4h8.6v2.1h-8.6zM373.2 490.4h4.6v2.1h-4.6zM393.2 490.4h4.6v2.1h-4.6zM417.3 490.4h2.6v2.1h-2.6zM423.3 490.4h4.6v2.1h-4.6zM431.3 490.4h2.6v2.1h-2.6zM435.3 490.4h2.6v2.1h-2.6zM481.3 490.4h4.6v2.1h-4.6zM317.2 496.4h6.6v2.1h-6.6zM325.2 496.4h6.6v2.1h-6.6zM335.2 496.4h4.6v2.1h-4.6zM363.2 496.4h6.6v2.1h-6.6zM377.2 496.4h2.6v2.1h-2.6zM383.2 496.4h6.6v2.1h-6.6zM401.3 496.4h8.6v2.1h-8.6zM431.3 496.4h4.6v2.1h-4.6zM437.3 496.4h8.6v2.1h-8.6zM447.3 496.4h4.6v2.1h-4.6zM455.3 496.4h2.6v2.1h-2.6zM463.3 496.4h2.6v2.1h-2.6zM483.3 496.4h2.6v2.1h-2.6zM331.2 500.9h2.6v2.1h-2.6zM369.2 500.9h2.6v2.1h-2.6zM409.3 500.9h2.6v2.1h-2.6zM433.3 500.9h2.6v2.1h-2.6zM451.3 500.9h10.6v2.1h-10.6zM479.3 500.9h2.6v2.1h-2.6zM315.2 505.4h6.6v2.1h-6.6zM339.2 505.4h8.6v2.1h-8.6zM361.2 505.4h6.6v2.1h-6.6zM393.2 505.4h2.6v2.1h-2.6zM405.3 505.4h2.6v2.1h-2.6zM409.3 505.4h2.6v2.1h-2.6zM417.3 505.4h2.6v2.1h-2.6zM481.3 505.4h2.6v2.1h-2.6zM335.2 506.8h4.6v2.1h-4.6zM381.2 506.8h2.6v2.1h-2.6zM391.2 506.8h2.6v2.1h-2.6zM401.3 506.8h4.6v2.1h-4.6zM411.3 506.8h2.6v2.1h-2.6zM415.3 506.8h2.6v2.1h-2.6zM457.3 506.8h6.6v2.1h-6.6zM479.3 506.8h2.6v2.1h-2.6zM365.2 508.3h4.6v2.1h-4.6zM381.2 508.3h2.6v2.1h-2.6zM415.3 508.3h4.6v2.1h-4.6zM433.3 508.3h2.6v2.1h-2.6zM481.3 508.3h4.6v2.1h-4.6zM319.2 509.8h2.6v2.1h-2.6zM323.2 509.8h2.6v2.1h-2.6zM333.2 509.8h2.6v2.1h-2.6zM357.2 509.8h4.6v2.1h-4.6zM363.2 509.8h2.6v2.1h-2.6zM379.2 509.8h2.6v2.1h-2.6zM389.2 509.8h2.6v2.1h-2.6zM427.3 509.8h2.6v2.1h-2.6zM431.3 509.8h2.6v2.1h-2.6zM457.3 509.8h4.6v2.1h-4.6zM475.3 509.8h2.6v2.1h-2.6zM479.3 509.8h2.6v2.1h-2.6zM315.2 511.3h2.6v2.1h-2.6zM435.3 511.3h2.6v2.1h-2.6zM445.3 512.8h2.6v2.1h-2.6zM333.2 514.3h2.6v2.1h-2.6zM391.2 514.3h2.6v2.1h-2.6zM417.3 514.3h2.6v2.1h-2.6zM433.3 514.3h4.6v2.1h-4.6zM441.3 514.3h2.6v2.1h-2.6zM457.3 514.3h2.6v2.1h-2.6zM483.3 514.3h2.6v2.1h-2.6zM315.2 515.8h4.6v2.1h-4.6zM377.2 515.8h2.6v2.1h-2.6zM391.2 515.8h2.6v2.1h-2.6zM399.2 515.8h4.6v2.1h-4.6zM435.3 515.8h4.6v2.1h-4.6zM463.3 515.8h2.6v2.1h-2.6zM315.2 517.3h4.6v2.1h-4.6zM325.2 517.3h2.6v2.1h-2.6zM377.2 517.3h2.6v2.1h-2.6zM391.2 517.3h4.6v2.1h-4.6zM399.2 517.3h4.6v2.1h-4.6zM411.3 517.3h4.6v2.1h-4.6zM435.3 517.3h4.6v2.1h-4.6zM463.3 517.3h2.6v2.1h-2.6zM315.2 518.8h4.6v2.1h-4.6zM325.2 518.8h6.6v2.1h-6.6zM369.2 518.8h2.6v2.1h-2.6zM377.2 518.8h2.6v2.1h-2.6zM391.2 518.8h2.6v2.1h-2.6zM399.2 518.8h4.6v2.1h-4.6zM411.3 518.8h4.6v2.1h-4.6zM419.3 518.8h2.6v2.1h-2.6zM435.3 518.8h4.6v2.1h-4.6zM467.3 518.8h2.6v2.1h-2.6zM315.2 520.3h8.6v2.1h-8.6zM325.2 520.3h6.6v2.1h-6.6zM351.2 520.3h2.6v2.1h-2.6zM361.2 520.3h2.6v2.1h-2.6zM391.2 520.3h6.6v2.1h-6.6zM399.2 520.3h4.6v2.1h-4.6zM411.3 520.3h4.6v2.1h-4.6zM419.3 520.3h2.6v2.1h-2.6zM427.3 520.3h2.6v2.1h-2.6zM437.3 520.3h4.6v2.1h-4.6zM443.3 520.3h2.6v2.1h-2.6zM447.3 520.3h2.6v2.1h-2.6zM465.3 520.3h2.6v2.1h-2.6zM317.2 521.8h4.6v2.1h-4.6zM357.2 521.8h2.6v2.1h-2.6zM361.2 521.8h2.6v2.1h-2.6zM369.2 521.8h2.6v2.1h-2.6zM377.2 521.8h2.6v2.1h-2.6zM399.2 521.8h6.6v2.1h-6.6zM407.3 521.8h2.6v2.1h-2.6zM411.3 521.8h4.6v2.1h-4.6zM439.3 521.8h2.6v2.1h-2.6zM463.3 521.8h2.6v2.1h-2.6zM315.2 523.3h8.6v2.1h-8.6zM335.2 523.3h4.6v2.1h-4.6zM351.2 523.3h2.6v2.1h-2.6zM361.2 523.3h4.6v2.1h-4.6zM369.2 523.3h2.6v2.1h-2.6zM377.2 523.3h4.6v2.1h-4.6zM387.2 523.3h2.6v2.1h-2.6zM399.2 523.3h18.6v2.1h-18.6zM427.3 523.3h2.6v2.1h-2.6zM439.3 523.3h2.6v2.1h-2.6zM443.3 523.3h4.6v2.1h-4.6zM463.3 523.3h6.6v2.1h-6.6zM479.3 523.3h2.6v2.1h-2.6zM315.2 524.8h6.6v2.1h-6.6zM323.2 524.8h2.6v2.1h-2.6zM327.2 524.8h6.6v2.1h-6.6zM335.2 524.8h2.6v2.1h-2.6zM351.2 524.8h4.6v2.1h-4.6zM361.2 524.8h6.6v2.1h-6.6zM377.2 524.8h2.6v2.1h-2.6zM393.2 524.8h14.6v2.1h-14.6zM413.3 524.8h4.6v2.1h-4.6zM421.3 524.8h4.6v2.1h-4.6zM427.3 524.8h2.6v2.1h-2.6zM437.3 524.8h14.6v2.1h-14.6zM463.3 524.8h6.6v2.1h-6.6zM471.3 524.8h2.6v2.1h-2.6zM479.3 524.8h2.6v2.1h-2.6zM361.2 526.3h6.6v2.1h-6.6zM379.2 526.3h2.6v2.1h-2.6zM395.2 526.3h4.6v2.1h-4.6zM401.3 526.3h10.6v2.1h-10.6zM421.3 526.3h4.6v2.1h-4.6zM447.3 526.3h4.6v2.1h-4.6zM321.2 527.8h4.6v2.1h-4.6zM331.2 527.8h4.6v2.1h-4.6zM339.2 527.8h2.6v2.1h-2.6zM347.2 527.8h4.6v2.1h-4.6zM355.2 527.8h12.6v2.1h-12.6zM385.2 527.8h2.6v2.1h-2.6zM395.2 527.8h4.6v2.1h-4.6zM421.3 527.8h6.6v2.1h-6.6zM441.3 527.8h10.6v2.1h-10.6zM483.3 527.8h2.6v2.1h-2.6zM319.2 529.3h6.6v2.1h-6.6zM335.2 529.3h4.6v2.1h-4.6zM341.2 529.3h2.6v2.1h-2.6zM363.2 529.3h6.6v2.1h-6.6zM397.2 529.3h2.6v2.1h-2.6zM413.3 529.3h6.6v2.1h-6.6zM421.3 529.3h4.6v2.1h-4.6zM443.3 529.3h4.6v2.1h-4.6zM335.2 530.7h4.6v2.1h-4.6zM431.3 532.2h2.6v2.1h-2.6zM331.2 533.7h2.6v2.1h-2.6zM357.2 533.7h4.6v2.1h-4.6zM369.2 533.7h4.6v2.1h-4.6zM385.2 533.7h4.6v2.1h-4.6zM405.3 533.7h2.6v2.1h-2.6zM429.3 533.7h6.6v2.1h-6.6zM447.3 533.7h2.6v2.1h-2.6zM461.3 533.7h2.6v2.1h-2.6zM469.3 533.7h2.6v2.1h-2.6zM475.3 533.7h2.6v2.1h-2.6zM317.2 535.2h4.6v2.1h-4.6zM325.2 535.2h6.6v2.1h-6.6zM351.2 535.2h2.6v2.1h-2.6zM361.2 535.2h2.6v2.1h-2.6zM369.2 535.2h2.6v2.1h-2.6zM377.2 535.2h2.6v2.1h-2.6zM401.3 535.2h8.6v2.1h-8.6zM413.3 535.2h12.6v2.1h-12.6zM427.3 535.2h2.6v2.1h-2.6zM437.3 535.2h6.6v2.1h-6.6zM445.3 535.2h2.6v2.1h-2.6zM449.3 535.2h2.6v2.1h-2.6zM463.3 535.2h2.6v2.1h-2.6zM467.3 535.2h2.6v2.1h-2.6zM317.2 536.7h8.6v2.1h-8.6zM327.2 536.7h4.6v2.1h-4.6zM335.2 536.7h2.6v2.1h-2.6zM351.2 536.7h4.6v2.1h-4.6zM361.2 536.7h2.6v2.1h-2.6zM369.2 536.7h2.6v2.1h-2.6zM377.2 536.7h2.6v2.1h-2.6zM383.2 536.7h2.6v2.1h-2.6zM393.2 536.7h6.6v2.1h-6.6zM403.3 536.7h14.6v2.1h-14.6zM419.3 536.7h6.6v2.1h-6.6zM427.3 536.7h4.6v2.1h-4.6zM437.3 536.7h10.6v2.1h-10.6zM451.3 536.7h2.6v2.1h-2.6zM463.3 536.7h6.6v2.1h-6.6zM321.2 538.2h4.6v2.1h-4.6zM329.2 538.2h6.6v2.1h-6.6zM343.2 538.2h14.6v2.1h-14.6zM361.2 538.2h2.6v2.1h-2.6zM369.2 538.2h2.6v2.1h-2.6zM383.2 538.2h2.6v2.1h-2.6zM393.2 538.2h6.6v2.1h-6.6zM405.3 538.2h4.6v2.1h-4.6zM413.3 538.2h6.6v2.1h-6.6zM421.3 538.2h4.6v2.1h-4.6zM427.3 538.2h2.6v2.1h-2.6zM437.3 538.2h2.6v2.1h-2.6zM443.3 538.2h4.6v2.1h-4.6zM457.3 538.2h12.6v2.1h-12.6zM479.3 538.2h2.6v2.1h-2.6zM317.2 539.7h8.6v2.1h-8.6zM327.2 539.7h6.6v2.1h-6.6zM335.2 539.7h6.6v2.1h-6.6zM351.2 539.7h8.6v2.1h-8.6zM361.2 539.7h10.6v2.1h-10.6zM379.2 539.7h2.6v2.1h-2.6zM395.2 539.7h4.6v2.1h-4.6zM403.3 539.7h2.6v2.1h-2.6zM407.3 539.7h4.6v2.1h-4.6zM417.3 539.7h8.6v2.1h-8.6zM427.3 539.7h4.6v2.1h-4.6zM441.3 539.7h12.6v2.1h-12.6zM463.3 539.7h10.6v2.1h-10.6zM475.3 539.7h2.6v2.1h-2.6z"/><path fill="#5effa2" d="M419.3 478.5h4.6v2.1h-4.6zM435.3 478.5h8.6v2.1h-8.6zM447.3 478.5h4.6v2.1h-4.6zM315.2 483h4.6v2.1h-4.6zM377.2 483h4.6v2.1h-4.6zM391.2 483h4.6v2.1h-4.6zM399.2 483h4.6v2.1h-4.6zM427.3 483h2.6v2.1h-2.6zM315.2 485.9h4.6v2.1h-4.6zM325.2 485.9h4.6v2.1h-4.6zM361.2 485.9h2.6v2.1h-2.6zM393.2 485.9h2.6v2.1h-2.6zM447.3 485.9h6.6v2.1h-6.6zM479.3 485.9h2.6v2.1h-2.6zM369.2 490.4h4.6v2.1h-4.6zM391.2 490.4h2.6v2.1h-2.6zM413.3 490.4h4.6v2.1h-4.6zM419.3 490.4h4.6v2.1h-4.6zM427.3 490.4h4.6v2.1h-4.6zM479.3 490.4h2.6v2.1h-2.6zM315.2 496.4h2.6v2.1h-2.6zM361.2 496.4h2.6v2.1h-2.6zM399.2 496.4h2.6v2.1h-2.6zM427.3 496.4h4.6v2.1h-4.6zM435.3 496.4h2.6v2.1h-2.6zM481.3 496.4h2.6v2.1h-2.6zM325.2 500.9h4.6v2.1h-4.6zM359.2 500.9h2.6v2.1h-2.6zM381.2 500.9h2.6v2.1h-2.6zM403.3 500.9h6.6v2.1h-6.6zM429.3 500.9h4.6v2.1h-4.6zM447.3 500.9h4.6v2.1h-4.6zM335.2 505.4h4.6v2.1h-4.6zM381.2 505.4h2.6v2.1h-2.6zM391.2 505.4h2.6v2.1h-2.6zM401.3 505.4h4.6v2.1h-4.6zM415.3 505.4h2.6v2.1h-2.6zM425.3 505.4h2.6v2.1h-2.6zM459.3 505.4h4.6v2.1h-4.6zM479.3 505.4h2.6v2.1h-2.6zM357.2 506.8h4.6v2.1h-4.6zM373.2 506.8h2.6v2.1h-2.6zM421.3 506.8h4.6v2.1h-4.6zM433.3 506.8h2.6v2.1h-2.6zM443.3 506.8h4.6v2.1h-4.6zM449.3 506.8h2.6v2.1h-2.6zM453.3 506.8h4.6v2.1h-4.6zM319.2 508.3h6.6v2.1h-6.6zM333.2 508.3h2.6v2.1h-2.6zM359.2 508.3h6.6v2.1h-6.6zM377.2 508.3h4.6v2.1h-4.6zM389.2 508.3h2.6v2.1h-2.6zM411.3 508.3h4.6v2.1h-4.6zM429.3 508.3h4.6v2.1h-4.6zM457.3 508.3h4.6v2.1h-4.6zM475.3 508.3h6.6v2.1h-6.6zM315.2 509.8h4.6v2.1h-4.6zM327.2 509.8h6.6v2.1h-6.6zM353.2 509.8h4.6v2.1h-4.6zM387.2 509.8h2.6v2.1h-2.6zM395.2 509.8h4.6v2.1h-4.6zM443.3 509.8h2.6v2.1h-2.6zM449.3 509.8h2.6v2.1h-2.6zM455.3 509.8h2.6v2.1h-2.6zM467.3 509.8h4.6v2.1h-4.6zM473.3 509.8h2.6v2.1h-2.6zM333.2 512.8h2.6v2.1h-2.6zM417.3 512.8h2.6v2.1h-2.6zM439.3 512.8h6.6v2.1h-6.6zM457.3 512.8h2.6v2.1h-2.6zM461.3 512.8h2.6v2.1h-2.6zM483.3 512.8h2.6v2.1h-2.6zM323.2 514.3h2.6v2.1h-2.6zM329.2 514.3h4.6v2.1h-4.6zM357.2 514.3h4.6v2.1h-4.6zM389.2 514.3h2.6v2.1h-2.6zM415.3 514.3h2.6v2.1h-2.6zM431.3 514.3h2.6v2.1h-2.6zM437.3 514.3h2.6v2.1h-2.6zM481.3 514.3h2.6v2.1h-2.6zM435.3 520.3h2.6v2.1h-2.6zM315.2 521.8h2.6v2.1h-2.6zM351.2 521.8h2.6v2.1h-2.6zM379.2 521.8h2.6v2.1h-2.6zM387.2 521.8h4.6v2.1h-4.6zM419.3 521.8h2.6v2.1h-2.6zM445.3 521.8h2.6v2.1h-2.6zM457.3 521.8h2.6v2.1h-2.6zM461.3 521.8h2.6v2.1h-2.6zM383.2 523.3h2.6v2.1h-2.6zM391.2 523.3h2.6v2.1h-2.6zM419.3 523.3h2.6v2.1h-2.6zM431.3 523.3h4.6v2.1h-4.6zM437.3 523.3h2.6v2.1h-2.6zM441.3 523.3h2.6v2.1h-2.6zM447.3 523.3h6.6v2.1h-6.6zM455.3 523.3h2.6v2.1h-2.6zM325.2 524.8h2.6v2.1h-2.6zM391.2 524.8h2.6v2.1h-2.6zM411.3 524.8h2.6v2.1h-2.6zM419.3 524.8h2.6v2.1h-2.6zM435.3 524.8h2.6v2.1h-2.6zM347.2 526.3h4.6v2.1h-4.6zM357.2 526.3h4.6v2.1h-4.6zM377.2 526.3h2.6v2.1h-2.6zM391.2 526.3h4.6v2.1h-4.6zM399.2 526.3h2.6v2.1h-2.6zM443.3 526.3h4.6v2.1h-4.6zM483.3 526.3h2.6v2.1h-2.6zM315.2 527.8h2.6v2.1h-2.6zM343.2 527.8h4.6v2.1h-4.6zM351.2 527.8h4.6v2.1h-4.6zM387.2 527.8h2.6v2.1h-2.6zM391.2 527.8h4.6v2.1h-4.6zM411.3 527.8h2.6v2.1h-2.6zM415.3 527.8h6.6v2.1h-6.6zM435.3 527.8h6.6v2.1h-6.6zM479.3 527.8h4.6v2.1h-4.6zM315.2 529.3h4.6v2.1h-4.6zM361.2 529.3h2.6v2.1h-2.6zM391.2 529.3h6.6v2.1h-6.6zM411.3 529.3h2.6v2.1h-2.6zM419.3 529.3h2.6v2.1h-2.6zM437.3 529.3h6.6v2.1h-6.6zM391.2 530.7h8.6v2.1h-8.6zM379.2 532.2h2.6v2.1h-2.6zM333.2 533.7h2.6v2.1h-2.6zM351.2 533.7h6.6v2.1h-6.6zM375.2 533.7h2.6v2.1h-2.6zM379.2 533.7h4.6v2.1h-4.6zM403.3 533.7h2.6v2.1h-2.6zM407.3 533.7h4.6v2.1h-4.6zM453.3 533.7h8.6v2.1h-8.6zM467.3 533.7h2.6v2.1h-2.6zM471.3 533.7h4.6v2.1h-4.6zM477.3 533.7h8.6v2.1h-8.6zM315.2 535.2h2.6v2.1h-2.6zM399.2 535.2h2.6v2.1h-2.6zM411.3 535.2h2.6v2.1h-2.6zM435.3 535.2h2.6v2.1h-2.6zM315.2 536.7h2.6v2.1h-2.6zM325.2 536.7h2.6v2.1h-2.6zM391.2 536.7h2.6v2.1h-2.6zM399.2 536.7h4.6v2.1h-4.6zM435.3 536.7h2.6v2.1h-2.6zM315.2 538.2h6.6v2.1h-6.6zM325.2 538.2h4.6v2.1h-4.6zM335.2 538.2h8.6v2.1h-8.6zM365.2 538.2h4.6v2.1h-4.6zM379.2 538.2h2.6v2.1h-2.6zM391.2 538.2h2.6v2.1h-2.6zM399.2 538.2h6.6v2.1h-6.6zM411.3 538.2h2.6v2.1h-2.6zM419.3 538.2h2.6v2.1h-2.6zM435.3 538.2h2.6v2.1h-2.6zM439.3 538.2h4.6v2.1h-4.6zM447.3 538.2h10.6v2.1h-10.6zM315.2 539.7h2.6v2.1h-2.6zM325.2 539.7h2.6v2.1h-2.6zM377.2 539.7h2.6v2.1h-2.6zM391.2 539.7h4.6v2.1h-4.6zM399.2 539.7h4.6v2.1h-4.6zM405.3 539.7h2.6v2.1h-2.6zM411.3 539.7h6.6v2.1h-6.6zM435.3 539.7h6.6v2.1h-6.6z"/><path fill="#a2ff5e" d="M411.3 490.4h2.6v2.1h-2.6zM479.3 496.4h2.6v2.1h-2.6zM355.2 500.9h4.6v2.1h-4.6zM375.2 500.9h2.6v2.1h-2.6zM379.2 500.9h2.6v2.1h-2.6zM399.2 500.9h2.6v2.1h-2.6zM425.3 500.9h4.6v2.1h-4.6zM483.3 500.9h2.6v2.1h-2.6zM359.2 505.4h2.6v2.1h-2.6zM373.2 505.4h8.6v2.1h-8.6zM411.3 505.4h2.6v2.1h-2.6zM423.3 505.4h2.6v2.1h-2.6zM431.3 505.4h4.6v2.1h-4.6zM443.3 505.4h4.6v2.1h-4.6zM451.3 505.4h8.6v2.1h-8.6zM329.2 506.8h2.6v2.1h-2.6zM353.2 506.8h4.6v2.1h-4.6zM369.2 506.8h4.6v2.1h-4.6zM447.3 506.8h2.6v2.1h-2.6zM315.2 508.3h4.6v2.1h-4.6zM329.2 508.3h4.6v2.1h-4.6zM355.2 508.3h4.6v2.1h-4.6zM385.2 508.3h4.6v2.1h-4.6zM397.2 508.3h2.6v2.1h-2.6zM427.3 508.3h2.6v2.1h-2.6zM445.3 508.3h2.6v2.1h-2.6zM451.3 508.3h2.6v2.1h-2.6zM455.3 508.3h2.6v2.1h-2.6zM469.3 508.3h6.6v2.1h-6.6zM325.2 509.8h2.6v2.1h-2.6zM351.2 509.8h2.6v2.1h-2.6zM383.2 509.8h2.6v2.1h-2.6zM391.2 509.8h4.6v2.1h-4.6zM437.3 509.8h2.6v2.1h-2.6zM441.3 509.8h2.6v2.1h-2.6zM447.3 509.8h2.6v2.1h-2.6zM463.3 509.8h4.6v2.1h-4.6zM329.2 512.8h4.6v2.1h-4.6zM359.2 512.8h2.6v2.1h-2.6zM389.2 512.8h2.6v2.1h-2.6zM415.3 512.8h2.6v2.1h-2.6zM431.3 512.8h8.6v2.1h-8.6zM447.3 512.8h6.6v2.1h-6.6zM481.3 512.8h2.6v2.1h-2.6zM325.2 514.3h2.6v2.1h-2.6zM353.2 514.3h4.6v2.1h-4.6zM395.2 514.3h4.6v2.1h-4.6zM403.3 514.3h4.6v2.1h-4.6zM411.3 514.3h2.6v2.1h-2.6zM427.3 514.3h2.6v2.1h-2.6zM383.2 521.8h2.6v2.1h-2.6zM433.3 521.8h2.6v2.1h-2.6zM441.3 521.8h4.6v2.1h-4.6zM451.3 521.8h6.6v2.1h-6.6zM331.2 523.3h4.6v2.1h-4.6zM393.2 523.3h4.6v2.1h-4.6zM429.3 523.3h2.6v2.1h-2.6zM435.3 523.3h2.6v2.1h-2.6zM343.2 526.3h4.6v2.1h-4.6zM351.2 526.3h6.6v2.1h-6.6zM389.2 526.3h2.6v2.1h-2.6zM417.3 526.3h2.6v2.1h-2.6zM425.3 526.3h2.6v2.1h-2.6zM433.3 526.3h2.6v2.1h-2.6zM437.3 526.3h6.6v2.1h-6.6zM479.3 526.3h4.6v2.1h-4.6zM319.2 527.8h2.6v2.1h-2.6zM335.2 527.8h4.6v2.1h-4.6zM383.2 527.8h2.6v2.1h-2.6zM413.3 527.8h2.6v2.1h-2.6zM477.3 527.8h2.6v2.1h-2.6zM329.2 529.3h2.6v2.1h-2.6zM359.2 529.3h2.6v2.1h-2.6zM435.3 529.3h2.6v2.1h-2.6zM455.3 529.3h2.6v2.1h-2.6zM459.3 529.3h2.6v2.1h-2.6zM365.2 530.7h2.6v2.1h-2.6zM381.2 532.2h2.6v2.1h-2.6zM393.2 532.2h2.6v2.1h-2.6zM407.3 532.2h4.6v2.1h-4.6zM433.3 532.2h2.6v2.1h-2.6zM473.3 532.2h6.6v2.1h-6.6zM329.2 533.7h2.6v2.1h-2.6zM373.2 533.7h2.6v2.1h-2.6zM377.2 533.7h2.6v2.1h-2.6zM399.2 533.7h4.6v2.1h-4.6zM427.3 533.7h2.6v2.1h-2.6zM449.3 533.7h4.6v2.1h-4.6zM463.3 533.7h4.6v2.1h-4.6zM363.2 538.2h2.6v2.1h-2.6zM377.2 538.2h2.6v2.1h-2.6z"/><path fill="#e5ff1a" d="M351.2 500.9h4.6v2.1h-4.6zM365.2 500.9h2.6v2.1h-2.6zM373.2 500.9h2.6v2.1h-2.6zM377.2 500.9h2.6v2.1h-2.6zM395.2 500.9h4.6v2.1h-4.6zM421.3 500.9h4.6v2.1h-4.6zM481.3 500.9h2.6v2.1h-2.6zM333.2 505.4h2.6v2.1h-2.6zM355.2 505.4h4.6v2.1h-4.6zM371.2 505.4h2.6v2.1h-2.6zM419.3 505.4h4.6v2.1h-4.6zM429.3 505.4h2.6v2.1h-2.6zM439.3 505.4h4.6v2.1h-4.6zM447.3 505.4h4.6v2.1h-4.6zM325.2 506.8h4.6v2.1h-4.6zM325.2 508.3h4.6v2.1h-4.6zM351.2 508.3h4.6v2.1h-4.6zM383.2 508.3h2.6v2.1h-2.6zM393.2 508.3h4.6v2.1h-4.6zM439.3 508.3h6.6v2.1h-6.6zM447.3 508.3h4.6v2.1h-4.6zM463.3 508.3h6.6v2.1h-6.6zM321.2 512.8h8.6v2.1h-8.6zM355.2 512.8h4.6v2.1h-4.6zM397.2 512.8h2.6v2.1h-2.6zM405.3 512.8h2.6v2.1h-2.6zM411.3 512.8h2.6v2.1h-2.6zM427.3 512.8h2.6v2.1h-2.6zM315.2 514.3h4.6v2.1h-4.6zM351.2 514.3h2.6v2.1h-2.6zM383.2 514.3h2.6v2.1h-2.6zM393.2 514.3h2.6v2.1h-2.6zM399.2 514.3h4.6v2.1h-4.6zM333.2 521.8h2.6v2.1h-2.6zM359.2 521.8h2.6v2.1h-2.6zM395.2 521.8h2.6v2.1h-2.6zM425.3 521.8h2.6v2.1h-2.6zM429.3 521.8h4.6v2.1h-4.6zM435.3 521.8h4.6v2.1h-4.6zM447.3 521.8h4.6v2.1h-4.6zM479.3 521.8h4.6v2.1h-4.6zM327.2 523.3h4.6v2.1h-4.6zM353.2 523.3h4.6v2.1h-4.6zM421.3 523.3h4.6v2.1h-4.6zM321.2 526.3h4.6v2.1h-4.6zM335.2 526.3h6.6v2.1h-6.6zM373.2 526.3h4.6v2.1h-4.6zM385.2 526.3h4.6v2.1h-4.6zM413.3 526.3h4.6v2.1h-4.6zM429.3 526.3h4.6v2.1h-4.6zM435.3 526.3h2.6v2.1h-2.6zM475.3 526.3h4.6v2.1h-4.6zM317.2 527.8h2.6v2.1h-2.6zM329.2 527.8h2.6v2.1h-2.6zM371.2 527.8h8.6v2.1h-8.6zM399.2 527.8h2.6v2.1h-2.6zM405.3 527.8h4.6v2.1h-4.6zM427.3 527.8h6.6v2.1h-6.6zM465.3 527.8h12.6v2.1h-12.6zM325.2 529.3h2.6v2.1h-2.6zM331.2 529.3h4.6v2.1h-4.6zM351.2 529.3h4.6v2.1h-4.6zM357.2 529.3h2.6v2.1h-2.6zM383.2 529.3h8.6v2.1h-8.6zM449.3 529.3h6.6v2.1h-6.6zM457.3 529.3h2.6v2.1h-2.6zM479.3 529.3h6.6v2.1h-6.6zM315.2 530.7h2.6v2.1h-2.6zM321.2 530.7h4.6v2.1h-4.6zM361.2 530.7h2.6v2.1h-2.6zM367.2 530.7h2.6v2.1h-2.6zM411.3 530.7h4.6v2.1h-4.6zM417.3 530.7h8.6v2.1h-8.6zM435.3 530.7h2.6v2.1h-2.6zM441.3 530.7h2.6v2.1h-2.6zM445.3 530.7h2.6v2.1h-2.6zM473.3 530.7h2.6v2.1h-2.6zM337.2 532.2h14.6v2.1h-14.6zM373.2 532.2h4.6v2.1h-4.6zM391.2 532.2h2.6v2.1h-2.6zM397.2 532.2h2.6v2.1h-2.6zM401.3 532.2h6.6v2.1h-6.6zM429.3 532.2h2.6v2.1h-2.6zM467.3 532.2h6.6v2.1h-6.6zM325.2 533.7h4.6v2.1h-4.6zM383.2 533.7h2.6v2.1h-2.6zM419.3 533.7h2.6v2.1h-2.6zM443.3 533.7h2.6v2.1h-2.6z"/><path fill="#ffd500" d="M363.2 500.9h2.6v2.1h-2.6zM371.2 500.9h2.6v2.1h-2.6zM393.2 500.9h2.6v2.1h-2.6zM419.3 500.9h2.6v2.1h-2.6zM327.2 505.4h4.6v2.1h-4.6zM351.2 505.4h4.6v2.1h-4.6zM369.2 505.4h2.6v2.1h-2.6zM427.3 505.4h2.6v2.1h-2.6zM435.3 505.4h4.6v2.1h-4.6zM391.2 508.3h2.6v2.1h-2.6zM435.3 508.3h4.6v2.1h-4.6zM317.2 512.8h4.6v2.1h-4.6zM351.2 512.8h4.6v2.1h-4.6zM383.2 512.8h4.6v2.1h-4.6zM393.2 512.8h4.6v2.1h-4.6zM399.2 512.8h6.6v2.1h-6.6zM329.2 521.8h4.6v2.1h-4.6zM391.2 521.8h4.6v2.1h-4.6zM423.3 521.8h2.6v2.1h-2.6zM427.3 521.8h2.6v2.1h-2.6zM325.2 523.3h2.6v2.1h-2.6zM317.2 526.3h4.6v2.1h-4.6zM331.2 526.3h4.6v2.1h-4.6zM371.2 526.3h2.6v2.1h-2.6zM381.2 526.3h4.6v2.1h-4.6zM411.3 526.3h2.6v2.1h-2.6zM419.3 526.3h2.6v2.1h-2.6zM427.3 526.3h2.6v2.1h-2.6zM469.3 526.3h6.6v2.1h-6.6zM325.2 527.8h4.6v2.1h-4.6zM369.2 527.8h2.6v2.1h-2.6zM379.2 527.8h4.6v2.1h-4.6zM401.3 527.8h4.6v2.1h-4.6zM409.3 527.8h2.6v2.1h-2.6zM433.3 527.8h2.6v2.1h-2.6zM463.3 527.8h2.6v2.1h-2.6zM327.2 529.3h2.6v2.1h-2.6zM355.2 529.3h2.6v2.1h-2.6zM377.2 529.3h6.6v2.1h-6.6zM447.3 529.3h2.6v2.1h-2.6zM461.3 529.3h2.6v2.1h-2.6zM467.3 529.3h2.6v2.1h-2.6zM475.3 529.3h4.6v2.1h-4.6zM317.2 530.7h4.6v2.1h-4.6zM327.2 530.7h8.6v2.1h-8.6zM363.2 530.7h2.6v2.1h-2.6zM377.2 530.7h6.6v2.1h-6.6zM415.3 530.7h2.6v2.1h-2.6zM425.3 530.7h10.6v2.1h-10.6zM437.3 530.7h4.6v2.1h-4.6zM443.3 530.7h2.6v2.1h-2.6zM463.3 530.7h10.6v2.1h-10.6zM475.3 530.7h4.6v2.1h-4.6zM327.2 532.2h10.6v2.1h-10.6zM371.2 532.2h2.6v2.1h-2.6zM377.2 532.2h2.6v2.1h-2.6zM395.2 532.2h2.6v2.1h-2.6zM399.2 532.2h2.6v2.1h-2.6zM419.3 532.2h6.6v2.1h-6.6zM427.3 532.2h2.6v2.1h-2.6zM435.3 532.2h2.6v2.1h-2.6zM439.3 532.2h4.6v2.1h-4.6zM463.3 532.2h4.6v2.1h-4.6zM335.2 533.7h4.6v2.1h-4.6zM343.2 533.7h4.6v2.1h-4.6zM349.2 533.7h2.6v2.1h-2.6zM421.3 533.7h6.6v2.1h-6.6zM435.3 533.7h8.6v2.1h-8.6zM445.3 533.7h2.6v2.1h-2.6zM335.2 535.2h16.6v2.1h-16.6z"/><path fill="#ff9100" d="M361.2 500.9h2.6v2.1h-2.6zM391.2 500.9h2.6v2.1h-2.6zM325.2 505.4h2.6v2.1h-2.6zM315.2 512.8h2.6v2.1h-2.6zM391.2 512.8h2.6v2.1h-2.6zM327.2 521.8h2.6v2.1h-2.6zM353.2 521.8h4.6v2.1h-4.6zM421.3 521.8h2.6v2.1h-2.6zM315.2 526.3h2.6v2.1h-2.6zM327.2 526.3h4.6v2.1h-4.6zM369.2 526.3h2.6v2.1h-2.6zM463.3 526.3h6.6v2.1h-6.6zM427.3 529.3h8.6v2.1h-8.6zM463.3 529.3h4.6v2.1h-4.6zM469.3 529.3h6.6v2.1h-6.6zM325.2 530.7h2.6v2.1h-2.6zM405.3 530.7h2.6v2.1h-2.6zM325.2 532.2h2.6v2.1h-2.6zM369.2 532.2h2.6v2.1h-2.6zM425.3 532.2h2.6v2.1h-2.6zM437.3 532.2h2.6v2.1h-2.6zM443.3 532.2h4.6v2.1h-4.6zM317.2 533.7h2.6v2.1h-2.6zM339.2 533.7h4.6v2.1h-4.6zM347.2 533.7h2.6v2.1h-2.6zM415.3 533.7h2.6v2.1h-2.6zM393.2 535.2h2.6v2.1h-2.6z"/><path fill="#ff4c00" d="M325.2 521.8h2.6v2.1h-2.6zM325.2 526.3h2.6v2.1h-2.6zM375.2 529.3h2.6v2.1h-2.6zM399.2 529.3h4.6v2.1h-4.6zM405.3 529.3h4.6v2.1h-4.6zM353.2 530.7h4.6v2.1h-4.6zM359.2 530.7h2.6v2.1h-2.6zM369.2 530.7h8.6v2.1h-8.6zM385.2 530.7h2.6v2.1h-2.6zM399.2 530.7h6.6v2.1h-6.6zM407.3 530.7h4.6v2.1h-4.6zM447.3 530.7h4.6v2.1h-4.6zM455.3 530.7h8.6v2.1h-8.6zM317.2 532.2h2.6v2.1h-2.6zM321.2 532.2h4.6v2.1h-4.6zM351.2 532.2h6.6v2.1h-6.6zM359.2 532.2h2.6v2.1h-2.6zM363.2 532.2h2.6v2.1h-2.6zM367.2 532.2h2.6v2.1h-2.6zM387.2 532.2h4.6v2.1h-4.6zM417.3 532.2h2.6v2.1h-2.6zM447.3 532.2h4.6v2.1h-4.6zM453.3 532.2h10.6v2.1h-10.6zM479.3 532.2h6.6v2.1h-6.6zM319.2 533.7h2.6v2.1h-2.6zM323.2 533.7h2.6v2.1h-2.6zM361.2 533.7h8.6v2.1h-8.6zM411.3 533.7h4.6v2.1h-4.6zM391.2 535.2h2.6v2.1h-2.6zM395.2 535.2h4.6v2.1h-4.6z"/><path fill="#ff0800" d="M369.2 529.3h6.6v2.1h-6.6zM403.3 529.3h2.6v2.1h-2.6zM409.3 529.3h2.6v2.1h-2.6zM351.2 530.7h2.6v2.1h-2.6zM357.2 530.7h2.6v2.1h-2.6zM383.2 530.7h2.6v2.1h-2.6zM387.2 530.7h4.6v2.1h-4.6zM451.3 530.7h4.6v2.1h-4.6zM479.3 530.7h6.6v2.1h-6.6zM315.2 532.2h2.6v2.1h-2.6zM319.2 532.2h2.6v2.1h-2.6zM357.2 532.2h2.6v2.1h-2.6zM361.2 532.2h2.6v2.1h-2.6zM365.2 532.2h2.6v2.1h-2.6zM383.2 532.2h4.6v2.1h-4.6zM411.3 532.2h6.6v2.1h-6.6zM451.3 532.2h2.6v2.1h-2.6zM315.2 533.7h2.6v2.1h-2.6zM321.2 533.7h2.6v2.1h-2.6zM391.2 533.7h8.6v2.1h-8.6zM417.3 533.7h2.6v2.1h-2.6z"/></g></g><defs><linearGradient id="cbP" x1="0" y1="1" x2="0" y2="0"><stop offset="0.000" stop-color="#000080"/><stop offset="0.062" stop-color="#0000bf"/><stop offset="0.125" stop-color="#0000ff"/><stop offset="0.188" stop-color="#0040ff"/><stop offset="0.250" stop-color="#0080ff"/><stop offset="0.312" stop-color="#00bfff"/><stop offset="0.375" stop-color="#00ffff"/><stop offset="0.438" stop-color="#40ffbf"/><stop offset="0.500" stop-color="#80ff80"/><stop offset="0.562" stop-color="#bfff40"/><stop offset="0.625" stop-color="#ffff00"/><stop offset="0.688" stop-color="#ffbf00"/><stop offset="0.750" stop-color="#ff8000"/><stop offset="0.812" stop-color="#ff4000"/><stop offset="0.875" stop-color="#ff0000"/><stop offset="0.938" stop-color="#bf0000"/><stop offset="1.000" stop-color="#800000"/></linearGradient></defs><rect x="489.2" y="402.6" width="5.3" height="138.9" fill="url(#cbP)"/><rect x="489.2" y="402.6" width="5.3" height="138.9" fill="none" stroke="#223" stroke-width="0.6"/>
<defs><clipPath id="cpcbC"><rect x="541.5" y="402.6" width="169.5" height="138.9"/></clipPath></defs><g clip-path="url(#cpcbC)"><g filter="url(#bl)"><rect x="539.5" y="400.6" width="173.5" height="142.9" fill="#0000a0"/><path fill="#0000c1" d="M545.2 402.3h4.6v2.1h-4.6zM551.2 402.3h4.6v2.1h-4.6zM571.1 402.3h2.6v2.1h-2.6zM601 402.3h2.6v2.1h-2.6zM626.9 402.3h2.6v2.1h-2.6zM646.9 402.3h2.6v2.1h-2.6zM652.9 402.3h2.6v2.1h-2.6zM660.8 402.3h2.6v2.1h-2.6zM668.8 402.3h4.6v2.1h-4.6zM680.8 402.3h2.6v2.1h-2.6zM684.8 402.3h2.6v2.1h-2.6zM694.7 402.3h2.6v2.1h-2.6zM698.7 402.3h2.6v2.1h-2.6zM704.7 402.3h2.6v2.1h-2.6zM545.2 403.8h4.6v2.1h-4.6zM551.2 403.8h4.6v2.1h-4.6zM561.1 403.8h2.6v2.1h-2.6zM571.1 403.8h2.6v2.1h-2.6zM601 403.8h2.6v2.1h-2.6zM626.9 403.8h2.6v2.1h-2.6zM646.9 403.8h2.6v2.1h-2.6zM652.9 403.8h2.6v2.1h-2.6zM660.8 403.8h2.6v2.1h-2.6zM664.8 403.8h2.6v2.1h-2.6zM668.8 403.8h4.6v2.1h-4.6zM684.8 403.8h2.6v2.1h-2.6zM694.7 403.8h2.6v2.1h-2.6zM698.7 403.8h2.6v2.1h-2.6zM545.2 405.3h4.6v2.1h-4.6zM551.2 405.3h4.6v2.1h-4.6zM561.1 405.3h2.6v2.1h-2.6zM601 405.3h2.6v2.1h-2.6zM626.9 405.3h2.6v2.1h-2.6zM646.9 405.3h2.6v2.1h-2.6zM652.9 405.3h2.6v2.1h-2.6zM660.8 405.3h2.6v2.1h-2.6zM664.8 405.3h2.6v2.1h-2.6zM668.8 405.3h4.6v2.1h-4.6zM680.8 405.3h2.6v2.1h-2.6zM684.8 405.3h2.6v2.1h-2.6zM694.7 405.3h2.6v2.1h-2.6zM698.7 405.3h2.6v2.1h-2.6zM704.7 405.3h2.6v2.1h-2.6zM545.2 406.8h4.6v2.1h-4.6zM551.2 406.8h4.6v2.1h-4.6zM626.9 406.8h2.6v2.1h-2.6zM646.9 406.8h2.6v2.1h-2.6zM652.9 406.8h2.6v2.1h-2.6zM680.8 406.8h2.6v2.1h-2.6zM684.8 406.8h2.6v2.1h-2.6zM694.7 406.8h2.6v2.1h-2.6zM698.7 406.8h2.6v2.1h-2.6zM545.2 408.3h4.6v2.1h-4.6zM551.2 408.3h4.6v2.1h-4.6zM561.1 408.3h2.6v2.1h-2.6zM571.1 408.3h2.6v2.1h-2.6zM601 408.3h2.6v2.1h-2.6zM626.9 408.3h2.6v2.1h-2.6zM646.9 408.3h2.6v2.1h-2.6zM660.8 408.3h2.6v2.1h-2.6zM664.8 408.3h2.6v2.1h-2.6zM668.8 408.3h4.6v2.1h-4.6zM680.8 408.3h2.6v2.1h-2.6zM684.8 408.3h2.6v2.1h-2.6zM694.7 408.3h2.6v2.1h-2.6zM698.7 408.3h2.6v2.1h-2.6zM704.7 408.3h2.6v2.1h-2.6zM545.2 409.8h4.6v2.1h-4.6zM551.2 409.8h4.6v2.1h-4.6zM561.1 409.8h2.6v2.1h-2.6zM571.1 409.8h2.6v2.1h-2.6zM601 409.8h2.6v2.1h-2.6zM626.9 409.8h2.6v2.1h-2.6zM646.9 409.8h2.6v2.1h-2.6zM660.8 409.8h2.6v2.1h-2.6zM664.8 409.8h2.6v2.1h-2.6zM668.8 409.8h4.6v2.1h-4.6zM680.8 409.8h2.6v2.1h-2.6zM684.8 409.8h2.6v2.1h-2.6zM694.7 409.8h2.6v2.1h-2.6zM698.7 409.8h2.6v2.1h-2.6zM704.7 409.8h2.6v2.1h-2.6zM545.2 411.3h4.6v2.1h-4.6zM553.2 411.3h2.6v2.1h-2.6zM561.1 411.3h2.6v2.1h-2.6zM571.1 411.3h2.6v2.1h-2.6zM601 411.3h2.6v2.1h-2.6zM626.9 411.3h2.6v2.1h-2.6zM646.9 411.3h2.6v2.1h-2.6zM652.9 411.3h2.6v2.1h-2.6zM660.8 411.3h2.6v2.1h-2.6zM664.8 411.3h2.6v2.1h-2.6zM668.8 411.3h4.6v2.1h-4.6zM680.8 411.3h2.6v2.1h-2.6zM684.8 411.3h2.6v2.1h-2.6zM698.7 411.3h2.6v2.1h-2.6zM704.7 411.3h2.6v2.1h-2.6zM545.2 412.8h4.6v2.1h-4.6zM551.2 412.8h2.6v2.1h-2.6zM561.1 412.8h2.6v2.1h-2.6zM571.1 412.8h2.6v2.1h-2.6zM601 412.8h2.6v2.1h-2.6zM626.9 412.8h2.6v2.1h-2.6zM652.9 412.8h2.6v2.1h-2.6zM660.8 412.8h2.6v2.1h-2.6zM680.8 412.8h2.6v2.1h-2.6zM684.8 412.8h2.6v2.1h-2.6zM694.7 412.8h2.6v2.1h-2.6zM698.7 412.8h2.6v2.1h-2.6zM704.7 412.8h2.6v2.1h-2.6zM545.2 414.2h4.6v2.1h-4.6zM551.2 414.2h4.6v2.1h-4.6zM571.1 414.2h2.6v2.1h-2.6zM601 414.2h2.6v2.1h-2.6zM626.9 414.2h2.6v2.1h-2.6zM646.9 414.2h2.6v2.1h-2.6zM652.9 414.2h2.6v2.1h-2.6zM660.8 414.2h2.6v2.1h-2.6zM664.8 414.2h2.6v2.1h-2.6zM668.8 414.2h4.6v2.1h-4.6zM680.8 414.2h2.6v2.1h-2.6zM684.8 414.2h2.6v2.1h-2.6zM694.7 414.2h2.6v2.1h-2.6zM698.7 414.2h2.6v2.1h-2.6zM551.2 415.7h4.6v2.1h-4.6zM626.9 415.7h2.6v2.1h-2.6zM646.9 415.7h2.6v2.1h-2.6zM660.8 415.7h2.6v2.1h-2.6zM664.8 415.7h2.6v2.1h-2.6zM668.8 415.7h4.6v2.1h-4.6zM680.8 415.7h2.6v2.1h-2.6zM545.2 417.2h4.6v2.1h-4.6zM551.2 417.2h4.6v2.1h-4.6zM561.1 417.2h2.6v2.1h-2.6zM571.1 417.2h2.6v2.1h-2.6zM601 417.2h2.6v2.1h-2.6zM626.9 417.2h2.6v2.1h-2.6zM652.9 417.2h2.6v2.1h-2.6zM660.8 417.2h2.6v2.1h-2.6zM664.8 417.2h2.6v2.1h-2.6zM668.8 417.2h2.6v2.1h-2.6zM680.8 417.2h2.6v2.1h-2.6zM684.8 417.2h2.6v2.1h-2.6zM694.7 417.2h2.6v2.1h-2.6zM698.7 417.2h2.6v2.1h-2.6zM704.7 417.2h2.6v2.1h-2.6zM545.2 418.7h4.6v2.1h-4.6zM553.2 418.7h2.6v2.1h-2.6zM571.1 418.7h2.6v2.1h-2.6zM601 418.7h2.6v2.1h-2.6zM626.9 418.7h2.6v2.1h-2.6zM646.9 418.7h2.6v2.1h-2.6zM652.9 418.7h2.6v2.1h-2.6zM660.8 418.7h2.6v2.1h-2.6zM664.8 418.7h2.6v2.1h-2.6zM668.8 418.7h4.6v2.1h-4.6zM684.8 418.7h2.6v2.1h-2.6zM694.7 418.7h2.6v2.1h-2.6zM698.7 418.7h2.6v2.1h-2.6zM547.2 420.2h2.6v2.1h-2.6zM551.2 420.2h4.6v2.1h-4.6zM571.1 420.2h2.6v2.1h-2.6zM601 420.2h2.6v2.1h-2.6zM626.9 420.2h2.6v2.1h-2.6zM646.9 420.2h2.6v2.1h-2.6zM652.9 420.2h2.6v2.1h-2.6zM660.8 420.2h2.6v2.1h-2.6zM664.8 420.2h2.6v2.1h-2.6zM668.8 420.2h4.6v2.1h-4.6zM680.8 420.2h2.6v2.1h-2.6zM684.8 420.2h2.6v2.1h-2.6zM694.7 420.2h2.6v2.1h-2.6zM698.7 420.2h2.6v2.1h-2.6zM704.7 420.2h2.6v2.1h-2.6zM545.2 421.7h4.6v2.1h-4.6zM551.2 421.7h4.6v2.1h-4.6zM561.1 421.7h2.6v2.1h-2.6zM571.1 421.7h2.6v2.1h-2.6zM601 421.7h2.6v2.1h-2.6zM626.9 421.7h2.6v2.1h-2.6zM646.9 421.7h2.6v2.1h-2.6zM652.9 421.7h2.6v2.1h-2.6zM660.8 421.7h2.6v2.1h-2.6zM664.8 421.7h2.6v2.1h-2.6zM668.8 421.7h4.6v2.1h-4.6zM684.8 421.7h2.6v2.1h-2.6zM694.7 421.7h2.6v2.1h-2.6zM698.7 421.7h2.6v2.1h-2.6zM545.2 423.2h4.6v2.1h-4.6zM551.2 423.2h4.6v2.1h-4.6zM571.1 423.2h2.6v2.1h-2.6zM646.9 423.2h2.6v2.1h-2.6zM652.9 423.2h2.6v2.1h-2.6zM660.8 423.2h2.6v2.1h-2.6zM668.8 423.2h4.6v2.1h-4.6zM680.8 423.2h2.6v2.1h-2.6zM704.7 423.2h2.6v2.1h-2.6zM545.2 424.7h2.6v2.1h-2.6zM551.2 424.7h4.6v2.1h-4.6zM561.1 424.7h2.6v2.1h-2.6zM601 424.7h2.6v2.1h-2.6zM626.9 424.7h2.6v2.1h-2.6zM646.9 424.7h2.6v2.1h-2.6zM652.9 424.7h2.6v2.1h-2.6zM660.8 424.7h2.6v2.1h-2.6zM664.8 424.7h2.6v2.1h-2.6zM668.8 424.7h4.6v2.1h-4.6zM680.8 424.7h2.6v2.1h-2.6zM684.8 424.7h2.6v2.1h-2.6zM694.7 424.7h2.6v2.1h-2.6zM698.7 424.7h2.6v2.1h-2.6zM704.7 424.7h2.6v2.1h-2.6zM545.2 426.2h4.6v2.1h-4.6zM553.2 426.2h2.6v2.1h-2.6zM561.1 426.2h2.6v2.1h-2.6zM571.1 426.2h2.6v2.1h-2.6zM601 426.2h2.6v2.1h-2.6zM652.9 426.2h2.6v2.1h-2.6zM660.8 426.2h2.6v2.1h-2.6zM664.8 426.2h2.6v2.1h-2.6zM668.8 426.2h4.6v2.1h-4.6zM680.8 426.2h2.6v2.1h-2.6zM684.8 426.2h2.6v2.1h-2.6zM694.7 426.2h2.6v2.1h-2.6zM698.7 426.2h2.6v2.1h-2.6zM704.7 426.2h2.6v2.1h-2.6zM545.2 427.7h4.6v2.1h-4.6zM551.2 427.7h4.6v2.1h-4.6zM561.1 427.7h2.6v2.1h-2.6zM571.1 427.7h2.6v2.1h-2.6zM601 427.7h2.6v2.1h-2.6zM626.9 427.7h2.6v2.1h-2.6zM646.9 427.7h2.6v2.1h-2.6zM652.9 427.7h2.6v2.1h-2.6zM660.8 427.7h2.6v2.1h-2.6zM664.8 427.7h2.6v2.1h-2.6zM668.8 427.7h4.6v2.1h-4.6zM680.8 427.7h2.6v2.1h-2.6zM684.8 427.7h2.6v2.1h-2.6zM694.7 427.7h2.6v2.1h-2.6zM698.7 427.7h2.6v2.1h-2.6zM704.7 427.7h2.6v2.1h-2.6zM545.2 429.2h2.6v2.1h-2.6zM551.2 429.2h4.6v2.1h-4.6zM561.1 429.2h2.6v2.1h-2.6zM571.1 429.2h2.6v2.1h-2.6zM601 429.2h2.6v2.1h-2.6zM626.9 429.2h2.6v2.1h-2.6zM646.9 429.2h2.6v2.1h-2.6zM652.9 429.2h2.6v2.1h-2.6zM660.8 429.2h2.6v2.1h-2.6zM680.8 429.2h2.6v2.1h-2.6zM684.8 429.2h2.6v2.1h-2.6zM694.7 429.2h2.6v2.1h-2.6zM698.7 429.2h2.6v2.1h-2.6zM545.2 430.7h4.6v2.1h-4.6zM553.2 430.7h2.6v2.1h-2.6zM561.1 430.7h2.6v2.1h-2.6zM571.1 430.7h2.6v2.1h-2.6zM601 430.7h2.6v2.1h-2.6zM626.9 430.7h2.6v2.1h-2.6zM646.9 430.7h2.6v2.1h-2.6zM652.9 430.7h2.6v2.1h-2.6zM660.8 430.7h2.6v2.1h-2.6zM664.8 430.7h2.6v2.1h-2.6zM668.8 430.7h4.6v2.1h-4.6zM680.8 430.7h2.6v2.1h-2.6zM698.7 430.7h2.6v2.1h-2.6zM704.7 430.7h2.6v2.1h-2.6zM545.2 432.2h4.6v2.1h-4.6zM551.2 432.2h4.6v2.1h-4.6zM571.1 432.2h2.6v2.1h-2.6zM601 432.2h2.6v2.1h-2.6zM626.9 432.2h2.6v2.1h-2.6zM646.9 432.2h2.6v2.1h-2.6zM660.8 432.2h2.6v2.1h-2.6zM664.8 432.2h2.6v2.1h-2.6zM668.8 432.2h4.6v2.1h-4.6zM684.8 432.2h2.6v2.1h-2.6zM704.7 432.2h2.6v2.1h-2.6zM545.2 433.7h4.6v2.1h-4.6zM551.2 433.7h2.6v2.1h-2.6zM571.1 433.7h2.6v2.1h-2.6zM601 433.7h2.6v2.1h-2.6zM646.9 433.7h2.6v2.1h-2.6zM652.9 433.7h2.6v2.1h-2.6zM660.8 433.7h2.6v2.1h-2.6zM664.8 433.7h2.6v2.1h-2.6zM668.8 433.7h4.6v2.1h-4.6zM680.8 433.7h2.6v2.1h-2.6zM694.7 433.7h2.6v2.1h-2.6zM698.7 433.7h2.6v2.1h-2.6zM704.7 433.7h2.6v2.1h-2.6zM547.2 435.2h2.6v2.1h-2.6zM551.2 435.2h4.6v2.1h-4.6zM561.1 435.2h2.6v2.1h-2.6zM626.9 435.2h2.6v2.1h-2.6zM646.9 435.2h2.6v2.1h-2.6zM652.9 435.2h2.6v2.1h-2.6zM660.8 435.2h2.6v2.1h-2.6zM694.7 435.2h2.6v2.1h-2.6zM698.7 435.2h2.6v2.1h-2.6zM704.7 435.2h2.6v2.1h-2.6zM545.2 436.7h2.6v2.1h-2.6zM551.2 436.7h4.6v2.1h-4.6zM561.1 436.7h2.6v2.1h-2.6zM571.1 436.7h2.6v2.1h-2.6zM601 436.7h2.6v2.1h-2.6zM626.9 436.7h2.6v2.1h-2.6zM646.9 436.7h2.6v2.1h-2.6zM652.9 436.7h2.6v2.1h-2.6zM664.8 436.7h2.6v2.1h-2.6zM668.8 436.7h4.6v2.1h-4.6zM680.8 436.7h2.6v2.1h-2.6zM694.7 436.7h2.6v2.1h-2.6zM704.7 436.7h2.6v2.1h-2.6zM545.2 438.1h4.6v2.1h-4.6zM551.2 438.1h4.6v2.1h-4.6zM571.1 438.1h2.6v2.1h-2.6zM601 438.1h2.6v2.1h-2.6zM626.9 438.1h2.6v2.1h-2.6zM652.9 438.1h2.6v2.1h-2.6zM660.8 438.1h2.6v2.1h-2.6zM664.8 438.1h2.6v2.1h-2.6zM668.8 438.1h4.6v2.1h-4.6zM680.8 438.1h2.6v2.1h-2.6zM684.8 438.1h2.6v2.1h-2.6zM694.7 438.1h2.6v2.1h-2.6zM698.7 438.1h2.6v2.1h-2.6zM545.2 439.6h4.6v2.1h-4.6zM551.2 439.6h4.6v2.1h-4.6zM571.1 439.6h2.6v2.1h-2.6zM652.9 439.6h2.6v2.1h-2.6zM660.8 439.6h2.6v2.1h-2.6zM664.8 439.6h2.6v2.1h-2.6zM668.8 439.6h2.6v2.1h-2.6zM684.8 439.6h2.6v2.1h-2.6zM704.7 439.6h2.6v2.1h-2.6zM545.2 441.1h4.6v2.1h-4.6zM561.1 441.1h2.6v2.1h-2.6zM571.1 441.1h2.6v2.1h-2.6zM626.9 441.1h2.6v2.1h-2.6zM646.9 441.1h2.6v2.1h-2.6zM652.9 441.1h2.6v2.1h-2.6zM660.8 441.1h2.6v2.1h-2.6zM680.8 441.1h2.6v2.1h-2.6zM684.8 441.1h2.6v2.1h-2.6zM694.7 441.1h2.6v2.1h-2.6zM704.7 441.1h2.6v2.1h-2.6zM545.2 442.6h4.6v2.1h-4.6zM553.2 442.6h2.6v2.1h-2.6zM561.1 442.6h2.6v2.1h-2.6zM601 442.6h2.6v2.1h-2.6zM626.9 442.6h2.6v2.1h-2.6zM652.9 442.6h2.6v2.1h-2.6zM660.8 442.6h2.6v2.1h-2.6zM664.8 442.6h2.6v2.1h-2.6zM668.8 442.6h4.6v2.1h-4.6zM680.8 442.6h2.6v2.1h-2.6zM684.8 442.6h2.6v2.1h-2.6zM704.7 442.6h2.6v2.1h-2.6zM547.2 444.1h2.6v2.1h-2.6zM551.2 444.1h4.6v2.1h-4.6zM561.1 444.1h2.6v2.1h-2.6zM571.1 444.1h2.6v2.1h-2.6zM601 444.1h2.6v2.1h-2.6zM626.9 444.1h2.6v2.1h-2.6zM646.9 444.1h2.6v2.1h-2.6zM652.9 444.1h2.6v2.1h-2.6zM664.8 444.1h2.6v2.1h-2.6zM668.8 444.1h4.6v2.1h-4.6zM680.8 444.1h2.6v2.1h-2.6zM684.8 444.1h2.6v2.1h-2.6zM694.7 444.1h2.6v2.1h-2.6zM698.7 444.1h2.6v2.1h-2.6zM704.7 444.1h2.6v2.1h-2.6zM545.2 445.6h4.6v2.1h-4.6zM561.1 445.6h2.6v2.1h-2.6zM571.1 445.6h2.6v2.1h-2.6zM601 445.6h2.6v2.1h-2.6zM652.9 445.6h2.6v2.1h-2.6zM660.8 445.6h2.6v2.1h-2.6zM664.8 445.6h2.6v2.1h-2.6zM668.8 445.6h4.6v2.1h-4.6zM680.8 445.6h2.6v2.1h-2.6zM684.8 445.6h2.6v2.1h-2.6zM694.7 445.6h2.6v2.1h-2.6zM698.7 445.6h2.6v2.1h-2.6zM704.7 445.6h2.6v2.1h-2.6zM545.2 447.1h2.6v2.1h-2.6zM551.2 447.1h4.6v2.1h-4.6zM571.1 447.1h2.6v2.1h-2.6zM652.9 447.1h2.6v2.1h-2.6zM660.8 447.1h2.6v2.1h-2.6zM680.8 447.1h2.6v2.1h-2.6zM684.8 447.1h2.6v2.1h-2.6zM551.2 448.6h4.6v2.1h-4.6zM561.1 448.6h2.6v2.1h-2.6zM571.1 448.6h2.6v2.1h-2.6zM646.9 448.6h2.6v2.1h-2.6zM660.8 448.6h2.6v2.1h-2.6zM664.8 448.6h2.6v2.1h-2.6zM680.8 448.6h2.6v2.1h-2.6zM684.8 448.6h2.6v2.1h-2.6zM694.7 448.6h2.6v2.1h-2.6zM698.7 448.6h2.6v2.1h-2.6zM704.7 448.6h2.6v2.1h-2.6zM545.2 450.1h2.6v2.1h-2.6zM551.2 450.1h2.6v2.1h-2.6zM561.1 450.1h2.6v2.1h-2.6zM571.1 450.1h2.6v2.1h-2.6zM601 450.1h2.6v2.1h-2.6zM646.9 450.1h2.6v2.1h-2.6zM668.8 450.1h2.6v2.1h-2.6zM684.8 450.1h2.6v2.1h-2.6zM694.7 450.1h2.6v2.1h-2.6zM698.7 450.1h2.6v2.1h-2.6zM704.7 450.1h2.6v2.1h-2.6zM545.2 451.6h4.6v2.1h-4.6zM553.2 451.6h2.6v2.1h-2.6zM561.1 451.6h2.6v2.1h-2.6zM601 451.6h2.6v2.1h-2.6zM652.9 451.6h2.6v2.1h-2.6zM664.8 451.6h2.6v2.1h-2.6zM668.8 451.6h4.6v2.1h-4.6zM680.8 451.6h2.6v2.1h-2.6zM684.8 451.6h2.6v2.1h-2.6zM694.7 451.6h2.6v2.1h-2.6zM704.7 451.6h2.6v2.1h-2.6zM553.2 453.1h2.6v2.1h-2.6zM561.1 453.1h2.6v2.1h-2.6zM571.1 453.1h2.6v2.1h-2.6zM601 453.1h2.6v2.1h-2.6zM626.9 453.1h2.6v2.1h-2.6zM652.9 453.1h2.6v2.1h-2.6zM660.8 453.1h2.6v2.1h-2.6zM680.8 453.1h2.6v2.1h-2.6zM694.7 453.1h2.6v2.1h-2.6zM545.2 454.6h2.6v2.1h-2.6zM553.2 454.6h2.6v2.1h-2.6zM646.9 454.6h2.6v2.1h-2.6zM652.9 454.6h2.6v2.1h-2.6zM664.8 454.6h2.6v2.1h-2.6zM680.8 454.6h2.6v2.1h-2.6zM684.8 454.6h2.6v2.1h-2.6zM547.2 456.1h2.6v2.1h-2.6zM551.2 456.1h2.6v2.1h-2.6zM561.1 456.1h2.6v2.1h-2.6zM571.1 456.1h2.6v2.1h-2.6zM601 456.1h2.6v2.1h-2.6zM626.9 456.1h2.6v2.1h-2.6zM646.9 456.1h2.6v2.1h-2.6zM668.8 456.1h4.6v2.1h-4.6zM680.8 456.1h2.6v2.1h-2.6zM704.7 456.1h2.6v2.1h-2.6zM545.2 457.6h4.6v2.1h-4.6zM646.9 457.6h2.6v2.1h-2.6zM660.8 457.6h2.6v2.1h-2.6zM664.8 457.6h2.6v2.1h-2.6zM668.8 457.6h4.6v2.1h-4.6zM680.8 457.6h2.6v2.1h-2.6zM684.8 457.6h2.6v2.1h-2.6zM698.7 457.6h2.6v2.1h-2.6zM545.2 459.1h2.6v2.1h-2.6zM551.2 459.1h2.6v2.1h-2.6zM571.1 459.1h2.6v2.1h-2.6zM646.9 459.1h2.6v2.1h-2.6zM670.8 459.1h2.6v2.1h-2.6zM680.8 459.1h2.6v2.1h-2.6zM684.8 459.1h2.6v2.1h-2.6zM694.7 459.1h2.6v2.1h-2.6zM704.7 459.1h2.6v2.1h-2.6zM545.2 460.5h2.6v2.1h-2.6zM551.2 460.5h2.6v2.1h-2.6zM626.9 460.5h2.6v2.1h-2.6zM646.9 460.5h2.6v2.1h-2.6zM684.8 460.5h2.6v2.1h-2.6zM694.7 460.5h2.6v2.1h-2.6zM704.7 460.5h2.6v2.1h-2.6zM553.2 462h2.6v2.1h-2.6zM561.1 462h2.6v2.1h-2.6zM626.9 462h2.6v2.1h-2.6zM680.8 462h2.6v2.1h-2.6zM698.7 462h2.6v2.1h-2.6zM545.2 463.5h2.6v2.1h-2.6zM561.1 463.5h2.6v2.1h-2.6zM646.9 463.5h2.6v2.1h-2.6zM680.8 463.5h2.6v2.1h-2.6zM684.8 463.5h2.6v2.1h-2.6zM551.2 465h2.6v2.1h-2.6zM561.1 465h2.6v2.1h-2.6zM652.9 465h2.6v2.1h-2.6zM660.8 465h2.6v2.1h-2.6zM545.2 466.5h2.6v2.1h-2.6zM553.2 466.5h2.6v2.1h-2.6zM561.1 466.5h2.6v2.1h-2.6zM571.1 466.5h2.6v2.1h-2.6zM601 466.5h2.6v2.1h-2.6zM680.8 466.5h2.6v2.1h-2.6zM684.8 466.5h2.6v2.1h-2.6zM694.7 466.5h2.6v2.1h-2.6zM545.2 468h4.6v2.1h-4.6zM551.2 468h2.6v2.1h-2.6zM664.8 468h2.6v2.1h-2.6zM545.2 469.5h4.6v2.1h-4.6zM551.2 469.5h2.6v2.1h-2.6zM626.9 469.5h2.6v2.1h-2.6zM684.8 469.5h2.6v2.1h-2.6zM694.7 469.5h2.6v2.1h-2.6zM698.7 469.5h2.6v2.1h-2.6zM547.2 471h2.6v2.1h-2.6zM551.2 471h2.6v2.1h-2.6zM668.8 471h2.6v2.1h-2.6zM684.8 471h2.6v2.1h-2.6zM698.7 471h2.6v2.1h-2.6zM551.2 472.5h2.6v2.1h-2.6zM626.9 472.5h2.6v2.1h-2.6zM660.8 472.5h2.6v2.1h-2.6zM664.8 472.5h2.6v2.1h-2.6zM670.8 472.5h2.6v2.1h-2.6zM694.7 472.5h2.6v2.1h-2.6zM626.9 474h2.6v2.1h-2.6zM680.8 474h2.6v2.1h-2.6zM684.8 474h2.6v2.1h-2.6zM698.7 474h2.6v2.1h-2.6zM652.9 475.5h2.6v2.1h-2.6zM626.9 477h2.6v2.1h-2.6zM664.8 477h2.6v2.1h-2.6zM698.7 477h2.6v2.1h-2.6zM660.8 478.5h2.6v2.1h-2.6zM571.1 480h2.6v2.1h-2.6zM670.8 480h2.6v2.1h-2.6zM694.7 480h2.6v2.1h-2.6zM684.8 481.5h2.6v2.1h-2.6zM670.8 483h2.6v2.1h-2.6zM684.8 483h2.6v2.1h-2.6zM694.7 485.9h2.6v2.1h-2.6z"/><path fill="#0000e2" d="M541.2 402.3h4.6v2.1h-4.6zM549.2 402.3h2.6v2.1h-2.6zM555.2 402.3h10.6v2.1h-10.6zM573.1 402.3h4.6v2.1h-4.6zM583.1 402.3h6.6v2.1h-6.6zM591.1 402.3h2.6v2.1h-2.6zM595 402.3h6.6v2.1h-6.6zM603 402.3h8.6v2.1h-8.6zM623 402.3h4.6v2.1h-4.6zM628.9 402.3h4.6v2.1h-4.6zM642.9 402.3h4.6v2.1h-4.6zM648.9 402.3h4.6v2.1h-4.6zM654.9 402.3h4.6v2.1h-4.6zM662.8 402.3h6.6v2.1h-6.6zM672.8 402.3h8.6v2.1h-8.6zM682.8 402.3h2.6v2.1h-2.6zM686.8 402.3h2.6v2.1h-2.6zM690.8 402.3h4.6v2.1h-4.6zM696.7 402.3h2.6v2.1h-2.6zM702.7 402.3h2.6v2.1h-2.6zM706.7 402.3h4.6v2.1h-4.6zM541.2 403.8h4.6v2.1h-4.6zM549.2 403.8h2.6v2.1h-2.6zM555.2 403.8h6.6v2.1h-6.6zM563.1 403.8h2.6v2.1h-2.6zM573.1 403.8h4.6v2.1h-4.6zM583.1 403.8h2.6v2.1h-2.6zM595 403.8h6.6v2.1h-6.6zM603 403.8h8.6v2.1h-8.6zM623 403.8h4.6v2.1h-4.6zM628.9 403.8h4.6v2.1h-4.6zM642.9 403.8h4.6v2.1h-4.6zM648.9 403.8h4.6v2.1h-4.6zM654.9 403.8h4.6v2.1h-4.6zM662.8 403.8h2.6v2.1h-2.6zM666.8 403.8h2.6v2.1h-2.6zM672.8 403.8h12.6v2.1h-12.6zM686.8 403.8h2.6v2.1h-2.6zM690.8 403.8h4.6v2.1h-4.6zM696.7 403.8h2.6v2.1h-2.6zM702.7 403.8h8.6v2.1h-8.6zM541.2 405.3h4.6v2.1h-4.6zM549.2 405.3h2.6v2.1h-2.6zM555.2 405.3h6.6v2.1h-6.6zM563.1 405.3h2.6v2.1h-2.6zM571.1 405.3h6.6v2.1h-6.6zM583.1 405.3h2.6v2.1h-2.6zM595 405.3h6.6v2.1h-6.6zM603 405.3h8.6v2.1h-8.6zM623 405.3h4.6v2.1h-4.6zM628.9 405.3h4.6v2.1h-4.6zM642.9 405.3h4.6v2.1h-4.6zM648.9 405.3h4.6v2.1h-4.6zM654.9 405.3h4.6v2.1h-4.6zM662.8 405.3h2.6v2.1h-2.6zM666.8 405.3h2.6v2.1h-2.6zM672.8 405.3h8.6v2.1h-8.6zM682.8 405.3h2.6v2.1h-2.6zM686.8 405.3h2.6v2.1h-2.6zM690.8 405.3h4.6v2.1h-4.6zM696.7 405.3h2.6v2.1h-2.6zM702.7 405.3h2.6v2.1h-2.6zM706.7 405.3h4.6v2.1h-4.6zM541.2 406.8h4.6v2.1h-4.6zM549.2 406.8h2.6v2.1h-2.6zM555.2 406.8h10.6v2.1h-10.6zM571.1 406.8h6.6v2.1h-6.6zM583.1 406.8h2.6v2.1h-2.6zM595 406.8h16.6v2.1h-16.6zM623 406.8h4.6v2.1h-4.6zM628.9 406.8h2.6v2.1h-2.6zM642.9 406.8h4.6v2.1h-4.6zM648.9 406.8h4.6v2.1h-4.6zM654.9 406.8h4.6v2.1h-4.6zM660.8 406.8h4.6v2.1h-4.6zM672.8 406.8h8.6v2.1h-8.6zM682.8 406.8h2.6v2.1h-2.6zM686.8 406.8h2.6v2.1h-2.6zM690.8 406.8h4.6v2.1h-4.6zM696.7 406.8h2.6v2.1h-2.6zM702.7 406.8h8.6v2.1h-8.6zM541.2 408.3h4.6v2.1h-4.6zM549.2 408.3h2.6v2.1h-2.6zM555.2 408.3h6.6v2.1h-6.6zM563.1 408.3h2.6v2.1h-2.6zM573.1 408.3h4.6v2.1h-4.6zM583.1 408.3h2.6v2.1h-2.6zM595 408.3h6.6v2.1h-6.6zM603 408.3h8.6v2.1h-8.6zM623 408.3h4.6v2.1h-4.6zM628.9 408.3h4.6v2.1h-4.6zM644.9 408.3h2.6v2.1h-2.6zM650.9 408.3h8.6v2.1h-8.6zM662.8 408.3h2.6v2.1h-2.6zM666.8 408.3h2.6v2.1h-2.6zM672.8 408.3h8.6v2.1h-8.6zM682.8 408.3h2.6v2.1h-2.6zM686.8 408.3h2.6v2.1h-2.6zM690.8 408.3h4.6v2.1h-4.6zM696.7 408.3h2.6v2.1h-2.6zM702.7 408.3h2.6v2.1h-2.6zM706.7 408.3h4.6v2.1h-4.6zM541.2 409.8h4.6v2.1h-4.6zM549.2 409.8h2.6v2.1h-2.6zM555.2 409.8h6.6v2.1h-6.6zM563.1 409.8h2.6v2.1h-2.6zM573.1 409.8h4.6v2.1h-4.6zM583.1 409.8h2.6v2.1h-2.6zM595 409.8h6.6v2.1h-6.6zM603 409.8h8.6v2.1h-8.6zM623 409.8h4.6v2.1h-4.6zM628.9 409.8h4.6v2.1h-4.6zM642.9 409.8h4.6v2.1h-4.6zM648.9 409.8h10.6v2.1h-10.6zM662.8 409.8h2.6v2.1h-2.6zM666.8 409.8h2.6v2.1h-2.6zM672.8 409.8h8.6v2.1h-8.6zM682.8 409.8h2.6v2.1h-2.6zM686.8 409.8h2.6v2.1h-2.6zM690.8 409.8h4.6v2.1h-4.6zM696.7 409.8h2.6v2.1h-2.6zM702.7 409.8h2.6v2.1h-2.6zM706.7 409.8h4.6v2.1h-4.6zM541.2 411.3h4.6v2.1h-4.6zM549.2 411.3h2.6v2.1h-2.6zM555.2 411.3h6.6v2.1h-6.6zM563.1 411.3h2.6v2.1h-2.6zM573.1 411.3h4.6v2.1h-4.6zM583.1 411.3h2.6v2.1h-2.6zM595 411.3h6.6v2.1h-6.6zM603 411.3h8.6v2.1h-8.6zM623 411.3h4.6v2.1h-4.6zM628.9 411.3h4.6v2.1h-4.6zM642.9 411.3h4.6v2.1h-4.6zM648.9 411.3h4.6v2.1h-4.6zM656.9 411.3h2.6v2.1h-2.6zM662.8 411.3h2.6v2.1h-2.6zM666.8 411.3h2.6v2.1h-2.6zM672.8 411.3h8.6v2.1h-8.6zM682.8 411.3h2.6v2.1h-2.6zM686.8 411.3h2.6v2.1h-2.6zM690.8 411.3h8.6v2.1h-8.6zM702.7 411.3h2.6v2.1h-2.6zM706.7 411.3h4.6v2.1h-4.6zM541.2 412.8h4.6v2.1h-4.6zM549.2 412.8h2.6v2.1h-2.6zM555.2 412.8h6.6v2.1h-6.6zM563.1 412.8h2.6v2.1h-2.6zM573.1 412.8h4.6v2.1h-4.6zM583.1 412.8h2.6v2.1h-2.6zM595 412.8h6.6v2.1h-6.6zM603 412.8h8.6v2.1h-8.6zM623 412.8h4.6v2.1h-4.6zM628.9 412.8h4.6v2.1h-4.6zM642.9 412.8h10.6v2.1h-10.6zM654.9 412.8h4.6v2.1h-4.6zM672.8 412.8h8.6v2.1h-8.6zM682.8 412.8h2.6v2.1h-2.6zM686.8 412.8h2.6v2.1h-2.6zM690.8 412.8h2.6v2.1h-2.6zM696.7 412.8h2.6v2.1h-2.6zM702.7 412.8h2.6v2.1h-2.6zM706.7 412.8h4.6v2.1h-4.6zM541.2 414.2h4.6v2.1h-4.6zM549.2 414.2h2.6v2.1h-2.6zM555.2 414.2h4.6v2.1h-4.6zM561.1 414.2h4.6v2.1h-4.6zM573.1 414.2h4.6v2.1h-4.6zM583.1 414.2h2.6v2.1h-2.6zM595 414.2h6.6v2.1h-6.6zM603 414.2h8.6v2.1h-8.6zM623 414.2h4.6v2.1h-4.6zM628.9 414.2h4.6v2.1h-4.6zM642.9 414.2h4.6v2.1h-4.6zM648.9 414.2h4.6v2.1h-4.6zM654.9 414.2h4.6v2.1h-4.6zM662.8 414.2h2.6v2.1h-2.6zM672.8 414.2h8.6v2.1h-8.6zM682.8 414.2h2.6v2.1h-2.6zM686.8 414.2h2.6v2.1h-2.6zM690.8 414.2h4.6v2.1h-4.6zM696.7 414.2h2.6v2.1h-2.6zM702.7 414.2h8.6v2.1h-8.6zM543.2 415.7h2.6v2.1h-2.6zM547.2 415.7h4.6v2.1h-4.6zM555.2 415.7h2.6v2.1h-2.6zM575.1 415.7h2.6v2.1h-2.6zM583.1 415.7h2.6v2.1h-2.6zM623 415.7h4.6v2.1h-4.6zM628.9 415.7h4.6v2.1h-4.6zM642.9 415.7h4.6v2.1h-4.6zM648.9 415.7h2.6v2.1h-2.6zM654.9 415.7h4.6v2.1h-4.6zM662.8 415.7h2.6v2.1h-2.6zM666.8 415.7h2.6v2.1h-2.6zM672.8 415.7h6.6v2.1h-6.6zM702.7 415.7h2.6v2.1h-2.6zM541.2 417.2h4.6v2.1h-4.6zM549.2 417.2h2.6v2.1h-2.6zM555.2 417.2h6.6v2.1h-6.6zM563.1 417.2h2.6v2.1h-2.6zM573.1 417.2h4.6v2.1h-4.6zM583.1 417.2h2.6v2.1h-2.6zM595 417.2h2.6v2.1h-2.6zM599 417.2h2.6v2.1h-2.6zM603 417.2h4.6v2.1h-4.6zM609 417.2h2.6v2.1h-2.6zM623 417.2h4.6v2.1h-4.6zM628.9 417.2h4.6v2.1h-4.6zM644.9 417.2h2.6v2.1h-2.6zM648.9 417.2h4.6v2.1h-4.6zM654.9 417.2h4.6v2.1h-4.6zM662.8 417.2h2.6v2.1h-2.6zM666.8 417.2h2.6v2.1h-2.6zM670.8 417.2h2.6v2.1h-2.6zM674.8 417.2h6.6v2.1h-6.6zM686.8 417.2h2.6v2.1h-2.6zM690.8 417.2h4.6v2.1h-4.6zM696.7 417.2h2.6v2.1h-2.6zM706.7 417.2h4.6v2.1h-4.6zM541.2 418.7h4.6v2.1h-4.6zM549.2 418.7h4.6v2.1h-4.6zM555.2 418.7h8.6v2.1h-8.6zM573.1 418.7h4.6v2.1h-4.6zM583.1 418.7h2.6v2.1h-2.6zM595 418.7h6.6v2.1h-6.6zM605 418.7h2.6v2.1h-2.6zM609 418.7h2.6v2.1h-2.6zM623 418.7h4.6v2.1h-4.6zM628.9 418.7h4.6v2.1h-4.6zM642.9 418.7h4.6v2.1h-4.6zM648.9 418.7h4.6v2.1h-4.6zM656.9 418.7h2.6v2.1h-2.6zM662.8 418.7h2.6v2.1h-2.6zM672.8 418.7h8.6v2.1h-8.6zM682.8 418.7h2.6v2.1h-2.6zM686.8 418.7h2.6v2.1h-2.6zM690.8 418.7h2.6v2.1h-2.6zM696.7 418.7h2.6v2.1h-2.6zM702.7 418.7h8.6v2.1h-8.6zM541.2 420.2h6.6v2.1h-6.6zM549.2 420.2h2.6v2.1h-2.6zM555.2 420.2h10.6v2.1h-10.6zM573.1 420.2h4.6v2.1h-4.6zM583.1 420.2h2.6v2.1h-2.6zM595 420.2h6.6v2.1h-6.6zM603 420.2h6.6v2.1h-6.6zM625 420.2h2.6v2.1h-2.6zM628.9 420.2h4.6v2.1h-4.6zM644.9 420.2h2.6v2.1h-2.6zM648.9 420.2h4.6v2.1h-4.6zM654.9 420.2h4.6v2.1h-4.6zM662.8 420.2h2.6v2.1h-2.6zM666.8 420.2h2.6v2.1h-2.6zM674.8 420.2h4.6v2.1h-4.6zM682.8 420.2h2.6v2.1h-2.6zM686.8 420.2h2.6v2.1h-2.6zM690.8 420.2h4.6v2.1h-4.6zM696.7 420.2h2.6v2.1h-2.6zM702.7 420.2h2.6v2.1h-2.6zM706.7 420.2h4.6v2.1h-4.6zM541.2 421.7h2.6v2.1h-2.6zM549.2 421.7h2.6v2.1h-2.6zM555.2 421.7h6.6v2.1h-6.6zM563.1 421.7h2.6v2.1h-2.6zM573.1 421.7h4.6v2.1h-4.6zM583.1 421.7h2.6v2.1h-2.6zM595 421.7h6.6v2.1h-6.6zM603 421.7h2.6v2.1h-2.6zM607 421.7h4.6v2.1h-4.6zM623 421.7h4.6v2.1h-4.6zM628.9 421.7h2.6v2.1h-2.6zM642.9 421.7h2.6v2.1h-2.6zM648.9 421.7h4.6v2.1h-4.6zM656.9 421.7h2.6v2.1h-2.6zM662.8 421.7h2.6v2.1h-2.6zM666.8 421.7h2.6v2.1h-2.6zM672.8 421.7h12.6v2.1h-12.6zM686.8 421.7h2.6v2.1h-2.6zM696.7 421.7h2.6v2.1h-2.6zM702.7 421.7h8.6v2.1h-8.6zM541.2 423.2h4.6v2.1h-4.6zM549.2 423.2h2.6v2.1h-2.6zM583.1 423.2h2.6v2.1h-2.6zM642.9 423.2h4.6v2.1h-4.6zM648.9 423.2h4.6v2.1h-4.6zM654.9 423.2h4.6v2.1h-4.6zM664.8 423.2h4.6v2.1h-4.6zM672.8 423.2h8.6v2.1h-8.6zM682.8 423.2h2.6v2.1h-2.6zM686.8 423.2h2.6v2.1h-2.6zM702.7 423.2h2.6v2.1h-2.6zM706.7 423.2h4.6v2.1h-4.6zM541.2 424.7h4.6v2.1h-4.6zM549.2 424.7h2.6v2.1h-2.6zM559.1 424.7h2.6v2.1h-2.6zM563.1 424.7h2.6v2.1h-2.6zM573.1 424.7h4.6v2.1h-4.6zM583.1 424.7h2.6v2.1h-2.6zM595 424.7h4.6v2.1h-4.6zM603 424.7h8.6v2.1h-8.6zM623 424.7h4.6v2.1h-4.6zM628.9 424.7h4.6v2.1h-4.6zM642.9 424.7h4.6v2.1h-4.6zM648.9 424.7h4.6v2.1h-4.6zM654.9 424.7h4.6v2.1h-4.6zM666.8 424.7h2.6v2.1h-2.6zM672.8 424.7h4.6v2.1h-4.6zM678.8 424.7h2.6v2.1h-2.6zM686.8 424.7h2.6v2.1h-2.6zM690.8 424.7h4.6v2.1h-4.6zM541.2 426.2h2.6v2.1h-2.6zM549.2 426.2h2.6v2.1h-2.6zM555.2 426.2h2.6v2.1h-2.6zM559.1 426.2h2.6v2.1h-2.6zM563.1 426.2h2.6v2.1h-2.6zM573.1 426.2h4.6v2.1h-4.6zM583.1 426.2h2.6v2.1h-2.6zM595 426.2h4.6v2.1h-4.6zM603 426.2h8.6v2.1h-8.6zM623 426.2h10.6v2.1h-10.6zM642.9 426.2h4.6v2.1h-4.6zM654.9 426.2h4.6v2.1h-4.6zM662.8 426.2h2.6v2.1h-2.6zM666.8 426.2h2.6v2.1h-2.6zM672.8 426.2h2.6v2.1h-2.6zM676.8 426.2h4.6v2.1h-4.6zM682.8 426.2h2.6v2.1h-2.6zM686.8 426.2h2.6v2.1h-2.6zM690.8 426.2h4.6v2.1h-4.6zM696.7 426.2h2.6v2.1h-2.6zM706.7 426.2h4.6v2.1h-4.6zM543.2 427.7h2.6v2.1h-2.6zM549.2 427.7h2.6v2.1h-2.6zM555.2 427.7h2.6v2.1h-2.6zM559.1 427.7h2.6v2.1h-2.6zM563.1 427.7h2.6v2.1h-2.6zM573.1 427.7h4.6v2.1h-4.6zM583.1 427.7h2.6v2.1h-2.6zM595 427.7h6.6v2.1h-6.6zM603 427.7h2.6v2.1h-2.6zM607 427.7h4.6v2.1h-4.6zM623 427.7h4.6v2.1h-4.6zM628.9 427.7h4.6v2.1h-4.6zM642.9 427.7h4.6v2.1h-4.6zM648.9 427.7h4.6v2.1h-4.6zM654.9 427.7h2.6v2.1h-2.6zM662.8 427.7h2.6v2.1h-2.6zM666.8 427.7h2.6v2.1h-2.6zM672.8 427.7h2.6v2.1h-2.6zM676.8 427.7h4.6v2.1h-4.6zM682.8 427.7h2.6v2.1h-2.6zM690.8 427.7h4.6v2.1h-4.6zM696.7 427.7h2.6v2.1h-2.6zM702.7 427.7h2.6v2.1h-2.6zM706.7 427.7h4.6v2.1h-4.6zM541.2 429.2h4.6v2.1h-4.6zM549.2 429.2h2.6v2.1h-2.6zM555.2 429.2h2.6v2.1h-2.6zM559.1 429.2h2.6v2.1h-2.6zM573.1 429.2h4.6v2.1h-4.6zM583.1 429.2h2.6v2.1h-2.6zM595 429.2h2.6v2.1h-2.6zM603 429.2h2.6v2.1h-2.6zM607 429.2h2.6v2.1h-2.6zM623 429.2h4.6v2.1h-4.6zM630.9 429.2h2.6v2.1h-2.6zM648.9 429.2h4.6v2.1h-4.6zM654.9 429.2h4.6v2.1h-4.6zM662.8 429.2h2.6v2.1h-2.6zM672.8 429.2h2.6v2.1h-2.6zM676.8 429.2h2.6v2.1h-2.6zM682.8 429.2h2.6v2.1h-2.6zM690.8 429.2h4.6v2.1h-4.6zM541.2 430.7h4.6v2.1h-4.6zM549.2 430.7h4.6v2.1h-4.6zM557.2 430.7h4.6v2.1h-4.6zM563.1 430.7h2.6v2.1h-2.6zM573.1 430.7h2.6v2.1h-2.6zM595 430.7h6.6v2.1h-6.6zM603 430.7h8.6v2.1h-8.6zM623 430.7h2.6v2.1h-2.6zM628.9 430.7h4.6v2.1h-4.6zM642.9 430.7h4.6v2.1h-4.6zM648.9 430.7h4.6v2.1h-4.6zM654.9 430.7h2.6v2.1h-2.6zM672.8 430.7h2.6v2.1h-2.6zM676.8 430.7h2.6v2.1h-2.6zM682.8 430.7h6.6v2.1h-6.6zM690.8 430.7h4.6v2.1h-4.6zM696.7 430.7h2.6v2.1h-2.6zM702.7 430.7h2.6v2.1h-2.6zM706.7 430.7h4.6v2.1h-4.6zM541.2 432.2h4.6v2.1h-4.6zM555.2 432.2h2.6v2.1h-2.6zM575.1 432.2h2.6v2.1h-2.6zM595 432.2h4.6v2.1h-4.6zM605 432.2h6.6v2.1h-6.6zM623 432.2h4.6v2.1h-4.6zM628.9 432.2h2.6v2.1h-2.6zM644.9 432.2h2.6v2.1h-2.6zM648.9 432.2h10.6v2.1h-10.6zM666.8 432.2h2.6v2.1h-2.6zM672.8 432.2h2.6v2.1h-2.6zM676.8 432.2h8.6v2.1h-8.6zM686.8 432.2h2.6v2.1h-2.6zM706.7 432.2h2.6v2.1h-2.6zM543.2 433.7h2.6v2.1h-2.6zM549.2 433.7h2.6v2.1h-2.6zM557.2 433.7h2.6v2.1h-2.6zM561.1 433.7h4.6v2.1h-4.6zM573.1 433.7h4.6v2.1h-4.6zM583.1 433.7h2.6v2.1h-2.6zM595 433.7h4.6v2.1h-4.6zM605 433.7h6.6v2.1h-6.6zM625 433.7h8.6v2.1h-8.6zM644.9 433.7h2.6v2.1h-2.6zM648.9 433.7h4.6v2.1h-4.6zM656.9 433.7h2.6v2.1h-2.6zM662.8 433.7h2.6v2.1h-2.6zM666.8 433.7h2.6v2.1h-2.6zM672.8 433.7h4.6v2.1h-4.6zM678.8 433.7h2.6v2.1h-2.6zM684.8 433.7h2.6v2.1h-2.6zM692.8 433.7h2.6v2.1h-2.6zM696.7 433.7h2.6v2.1h-2.6zM702.7 433.7h2.6v2.1h-2.6zM706.7 433.7h4.6v2.1h-4.6zM543.2 435.2h4.6v2.1h-4.6zM549.2 435.2h2.6v2.1h-2.6zM557.2 435.2h4.6v2.1h-4.6zM563.1 435.2h2.6v2.1h-2.6zM575.1 435.2h2.6v2.1h-2.6zM583.1 435.2h2.6v2.1h-2.6zM623 435.2h2.6v2.1h-2.6zM630.9 435.2h2.6v2.1h-2.6zM642.9 435.2h4.6v2.1h-4.6zM650.9 435.2h2.6v2.1h-2.6zM654.9 435.2h4.6v2.1h-4.6zM696.7 435.2h2.6v2.1h-2.6zM702.7 435.2h2.6v2.1h-2.6zM706.7 435.2h4.6v2.1h-4.6zM541.2 436.7h4.6v2.1h-4.6zM549.2 436.7h2.6v2.1h-2.6zM559.1 436.7h2.6v2.1h-2.6zM563.1 436.7h2.6v2.1h-2.6zM573.1 436.7h2.6v2.1h-2.6zM583.1 436.7h2.6v2.1h-2.6zM597 436.7h2.6v2.1h-2.6zM603 436.7h8.6v2.1h-8.6zM623 436.7h2.6v2.1h-2.6zM628.9 436.7h2.6v2.1h-2.6zM650.9 436.7h2.6v2.1h-2.6zM656.9 436.7h2.6v2.1h-2.6zM660.8 436.7h4.6v2.1h-4.6zM666.8 436.7h2.6v2.1h-2.6zM678.8 436.7h2.6v2.1h-2.6zM684.8 436.7h4.6v2.1h-4.6zM696.7 436.7h2.6v2.1h-2.6zM702.7 436.7h2.6v2.1h-2.6zM706.7 436.7h4.6v2.1h-4.6zM541.2 438.1h4.6v2.1h-4.6zM555.2 438.1h6.6v2.1h-6.6zM563.1 438.1h2.6v2.1h-2.6zM575.1 438.1h2.6v2.1h-2.6zM583.1 438.1h2.6v2.1h-2.6zM599 438.1h2.6v2.1h-2.6zM607 438.1h4.6v2.1h-4.6zM623 438.1h2.6v2.1h-2.6zM628.9 438.1h4.6v2.1h-4.6zM644.9 438.1h4.6v2.1h-4.6zM654.9 438.1h2.6v2.1h-2.6zM662.8 438.1h2.6v2.1h-2.6zM666.8 438.1h2.6v2.1h-2.6zM676.8 438.1h4.6v2.1h-4.6zM682.8 438.1h2.6v2.1h-2.6zM690.8 438.1h4.6v2.1h-4.6zM696.7 438.1h2.6v2.1h-2.6zM704.7 438.1h2.6v2.1h-2.6zM708.7 438.1h2.6v2.1h-2.6zM541.2 439.6h2.6v2.1h-2.6zM555.2 439.6h2.6v2.1h-2.6zM573.1 439.6h2.6v2.1h-2.6zM583.1 439.6h2.6v2.1h-2.6zM599 439.6h4.6v2.1h-4.6zM605 439.6h2.6v2.1h-2.6zM623 439.6h2.6v2.1h-2.6zM626.9 439.6h6.6v2.1h-6.6zM642.9 439.6h10.6v2.1h-10.6zM666.8 439.6h2.6v2.1h-2.6zM670.8 439.6h2.6v2.1h-2.6zM680.8 439.6h4.6v2.1h-4.6zM706.7 439.6h4.6v2.1h-4.6zM541.2 441.1h4.6v2.1h-4.6zM551.2 441.1h8.6v2.1h-8.6zM575.1 441.1h2.6v2.1h-2.6zM628.9 441.1h2.6v2.1h-2.6zM654.9 441.1h2.6v2.1h-2.6zM672.8 441.1h8.6v2.1h-8.6zM682.8 441.1h2.6v2.1h-2.6zM690.8 441.1h2.6v2.1h-2.6zM698.7 441.1h2.6v2.1h-2.6zM702.7 441.1h2.6v2.1h-2.6zM708.7 441.1h2.6v2.1h-2.6zM541.2 442.6h2.6v2.1h-2.6zM551.2 442.6h2.6v2.1h-2.6zM555.2 442.6h2.6v2.1h-2.6zM559.1 442.6h2.6v2.1h-2.6zM571.1 442.6h2.6v2.1h-2.6zM583.1 442.6h2.6v2.1h-2.6zM595 442.6h4.6v2.1h-4.6zM605 442.6h2.6v2.1h-2.6zM609 442.6h2.6v2.1h-2.6zM623 442.6h2.6v2.1h-2.6zM630.9 442.6h2.6v2.1h-2.6zM644.9 442.6h4.6v2.1h-4.6zM654.9 442.6h4.6v2.1h-4.6zM666.8 442.6h2.6v2.1h-2.6zM672.8 442.6h6.6v2.1h-6.6zM682.8 442.6h2.6v2.1h-2.6zM686.8 442.6h2.6v2.1h-2.6zM694.7 442.6h6.6v2.1h-6.6zM702.7 442.6h2.6v2.1h-2.6zM706.7 442.6h4.6v2.1h-4.6zM541.2 444.1h2.6v2.1h-2.6zM545.2 444.1h2.6v2.1h-2.6zM555.2 444.1h6.6v2.1h-6.6zM575.1 444.1h2.6v2.1h-2.6zM583.1 444.1h2.6v2.1h-2.6zM595 444.1h4.6v2.1h-4.6zM603 444.1h4.6v2.1h-4.6zM623 444.1h2.6v2.1h-2.6zM642.9 444.1h4.6v2.1h-4.6zM650.9 444.1h2.6v2.1h-2.6zM654.9 444.1h4.6v2.1h-4.6zM660.8 444.1h2.6v2.1h-2.6zM674.8 444.1h2.6v2.1h-2.6zM678.8 444.1h2.6v2.1h-2.6zM682.8 444.1h2.6v2.1h-2.6zM686.8 444.1h2.6v2.1h-2.6zM696.7 444.1h2.6v2.1h-2.6zM541.2 445.6h2.6v2.1h-2.6zM551.2 445.6h2.6v2.1h-2.6zM555.2 445.6h4.6v2.1h-4.6zM573.1 445.6h4.6v2.1h-4.6zM599 445.6h2.6v2.1h-2.6zM603 445.6h6.6v2.1h-6.6zM625 445.6h8.6v2.1h-8.6zM644.9 445.6h6.6v2.1h-6.6zM662.8 445.6h2.6v2.1h-2.6zM672.8 445.6h2.6v2.1h-2.6zM676.8 445.6h4.6v2.1h-4.6zM686.8 445.6h2.6v2.1h-2.6zM690.8 445.6h2.6v2.1h-2.6zM696.7 445.6h2.6v2.1h-2.6zM702.7 445.6h2.6v2.1h-2.6zM706.7 445.6h2.6v2.1h-2.6zM547.2 447.1h4.6v2.1h-4.6zM573.1 447.1h4.6v2.1h-4.6zM646.9 447.1h6.6v2.1h-6.6zM654.9 447.1h4.6v2.1h-4.6zM676.8 447.1h2.6v2.1h-2.6zM682.8 447.1h2.6v2.1h-2.6zM686.8 447.1h2.6v2.1h-2.6zM702.7 447.1h2.6v2.1h-2.6zM541.2 448.6h2.6v2.1h-2.6zM545.2 448.6h4.6v2.1h-4.6zM555.2 448.6h4.6v2.1h-4.6zM583.1 448.6h2.6v2.1h-2.6zM601 448.6h4.6v2.1h-4.6zM607 448.6h2.6v2.1h-2.6zM625 448.6h4.6v2.1h-4.6zM630.9 448.6h2.6v2.1h-2.6zM652.9 448.6h2.6v2.1h-2.6zM662.8 448.6h2.6v2.1h-2.6zM668.8 448.6h4.6v2.1h-4.6zM676.8 448.6h4.6v2.1h-4.6zM682.8 448.6h2.6v2.1h-2.6zM686.8 448.6h2.6v2.1h-2.6zM553.2 450.1h4.6v2.1h-4.6zM563.1 450.1h2.6v2.1h-2.6zM575.1 450.1h2.6v2.1h-2.6zM583.1 450.1h2.6v2.1h-2.6zM595 450.1h2.6v2.1h-2.6zM623 450.1h8.6v2.1h-8.6zM654.9 450.1h2.6v2.1h-2.6zM660.8 450.1h6.6v2.1h-6.6zM670.8 450.1h2.6v2.1h-2.6zM674.8 450.1h4.6v2.1h-4.6zM680.8 450.1h2.6v2.1h-2.6zM686.8 450.1h2.6v2.1h-2.6zM692.8 450.1h2.6v2.1h-2.6zM702.7 450.1h2.6v2.1h-2.6zM706.7 450.1h2.6v2.1h-2.6zM543.2 451.6h2.6v2.1h-2.6zM555.2 451.6h2.6v2.1h-2.6zM559.1 451.6h2.6v2.1h-2.6zM563.1 451.6h2.6v2.1h-2.6zM571.1 451.6h2.6v2.1h-2.6zM595 451.6h6.6v2.1h-6.6zM623 451.6h8.6v2.1h-8.6zM642.9 451.6h2.6v2.1h-2.6zM646.9 451.6h2.6v2.1h-2.6zM656.9 451.6h2.6v2.1h-2.6zM666.8 451.6h2.6v2.1h-2.6zM676.8 451.6h2.6v2.1h-2.6zM682.8 451.6h2.6v2.1h-2.6zM690.8 451.6h2.6v2.1h-2.6zM698.7 451.6h2.6v2.1h-2.6zM706.7 451.6h4.6v2.1h-4.6zM547.2 453.1h6.6v2.1h-6.6zM557.2 453.1h2.6v2.1h-2.6zM603 453.1h8.6v2.1h-8.6zM628.9 453.1h2.6v2.1h-2.6zM644.9 453.1h2.6v2.1h-2.6zM650.9 453.1h2.6v2.1h-2.6zM678.8 453.1h2.6v2.1h-2.6zM696.7 453.1h4.6v2.1h-4.6zM704.7 453.1h4.6v2.1h-4.6zM541.2 454.6h4.6v2.1h-4.6zM547.2 454.6h2.6v2.1h-2.6zM551.2 454.6h2.6v2.1h-2.6zM555.2 454.6h4.6v2.1h-4.6zM561.1 454.6h2.6v2.1h-2.6zM571.1 454.6h6.6v2.1h-6.6zM601 454.6h2.6v2.1h-2.6zM607 454.6h4.6v2.1h-4.6zM625 454.6h4.6v2.1h-4.6zM642.9 454.6h4.6v2.1h-4.6zM648.9 454.6h2.6v2.1h-2.6zM660.8 454.6h2.6v2.1h-2.6zM666.8 454.6h10.6v2.1h-10.6zM682.8 454.6h2.6v2.1h-2.6zM692.8 454.6h4.6v2.1h-4.6zM698.7 454.6h2.6v2.1h-2.6zM702.7 454.6h4.6v2.1h-4.6zM543.2 456.1h4.6v2.1h-4.6zM549.2 456.1h2.6v2.1h-2.6zM650.9 456.1h4.6v2.1h-4.6zM660.8 456.1h2.6v2.1h-2.6zM684.8 456.1h2.6v2.1h-2.6zM551.2 457.6h4.6v2.1h-4.6zM652.9 457.6h2.6v2.1h-2.6zM694.7 457.6h2.6v2.1h-2.6zM547.2 459.1h2.6v2.1h-2.6zM553.2 459.1h2.6v2.1h-2.6zM561.1 459.1h2.6v2.1h-2.6zM652.9 459.1h2.6v2.1h-2.6zM660.8 459.1h2.6v2.1h-2.6zM668.8 459.1h2.6v2.1h-2.6zM698.7 459.1h2.6v2.1h-2.6zM547.2 460.5h2.6v2.1h-2.6zM561.1 460.5h2.6v2.1h-2.6zM571.1 460.5h2.6v2.1h-2.6zM601 460.5h2.6v2.1h-2.6zM652.9 460.5h2.6v2.1h-2.6zM660.8 460.5h2.6v2.1h-2.6zM664.8 460.5h2.6v2.1h-2.6zM668.8 460.5h4.6v2.1h-4.6zM680.8 460.5h2.6v2.1h-2.6zM698.7 460.5h2.6v2.1h-2.6zM545.2 462h4.6v2.1h-4.6zM551.2 462h2.6v2.1h-2.6zM660.8 462h2.6v2.1h-2.6zM664.8 462h2.6v2.1h-2.6zM668.8 462h4.6v2.1h-4.6zM684.8 462h2.6v2.1h-2.6zM694.7 462h2.6v2.1h-2.6zM704.7 462h2.6v2.1h-2.6zM547.2 463.5h2.6v2.1h-2.6zM551.2 463.5h4.6v2.1h-4.6zM571.1 463.5h2.6v2.1h-2.6zM601 463.5h2.6v2.1h-2.6zM626.9 463.5h2.6v2.1h-2.6zM660.8 463.5h2.6v2.1h-2.6zM664.8 463.5h2.6v2.1h-2.6zM668.8 463.5h4.6v2.1h-4.6zM694.7 463.5h2.6v2.1h-2.6zM698.7 463.5h2.6v2.1h-2.6zM704.7 463.5h2.6v2.1h-2.6zM545.2 465h4.6v2.1h-4.6zM553.2 465h2.6v2.1h-2.6zM571.1 465h2.6v2.1h-2.6zM601 465h2.6v2.1h-2.6zM626.9 465h2.6v2.1h-2.6zM680.8 465h2.6v2.1h-2.6zM684.8 465h2.6v2.1h-2.6zM704.7 465h2.6v2.1h-2.6zM626.9 466.5h2.6v2.1h-2.6zM652.9 466.5h2.6v2.1h-2.6zM660.8 466.5h2.6v2.1h-2.6zM664.8 466.5h2.6v2.1h-2.6zM668.8 466.5h4.6v2.1h-4.6zM698.7 466.5h2.6v2.1h-2.6zM704.7 466.5h2.6v2.1h-2.6zM626.9 468h2.6v2.1h-2.6zM646.9 468h2.6v2.1h-2.6zM660.8 468h2.6v2.1h-2.6zM670.8 468h2.6v2.1h-2.6zM680.8 468h2.6v2.1h-2.6zM684.8 468h2.6v2.1h-2.6zM698.7 468h2.6v2.1h-2.6zM553.2 469.5h2.6v2.1h-2.6zM561.1 469.5h2.6v2.1h-2.6zM571.1 469.5h2.6v2.1h-2.6zM601 469.5h2.6v2.1h-2.6zM646.9 469.5h2.6v2.1h-2.6zM652.9 469.5h2.6v2.1h-2.6zM660.8 469.5h2.6v2.1h-2.6zM668.8 469.5h4.6v2.1h-4.6zM680.8 469.5h2.6v2.1h-2.6zM704.7 469.5h2.6v2.1h-2.6zM545.2 471h2.6v2.1h-2.6zM553.2 471h2.6v2.1h-2.6zM561.1 471h2.6v2.1h-2.6zM571.1 471h2.6v2.1h-2.6zM626.9 471h2.6v2.1h-2.6zM646.9 471h2.6v2.1h-2.6zM652.9 471h2.6v2.1h-2.6zM660.8 471h2.6v2.1h-2.6zM664.8 471h2.6v2.1h-2.6zM670.8 471h2.6v2.1h-2.6zM680.8 471h2.6v2.1h-2.6zM694.7 471h2.6v2.1h-2.6zM547.2 472.5h2.6v2.1h-2.6zM561.1 472.5h2.6v2.1h-2.6zM571.1 472.5h2.6v2.1h-2.6zM601 472.5h2.6v2.1h-2.6zM652.9 472.5h2.6v2.1h-2.6zM680.8 472.5h2.6v2.1h-2.6zM684.8 472.5h2.6v2.1h-2.6zM698.7 472.5h2.6v2.1h-2.6zM704.7 472.5h2.6v2.1h-2.6zM545.2 474h4.6v2.1h-4.6zM551.2 474h4.6v2.1h-4.6zM561.1 474h2.6v2.1h-2.6zM571.1 474h2.6v2.1h-2.6zM601 474h2.6v2.1h-2.6zM646.9 474h2.6v2.1h-2.6zM652.9 474h2.6v2.1h-2.6zM660.8 474h2.6v2.1h-2.6zM664.8 474h2.6v2.1h-2.6zM668.8 474h4.6v2.1h-4.6zM694.7 474h2.6v2.1h-2.6zM704.7 474h2.6v2.1h-2.6zM545.2 475.5h2.6v2.1h-2.6zM553.2 475.5h2.6v2.1h-2.6zM571.1 475.5h2.6v2.1h-2.6zM626.9 475.5h2.6v2.1h-2.6zM646.9 475.5h2.6v2.1h-2.6zM660.8 475.5h2.6v2.1h-2.6zM680.8 475.5h2.6v2.1h-2.6zM684.8 475.5h2.6v2.1h-2.6zM704.7 475.5h2.6v2.1h-2.6zM547.2 477h2.6v2.1h-2.6zM551.2 477h4.6v2.1h-4.6zM561.1 477h2.6v2.1h-2.6zM571.1 477h2.6v2.1h-2.6zM601 477h2.6v2.1h-2.6zM652.9 477h2.6v2.1h-2.6zM660.8 477h2.6v2.1h-2.6zM670.8 477h2.6v2.1h-2.6zM680.8 477h2.6v2.1h-2.6zM684.8 477h2.6v2.1h-2.6zM694.7 477h2.6v2.1h-2.6zM561.1 478.5h2.6v2.1h-2.6zM571.1 478.5h2.6v2.1h-2.6zM601 478.5h2.6v2.1h-2.6zM626.9 478.5h2.6v2.1h-2.6zM646.9 478.5h2.6v2.1h-2.6zM664.8 478.5h2.6v2.1h-2.6zM680.8 478.5h2.6v2.1h-2.6zM684.8 478.5h2.6v2.1h-2.6zM694.7 478.5h2.6v2.1h-2.6zM698.7 478.5h2.6v2.1h-2.6zM704.7 478.5h2.6v2.1h-2.6zM547.2 480h2.6v2.1h-2.6zM553.2 480h2.6v2.1h-2.6zM561.1 480h2.6v2.1h-2.6zM601 480h2.6v2.1h-2.6zM626.9 480h2.6v2.1h-2.6zM646.9 480h2.6v2.1h-2.6zM652.9 480h2.6v2.1h-2.6zM660.8 480h2.6v2.1h-2.6zM664.8 480h2.6v2.1h-2.6zM668.8 480h2.6v2.1h-2.6zM698.7 480h2.6v2.1h-2.6zM545.2 481.5h4.6v2.1h-4.6zM551.2 481.5h4.6v2.1h-4.6zM561.1 481.5h2.6v2.1h-2.6zM571.1 481.5h2.6v2.1h-2.6zM601 481.5h2.6v2.1h-2.6zM646.9 481.5h2.6v2.1h-2.6zM660.8 481.5h2.6v2.1h-2.6zM694.7 481.5h2.6v2.1h-2.6zM704.7 481.5h2.6v2.1h-2.6zM545.2 483h2.6v2.1h-2.6zM551.2 483h4.6v2.1h-4.6zM561.1 483h2.6v2.1h-2.6zM601 483h2.6v2.1h-2.6zM626.9 483h2.6v2.1h-2.6zM646.9 483h2.6v2.1h-2.6zM652.9 483h2.6v2.1h-2.6zM660.8 483h2.6v2.1h-2.6zM668.8 483h2.6v2.1h-2.6zM680.8 483h2.6v2.1h-2.6zM694.7 483h2.6v2.1h-2.6zM698.7 483h2.6v2.1h-2.6zM704.7 483h2.6v2.1h-2.6zM545.2 484.4h4.6v2.1h-4.6zM551.2 484.4h2.6v2.1h-2.6zM561.1 484.4h2.6v2.1h-2.6zM571.1 484.4h2.6v2.1h-2.6zM601 484.4h2.6v2.1h-2.6zM626.9 484.4h2.6v2.1h-2.6zM646.9 484.4h2.6v2.1h-2.6zM660.8 484.4h2.6v2.1h-2.6zM664.8 484.4h2.6v2.1h-2.6zM668.8 484.4h4.6v2.1h-4.6zM680.8 484.4h2.6v2.1h-2.6zM684.8 484.4h2.6v2.1h-2.6zM694.7 484.4h2.6v2.1h-2.6zM698.7 484.4h2.6v2.1h-2.6zM704.7 484.4h2.6v2.1h-2.6zM545.2 485.9h4.6v2.1h-4.6zM553.2 485.9h2.6v2.1h-2.6zM561.1 485.9h2.6v2.1h-2.6zM571.1 485.9h2.6v2.1h-2.6zM601 485.9h2.6v2.1h-2.6zM626.9 485.9h2.6v2.1h-2.6zM646.9 485.9h2.6v2.1h-2.6zM652.9 485.9h2.6v2.1h-2.6zM660.8 485.9h2.6v2.1h-2.6zM668.8 485.9h4.6v2.1h-4.6zM680.8 485.9h2.6v2.1h-2.6zM684.8 485.9h2.6v2.1h-2.6zM698.7 485.9h2.6v2.1h-2.6zM704.7 485.9h2.6v2.1h-2.6zM545.2 487.4h4.6v2.1h-4.6zM551.2 487.4h4.6v2.1h-4.6zM561.1 487.4h2.6v2.1h-2.6zM571.1 487.4h2.6v2.1h-2.6zM601 487.4h2.6v2.1h-2.6zM626.9 487.4h2.6v2.1h-2.6zM646.9 487.4h2.6v2.1h-2.6zM652.9 487.4h2.6v2.1h-2.6zM660.8 487.4h2.6v2.1h-2.6zM664.8 487.4h2.6v2.1h-2.6zM668.8 487.4h4.6v2.1h-4.6zM680.8 487.4h2.6v2.1h-2.6zM684.8 487.4h2.6v2.1h-2.6zM698.7 487.4h2.6v2.1h-2.6zM704.7 487.4h2.6v2.1h-2.6zM545.2 488.9h4.6v2.1h-4.6zM551.2 488.9h4.6v2.1h-4.6zM626.9 488.9h2.6v2.1h-2.6zM646.9 488.9h2.6v2.1h-2.6zM652.9 488.9h2.6v2.1h-2.6zM660.8 488.9h2.6v2.1h-2.6zM664.8 488.9h2.6v2.1h-2.6zM668.8 488.9h4.6v2.1h-4.6zM680.8 488.9h2.6v2.1h-2.6zM684.8 488.9h2.6v2.1h-2.6zM551.2 490.4h4.6v2.1h-4.6zM561.1 490.4h2.6v2.1h-2.6zM571.1 490.4h2.6v2.1h-2.6zM601 490.4h2.6v2.1h-2.6zM626.9 490.4h2.6v2.1h-2.6zM652.9 490.4h2.6v2.1h-2.6zM664.8 490.4h2.6v2.1h-2.6zM668.8 490.4h4.6v2.1h-4.6zM680.8 490.4h2.6v2.1h-2.6zM684.8 490.4h2.6v2.1h-2.6zM694.7 490.4h2.6v2.1h-2.6zM698.7 490.4h2.6v2.1h-2.6zM704.7 490.4h2.6v2.1h-2.6zM545.2 491.9h4.6v2.1h-4.6zM551.2 491.9h4.6v2.1h-4.6zM561.1 491.9h2.6v2.1h-2.6zM601 491.9h2.6v2.1h-2.6zM646.9 491.9h2.6v2.1h-2.6zM652.9 491.9h2.6v2.1h-2.6zM660.8 491.9h2.6v2.1h-2.6zM664.8 491.9h2.6v2.1h-2.6zM668.8 491.9h2.6v2.1h-2.6zM680.8 491.9h2.6v2.1h-2.6zM694.7 491.9h2.6v2.1h-2.6zM698.7 491.9h2.6v2.1h-2.6zM704.7 491.9h2.6v2.1h-2.6zM545.2 493.4h4.6v2.1h-4.6zM553.2 493.4h2.6v2.1h-2.6zM561.1 493.4h2.6v2.1h-2.6zM571.1 493.4h2.6v2.1h-2.6zM601 493.4h2.6v2.1h-2.6zM646.9 493.4h2.6v2.1h-2.6zM652.9 493.4h2.6v2.1h-2.6zM660.8 493.4h2.6v2.1h-2.6zM664.8 493.4h2.6v2.1h-2.6zM670.8 493.4h2.6v2.1h-2.6zM680.8 493.4h2.6v2.1h-2.6zM684.8 493.4h2.6v2.1h-2.6zM694.7 493.4h2.6v2.1h-2.6zM698.7 493.4h2.6v2.1h-2.6zM704.7 493.4h2.6v2.1h-2.6zM545.2 494.9h4.6v2.1h-4.6zM551.2 494.9h4.6v2.1h-4.6zM561.1 494.9h2.6v2.1h-2.6zM571.1 494.9h2.6v2.1h-2.6zM601 494.9h2.6v2.1h-2.6zM626.9 494.9h2.6v2.1h-2.6zM646.9 494.9h2.6v2.1h-2.6zM660.8 494.9h2.6v2.1h-2.6zM664.8 494.9h2.6v2.1h-2.6zM668.8 494.9h4.6v2.1h-4.6zM680.8 494.9h2.6v2.1h-2.6zM684.8 494.9h2.6v2.1h-2.6zM698.7 494.9h2.6v2.1h-2.6zM545.2 496.4h4.6v2.1h-4.6zM551.2 496.4h4.6v2.1h-4.6zM561.1 496.4h2.6v2.1h-2.6zM571.1 496.4h2.6v2.1h-2.6zM601 496.4h2.6v2.1h-2.6zM626.9 496.4h2.6v2.1h-2.6zM646.9 496.4h2.6v2.1h-2.6zM664.8 496.4h2.6v2.1h-2.6zM668.8 496.4h4.6v2.1h-4.6zM680.8 496.4h2.6v2.1h-2.6zM684.8 496.4h2.6v2.1h-2.6zM694.7 496.4h2.6v2.1h-2.6zM698.7 496.4h2.6v2.1h-2.6zM704.7 496.4h2.6v2.1h-2.6zM545.2 497.9h4.6v2.1h-4.6zM551.2 497.9h4.6v2.1h-4.6zM561.1 497.9h2.6v2.1h-2.6zM571.1 497.9h2.6v2.1h-2.6zM601 497.9h2.6v2.1h-2.6zM626.9 497.9h2.6v2.1h-2.6zM646.9 497.9h2.6v2.1h-2.6zM652.9 497.9h2.6v2.1h-2.6zM660.8 497.9h2.6v2.1h-2.6zM668.8 497.9h4.6v2.1h-4.6zM684.8 497.9h2.6v2.1h-2.6zM694.7 497.9h2.6v2.1h-2.6zM698.7 497.9h2.6v2.1h-2.6zM545.2 499.4h4.6v2.1h-4.6zM551.2 499.4h4.6v2.1h-4.6zM561.1 499.4h2.6v2.1h-2.6zM571.1 499.4h2.6v2.1h-2.6zM601 499.4h2.6v2.1h-2.6zM626.9 499.4h2.6v2.1h-2.6zM660.8 499.4h2.6v2.1h-2.6zM680.8 499.4h2.6v2.1h-2.6zM684.8 499.4h2.6v2.1h-2.6zM694.7 499.4h2.6v2.1h-2.6zM698.7 499.4h2.6v2.1h-2.6zM704.7 499.4h2.6v2.1h-2.6zM545.2 500.9h2.6v2.1h-2.6zM551.2 500.9h2.6v2.1h-2.6zM571.1 500.9h2.6v2.1h-2.6zM601 500.9h2.6v2.1h-2.6zM626.9 500.9h2.6v2.1h-2.6zM646.9 500.9h2.6v2.1h-2.6zM660.8 500.9h2.6v2.1h-2.6zM664.8 500.9h2.6v2.1h-2.6zM670.8 500.9h2.6v2.1h-2.6zM680.8 500.9h2.6v2.1h-2.6zM684.8 500.9h2.6v2.1h-2.6zM694.7 500.9h2.6v2.1h-2.6zM698.7 500.9h2.6v2.1h-2.6zM704.7 500.9h2.6v2.1h-2.6zM547.2 502.4h2.6v2.1h-2.6zM551.2 502.4h4.6v2.1h-4.6zM561.1 502.4h2.6v2.1h-2.6zM571.1 502.4h2.6v2.1h-2.6zM626.9 502.4h2.6v2.1h-2.6zM646.9 502.4h2.6v2.1h-2.6zM652.9 502.4h2.6v2.1h-2.6zM660.8 502.4h2.6v2.1h-2.6zM664.8 502.4h2.6v2.1h-2.6zM668.8 502.4h4.6v2.1h-4.6zM680.8 502.4h2.6v2.1h-2.6zM684.8 502.4h2.6v2.1h-2.6zM694.7 502.4h2.6v2.1h-2.6zM698.7 502.4h2.6v2.1h-2.6zM545.2 503.9h4.6v2.1h-4.6zM551.2 503.9h4.6v2.1h-4.6zM561.1 503.9h2.6v2.1h-2.6zM571.1 503.9h2.6v2.1h-2.6zM601 503.9h2.6v2.1h-2.6zM646.9 503.9h2.6v2.1h-2.6zM660.8 503.9h2.6v2.1h-2.6zM680.8 503.9h2.6v2.1h-2.6zM684.8 503.9h2.6v2.1h-2.6zM694.7 503.9h2.6v2.1h-2.6zM698.7 503.9h2.6v2.1h-2.6zM545.2 505.4h2.6v2.1h-2.6zM551.2 505.4h4.6v2.1h-4.6zM561.1 505.4h2.6v2.1h-2.6zM571.1 505.4h2.6v2.1h-2.6zM601 505.4h2.6v2.1h-2.6zM626.9 505.4h2.6v2.1h-2.6zM646.9 505.4h2.6v2.1h-2.6zM652.9 505.4h2.6v2.1h-2.6zM660.8 505.4h2.6v2.1h-2.6zM670.8 505.4h2.6v2.1h-2.6zM680.8 505.4h2.6v2.1h-2.6zM684.8 505.4h2.6v2.1h-2.6zM694.7 505.4h2.6v2.1h-2.6zM698.7 505.4h2.6v2.1h-2.6zM704.7 505.4h2.6v2.1h-2.6zM545.2 506.8h4.6v2.1h-4.6zM551.2 506.8h4.6v2.1h-4.6zM561.1 506.8h2.6v2.1h-2.6zM571.1 506.8h2.6v2.1h-2.6zM601 506.8h2.6v2.1h-2.6zM626.9 506.8h2.6v2.1h-2.6zM646.9 506.8h2.6v2.1h-2.6zM652.9 506.8h2.6v2.1h-2.6zM660.8 506.8h2.6v2.1h-2.6zM668.8 506.8h4.6v2.1h-4.6zM680.8 506.8h2.6v2.1h-2.6zM684.8 506.8h2.6v2.1h-2.6zM694.7 506.8h2.6v2.1h-2.6zM698.7 506.8h2.6v2.1h-2.6zM704.7 506.8h2.6v2.1h-2.6zM545.2 508.3h2.6v2.1h-2.6zM553.2 508.3h2.6v2.1h-2.6zM626.9 508.3h2.6v2.1h-2.6zM652.9 508.3h2.6v2.1h-2.6zM660.8 508.3h2.6v2.1h-2.6zM664.8 508.3h2.6v2.1h-2.6zM668.8 508.3h4.6v2.1h-4.6zM680.8 508.3h2.6v2.1h-2.6zM684.8 508.3h2.6v2.1h-2.6zM545.2 509.8h4.6v2.1h-4.6zM551.2 509.8h4.6v2.1h-4.6zM561.1 509.8h2.6v2.1h-2.6zM571.1 509.8h2.6v2.1h-2.6zM601 509.8h2.6v2.1h-2.6zM626.9 509.8h2.6v2.1h-2.6zM646.9 509.8h2.6v2.1h-2.6zM652.9 509.8h2.6v2.1h-2.6zM660.8 509.8h2.6v2.1h-2.6zM664.8 509.8h2.6v2.1h-2.6zM668.8 509.8h4.6v2.1h-4.6zM680.8 509.8h2.6v2.1h-2.6zM694.7 509.8h2.6v2.1h-2.6zM698.7 509.8h2.6v2.1h-2.6zM704.7 509.8h2.6v2.1h-2.6zM547.2 511.3h2.6v2.1h-2.6zM551.2 511.3h2.6v2.1h-2.6zM561.1 511.3h2.6v2.1h-2.6zM571.1 511.3h2.6v2.1h-2.6zM601 511.3h2.6v2.1h-2.6zM626.9 511.3h2.6v2.1h-2.6zM664.8 511.3h2.6v2.1h-2.6zM668.8 511.3h4.6v2.1h-4.6zM680.8 511.3h2.6v2.1h-2.6zM684.8 511.3h2.6v2.1h-2.6zM694.7 511.3h2.6v2.1h-2.6zM545.2 512.8h4.6v2.1h-4.6zM553.2 512.8h2.6v2.1h-2.6zM561.1 512.8h2.6v2.1h-2.6zM571.1 512.8h2.6v2.1h-2.6zM601 512.8h2.6v2.1h-2.6zM626.9 512.8h2.6v2.1h-2.6zM646.9 512.8h2.6v2.1h-2.6zM652.9 512.8h2.6v2.1h-2.6zM660.8 512.8h2.6v2.1h-2.6zM664.8 512.8h2.6v2.1h-2.6zM668.8 512.8h4.6v2.1h-4.6zM680.8 512.8h2.6v2.1h-2.6zM684.8 512.8h2.6v2.1h-2.6zM694.7 512.8h2.6v2.1h-2.6zM698.7 512.8h2.6v2.1h-2.6zM704.7 512.8h2.6v2.1h-2.6zM545.2 514.3h4.6v2.1h-4.6zM551.2 514.3h4.6v2.1h-4.6zM561.1 514.3h2.6v2.1h-2.6zM601 514.3h2.6v2.1h-2.6zM626.9 514.3h2.6v2.1h-2.6zM646.9 514.3h2.6v2.1h-2.6zM652.9 514.3h2.6v2.1h-2.6zM660.8 514.3h2.6v2.1h-2.6zM664.8 514.3h2.6v2.1h-2.6zM668.8 514.3h4.6v2.1h-4.6zM684.8 514.3h2.6v2.1h-2.6zM694.7 514.3h2.6v2.1h-2.6zM698.7 514.3h2.6v2.1h-2.6zM704.7 514.3h2.6v2.1h-2.6zM571.1 515.8h2.6v2.1h-2.6zM646.9 515.8h2.6v2.1h-2.6zM652.9 515.8h2.6v2.1h-2.6zM660.8 515.8h2.6v2.1h-2.6zM547.2 517.3h2.6v2.1h-2.6zM551.2 517.3h4.6v2.1h-4.6zM561.1 517.3h2.6v2.1h-2.6zM571.1 517.3h2.6v2.1h-2.6zM601 517.3h2.6v2.1h-2.6zM626.9 517.3h2.6v2.1h-2.6zM652.9 517.3h2.6v2.1h-2.6zM660.8 517.3h2.6v2.1h-2.6zM664.8 517.3h2.6v2.1h-2.6zM668.8 517.3h4.6v2.1h-4.6zM680.8 517.3h2.6v2.1h-2.6zM684.8 517.3h2.6v2.1h-2.6zM694.7 517.3h2.6v2.1h-2.6zM698.7 517.3h2.6v2.1h-2.6zM704.7 517.3h2.6v2.1h-2.6zM545.2 518.8h4.6v2.1h-4.6zM551.2 518.8h4.6v2.1h-4.6zM561.1 518.8h2.6v2.1h-2.6zM571.1 518.8h2.6v2.1h-2.6zM601 518.8h2.6v2.1h-2.6zM626.9 518.8h2.6v2.1h-2.6zM646.9 518.8h2.6v2.1h-2.6zM652.9 518.8h2.6v2.1h-2.6zM660.8 518.8h2.6v2.1h-2.6zM664.8 518.8h2.6v2.1h-2.6zM668.8 518.8h4.6v2.1h-4.6zM680.8 518.8h2.6v2.1h-2.6zM684.8 518.8h2.6v2.1h-2.6zM694.7 518.8h2.6v2.1h-2.6zM698.7 518.8h2.6v2.1h-2.6zM545.2 520.3h2.6v2.1h-2.6zM551.2 520.3h4.6v2.1h-4.6zM561.1 520.3h2.6v2.1h-2.6zM571.1 520.3h2.6v2.1h-2.6zM601 520.3h2.6v2.1h-2.6zM626.9 520.3h2.6v2.1h-2.6zM646.9 520.3h2.6v2.1h-2.6zM652.9 520.3h2.6v2.1h-2.6zM660.8 520.3h2.6v2.1h-2.6zM664.8 520.3h2.6v2.1h-2.6zM668.8 520.3h4.6v2.1h-4.6zM680.8 520.3h2.6v2.1h-2.6zM684.8 520.3h2.6v2.1h-2.6zM698.7 520.3h2.6v2.1h-2.6zM704.7 520.3h2.6v2.1h-2.6zM545.2 521.8h4.6v2.1h-4.6zM551.2 521.8h4.6v2.1h-4.6zM561.1 521.8h2.6v2.1h-2.6zM571.1 521.8h2.6v2.1h-2.6zM601 521.8h2.6v2.1h-2.6zM626.9 521.8h2.6v2.1h-2.6zM646.9 521.8h2.6v2.1h-2.6zM652.9 521.8h2.6v2.1h-2.6zM684.8 521.8h2.6v2.1h-2.6zM694.7 521.8h2.6v2.1h-2.6zM698.7 521.8h2.6v2.1h-2.6zM704.7 521.8h2.6v2.1h-2.6zM545.2 523.3h4.6v2.1h-4.6zM551.2 523.3h2.6v2.1h-2.6zM571.1 523.3h2.6v2.1h-2.6zM626.9 523.3h2.6v2.1h-2.6zM646.9 523.3h2.6v2.1h-2.6zM652.9 523.3h2.6v2.1h-2.6zM660.8 523.3h2.6v2.1h-2.6zM664.8 523.3h2.6v2.1h-2.6zM668.8 523.3h4.6v2.1h-4.6zM680.8 523.3h2.6v2.1h-2.6zM684.8 523.3h2.6v2.1h-2.6zM694.7 523.3h2.6v2.1h-2.6zM698.7 523.3h2.6v2.1h-2.6zM704.7 523.3h2.6v2.1h-2.6zM545.2 524.8h2.6v2.1h-2.6zM551.2 524.8h2.6v2.1h-2.6zM561.1 524.8h2.6v2.1h-2.6zM571.1 524.8h2.6v2.1h-2.6zM601 524.8h2.6v2.1h-2.6zM626.9 524.8h2.6v2.1h-2.6zM660.8 524.8h2.6v2.1h-2.6zM664.8 524.8h2.6v2.1h-2.6zM668.8 524.8h4.6v2.1h-4.6zM680.8 524.8h2.6v2.1h-2.6zM684.8 524.8h2.6v2.1h-2.6zM698.7 524.8h2.6v2.1h-2.6zM704.7 524.8h2.6v2.1h-2.6zM553.2 526.3h2.6v2.1h-2.6zM561.1 526.3h2.6v2.1h-2.6zM571.1 526.3h2.6v2.1h-2.6zM626.9 526.3h2.6v2.1h-2.6zM652.9 526.3h2.6v2.1h-2.6zM660.8 526.3h2.6v2.1h-2.6zM664.8 526.3h2.6v2.1h-2.6zM668.8 526.3h4.6v2.1h-4.6zM680.8 526.3h2.6v2.1h-2.6zM694.7 526.3h2.6v2.1h-2.6zM698.7 526.3h2.6v2.1h-2.6zM704.7 526.3h2.6v2.1h-2.6zM545.2 527.8h2.6v2.1h-2.6zM553.2 527.8h2.6v2.1h-2.6zM561.1 527.8h2.6v2.1h-2.6zM571.1 527.8h2.6v2.1h-2.6zM601 527.8h2.6v2.1h-2.6zM626.9 527.8h2.6v2.1h-2.6zM652.9 527.8h2.6v2.1h-2.6zM664.8 527.8h2.6v2.1h-2.6zM668.8 527.8h4.6v2.1h-4.6zM680.8 527.8h2.6v2.1h-2.6zM684.8 527.8h2.6v2.1h-2.6zM694.7 527.8h2.6v2.1h-2.6zM704.7 527.8h2.6v2.1h-2.6zM553.2 529.3h2.6v2.1h-2.6zM626.9 529.3h2.6v2.1h-2.6zM660.8 529.3h2.6v2.1h-2.6zM664.8 529.3h2.6v2.1h-2.6zM670.8 529.3h2.6v2.1h-2.6zM545.2 530.7h4.6v2.1h-4.6zM551.2 530.7h2.6v2.1h-2.6zM571.1 530.7h2.6v2.1h-2.6zM626.9 530.7h2.6v2.1h-2.6zM660.8 530.7h2.6v2.1h-2.6zM668.8 530.7h4.6v2.1h-4.6zM698.7 530.7h2.6v2.1h-2.6zM704.7 530.7h2.6v2.1h-2.6zM545.2 532.2h4.6v2.1h-4.6zM553.2 532.2h2.6v2.1h-2.6zM561.1 532.2h2.6v2.1h-2.6zM571.1 532.2h2.6v2.1h-2.6zM646.9 532.2h2.6v2.1h-2.6zM652.9 532.2h2.6v2.1h-2.6zM660.8 532.2h2.6v2.1h-2.6zM668.8 532.2h4.6v2.1h-4.6zM680.8 532.2h2.6v2.1h-2.6zM694.7 532.2h2.6v2.1h-2.6zM698.7 532.2h2.6v2.1h-2.6zM704.7 532.2h2.6v2.1h-2.6zM553.2 533.7h2.6v2.1h-2.6zM561.1 533.7h2.6v2.1h-2.6zM571.1 533.7h2.6v2.1h-2.6zM601 533.7h2.6v2.1h-2.6zM646.9 533.7h2.6v2.1h-2.6zM652.9 533.7h2.6v2.1h-2.6zM660.8 533.7h2.6v2.1h-2.6zM680.8 533.7h2.6v2.1h-2.6zM684.8 533.7h2.6v2.1h-2.6zM694.7 533.7h2.6v2.1h-2.6zM698.7 533.7h2.6v2.1h-2.6zM704.7 533.7h2.6v2.1h-2.6zM545.2 535.2h4.6v2.1h-4.6zM551.2 535.2h2.6v2.1h-2.6zM571.1 535.2h2.6v2.1h-2.6zM601 535.2h2.6v2.1h-2.6zM646.9 535.2h2.6v2.1h-2.6zM660.8 535.2h2.6v2.1h-2.6zM664.8 535.2h2.6v2.1h-2.6zM670.8 535.2h2.6v2.1h-2.6zM684.8 535.2h2.6v2.1h-2.6zM694.7 535.2h2.6v2.1h-2.6zM704.7 535.2h2.6v2.1h-2.6zM545.2 536.7h4.6v2.1h-4.6zM553.2 536.7h2.6v2.1h-2.6zM571.1 536.7h2.6v2.1h-2.6zM601 536.7h2.6v2.1h-2.6zM660.8 536.7h2.6v2.1h-2.6zM668.8 536.7h4.6v2.1h-4.6zM680.8 536.7h2.6v2.1h-2.6zM684.8 536.7h2.6v2.1h-2.6zM698.7 536.7h2.6v2.1h-2.6zM704.7 536.7h2.6v2.1h-2.6zM545.2 538.2h2.6v2.1h-2.6zM551.2 538.2h4.6v2.1h-4.6zM646.9 538.2h2.6v2.1h-2.6zM652.9 538.2h2.6v2.1h-2.6zM660.8 538.2h2.6v2.1h-2.6zM668.8 538.2h2.6v2.1h-2.6zM704.7 538.2h2.6v2.1h-2.6zM545.2 539.7h2.6v2.1h-2.6zM551.2 539.7h4.6v2.1h-4.6zM561.1 539.7h2.6v2.1h-2.6zM571.1 539.7h2.6v2.1h-2.6zM626.9 539.7h2.6v2.1h-2.6zM646.9 539.7h2.6v2.1h-2.6zM664.8 539.7h2.6v2.1h-2.6zM670.8 539.7h2.6v2.1h-2.6zM680.8 539.7h2.6v2.1h-2.6zM684.8 539.7h2.6v2.1h-2.6zM694.7 539.7h2.6v2.1h-2.6zM698.7 539.7h2.6v2.1h-2.6zM704.7 539.7h2.6v2.1h-2.6z"/><path fill="#0004ff" d="M589.1 402.3h2.6v2.1h-2.6zM593 402.3h2.6v2.1h-2.6zM585.1 403.8h10.6v2.1h-10.6zM585.1 405.3h10.6v2.1h-10.6zM585.1 406.8h10.6v2.1h-10.6zM585.1 408.3h10.6v2.1h-10.6zM585.1 409.8h10.6v2.1h-10.6zM585.1 411.3h2.6v2.1h-2.6zM589.1 411.3h2.6v2.1h-2.6zM593 411.3h2.6v2.1h-2.6zM585.1 412.8h2.6v2.1h-2.6zM591.1 412.8h2.6v2.1h-2.6zM559.1 414.2h2.6v2.1h-2.6zM585.1 414.2h4.6v2.1h-4.6zM666.8 414.2h2.6v2.1h-2.6zM589.1 415.7h4.6v2.1h-4.6zM678.8 415.7h2.6v2.1h-2.6zM587.1 417.2h2.6v2.1h-2.6zM593 417.2h2.6v2.1h-2.6zM597 417.2h2.6v2.1h-2.6zM607 417.2h2.6v2.1h-2.6zM672.8 417.2h2.6v2.1h-2.6zM702.7 417.2h2.6v2.1h-2.6zM563.1 418.7h2.6v2.1h-2.6zM585.1 418.7h4.6v2.1h-4.6zM591.1 418.7h4.6v2.1h-4.6zM603 418.7h2.6v2.1h-2.6zM607 418.7h2.6v2.1h-2.6zM654.9 418.7h2.6v2.1h-2.6zM666.8 418.7h2.6v2.1h-2.6zM585.1 420.2h2.6v2.1h-2.6zM591.1 420.2h2.6v2.1h-2.6zM609 420.2h2.6v2.1h-2.6zM623 420.2h2.6v2.1h-2.6zM642.9 420.2h2.6v2.1h-2.6zM672.8 420.2h2.6v2.1h-2.6zM543.2 421.7h2.6v2.1h-2.6zM585.1 421.7h2.6v2.1h-2.6zM605 421.7h2.6v2.1h-2.6zM630.9 421.7h2.6v2.1h-2.6zM644.9 421.7h2.6v2.1h-2.6zM690.8 421.7h4.6v2.1h-4.6zM555.2 423.2h2.6v2.1h-2.6zM573.1 423.2h4.6v2.1h-4.6zM662.8 423.2h2.6v2.1h-2.6zM684.8 423.2h2.6v2.1h-2.6zM555.2 424.7h4.6v2.1h-4.6zM571.1 424.7h2.6v2.1h-2.6zM593 424.7h2.6v2.1h-2.6zM599 424.7h2.6v2.1h-2.6zM676.8 424.7h2.6v2.1h-2.6zM682.8 424.7h2.6v2.1h-2.6zM696.7 424.7h2.6v2.1h-2.6zM702.7 424.7h2.6v2.1h-2.6zM706.7 424.7h4.6v2.1h-4.6zM543.2 426.2h2.6v2.1h-2.6zM557.2 426.2h2.6v2.1h-2.6zM599 426.2h2.6v2.1h-2.6zM650.9 426.2h2.6v2.1h-2.6zM702.7 426.2h2.6v2.1h-2.6zM541.2 427.7h2.6v2.1h-2.6zM557.2 427.7h2.6v2.1h-2.6zM656.9 427.7h2.6v2.1h-2.6zM674.8 427.7h2.6v2.1h-2.6zM686.8 427.7h2.6v2.1h-2.6zM547.2 429.2h2.6v2.1h-2.6zM557.2 429.2h2.6v2.1h-2.6zM563.1 429.2h2.6v2.1h-2.6zM597 429.2h4.6v2.1h-4.6zM605 429.2h2.6v2.1h-2.6zM609 429.2h2.6v2.1h-2.6zM628.9 429.2h2.6v2.1h-2.6zM644.9 429.2h2.6v2.1h-2.6zM674.8 429.2h2.6v2.1h-2.6zM686.8 429.2h2.6v2.1h-2.6zM696.7 429.2h2.6v2.1h-2.6zM555.2 430.7h2.6v2.1h-2.6zM575.1 430.7h2.6v2.1h-2.6zM583.1 430.7h2.6v2.1h-2.6zM625 430.7h2.6v2.1h-2.6zM656.9 430.7h2.6v2.1h-2.6zM662.8 430.7h2.6v2.1h-2.6zM666.8 430.7h2.6v2.1h-2.6zM674.8 430.7h2.6v2.1h-2.6zM678.8 430.7h2.6v2.1h-2.6zM549.2 432.2h2.6v2.1h-2.6zM573.1 432.2h2.6v2.1h-2.6zM583.1 432.2h2.6v2.1h-2.6zM599 432.2h2.6v2.1h-2.6zM603 432.2h2.6v2.1h-2.6zM630.9 432.2h2.6v2.1h-2.6zM642.9 432.2h2.6v2.1h-2.6zM662.8 432.2h2.6v2.1h-2.6zM702.7 432.2h2.6v2.1h-2.6zM708.7 432.2h2.6v2.1h-2.6zM555.2 433.7h2.6v2.1h-2.6zM559.1 433.7h2.6v2.1h-2.6zM599 433.7h2.6v2.1h-2.6zM623 433.7h2.6v2.1h-2.6zM642.9 433.7h2.6v2.1h-2.6zM676.8 433.7h2.6v2.1h-2.6zM682.8 433.7h2.6v2.1h-2.6zM686.8 433.7h2.6v2.1h-2.6zM690.8 433.7h2.6v2.1h-2.6zM541.2 435.2h2.6v2.1h-2.6zM555.2 435.2h2.6v2.1h-2.6zM625 435.2h2.6v2.1h-2.6zM628.9 435.2h2.6v2.1h-2.6zM662.8 435.2h2.6v2.1h-2.6zM672.8 435.2h8.6v2.1h-8.6zM690.8 435.2h4.6v2.1h-4.6zM555.2 436.7h4.6v2.1h-4.6zM575.1 436.7h2.6v2.1h-2.6zM595 436.7h2.6v2.1h-2.6zM599 436.7h2.6v2.1h-2.6zM625 436.7h2.6v2.1h-2.6zM630.9 436.7h2.6v2.1h-2.6zM642.9 436.7h4.6v2.1h-4.6zM648.9 436.7h2.6v2.1h-2.6zM654.9 436.7h2.6v2.1h-2.6zM672.8 436.7h6.6v2.1h-6.6zM682.8 436.7h2.6v2.1h-2.6zM690.8 436.7h4.6v2.1h-4.6zM698.7 436.7h2.6v2.1h-2.6zM549.2 438.1h2.6v2.1h-2.6zM561.1 438.1h2.6v2.1h-2.6zM573.1 438.1h2.6v2.1h-2.6zM595 438.1h4.6v2.1h-4.6zM603 438.1h4.6v2.1h-4.6zM625 438.1h2.6v2.1h-2.6zM648.9 438.1h4.6v2.1h-4.6zM656.9 438.1h2.6v2.1h-2.6zM672.8 438.1h4.6v2.1h-4.6zM686.8 438.1h2.6v2.1h-2.6zM702.7 438.1h2.6v2.1h-2.6zM706.7 438.1h2.6v2.1h-2.6zM543.2 439.6h2.6v2.1h-2.6zM549.2 439.6h2.6v2.1h-2.6zM575.1 439.6h2.6v2.1h-2.6zM595 439.6h4.6v2.1h-4.6zM603 439.6h2.6v2.1h-2.6zM607 439.6h4.6v2.1h-4.6zM625 439.6h2.6v2.1h-2.6zM654.9 439.6h4.6v2.1h-4.6zM662.8 439.6h2.6v2.1h-2.6zM672.8 439.6h6.6v2.1h-6.6zM686.8 439.6h2.6v2.1h-2.6zM702.7 439.6h2.6v2.1h-2.6zM549.2 441.1h2.6v2.1h-2.6zM559.1 441.1h2.6v2.1h-2.6zM563.1 441.1h2.6v2.1h-2.6zM573.1 441.1h2.6v2.1h-2.6zM583.1 441.1h2.6v2.1h-2.6zM623 441.1h4.6v2.1h-4.6zM642.9 441.1h4.6v2.1h-4.6zM648.9 441.1h4.6v2.1h-4.6zM656.9 441.1h2.6v2.1h-2.6zM686.8 441.1h2.6v2.1h-2.6zM692.8 441.1h2.6v2.1h-2.6zM696.7 441.1h2.6v2.1h-2.6zM706.7 441.1h2.6v2.1h-2.6zM543.2 442.6h2.6v2.1h-2.6zM549.2 442.6h2.6v2.1h-2.6zM557.2 442.6h2.6v2.1h-2.6zM563.1 442.6h2.6v2.1h-2.6zM573.1 442.6h4.6v2.1h-4.6zM599 442.6h2.6v2.1h-2.6zM603 442.6h2.6v2.1h-2.6zM607 442.6h2.6v2.1h-2.6zM625 442.6h2.6v2.1h-2.6zM628.9 442.6h2.6v2.1h-2.6zM642.9 442.6h2.6v2.1h-2.6zM648.9 442.6h4.6v2.1h-4.6zM662.8 442.6h2.6v2.1h-2.6zM678.8 442.6h2.6v2.1h-2.6zM690.8 442.6h4.6v2.1h-4.6zM543.2 444.1h2.6v2.1h-2.6zM549.2 444.1h2.6v2.1h-2.6zM563.1 444.1h2.6v2.1h-2.6zM573.1 444.1h2.6v2.1h-2.6zM599 444.1h2.6v2.1h-2.6zM607 444.1h4.6v2.1h-4.6zM625 444.1h2.6v2.1h-2.6zM628.9 444.1h4.6v2.1h-4.6zM648.9 444.1h2.6v2.1h-2.6zM662.8 444.1h2.6v2.1h-2.6zM666.8 444.1h2.6v2.1h-2.6zM676.8 444.1h2.6v2.1h-2.6zM690.8 444.1h4.6v2.1h-4.6zM702.7 444.1h2.6v2.1h-2.6zM706.7 444.1h4.6v2.1h-4.6zM543.2 445.6h2.6v2.1h-2.6zM549.2 445.6h2.6v2.1h-2.6zM559.1 445.6h2.6v2.1h-2.6zM563.1 445.6h2.6v2.1h-2.6zM583.1 445.6h2.6v2.1h-2.6zM595 445.6h4.6v2.1h-4.6zM609 445.6h2.6v2.1h-2.6zM623 445.6h2.6v2.1h-2.6zM642.9 445.6h2.6v2.1h-2.6zM650.9 445.6h2.6v2.1h-2.6zM656.9 445.6h2.6v2.1h-2.6zM666.8 445.6h2.6v2.1h-2.6zM674.8 445.6h2.6v2.1h-2.6zM682.8 445.6h2.6v2.1h-2.6zM692.8 445.6h2.6v2.1h-2.6zM708.7 445.6h2.6v2.1h-2.6zM541.2 447.1h4.6v2.1h-4.6zM555.2 447.1h4.6v2.1h-4.6zM583.1 447.1h2.6v2.1h-2.6zM642.9 447.1h4.6v2.1h-4.6zM672.8 447.1h4.6v2.1h-4.6zM543.2 448.6h2.6v2.1h-2.6zM549.2 448.6h2.6v2.1h-2.6zM559.1 448.6h2.6v2.1h-2.6zM563.1 448.6h2.6v2.1h-2.6zM573.1 448.6h4.6v2.1h-4.6zM595 448.6h6.6v2.1h-6.6zM605 448.6h2.6v2.1h-2.6zM609 448.6h2.6v2.1h-2.6zM623 448.6h2.6v2.1h-2.6zM628.9 448.6h2.6v2.1h-2.6zM642.9 448.6h4.6v2.1h-4.6zM648.9 448.6h4.6v2.1h-4.6zM654.9 448.6h4.6v2.1h-4.6zM666.8 448.6h2.6v2.1h-2.6zM672.8 448.6h4.6v2.1h-4.6zM690.8 448.6h4.6v2.1h-4.6zM696.7 448.6h2.6v2.1h-2.6zM702.7 448.6h2.6v2.1h-2.6zM706.7 448.6h4.6v2.1h-4.6zM541.2 450.1h4.6v2.1h-4.6zM549.2 450.1h2.6v2.1h-2.6zM557.2 450.1h4.6v2.1h-4.6zM573.1 450.1h2.6v2.1h-2.6zM597 450.1h4.6v2.1h-4.6zM603 450.1h8.6v2.1h-8.6zM630.9 450.1h2.6v2.1h-2.6zM644.9 450.1h2.6v2.1h-2.6zM648.9 450.1h2.6v2.1h-2.6zM656.9 450.1h2.6v2.1h-2.6zM666.8 450.1h2.6v2.1h-2.6zM672.8 450.1h2.6v2.1h-2.6zM678.8 450.1h2.6v2.1h-2.6zM682.8 450.1h2.6v2.1h-2.6zM690.8 450.1h2.6v2.1h-2.6zM696.7 450.1h2.6v2.1h-2.6zM549.2 451.6h2.6v2.1h-2.6zM557.2 451.6h2.6v2.1h-2.6zM573.1 451.6h4.6v2.1h-4.6zM583.1 451.6h2.6v2.1h-2.6zM603 451.6h8.6v2.1h-8.6zM630.9 451.6h2.6v2.1h-2.6zM644.9 451.6h2.6v2.1h-2.6zM648.9 451.6h4.6v2.1h-4.6zM654.9 451.6h2.6v2.1h-2.6zM660.8 451.6h4.6v2.1h-4.6zM672.8 451.6h4.6v2.1h-4.6zM678.8 451.6h2.6v2.1h-2.6zM692.8 451.6h2.6v2.1h-2.6zM696.7 451.6h2.6v2.1h-2.6zM702.7 451.6h2.6v2.1h-2.6zM541.2 453.1h6.6v2.1h-6.6zM555.2 453.1h2.6v2.1h-2.6zM559.1 453.1h2.6v2.1h-2.6zM563.1 453.1h2.6v2.1h-2.6zM573.1 453.1h4.6v2.1h-4.6zM583.1 453.1h2.6v2.1h-2.6zM595 453.1h6.6v2.1h-6.6zM623 453.1h4.6v2.1h-4.6zM630.9 453.1h2.6v2.1h-2.6zM642.9 453.1h2.6v2.1h-2.6zM654.9 453.1h4.6v2.1h-4.6zM672.8 453.1h6.6v2.1h-6.6zM686.8 453.1h2.6v2.1h-2.6zM690.8 453.1h4.6v2.1h-4.6zM702.7 453.1h2.6v2.1h-2.6zM708.7 453.1h2.6v2.1h-2.6zM549.2 454.6h2.6v2.1h-2.6zM559.1 454.6h2.6v2.1h-2.6zM563.1 454.6h2.6v2.1h-2.6zM583.1 454.6h2.6v2.1h-2.6zM595 454.6h6.6v2.1h-6.6zM603 454.6h4.6v2.1h-4.6zM623 454.6h2.6v2.1h-2.6zM628.9 454.6h4.6v2.1h-4.6zM650.9 454.6h2.6v2.1h-2.6zM656.9 454.6h2.6v2.1h-2.6zM662.8 454.6h2.6v2.1h-2.6zM676.8 454.6h4.6v2.1h-4.6zM686.8 454.6h2.6v2.1h-2.6zM690.8 454.6h2.6v2.1h-2.6zM696.7 454.6h2.6v2.1h-2.6zM706.7 454.6h4.6v2.1h-4.6zM541.2 456.1h2.6v2.1h-2.6zM557.2 456.1h4.6v2.1h-4.6zM563.1 456.1h2.6v2.1h-2.6zM573.1 456.1h4.6v2.1h-4.6zM583.1 456.1h2.6v2.1h-2.6zM595 456.1h6.6v2.1h-6.6zM603 456.1h2.6v2.1h-2.6zM607 456.1h4.6v2.1h-4.6zM625 456.1h2.6v2.1h-2.6zM628.9 456.1h4.6v2.1h-4.6zM642.9 456.1h4.6v2.1h-4.6zM648.9 456.1h2.6v2.1h-2.6zM654.9 456.1h4.6v2.1h-4.6zM662.8 456.1h6.6v2.1h-6.6zM672.8 456.1h6.6v2.1h-6.6zM682.8 456.1h2.6v2.1h-2.6zM686.8 456.1h2.6v2.1h-2.6zM702.7 456.1h2.6v2.1h-2.6zM706.7 456.1h4.6v2.1h-4.6zM541.2 457.6h4.6v2.1h-4.6zM549.2 457.6h2.6v2.1h-2.6zM555.2 457.6h2.6v2.1h-2.6zM575.1 457.6h2.6v2.1h-2.6zM583.1 457.6h2.6v2.1h-2.6zM623 457.6h10.6v2.1h-10.6zM642.9 457.6h4.6v2.1h-4.6zM648.9 457.6h4.6v2.1h-4.6zM654.9 457.6h4.6v2.1h-4.6zM662.8 457.6h2.6v2.1h-2.6zM666.8 457.6h2.6v2.1h-2.6zM672.8 457.6h8.6v2.1h-8.6zM682.8 457.6h2.6v2.1h-2.6zM686.8 457.6h2.6v2.1h-2.6zM690.8 457.6h4.6v2.1h-4.6zM696.7 457.6h2.6v2.1h-2.6zM702.7 457.6h8.6v2.1h-8.6zM541.2 459.1h4.6v2.1h-4.6zM549.2 459.1h2.6v2.1h-2.6zM555.2 459.1h6.6v2.1h-6.6zM563.1 459.1h2.6v2.1h-2.6zM573.1 459.1h4.6v2.1h-4.6zM583.1 459.1h2.6v2.1h-2.6zM595 459.1h16.6v2.1h-16.6zM642.9 459.1h4.6v2.1h-4.6zM648.9 459.1h4.6v2.1h-4.6zM654.9 459.1h4.6v2.1h-4.6zM662.8 459.1h6.6v2.1h-6.6zM672.8 459.1h8.6v2.1h-8.6zM682.8 459.1h2.6v2.1h-2.6zM686.8 459.1h2.6v2.1h-2.6zM690.8 459.1h4.6v2.1h-4.6zM696.7 459.1h2.6v2.1h-2.6zM702.7 459.1h2.6v2.1h-2.6zM706.7 459.1h4.6v2.1h-4.6zM541.2 460.5h4.6v2.1h-4.6zM549.2 460.5h2.6v2.1h-2.6zM553.2 460.5h8.6v2.1h-8.6zM563.1 460.5h2.6v2.1h-2.6zM573.1 460.5h4.6v2.1h-4.6zM597 460.5h2.6v2.1h-2.6zM603 460.5h8.6v2.1h-8.6zM623 460.5h2.6v2.1h-2.6zM628.9 460.5h2.6v2.1h-2.6zM648.9 460.5h4.6v2.1h-4.6zM654.9 460.5h4.6v2.1h-4.6zM662.8 460.5h2.6v2.1h-2.6zM666.8 460.5h2.6v2.1h-2.6zM672.8 460.5h2.6v2.1h-2.6zM676.8 460.5h4.6v2.1h-4.6zM682.8 460.5h2.6v2.1h-2.6zM686.8 460.5h2.6v2.1h-2.6zM690.8 460.5h4.6v2.1h-4.6zM696.7 460.5h2.6v2.1h-2.6zM702.7 460.5h2.6v2.1h-2.6zM706.7 460.5h4.6v2.1h-4.6zM541.2 462h2.6v2.1h-2.6zM549.2 462h2.6v2.1h-2.6zM555.2 462h6.6v2.1h-6.6zM563.1 462h2.6v2.1h-2.6zM573.1 462h4.6v2.1h-4.6zM623 462h4.6v2.1h-4.6zM630.9 462h2.6v2.1h-2.6zM642.9 462h4.6v2.1h-4.6zM656.9 462h2.6v2.1h-2.6zM662.8 462h2.6v2.1h-2.6zM674.8 462h6.6v2.1h-6.6zM682.8 462h2.6v2.1h-2.6zM686.8 462h2.6v2.1h-2.6zM696.7 462h2.6v2.1h-2.6zM708.7 462h2.6v2.1h-2.6zM541.2 463.5h4.6v2.1h-4.6zM559.1 463.5h2.6v2.1h-2.6zM642.9 463.5h2.6v2.1h-2.6zM648.9 463.5h2.6v2.1h-2.6zM652.9 463.5h2.6v2.1h-2.6zM674.8 463.5h4.6v2.1h-4.6zM682.8 463.5h2.6v2.1h-2.6zM690.8 463.5h2.6v2.1h-2.6zM702.7 463.5h2.6v2.1h-2.6zM708.7 463.5h2.6v2.1h-2.6zM642.9 465h2.6v2.1h-2.6zM674.8 465h4.6v2.1h-4.6zM601 523.3h2.6v2.1h-2.6zM547.2 524.8h2.6v2.1h-2.6zM553.2 524.8h2.6v2.1h-2.6zM545.2 526.3h4.6v2.1h-4.6zM551.2 526.3h2.6v2.1h-2.6zM601 526.3h2.6v2.1h-2.6zM646.9 526.3h2.6v2.1h-2.6zM684.8 526.3h2.6v2.1h-2.6zM551.2 527.8h2.6v2.1h-2.6zM660.8 527.8h2.6v2.1h-2.6zM698.7 527.8h2.6v2.1h-2.6zM547.2 529.3h2.6v2.1h-2.6zM646.9 529.3h2.6v2.1h-2.6zM668.8 529.3h2.6v2.1h-2.6zM601 530.7h2.6v2.1h-2.6zM664.8 530.7h2.6v2.1h-2.6zM551.2 532.2h2.6v2.1h-2.6zM664.8 532.2h2.6v2.1h-2.6zM684.8 532.2h2.6v2.1h-2.6zM626.9 533.7h2.6v2.1h-2.6zM626.9 535.2h2.6v2.1h-2.6zM652.9 535.2h2.6v2.1h-2.6zM680.8 535.2h2.6v2.1h-2.6zM698.7 535.2h2.6v2.1h-2.6zM551.2 536.7h2.6v2.1h-2.6zM626.9 536.7h2.6v2.1h-2.6zM652.9 536.7h2.6v2.1h-2.6zM694.7 536.7h2.6v2.1h-2.6zM547.2 538.2h2.6v2.1h-2.6zM571.1 538.2h2.6v2.1h-2.6zM684.8 538.2h2.6v2.1h-2.6zM694.7 538.2h2.6v2.1h-2.6zM698.7 538.2h2.6v2.1h-2.6zM547.2 539.7h2.6v2.1h-2.6zM601 539.7h2.6v2.1h-2.6zM652.9 539.7h2.6v2.1h-2.6zM668.8 539.7h2.6v2.1h-2.6z"/><path fill="#0025ff" d="M587.1 411.3h2.6v2.1h-2.6zM591.1 411.3h2.6v2.1h-2.6zM587.1 412.8h4.6v2.1h-4.6zM593 412.8h2.6v2.1h-2.6zM589.1 414.2h6.6v2.1h-6.6zM585.1 415.7h4.6v2.1h-4.6zM585.1 417.2h2.6v2.1h-2.6zM589.1 417.2h4.6v2.1h-4.6zM589.1 418.7h2.6v2.1h-2.6zM587.1 420.2h4.6v2.1h-4.6zM593 420.2h2.6v2.1h-2.6zM587.1 421.7h8.6v2.1h-8.6zM585.1 423.2h8.6v2.1h-8.6zM585.1 424.7h8.6v2.1h-8.6zM585.1 426.2h10.6v2.1h-10.6zM585.1 427.7h10.6v2.1h-10.6zM585.1 429.2h10.6v2.1h-10.6zM585.1 430.7h10.6v2.1h-10.6zM585.1 432.2h2.6v2.1h-2.6zM589.1 432.2h4.6v2.1h-4.6zM585.1 433.7h10.6v2.1h-10.6zM585.1 435.2h4.6v2.1h-4.6zM585.1 436.7h10.6v2.1h-10.6zM585.1 438.1h4.6v2.1h-4.6zM591.1 438.1h4.6v2.1h-4.6zM585.1 439.6h2.6v2.1h-2.6zM589.1 439.6h6.6v2.1h-6.6zM587.1 441.1h2.6v2.1h-2.6zM585.1 442.6h2.6v2.1h-2.6zM591.1 442.6h2.6v2.1h-2.6zM585.1 444.1h2.6v2.1h-2.6zM591.1 444.1h4.6v2.1h-4.6zM585.1 447.1h2.6v2.1h-2.6zM583.1 460.5h2.6v2.1h-2.6zM595 460.5h2.6v2.1h-2.6zM599 460.5h2.6v2.1h-2.6zM625 460.5h2.6v2.1h-2.6zM630.9 460.5h2.6v2.1h-2.6zM644.9 460.5h2.6v2.1h-2.6zM543.2 462h2.6v2.1h-2.6zM571.1 462h2.6v2.1h-2.6zM628.9 462h2.6v2.1h-2.6zM650.9 462h6.6v2.1h-6.6zM666.8 462h2.6v2.1h-2.6zM672.8 462h2.6v2.1h-2.6zM690.8 462h4.6v2.1h-4.6zM702.7 462h2.6v2.1h-2.6zM706.7 462h2.6v2.1h-2.6zM549.2 463.5h2.6v2.1h-2.6zM555.2 463.5h4.6v2.1h-4.6zM563.1 463.5h2.6v2.1h-2.6zM573.1 463.5h4.6v2.1h-4.6zM583.1 463.5h2.6v2.1h-2.6zM595 463.5h6.6v2.1h-6.6zM603 463.5h8.6v2.1h-8.6zM623 463.5h4.6v2.1h-4.6zM628.9 463.5h4.6v2.1h-4.6zM644.9 463.5h2.6v2.1h-2.6zM650.9 463.5h2.6v2.1h-2.6zM654.9 463.5h4.6v2.1h-4.6zM662.8 463.5h2.6v2.1h-2.6zM666.8 463.5h2.6v2.1h-2.6zM672.8 463.5h2.6v2.1h-2.6zM678.8 463.5h2.6v2.1h-2.6zM686.8 463.5h2.6v2.1h-2.6zM692.8 463.5h2.6v2.1h-2.6zM696.7 463.5h2.6v2.1h-2.6zM706.7 463.5h2.6v2.1h-2.6zM541.2 465h4.6v2.1h-4.6zM549.2 465h2.6v2.1h-2.6zM555.2 465h6.6v2.1h-6.6zM563.1 465h2.6v2.1h-2.6zM573.1 465h4.6v2.1h-4.6zM583.1 465h2.6v2.1h-2.6zM595 465h6.6v2.1h-6.6zM603 465h8.6v2.1h-8.6zM623 465h4.6v2.1h-4.6zM628.9 465h4.6v2.1h-4.6zM644.9 465h8.6v2.1h-8.6zM654.9 465h4.6v2.1h-4.6zM662.8 465h2.6v2.1h-2.6zM672.8 465h2.6v2.1h-2.6zM682.8 465h2.6v2.1h-2.6zM686.8 465h2.6v2.1h-2.6zM690.8 465h2.6v2.1h-2.6zM702.7 465h2.6v2.1h-2.6zM706.7 465h4.6v2.1h-4.6zM541.2 466.5h4.6v2.1h-4.6zM547.2 466.5h4.6v2.1h-4.6zM555.2 466.5h6.6v2.1h-6.6zM563.1 466.5h2.6v2.1h-2.6zM573.1 466.5h4.6v2.1h-4.6zM583.1 466.5h2.6v2.1h-2.6zM595 466.5h6.6v2.1h-6.6zM603 466.5h8.6v2.1h-8.6zM625 466.5h2.6v2.1h-2.6zM628.9 466.5h4.6v2.1h-4.6zM642.9 466.5h10.6v2.1h-10.6zM654.9 466.5h4.6v2.1h-4.6zM662.8 466.5h2.6v2.1h-2.6zM666.8 466.5h2.6v2.1h-2.6zM672.8 466.5h8.6v2.1h-8.6zM682.8 466.5h2.6v2.1h-2.6zM690.8 466.5h4.6v2.1h-4.6zM696.7 466.5h2.6v2.1h-2.6zM702.7 466.5h2.6v2.1h-2.6zM706.7 466.5h4.6v2.1h-4.6zM541.2 468h4.6v2.1h-4.6zM549.2 468h2.6v2.1h-2.6zM555.2 468h2.6v2.1h-2.6zM575.1 468h2.6v2.1h-2.6zM583.1 468h2.6v2.1h-2.6zM625 468h2.6v2.1h-2.6zM630.9 468h2.6v2.1h-2.6zM642.9 468h4.6v2.1h-4.6zM648.9 468h10.6v2.1h-10.6zM666.8 468h4.6v2.1h-4.6zM672.8 468h4.6v2.1h-4.6zM682.8 468h2.6v2.1h-2.6zM686.8 468h2.6v2.1h-2.6zM690.8 468h2.6v2.1h-2.6zM696.7 468h2.6v2.1h-2.6zM702.7 468h2.6v2.1h-2.6zM543.2 469.5h2.6v2.1h-2.6zM549.2 469.5h2.6v2.1h-2.6zM555.2 469.5h6.6v2.1h-6.6zM563.1 469.5h2.6v2.1h-2.6zM599 469.5h2.6v2.1h-2.6zM607 469.5h4.6v2.1h-4.6zM642.9 469.5h2.6v2.1h-2.6zM648.9 469.5h2.6v2.1h-2.6zM654.9 469.5h4.6v2.1h-4.6zM662.8 469.5h2.6v2.1h-2.6zM666.8 469.5h2.6v2.1h-2.6zM672.8 469.5h8.6v2.1h-8.6zM682.8 469.5h2.6v2.1h-2.6zM686.8 469.5h2.6v2.1h-2.6zM696.7 469.5h2.6v2.1h-2.6zM702.7 469.5h2.6v2.1h-2.6zM706.7 469.5h4.6v2.1h-4.6zM541.2 471h4.6v2.1h-4.6zM555.2 471h6.6v2.1h-6.6zM563.1 471h2.6v2.1h-2.6zM648.9 471h4.6v2.1h-4.6zM654.9 471h4.6v2.1h-4.6zM674.8 471h6.6v2.1h-6.6zM682.8 471h2.6v2.1h-2.6zM686.8 471h2.6v2.1h-2.6zM702.7 471h8.6v2.1h-8.6zM553.2 472.5h4.6v2.1h-4.6zM644.9 472.5h2.6v2.1h-2.6zM650.9 472.5h2.6v2.1h-2.6zM654.9 472.5h2.6v2.1h-2.6zM676.8 472.5h4.6v2.1h-4.6zM682.8 472.5h2.6v2.1h-2.6zM686.8 472.5h2.6v2.1h-2.6zM708.7 472.5h2.6v2.1h-2.6zM555.2 474h2.6v2.1h-2.6zM650.9 474h2.6v2.1h-2.6zM656.9 474h2.6v2.1h-2.6zM676.8 474h2.6v2.1h-2.6zM682.8 474h2.6v2.1h-2.6zM706.7 474h2.6v2.1h-2.6zM674.8 475.5h2.6v2.1h-2.6zM678.8 475.5h2.6v2.1h-2.6zM682.8 475.5h2.6v2.1h-2.6zM686.8 475.5h2.6v2.1h-2.6zM678.8 477h2.6v2.1h-2.6zM682.8 477h2.6v2.1h-2.6z"/><path fill="#0046ff" d="M621 402.3h2.6v2.1h-2.6zM621 403.8h2.6v2.1h-2.6zM621 405.3h2.6v2.1h-2.6zM621 406.8h2.6v2.1h-2.6zM621 408.3h2.6v2.1h-2.6zM621 409.8h2.6v2.1h-2.6zM621 411.3h2.6v2.1h-2.6zM621 412.8h2.6v2.1h-2.6zM621 414.2h2.6v2.1h-2.6zM621 415.7h2.6v2.1h-2.6zM621 417.2h2.6v2.1h-2.6zM621 418.7h2.6v2.1h-2.6zM621 420.2h2.6v2.1h-2.6zM621 421.7h2.6v2.1h-2.6zM621 424.7h2.6v2.1h-2.6zM621 426.2h2.6v2.1h-2.6zM621 427.7h2.6v2.1h-2.6zM621 429.2h2.6v2.1h-2.6zM621 430.7h2.6v2.1h-2.6zM593 432.2h2.6v2.1h-2.6zM621 432.2h2.6v2.1h-2.6zM621 433.7h2.6v2.1h-2.6zM589.1 435.2h4.6v2.1h-4.6zM621 435.2h2.6v2.1h-2.6zM621 436.7h2.6v2.1h-2.6zM589.1 438.1h2.6v2.1h-2.6zM621 438.1h2.6v2.1h-2.6zM587.1 439.6h2.6v2.1h-2.6zM621 439.6h2.6v2.1h-2.6zM585.1 441.1h2.6v2.1h-2.6zM589.1 441.1h4.6v2.1h-4.6zM621 441.1h2.6v2.1h-2.6zM587.1 442.6h4.6v2.1h-4.6zM593 442.6h2.6v2.1h-2.6zM621 442.6h2.6v2.1h-2.6zM587.1 444.1h4.6v2.1h-4.6zM621 444.1h2.6v2.1h-2.6zM585.1 445.6h10.6v2.1h-10.6zM621 445.6h2.6v2.1h-2.6zM587.1 447.1h6.6v2.1h-6.6zM621 447.1h2.6v2.1h-2.6zM585.1 448.6h10.6v2.1h-10.6zM621 448.6h2.6v2.1h-2.6zM585.1 450.1h10.6v2.1h-10.6zM621 450.1h2.6v2.1h-2.6zM585.1 451.6h10.6v2.1h-10.6zM621 451.6h2.6v2.1h-2.6zM585.1 453.1h10.6v2.1h-10.6zM621 453.1h2.6v2.1h-2.6zM585.1 454.6h10.6v2.1h-10.6zM621 454.6h2.6v2.1h-2.6zM585.1 456.1h2.6v2.1h-2.6zM589.1 456.1h6.6v2.1h-6.6zM621 456.1h2.6v2.1h-2.6zM585.1 457.6h8.6v2.1h-8.6zM621 457.6h2.6v2.1h-2.6zM587.1 459.1h4.6v2.1h-4.6zM593 459.1h2.6v2.1h-2.6zM587.1 460.5h6.6v2.1h-6.6zM621 460.5h2.6v2.1h-2.6zM591.1 462h2.6v2.1h-2.6zM621 462h2.6v2.1h-2.6zM585.1 463.5h2.6v2.1h-2.6zM593 463.5h2.6v2.1h-2.6zM621 463.5h2.6v2.1h-2.6zM585.1 465h4.6v2.1h-4.6zM621 465h2.6v2.1h-2.6zM585.1 466.5h2.6v2.1h-2.6zM589.1 466.5h2.6v2.1h-2.6zM621 466.5h2.6v2.1h-2.6zM621 468h4.6v2.1h-4.6zM628.9 468h2.6v2.1h-2.6zM662.8 468h2.6v2.1h-2.6zM692.8 468h4.6v2.1h-4.6zM573.1 469.5h4.6v2.1h-4.6zM583.1 469.5h2.6v2.1h-2.6zM595 469.5h4.6v2.1h-4.6zM603 469.5h4.6v2.1h-4.6zM621 469.5h6.6v2.1h-6.6zM628.9 469.5h4.6v2.1h-4.6zM644.9 469.5h2.6v2.1h-2.6zM664.8 469.5h2.6v2.1h-2.6zM690.8 469.5h4.6v2.1h-4.6zM549.2 471h2.6v2.1h-2.6zM573.1 471h4.6v2.1h-4.6zM583.1 471h2.6v2.1h-2.6zM587.1 471h2.6v2.1h-2.6zM591.1 471h2.6v2.1h-2.6zM595 471h16.6v2.1h-16.6zM621 471h6.6v2.1h-6.6zM628.9 471h4.6v2.1h-4.6zM642.9 471h4.6v2.1h-4.6zM662.8 471h2.6v2.1h-2.6zM666.8 471h2.6v2.1h-2.6zM672.8 471h2.6v2.1h-2.6zM690.8 471h4.6v2.1h-4.6zM696.7 471h2.6v2.1h-2.6zM541.2 472.5h4.6v2.1h-4.6zM549.2 472.5h2.6v2.1h-2.6zM557.2 472.5h4.6v2.1h-4.6zM563.1 472.5h2.6v2.1h-2.6zM573.1 472.5h4.6v2.1h-4.6zM583.1 472.5h2.6v2.1h-2.6zM595 472.5h6.6v2.1h-6.6zM603 472.5h8.6v2.1h-8.6zM621 472.5h6.6v2.1h-6.6zM628.9 472.5h4.6v2.1h-4.6zM642.9 472.5h2.6v2.1h-2.6zM656.9 472.5h2.6v2.1h-2.6zM662.8 472.5h2.6v2.1h-2.6zM666.8 472.5h4.6v2.1h-4.6zM672.8 472.5h4.6v2.1h-4.6zM690.8 472.5h4.6v2.1h-4.6zM696.7 472.5h2.6v2.1h-2.6zM702.7 472.5h2.6v2.1h-2.6zM706.7 472.5h2.6v2.1h-2.6zM541.2 474h4.6v2.1h-4.6zM549.2 474h2.6v2.1h-2.6zM557.2 474h4.6v2.1h-4.6zM563.1 474h2.6v2.1h-2.6zM573.1 474h4.6v2.1h-4.6zM583.1 474h2.6v2.1h-2.6zM595 474h6.6v2.1h-6.6zM603 474h8.6v2.1h-8.6zM621 474h6.6v2.1h-6.6zM628.9 474h4.6v2.1h-4.6zM642.9 474h4.6v2.1h-4.6zM648.9 474h2.6v2.1h-2.6zM654.9 474h2.6v2.1h-2.6zM662.8 474h2.6v2.1h-2.6zM666.8 474h2.6v2.1h-2.6zM672.8 474h4.6v2.1h-4.6zM686.8 474h2.6v2.1h-2.6zM690.8 474h4.6v2.1h-4.6zM696.7 474h2.6v2.1h-2.6zM702.7 474h2.6v2.1h-2.6zM708.7 474h2.6v2.1h-2.6zM541.2 475.5h4.6v2.1h-4.6zM547.2 475.5h6.6v2.1h-6.6zM555.2 475.5h10.6v2.1h-10.6zM573.1 475.5h4.6v2.1h-4.6zM583.1 475.5h2.6v2.1h-2.6zM623 475.5h4.6v2.1h-4.6zM628.9 475.5h4.6v2.1h-4.6zM642.9 475.5h4.6v2.1h-4.6zM648.9 475.5h4.6v2.1h-4.6zM654.9 475.5h4.6v2.1h-4.6zM672.8 475.5h2.6v2.1h-2.6zM676.8 475.5h2.6v2.1h-2.6zM702.7 475.5h2.6v2.1h-2.6zM706.7 475.5h4.6v2.1h-4.6zM541.2 477h6.6v2.1h-6.6zM549.2 477h2.6v2.1h-2.6zM555.2 477h6.6v2.1h-6.6zM563.1 477h2.6v2.1h-2.6zM573.1 477h2.6v2.1h-2.6zM609 477h2.6v2.1h-2.6zM625 477h2.6v2.1h-2.6zM628.9 477h2.6v2.1h-2.6zM642.9 477h10.6v2.1h-10.6zM656.9 477h2.6v2.1h-2.6zM668.8 477h2.6v2.1h-2.6zM672.8 477h6.6v2.1h-6.6zM686.8 477h2.6v2.1h-2.6zM690.8 477h2.6v2.1h-2.6zM696.7 477h2.6v2.1h-2.6zM702.7 477h8.6v2.1h-8.6zM541.2 478.5h6.6v2.1h-6.6zM549.2 478.5h4.6v2.1h-4.6zM555.2 478.5h6.6v2.1h-6.6zM563.1 478.5h2.6v2.1h-2.6zM575.1 478.5h2.6v2.1h-2.6zM642.9 478.5h4.6v2.1h-4.6zM648.9 478.5h10.6v2.1h-10.6zM674.8 478.5h6.6v2.1h-6.6zM682.8 478.5h2.6v2.1h-2.6zM686.8 478.5h2.6v2.1h-2.6zM702.7 478.5h2.6v2.1h-2.6zM706.7 478.5h4.6v2.1h-4.6zM541.2 480h6.6v2.1h-6.6zM557.2 480h4.6v2.1h-4.6zM563.1 480h2.6v2.1h-2.6zM573.1 480h2.6v2.1h-2.6zM642.9 480h4.6v2.1h-4.6zM648.9 480h4.6v2.1h-4.6zM654.9 480h4.6v2.1h-4.6zM674.8 480h14.6v2.1h-14.6zM702.7 480h8.6v2.1h-8.6zM543.2 481.5h2.6v2.1h-2.6zM557.2 481.5h2.6v2.1h-2.6zM642.9 481.5h4.6v2.1h-4.6zM674.8 481.5h6.6v2.1h-6.6zM682.8 481.5h2.6v2.1h-2.6zM686.8 481.5h2.6v2.1h-2.6zM702.7 481.5h2.6v2.1h-2.6zM708.7 481.5h2.6v2.1h-2.6zM676.8 483h2.6v2.1h-2.6zM682.8 483h2.6v2.1h-2.6zM686.8 483h2.6v2.1h-2.6zM674.8 484.4h2.6v2.1h-2.6zM686.8 484.4h2.6v2.1h-2.6zM678.8 485.9h2.6v2.1h-2.6z"/><path fill="#0067ff" d="M587.1 456.1h2.6v2.1h-2.6zM585.1 459.1h2.6v2.1h-2.6zM591.1 459.1h2.6v2.1h-2.6zM585.1 460.5h2.6v2.1h-2.6zM593 460.5h2.6v2.1h-2.6zM587.1 463.5h6.6v2.1h-6.6zM589.1 465h6.6v2.1h-6.6zM587.1 466.5h2.6v2.1h-2.6zM591.1 466.5h4.6v2.1h-4.6zM585.1 468h8.6v2.1h-8.6zM585.1 469.5h10.6v2.1h-10.6zM585.1 471h2.6v2.1h-2.6zM589.1 471h2.6v2.1h-2.6zM593 471h2.6v2.1h-2.6zM585.1 472.5h10.6v2.1h-10.6zM591.1 474h4.6v2.1h-4.6zM585.1 475.5h8.6v2.1h-8.6zM621 475.5h2.6v2.1h-2.6zM575.1 477h2.6v2.1h-2.6zM583.1 477h18.5v2.1h-18.5zM603 477h6.6v2.1h-6.6zM621 477h4.6v2.1h-4.6zM630.9 477h2.6v2.1h-2.6zM662.8 477h2.6v2.1h-2.6zM666.8 477h2.6v2.1h-2.6zM692.8 477h2.6v2.1h-2.6zM573.1 478.5h2.6v2.1h-2.6zM583.1 478.5h18.5v2.1h-18.5zM603 478.5h8.6v2.1h-8.6zM621 478.5h6.6v2.1h-6.6zM628.9 478.5h4.6v2.1h-4.6zM662.8 478.5h2.6v2.1h-2.6zM666.8 478.5h8.6v2.1h-8.6zM690.8 478.5h4.6v2.1h-4.6zM696.7 478.5h2.6v2.1h-2.6zM549.2 480h2.6v2.1h-2.6zM555.2 480h2.6v2.1h-2.6zM575.1 480h2.6v2.1h-2.6zM583.1 480h18.5v2.1h-18.5zM603 480h8.6v2.1h-8.6zM621 480h6.6v2.1h-6.6zM628.9 480h4.6v2.1h-4.6zM662.8 480h2.6v2.1h-2.6zM666.8 480h2.6v2.1h-2.6zM672.8 480h2.6v2.1h-2.6zM690.8 480h4.6v2.1h-4.6zM696.7 480h2.6v2.1h-2.6zM541.2 481.5h2.6v2.1h-2.6zM549.2 481.5h2.6v2.1h-2.6zM555.2 481.5h2.6v2.1h-2.6zM559.1 481.5h2.6v2.1h-2.6zM563.1 481.5h2.6v2.1h-2.6zM573.1 481.5h4.6v2.1h-4.6zM583.1 481.5h2.6v2.1h-2.6zM591.1 481.5h2.6v2.1h-2.6zM595 481.5h6.6v2.1h-6.6zM603 481.5h8.6v2.1h-8.6zM656.9 481.5h2.6v2.1h-2.6zM672.8 481.5h2.6v2.1h-2.6zM690.8 481.5h4.6v2.1h-4.6zM696.7 481.5h4.6v2.1h-4.6zM706.7 481.5h2.6v2.1h-2.6zM541.2 483h4.6v2.1h-4.6zM547.2 483h4.6v2.1h-4.6zM555.2 483h6.6v2.1h-6.6zM563.1 483h2.6v2.1h-2.6zM571.1 483h4.6v2.1h-4.6zM583.1 483h2.6v2.1h-2.6zM587.1 483h4.6v2.1h-4.6zM593 483h8.6v2.1h-8.6zM605 483h6.6v2.1h-6.6zM623 483h4.6v2.1h-4.6zM628.9 483h4.6v2.1h-4.6zM642.9 483h4.6v2.1h-4.6zM648.9 483h4.6v2.1h-4.6zM654.9 483h4.6v2.1h-4.6zM674.8 483h2.6v2.1h-2.6zM678.8 483h2.6v2.1h-2.6zM690.8 483h4.6v2.1h-4.6zM702.7 483h2.6v2.1h-2.6zM706.7 483h4.6v2.1h-4.6zM541.2 484.4h4.6v2.1h-4.6zM549.2 484.4h2.6v2.1h-2.6zM553.2 484.4h8.6v2.1h-8.6zM563.1 484.4h2.6v2.1h-2.6zM573.1 484.4h4.6v2.1h-4.6zM585.1 484.4h4.6v2.1h-4.6zM593 484.4h2.6v2.1h-2.6zM599 484.4h2.6v2.1h-2.6zM603 484.4h2.6v2.1h-2.6zM628.9 484.4h2.6v2.1h-2.6zM642.9 484.4h4.6v2.1h-4.6zM648.9 484.4h10.6v2.1h-10.6zM672.8 484.4h2.6v2.1h-2.6zM676.8 484.4h4.6v2.1h-4.6zM682.8 484.4h2.6v2.1h-2.6zM696.7 484.4h2.6v2.1h-2.6zM702.7 484.4h2.6v2.1h-2.6zM706.7 484.4h4.6v2.1h-4.6zM541.2 485.9h4.6v2.1h-4.6zM549.2 485.9h4.6v2.1h-4.6zM555.2 485.9h6.6v2.1h-6.6zM563.1 485.9h2.6v2.1h-2.6zM573.1 485.9h4.6v2.1h-4.6zM593 485.9h2.6v2.1h-2.6zM642.9 485.9h4.6v2.1h-4.6zM648.9 485.9h4.6v2.1h-4.6zM654.9 485.9h4.6v2.1h-4.6zM674.8 485.9h4.6v2.1h-4.6zM682.8 485.9h2.6v2.1h-2.6zM686.8 485.9h2.6v2.1h-2.6zM696.7 485.9h2.6v2.1h-2.6zM702.7 485.9h2.6v2.1h-2.6zM706.7 485.9h4.6v2.1h-4.6zM543.2 487.4h2.6v2.1h-2.6zM549.2 487.4h2.6v2.1h-2.6zM555.2 487.4h6.6v2.1h-6.6zM563.1 487.4h2.6v2.1h-2.6zM642.9 487.4h4.6v2.1h-4.6zM648.9 487.4h4.6v2.1h-4.6zM654.9 487.4h4.6v2.1h-4.6zM674.8 487.4h6.6v2.1h-6.6zM682.8 487.4h2.6v2.1h-2.6zM686.8 487.4h2.6v2.1h-2.6zM702.7 487.4h2.6v2.1h-2.6zM706.7 487.4h4.6v2.1h-4.6zM541.2 488.9h4.6v2.1h-4.6zM549.2 488.9h2.6v2.1h-2.6zM555.2 488.9h2.6v2.1h-2.6zM642.9 488.9h4.6v2.1h-4.6zM648.9 488.9h2.6v2.1h-2.6zM654.9 488.9h2.6v2.1h-2.6zM674.8 488.9h6.6v2.1h-6.6zM682.8 488.9h2.6v2.1h-2.6zM686.8 488.9h2.6v2.1h-2.6zM541.2 490.4h2.6v2.1h-2.6zM549.2 490.4h2.6v2.1h-2.6zM648.9 490.4h2.6v2.1h-2.6zM654.9 490.4h4.6v2.1h-4.6zM674.8 490.4h6.6v2.1h-6.6zM682.8 490.4h2.6v2.1h-2.6zM686.8 490.4h2.6v2.1h-2.6zM702.7 490.4h2.6v2.1h-2.6zM706.7 490.4h2.6v2.1h-2.6zM549.2 491.9h2.6v2.1h-2.6zM563.1 491.9h2.6v2.1h-2.6zM644.9 491.9h2.6v2.1h-2.6zM656.9 491.9h2.6v2.1h-2.6zM674.8 491.9h6.6v2.1h-6.6zM686.8 491.9h2.6v2.1h-2.6zM706.7 491.9h2.6v2.1h-2.6zM674.8 493.4h4.6v2.1h-4.6zM682.8 493.4h2.6v2.1h-2.6zM678.8 494.9h2.6v2.1h-2.6zM676.8 496.4h4.6v2.1h-4.6zM682.8 496.4h2.6v2.1h-2.6z"/><path fill="#0088ff" d="M585.1 481.5h6.6v2.1h-6.6zM593 481.5h2.6v2.1h-2.6zM585.1 483h2.6v2.1h-2.6zM591.1 483h2.6v2.1h-2.6zM603 483h2.6v2.1h-2.6zM621 483h2.6v2.1h-2.6zM662.8 483h6.6v2.1h-6.6zM672.8 483h2.6v2.1h-2.6zM696.7 483h2.6v2.1h-2.6zM583.1 484.4h2.6v2.1h-2.6zM589.1 484.4h4.6v2.1h-4.6zM595 484.4h4.6v2.1h-4.6zM605 484.4h6.6v2.1h-6.6zM621 484.4h6.6v2.1h-6.6zM630.9 484.4h2.6v2.1h-2.6zM662.8 484.4h2.6v2.1h-2.6zM666.8 484.4h2.6v2.1h-2.6zM690.8 484.4h4.6v2.1h-4.6zM583.1 485.9h10.6v2.1h-10.6zM595 485.9h6.6v2.1h-6.6zM603 485.9h8.6v2.1h-8.6zM621 485.9h6.6v2.1h-6.6zM628.9 485.9h4.6v2.1h-4.6zM662.8 485.9h6.6v2.1h-6.6zM672.8 485.9h2.6v2.1h-2.6zM690.8 485.9h4.6v2.1h-4.6zM573.1 487.4h4.6v2.1h-4.6zM583.1 487.4h18.5v2.1h-18.5zM603 487.4h8.6v2.1h-8.6zM621 487.4h6.6v2.1h-6.6zM628.9 487.4h4.6v2.1h-4.6zM662.8 487.4h2.6v2.1h-2.6zM666.8 487.4h2.6v2.1h-2.6zM672.8 487.4h2.6v2.1h-2.6zM690.8 487.4h8.6v2.1h-8.6zM575.1 488.9h2.6v2.1h-2.6zM583.1 488.9h10.6v2.1h-10.6zM621 488.9h6.6v2.1h-6.6zM628.9 488.9h4.6v2.1h-4.6zM650.9 488.9h2.6v2.1h-2.6zM656.9 488.9h2.6v2.1h-2.6zM662.8 488.9h2.6v2.1h-2.6zM666.8 488.9h2.6v2.1h-2.6zM672.8 488.9h2.6v2.1h-2.6zM690.8 488.9h4.6v2.1h-4.6zM543.2 490.4h2.6v2.1h-2.6zM555.2 490.4h6.6v2.1h-6.6zM563.1 490.4h2.6v2.1h-2.6zM573.1 490.4h4.6v2.1h-4.6zM587.1 490.4h14.6v2.1h-14.6zM603 490.4h6.6v2.1h-6.6zM621 490.4h2.6v2.1h-2.6zM625 490.4h2.6v2.1h-2.6zM630.9 490.4h2.6v2.1h-2.6zM644.9 490.4h2.6v2.1h-2.6zM650.9 490.4h2.6v2.1h-2.6zM660.8 490.4h4.6v2.1h-4.6zM666.8 490.4h2.6v2.1h-2.6zM672.8 490.4h2.6v2.1h-2.6zM692.8 490.4h2.6v2.1h-2.6zM696.7 490.4h2.6v2.1h-2.6zM708.7 490.4h2.6v2.1h-2.6zM541.2 491.9h4.6v2.1h-4.6zM555.2 491.9h6.6v2.1h-6.6zM571.1 491.9h6.6v2.1h-6.6zM583.1 491.9h8.6v2.1h-8.6zM593 491.9h6.6v2.1h-6.6zM603 491.9h2.6v2.1h-2.6zM621 491.9h2.6v2.1h-2.6zM625 491.9h2.6v2.1h-2.6zM628.9 491.9h4.6v2.1h-4.6zM642.9 491.9h2.6v2.1h-2.6zM650.9 491.9h2.6v2.1h-2.6zM654.9 491.9h2.6v2.1h-2.6zM670.8 491.9h2.6v2.1h-2.6zM690.8 491.9h4.6v2.1h-4.6zM696.7 491.9h2.6v2.1h-2.6zM702.7 491.9h2.6v2.1h-2.6zM708.7 491.9h2.6v2.1h-2.6zM541.2 493.4h4.6v2.1h-4.6zM549.2 493.4h2.6v2.1h-2.6zM555.2 493.4h6.6v2.1h-6.6zM563.1 493.4h2.6v2.1h-2.6zM573.1 493.4h4.6v2.1h-4.6zM587.1 493.4h2.6v2.1h-2.6zM593 493.4h2.6v2.1h-2.6zM642.9 493.4h4.6v2.1h-4.6zM648.9 493.4h4.6v2.1h-4.6zM654.9 493.4h4.6v2.1h-4.6zM678.8 493.4h2.6v2.1h-2.6zM686.8 493.4h2.6v2.1h-2.6zM702.7 493.4h2.6v2.1h-2.6zM706.7 493.4h4.6v2.1h-4.6zM541.2 494.9h4.6v2.1h-4.6zM549.2 494.9h2.6v2.1h-2.6zM555.2 494.9h6.6v2.1h-6.6zM563.1 494.9h2.6v2.1h-2.6zM575.1 494.9h2.6v2.1h-2.6zM587.1 494.9h2.6v2.1h-2.6zM593 494.9h2.6v2.1h-2.6zM642.9 494.9h4.6v2.1h-4.6zM648.9 494.9h10.6v2.1h-10.6zM674.8 494.9h4.6v2.1h-4.6zM682.8 494.9h2.6v2.1h-2.6zM686.8 494.9h2.6v2.1h-2.6zM702.7 494.9h8.6v2.1h-8.6zM541.2 496.4h2.6v2.1h-2.6zM549.2 496.4h2.6v2.1h-2.6zM555.2 496.4h6.6v2.1h-6.6zM563.1 496.4h2.6v2.1h-2.6zM587.1 496.4h2.6v2.1h-2.6zM593 496.4h2.6v2.1h-2.6zM642.9 496.4h4.6v2.1h-4.6zM648.9 496.4h2.6v2.1h-2.6zM654.9 496.4h4.6v2.1h-4.6zM674.8 496.4h2.6v2.1h-2.6zM686.8 496.4h2.6v2.1h-2.6zM702.7 496.4h2.6v2.1h-2.6zM708.7 496.4h2.6v2.1h-2.6zM541.2 497.9h2.6v2.1h-2.6zM549.2 497.9h2.6v2.1h-2.6zM555.2 497.9h6.6v2.1h-6.6zM563.1 497.9h2.6v2.1h-2.6zM587.1 497.9h2.6v2.1h-2.6zM593 497.9h2.6v2.1h-2.6zM644.9 497.9h2.6v2.1h-2.6zM656.9 497.9h2.6v2.1h-2.6zM676.8 497.9h4.6v2.1h-4.6zM682.8 497.9h2.6v2.1h-2.6zM702.7 497.9h8.6v2.1h-8.6zM541.2 499.4h4.6v2.1h-4.6zM549.2 499.4h2.6v2.1h-2.6zM555.2 499.4h2.6v2.1h-2.6zM559.1 499.4h2.6v2.1h-2.6zM587.1 499.4h2.6v2.1h-2.6zM644.9 499.4h2.6v2.1h-2.6zM648.9 499.4h2.6v2.1h-2.6zM652.9 499.4h4.6v2.1h-4.6zM674.8 499.4h4.6v2.1h-4.6zM682.8 499.4h2.6v2.1h-2.6zM686.8 499.4h2.6v2.1h-2.6zM702.7 499.4h2.6v2.1h-2.6zM708.7 499.4h2.6v2.1h-2.6zM547.2 500.9h2.6v2.1h-2.6zM642.9 500.9h2.6v2.1h-2.6zM674.8 500.9h6.6v2.1h-6.6zM682.8 500.9h2.6v2.1h-2.6zM686.8 500.9h2.6v2.1h-2.6zM702.7 500.9h2.6v2.1h-2.6zM674.8 502.4h6.6v2.1h-6.6zM682.8 502.4h2.6v2.1h-2.6zM686.8 502.4h2.6v2.1h-2.6zM593 503.9h2.6v2.1h-2.6zM674.8 503.9h2.6v2.1h-2.6zM682.8 503.9h2.6v2.1h-2.6zM686.8 503.9h2.6v2.1h-2.6zM593 505.4h2.6v2.1h-2.6zM676.8 505.4h4.6v2.1h-4.6zM587.1 506.8h2.6v2.1h-2.6zM674.8 506.8h2.6v2.1h-2.6zM587.1 508.3h2.6v2.1h-2.6zM593 514.3h2.6v2.1h-2.6zM593 515.8h2.6v2.1h-2.6z"/><path fill="#00a9ff" d="M583.1 490.4h4.6v2.1h-4.6zM609 490.4h2.6v2.1h-2.6zM623 490.4h2.6v2.1h-2.6zM628.9 490.4h2.6v2.1h-2.6zM690.8 490.4h2.6v2.1h-2.6zM591.1 491.9h2.6v2.1h-2.6zM599 491.9h2.6v2.1h-2.6zM605 491.9h6.6v2.1h-6.6zM623 491.9h2.6v2.1h-2.6zM626.9 491.9h2.6v2.1h-2.6zM662.8 491.9h2.6v2.1h-2.6zM666.8 491.9h2.6v2.1h-2.6zM672.8 491.9h2.6v2.1h-2.6zM583.1 493.4h2.6v2.1h-2.6zM589.1 493.4h4.6v2.1h-4.6zM595 493.4h6.6v2.1h-6.6zM603 493.4h8.6v2.1h-8.6zM662.8 493.4h2.6v2.1h-2.6zM666.8 493.4h4.6v2.1h-4.6zM672.8 493.4h2.6v2.1h-2.6zM690.8 493.4h4.6v2.1h-4.6zM696.7 493.4h2.6v2.1h-2.6zM573.1 494.9h2.6v2.1h-2.6zM583.1 494.9h4.6v2.1h-4.6zM589.1 494.9h4.6v2.1h-4.6zM595 494.9h6.6v2.1h-6.6zM603 494.9h8.6v2.1h-8.6zM621 494.9h6.6v2.1h-6.6zM628.9 494.9h4.6v2.1h-4.6zM662.8 494.9h2.6v2.1h-2.6zM666.8 494.9h2.6v2.1h-2.6zM672.8 494.9h2.6v2.1h-2.6zM690.8 494.9h8.6v2.1h-8.6zM573.1 496.4h4.6v2.1h-4.6zM583.1 496.4h4.6v2.1h-4.6zM589.1 496.4h4.6v2.1h-4.6zM595 496.4h6.6v2.1h-6.6zM603 496.4h8.6v2.1h-8.6zM623 496.4h4.6v2.1h-4.6zM628.9 496.4h4.6v2.1h-4.6zM660.8 496.4h4.6v2.1h-4.6zM666.8 496.4h2.6v2.1h-2.6zM672.8 496.4h2.6v2.1h-2.6zM690.8 496.4h4.6v2.1h-4.6zM696.7 496.4h2.6v2.1h-2.6zM573.1 497.9h4.6v2.1h-4.6zM589.1 497.9h2.6v2.1h-2.6zM595 497.9h6.6v2.1h-6.6zM605 497.9h2.6v2.1h-2.6zM621 497.9h2.6v2.1h-2.6zM630.9 497.9h2.6v2.1h-2.6zM642.9 497.9h2.6v2.1h-2.6zM650.9 497.9h2.6v2.1h-2.6zM654.9 497.9h2.6v2.1h-2.6zM662.8 497.9h2.6v2.1h-2.6zM672.8 497.9h2.6v2.1h-2.6zM692.8 497.9h2.6v2.1h-2.6zM696.7 497.9h2.6v2.1h-2.6zM557.2 499.4h2.6v2.1h-2.6zM563.1 499.4h2.6v2.1h-2.6zM573.1 499.4h4.6v2.1h-4.6zM585.1 499.4h2.6v2.1h-2.6zM589.1 499.4h2.6v2.1h-2.6zM593 499.4h2.6v2.1h-2.6zM597 499.4h2.6v2.1h-2.6zM605 499.4h2.6v2.1h-2.6zM623 499.4h4.6v2.1h-4.6zM630.9 499.4h2.6v2.1h-2.6zM642.9 499.4h2.6v2.1h-2.6zM650.9 499.4h2.6v2.1h-2.6zM656.9 499.4h2.6v2.1h-2.6zM692.8 499.4h2.6v2.1h-2.6zM706.7 499.4h2.6v2.1h-2.6zM541.2 500.9h4.6v2.1h-4.6zM549.2 500.9h2.6v2.1h-2.6zM553.2 500.9h4.6v2.1h-4.6zM573.1 500.9h4.6v2.1h-4.6zM593 500.9h2.6v2.1h-2.6zM644.9 500.9h2.6v2.1h-2.6zM648.9 500.9h10.6v2.1h-10.6zM690.8 500.9h2.6v2.1h-2.6zM706.7 500.9h4.6v2.1h-4.6zM543.2 502.4h4.6v2.1h-4.6zM549.2 502.4h2.6v2.1h-2.6zM555.2 502.4h6.6v2.1h-6.6zM563.1 502.4h2.6v2.1h-2.6zM575.1 502.4h2.6v2.1h-2.6zM587.1 502.4h2.6v2.1h-2.6zM593 502.4h2.6v2.1h-2.6zM644.9 502.4h2.6v2.1h-2.6zM648.9 502.4h4.6v2.1h-4.6zM654.9 502.4h4.6v2.1h-4.6zM702.7 502.4h2.6v2.1h-2.6zM706.7 502.4h4.6v2.1h-4.6zM541.2 503.9h4.6v2.1h-4.6zM549.2 503.9h2.6v2.1h-2.6zM555.2 503.9h6.6v2.1h-6.6zM563.1 503.9h2.6v2.1h-2.6zM573.1 503.9h2.6v2.1h-2.6zM587.1 503.9h2.6v2.1h-2.6zM642.9 503.9h4.6v2.1h-4.6zM648.9 503.9h10.6v2.1h-10.6zM676.8 503.9h4.6v2.1h-4.6zM541.2 505.4h4.6v2.1h-4.6zM549.2 505.4h2.6v2.1h-2.6zM555.2 505.4h6.6v2.1h-6.6zM563.1 505.4h2.6v2.1h-2.6zM642.9 505.4h4.6v2.1h-4.6zM648.9 505.4h4.6v2.1h-4.6zM654.9 505.4h4.6v2.1h-4.6zM674.8 505.4h2.6v2.1h-2.6zM682.8 505.4h2.6v2.1h-2.6zM686.8 505.4h2.6v2.1h-2.6zM702.7 505.4h2.6v2.1h-2.6zM706.7 505.4h4.6v2.1h-4.6zM541.2 506.8h2.6v2.1h-2.6zM549.2 506.8h2.6v2.1h-2.6zM555.2 506.8h6.6v2.1h-6.6zM593 506.8h2.6v2.1h-2.6zM642.9 506.8h4.6v2.1h-4.6zM650.9 506.8h2.6v2.1h-2.6zM656.9 506.8h2.6v2.1h-2.6zM676.8 506.8h4.6v2.1h-4.6zM682.8 506.8h2.6v2.1h-2.6zM686.8 506.8h2.6v2.1h-2.6zM702.7 506.8h2.6v2.1h-2.6zM706.7 506.8h4.6v2.1h-4.6zM541.2 508.3h2.6v2.1h-2.6zM547.2 508.3h4.6v2.1h-4.6zM555.2 508.3h2.6v2.1h-2.6zM648.9 508.3h4.6v2.1h-4.6zM674.8 508.3h6.6v2.1h-6.6zM682.8 508.3h2.6v2.1h-2.6zM702.7 508.3h2.6v2.1h-2.6zM563.1 509.8h2.6v2.1h-2.6zM593 509.8h2.6v2.1h-2.6zM654.9 509.8h2.6v2.1h-2.6zM674.8 509.8h4.6v2.1h-4.6zM686.8 509.8h2.6v2.1h-2.6zM706.7 509.8h2.6v2.1h-2.6zM593 511.3h2.6v2.1h-2.6zM656.9 511.3h2.6v2.1h-2.6zM674.8 511.3h6.6v2.1h-6.6zM682.8 511.3h2.6v2.1h-2.6zM686.8 511.3h2.6v2.1h-2.6zM593 512.8h2.6v2.1h-2.6zM674.8 512.8h2.6v2.1h-2.6zM678.8 512.8h2.6v2.1h-2.6zM686.8 512.8h2.6v2.1h-2.6zM587.1 514.3h2.6v2.1h-2.6zM674.8 514.3h6.6v2.1h-6.6zM682.8 514.3h2.6v2.1h-2.6zM686.8 514.3h2.6v2.1h-2.6zM587.1 515.8h2.6v2.1h-2.6zM587.1 517.3h2.6v2.1h-2.6zM593 517.3h2.6v2.1h-2.6zM674.8 517.3h6.6v2.1h-6.6zM682.8 517.3h2.6v2.1h-2.6zM686.8 517.3h2.6v2.1h-2.6zM587.1 518.8h2.6v2.1h-2.6zM593 518.8h2.6v2.1h-2.6zM682.8 518.8h2.6v2.1h-2.6zM587.1 520.3h2.6v2.1h-2.6zM593 520.3h2.6v2.1h-2.6zM682.8 520.3h2.6v2.1h-2.6zM686.8 520.3h2.6v2.1h-2.6zM587.1 521.8h2.6v2.1h-2.6zM593 521.8h2.6v2.1h-2.6zM587.1 523.3h2.6v2.1h-2.6zM593 523.3h2.6v2.1h-2.6zM682.8 523.3h2.6v2.1h-2.6zM587.1 524.8h2.6v2.1h-2.6zM593 524.8h2.6v2.1h-2.6zM676.8 524.8h2.6v2.1h-2.6zM686.8 524.8h2.6v2.1h-2.6zM593 526.3h2.6v2.1h-2.6zM678.8 526.3h2.6v2.1h-2.6zM593 527.8h2.6v2.1h-2.6zM682.8 527.8h2.6v2.1h-2.6zM587.1 529.3h2.6v2.1h-2.6zM587.1 532.2h2.6v2.1h-2.6zM593 535.2h2.6v2.1h-2.6zM587.1 539.7h2.6v2.1h-2.6z"/><path fill="#00caff" d="M619 415.7h2.6v2.1h-2.6zM619 423.2h2.6v2.1h-2.6zM619 436.7h2.6v2.1h-2.6zM619 457.6h2.6v2.1h-2.6zM619 468h2.6v2.1h-2.6zM619 474h2.6v2.1h-2.6zM619 481.5h2.6v2.1h-2.6zM583.1 497.9h4.6v2.1h-4.6zM591.1 497.9h2.6v2.1h-2.6zM607 497.9h4.6v2.1h-4.6zM619 497.9h2.6v2.1h-2.6zM623 497.9h4.6v2.1h-4.6zM628.9 497.9h2.6v2.1h-2.6zM664.8 497.9h4.6v2.1h-4.6zM690.8 497.9h2.6v2.1h-2.6zM583.1 499.4h2.6v2.1h-2.6zM591.1 499.4h2.6v2.1h-2.6zM595 499.4h2.6v2.1h-2.6zM599 499.4h2.6v2.1h-2.6zM603 499.4h2.6v2.1h-2.6zM607 499.4h4.6v2.1h-4.6zM621 499.4h2.6v2.1h-2.6zM628.9 499.4h2.6v2.1h-2.6zM672.8 499.4h2.6v2.1h-2.6zM690.8 499.4h2.6v2.1h-2.6zM696.7 499.4h2.6v2.1h-2.6zM583.1 500.9h2.6v2.1h-2.6zM595 500.9h6.6v2.1h-6.6zM603 500.9h8.6v2.1h-8.6zM621 500.9h6.6v2.1h-6.6zM628.9 500.9h4.6v2.1h-4.6zM662.8 500.9h2.6v2.1h-2.6zM666.8 500.9h4.6v2.1h-4.6zM672.8 500.9h2.6v2.1h-2.6zM692.8 500.9h2.6v2.1h-2.6zM696.7 500.9h2.6v2.1h-2.6zM573.1 502.4h2.6v2.1h-2.6zM583.1 502.4h4.6v2.1h-4.6zM589.1 502.4h4.6v2.1h-4.6zM595 502.4h2.6v2.1h-2.6zM599 502.4h2.6v2.1h-2.6zM603 502.4h8.6v2.1h-8.6zM621 502.4h6.6v2.1h-6.6zM628.9 502.4h4.6v2.1h-4.6zM662.8 502.4h2.6v2.1h-2.6zM666.8 502.4h2.6v2.1h-2.6zM672.8 502.4h2.6v2.1h-2.6zM690.8 502.4h4.6v2.1h-4.6zM696.7 502.4h2.6v2.1h-2.6zM575.1 503.9h2.6v2.1h-2.6zM583.1 503.9h4.6v2.1h-4.6zM589.1 503.9h4.6v2.1h-4.6zM595 503.9h6.6v2.1h-6.6zM603 503.9h8.6v2.1h-8.6zM623 503.9h2.6v2.1h-2.6zM662.8 503.9h2.6v2.1h-2.6zM672.8 503.9h2.6v2.1h-2.6zM690.8 503.9h4.6v2.1h-4.6zM696.7 503.9h2.6v2.1h-2.6zM573.1 505.4h4.6v2.1h-4.6zM583.1 505.4h2.6v2.1h-2.6zM587.1 505.4h4.6v2.1h-4.6zM595 505.4h2.6v2.1h-2.6zM599 505.4h2.6v2.1h-2.6zM603 505.4h2.6v2.1h-2.6zM609 505.4h2.6v2.1h-2.6zM621 505.4h2.6v2.1h-2.6zM625 505.4h2.6v2.1h-2.6zM628.9 505.4h4.6v2.1h-4.6zM666.8 505.4h4.6v2.1h-4.6zM690.8 505.4h4.6v2.1h-4.6zM543.2 506.8h2.6v2.1h-2.6zM563.1 506.8h2.6v2.1h-2.6zM573.1 506.8h4.6v2.1h-4.6zM585.1 506.8h2.6v2.1h-2.6zM597 506.8h4.6v2.1h-4.6zM603 506.8h4.6v2.1h-4.6zM621 506.8h4.6v2.1h-4.6zM654.9 506.8h2.6v2.1h-2.6zM543.2 508.3h2.6v2.1h-2.6zM575.1 508.3h2.6v2.1h-2.6zM642.9 508.3h4.6v2.1h-4.6zM654.9 508.3h4.6v2.1h-4.6zM690.8 508.3h2.6v2.1h-2.6zM704.7 508.3h6.6v2.1h-6.6zM541.2 509.8h4.6v2.1h-4.6zM549.2 509.8h2.6v2.1h-2.6zM555.2 509.8h6.6v2.1h-6.6zM573.1 509.8h2.6v2.1h-2.6zM642.9 509.8h4.6v2.1h-4.6zM648.9 509.8h4.6v2.1h-4.6zM656.9 509.8h2.6v2.1h-2.6zM702.7 509.8h2.6v2.1h-2.6zM708.7 509.8h2.6v2.1h-2.6zM541.2 511.3h6.6v2.1h-6.6zM549.2 511.3h2.6v2.1h-2.6zM555.2 511.3h6.6v2.1h-6.6zM563.1 511.3h2.6v2.1h-2.6zM652.9 511.3h4.6v2.1h-4.6zM702.7 511.3h8.6v2.1h-8.6zM541.2 512.8h4.6v2.1h-4.6zM549.2 512.8h4.6v2.1h-4.6zM555.2 512.8h6.6v2.1h-6.6zM563.1 512.8h2.6v2.1h-2.6zM642.9 512.8h4.6v2.1h-4.6zM648.9 512.8h4.6v2.1h-4.6zM654.9 512.8h4.6v2.1h-4.6zM676.8 512.8h2.6v2.1h-2.6zM682.8 512.8h2.6v2.1h-2.6zM702.7 512.8h2.6v2.1h-2.6zM706.7 512.8h4.6v2.1h-4.6zM541.2 514.3h4.6v2.1h-4.6zM549.2 514.3h2.6v2.1h-2.6zM555.2 514.3h6.6v2.1h-6.6zM563.1 514.3h2.6v2.1h-2.6zM644.9 514.3h2.6v2.1h-2.6zM648.9 514.3h4.6v2.1h-4.6zM654.9 514.3h4.6v2.1h-4.6zM702.7 514.3h2.6v2.1h-2.6zM706.7 514.3h4.6v2.1h-4.6zM541.2 515.8h4.6v2.1h-4.6zM555.2 515.8h2.6v2.1h-2.6zM642.9 515.8h4.6v2.1h-4.6zM650.9 515.8h2.6v2.1h-2.6zM656.9 515.8h2.6v2.1h-2.6zM676.8 515.8h2.6v2.1h-2.6zM702.7 515.8h6.6v2.1h-6.6zM545.2 517.3h2.6v2.1h-2.6zM555.2 517.3h2.6v2.1h-2.6zM563.1 517.3h2.6v2.1h-2.6zM619 517.3h2.6v2.1h-2.6zM642.9 517.3h4.6v2.1h-4.6zM648.9 517.3h4.6v2.1h-4.6zM656.9 517.3h2.6v2.1h-2.6zM702.7 517.3h2.6v2.1h-2.6zM706.7 517.3h4.6v2.1h-4.6zM541.2 518.8h2.6v2.1h-2.6zM549.2 518.8h2.6v2.1h-2.6zM555.2 518.8h6.6v2.1h-6.6zM563.1 518.8h2.6v2.1h-2.6zM642.9 518.8h2.6v2.1h-2.6zM648.9 518.8h4.6v2.1h-4.6zM654.9 518.8h4.6v2.1h-4.6zM674.8 518.8h4.6v2.1h-4.6zM686.8 518.8h2.6v2.1h-2.6zM704.7 518.8h4.6v2.1h-4.6zM541.2 520.3h4.6v2.1h-4.6zM555.2 520.3h2.6v2.1h-2.6zM559.1 520.3h2.6v2.1h-2.6zM563.1 520.3h2.6v2.1h-2.6zM642.9 520.3h4.6v2.1h-4.6zM648.9 520.3h4.6v2.1h-4.6zM674.8 520.3h6.6v2.1h-6.6zM541.2 521.8h4.6v2.1h-4.6zM549.2 521.8h2.6v2.1h-2.6zM557.2 521.8h4.6v2.1h-4.6zM563.1 521.8h2.6v2.1h-2.6zM642.9 521.8h4.6v2.1h-4.6zM648.9 521.8h2.6v2.1h-2.6zM654.9 521.8h4.6v2.1h-4.6zM674.8 521.8h10.6v2.1h-10.6zM686.8 521.8h2.6v2.1h-2.6zM702.7 521.8h2.6v2.1h-2.6zM541.2 523.3h4.6v2.1h-4.6zM549.2 523.3h2.6v2.1h-2.6zM555.2 523.3h2.6v2.1h-2.6zM642.9 523.3h2.6v2.1h-2.6zM654.9 523.3h4.6v2.1h-4.6zM674.8 523.3h6.6v2.1h-6.6zM686.8 523.3h2.6v2.1h-2.6zM702.7 523.3h2.6v2.1h-2.6zM706.7 523.3h4.6v2.1h-4.6zM541.2 524.8h2.6v2.1h-2.6zM549.2 524.8h2.6v2.1h-2.6zM557.2 524.8h4.6v2.1h-4.6zM644.9 524.8h14.6v2.1h-14.6zM674.8 524.8h2.6v2.1h-2.6zM678.8 524.8h2.6v2.1h-2.6zM682.8 524.8h2.6v2.1h-2.6zM702.7 524.8h2.6v2.1h-2.6zM706.7 524.8h4.6v2.1h-4.6zM541.2 526.3h4.6v2.1h-4.6zM549.2 526.3h2.6v2.1h-2.6zM557.2 526.3h4.6v2.1h-4.6zM563.1 526.3h2.6v2.1h-2.6zM642.9 526.3h4.6v2.1h-4.6zM648.9 526.3h4.6v2.1h-4.6zM654.9 526.3h4.6v2.1h-4.6zM674.8 526.3h4.6v2.1h-4.6zM682.8 526.3h2.6v2.1h-2.6zM686.8 526.3h2.6v2.1h-2.6zM702.7 526.3h2.6v2.1h-2.6zM708.7 526.3h2.6v2.1h-2.6zM541.2 527.8h2.6v2.1h-2.6zM549.2 527.8h2.6v2.1h-2.6zM555.2 527.8h6.6v2.1h-6.6zM563.1 527.8h2.6v2.1h-2.6zM587.1 527.8h2.6v2.1h-2.6zM648.9 527.8h2.6v2.1h-2.6zM674.8 527.8h4.6v2.1h-4.6zM702.7 527.8h2.6v2.1h-2.6zM706.7 527.8h4.6v2.1h-4.6zM541.2 529.3h2.6v2.1h-2.6zM549.2 529.3h2.6v2.1h-2.6zM555.2 529.3h2.6v2.1h-2.6zM642.9 529.3h2.6v2.1h-2.6zM648.9 529.3h2.6v2.1h-2.6zM654.9 529.3h2.6v2.1h-2.6zM674.8 529.3h8.6v2.1h-8.6zM686.8 529.3h2.6v2.1h-2.6zM541.2 530.7h4.6v2.1h-4.6zM559.1 530.7h4.6v2.1h-4.6zM587.1 530.7h2.6v2.1h-2.6zM593 530.7h2.6v2.1h-2.6zM656.9 530.7h2.6v2.1h-2.6zM674.8 530.7h4.6v2.1h-4.6zM543.2 532.2h2.6v2.1h-2.6zM549.2 532.2h2.6v2.1h-2.6zM642.9 532.2h2.6v2.1h-2.6zM648.9 532.2h2.6v2.1h-2.6zM656.9 532.2h2.6v2.1h-2.6zM676.8 532.2h4.6v2.1h-4.6zM682.8 532.2h2.6v2.1h-2.6zM686.8 532.2h2.6v2.1h-2.6zM708.7 532.2h2.6v2.1h-2.6zM557.2 533.7h4.6v2.1h-4.6zM587.1 533.7h2.6v2.1h-2.6zM593 533.7h2.6v2.1h-2.6zM644.9 533.7h2.6v2.1h-2.6zM650.9 533.7h2.6v2.1h-2.6zM654.9 533.7h4.6v2.1h-4.6zM674.8 533.7h6.6v2.1h-6.6zM682.8 533.7h2.6v2.1h-2.6zM686.8 533.7h2.6v2.1h-2.6zM708.7 533.7h2.6v2.1h-2.6zM549.2 535.2h2.6v2.1h-2.6zM555.2 535.2h8.6v2.1h-8.6zM619 535.2h2.6v2.1h-2.6zM644.9 535.2h2.6v2.1h-2.6zM650.9 535.2h2.6v2.1h-2.6zM654.9 535.2h4.6v2.1h-4.6zM674.8 535.2h4.6v2.1h-4.6zM682.8 535.2h2.6v2.1h-2.6zM686.8 535.2h2.6v2.1h-2.6zM708.7 535.2h2.6v2.1h-2.6zM541.2 536.7h4.6v2.1h-4.6zM549.2 536.7h2.6v2.1h-2.6zM559.1 536.7h2.6v2.1h-2.6zM587.1 536.7h2.6v2.1h-2.6zM593 536.7h2.6v2.1h-2.6zM619 536.7h2.6v2.1h-2.6zM642.9 536.7h2.6v2.1h-2.6zM654.9 536.7h4.6v2.1h-4.6zM674.8 536.7h6.6v2.1h-6.6zM682.8 536.7h2.6v2.1h-2.6zM686.8 536.7h2.6v2.1h-2.6zM702.7 536.7h2.6v2.1h-2.6zM708.7 536.7h2.6v2.1h-2.6zM541.2 538.2h4.6v2.1h-4.6zM549.2 538.2h2.6v2.1h-2.6zM555.2 538.2h4.6v2.1h-4.6zM561.1 538.2h4.6v2.1h-4.6zM587.1 538.2h2.6v2.1h-2.6zM593 538.2h2.6v2.1h-2.6zM642.9 538.2h2.6v2.1h-2.6zM650.9 538.2h2.6v2.1h-2.6zM654.9 538.2h4.6v2.1h-4.6zM674.8 538.2h10.6v2.1h-10.6zM686.8 538.2h2.6v2.1h-2.6zM702.7 538.2h2.6v2.1h-2.6zM549.2 539.7h2.6v2.1h-2.6zM555.2 539.7h2.6v2.1h-2.6zM559.1 539.7h2.6v2.1h-2.6zM563.1 539.7h2.6v2.1h-2.6zM593 539.7h2.6v2.1h-2.6zM642.9 539.7h2.6v2.1h-2.6zM650.9 539.7h2.6v2.1h-2.6zM654.9 539.7h2.6v2.1h-2.6zM674.8 539.7h6.6v2.1h-6.6zM682.8 539.7h2.6v2.1h-2.6zM686.8 539.7h2.6v2.1h-2.6zM706.7 539.7h4.6v2.1h-4.6z"/><path fill="#00eaff" d="M619 406.8h2.6v2.1h-2.6zM619 414.2h2.6v2.1h-2.6zM682.8 417.2h2.6v2.1h-2.6zM619 426.2h2.6v2.1h-2.6zM619 430.7h2.6v2.1h-2.6zM619 433.7h2.6v2.1h-2.6zM654.9 433.7h2.6v2.1h-2.6zM619 435.2h2.6v2.1h-2.6zM619 441.1h2.6v2.1h-2.6zM619 444.1h2.6v2.1h-2.6zM619 447.1h2.6v2.1h-2.6zM619 453.1h2.6v2.1h-2.6zM619 456.1h2.6v2.1h-2.6zM619 460.5h2.6v2.1h-2.6zM619 462h2.6v2.1h-2.6zM619 466.5h2.6v2.1h-2.6zM686.8 466.5h2.6v2.1h-2.6zM650.9 469.5h2.6v2.1h-2.6zM619 472.5h2.6v2.1h-2.6zM619 475.5h2.6v2.1h-2.6zM619 478.5h2.6v2.1h-2.6zM654.9 481.5h2.6v2.1h-2.6zM575.1 483h2.6v2.1h-2.6zM619 487.4h2.6v2.1h-2.6zM619 490.4h2.6v2.1h-2.6zM619 493.4h2.6v2.1h-2.6zM619 494.9h2.6v2.1h-2.6zM619 496.4h2.6v2.1h-2.6zM603 497.9h2.6v2.1h-2.6zM591.1 500.9h2.6v2.1h-2.6zM621 503.9h2.6v2.1h-2.6zM585.1 505.4h2.6v2.1h-2.6zM591.1 505.4h2.6v2.1h-2.6zM597 505.4h2.6v2.1h-2.6zM605 505.4h4.6v2.1h-4.6zM623 505.4h2.6v2.1h-2.6zM662.8 505.4h4.6v2.1h-4.6zM672.8 505.4h2.6v2.1h-2.6zM696.7 505.4h2.6v2.1h-2.6zM583.1 506.8h2.6v2.1h-2.6zM589.1 506.8h4.6v2.1h-4.6zM595 506.8h2.6v2.1h-2.6zM607 506.8h4.6v2.1h-4.6zM625 506.8h2.6v2.1h-2.6zM628.9 506.8h4.6v2.1h-4.6zM662.8 506.8h6.6v2.1h-6.6zM672.8 506.8h2.6v2.1h-2.6zM690.8 506.8h4.6v2.1h-4.6zM696.7 506.8h2.6v2.1h-2.6zM583.1 508.3h4.6v2.1h-4.6zM589.1 508.3h4.6v2.1h-4.6zM621 508.3h6.6v2.1h-6.6zM628.9 508.3h4.6v2.1h-4.6zM662.8 508.3h2.6v2.1h-2.6zM666.8 508.3h2.6v2.1h-2.6zM672.8 508.3h2.6v2.1h-2.6zM575.1 509.8h2.6v2.1h-2.6zM583.1 509.8h10.6v2.1h-10.6zM595 509.8h6.6v2.1h-6.6zM603 509.8h8.6v2.1h-8.6zM621 509.8h6.6v2.1h-6.6zM628.9 509.8h4.6v2.1h-4.6zM662.8 509.8h2.6v2.1h-2.6zM666.8 509.8h2.6v2.1h-2.6zM672.8 509.8h2.6v2.1h-2.6zM690.8 509.8h4.6v2.1h-4.6zM696.7 509.8h2.6v2.1h-2.6zM573.1 511.3h4.6v2.1h-4.6zM583.1 511.3h10.6v2.1h-10.6zM595 511.3h6.6v2.1h-6.6zM603 511.3h8.6v2.1h-8.6zM621 511.3h6.6v2.1h-6.6zM628.9 511.3h4.6v2.1h-4.6zM660.8 511.3h4.6v2.1h-4.6zM666.8 511.3h2.6v2.1h-2.6zM672.8 511.3h2.6v2.1h-2.6zM692.8 511.3h2.6v2.1h-2.6zM696.7 511.3h4.6v2.1h-4.6zM573.1 512.8h4.6v2.1h-4.6zM591.1 512.8h2.6v2.1h-2.6zM595 512.8h2.6v2.1h-2.6zM603 512.8h2.6v2.1h-2.6zM607 512.8h4.6v2.1h-4.6zM621 512.8h6.6v2.1h-6.6zM630.9 512.8h2.6v2.1h-2.6zM672.8 512.8h2.6v2.1h-2.6zM692.8 512.8h2.6v2.1h-2.6zM696.7 512.8h2.6v2.1h-2.6zM571.1 514.3h6.6v2.1h-6.6zM599 514.3h2.6v2.1h-2.6zM603 514.3h2.6v2.1h-2.6zM690.8 514.3h2.6v2.1h-2.6zM557.2 515.8h2.6v2.1h-2.6zM573.1 515.8h4.6v2.1h-4.6zM654.9 515.8h2.6v2.1h-2.6zM708.7 515.8h2.6v2.1h-2.6zM543.2 517.3h2.6v2.1h-2.6zM549.2 517.3h2.6v2.1h-2.6zM557.2 517.3h4.6v2.1h-4.6zM573.1 517.3h4.6v2.1h-4.6zM654.9 517.3h2.6v2.1h-2.6zM543.2 518.8h2.6v2.1h-2.6zM573.1 518.8h4.6v2.1h-4.6zM619 518.8h2.6v2.1h-2.6zM644.9 518.8h2.6v2.1h-2.6zM702.7 518.8h2.6v2.1h-2.6zM708.7 518.8h2.6v2.1h-2.6zM549.2 520.3h2.6v2.1h-2.6zM557.2 520.3h2.6v2.1h-2.6zM573.1 520.3h4.6v2.1h-4.6zM656.9 520.3h2.6v2.1h-2.6zM702.7 520.3h2.6v2.1h-2.6zM706.7 520.3h4.6v2.1h-4.6zM555.2 521.8h2.6v2.1h-2.6zM573.1 521.8h4.6v2.1h-4.6zM650.9 521.8h2.6v2.1h-2.6zM706.7 521.8h4.6v2.1h-4.6zM557.2 523.3h2.6v2.1h-2.6zM573.1 523.3h4.6v2.1h-4.6zM644.9 523.3h2.6v2.1h-2.6zM648.9 523.3h4.6v2.1h-4.6zM543.2 524.8h2.6v2.1h-2.6zM555.2 524.8h2.6v2.1h-2.6zM563.1 524.8h2.6v2.1h-2.6zM573.1 524.8h4.6v2.1h-4.6zM555.2 526.3h2.6v2.1h-2.6zM573.1 526.3h4.6v2.1h-4.6zM706.7 526.3h2.6v2.1h-2.6zM543.2 527.8h2.6v2.1h-2.6zM547.2 527.8h2.6v2.1h-2.6zM573.1 527.8h4.6v2.1h-4.6zM619 527.8h2.6v2.1h-2.6zM642.9 527.8h4.6v2.1h-4.6zM650.9 527.8h2.6v2.1h-2.6zM654.9 527.8h4.6v2.1h-4.6zM543.2 529.3h2.6v2.1h-2.6zM551.2 529.3h2.6v2.1h-2.6zM575.1 529.3h2.6v2.1h-2.6zM619 529.3h2.6v2.1h-2.6zM644.9 529.3h2.6v2.1h-2.6zM656.9 529.3h2.6v2.1h-2.6zM549.2 530.7h2.6v2.1h-2.6zM553.2 530.7h6.6v2.1h-6.6zM563.1 530.7h2.6v2.1h-2.6zM573.1 530.7h4.6v2.1h-4.6zM702.7 530.7h2.6v2.1h-2.6zM706.7 530.7h4.6v2.1h-4.6zM541.2 532.2h2.6v2.1h-2.6zM555.2 532.2h6.6v2.1h-6.6zM563.1 532.2h2.6v2.1h-2.6zM573.1 532.2h4.6v2.1h-4.6zM619 532.2h2.6v2.1h-2.6zM644.9 532.2h2.6v2.1h-2.6zM650.9 532.2h2.6v2.1h-2.6zM702.7 532.2h2.6v2.1h-2.6zM706.7 532.2h2.6v2.1h-2.6zM555.2 533.7h2.6v2.1h-2.6zM563.1 533.7h2.6v2.1h-2.6zM573.1 533.7h4.6v2.1h-4.6zM642.9 533.7h2.6v2.1h-2.6zM702.7 533.7h2.6v2.1h-2.6zM706.7 533.7h2.6v2.1h-2.6zM541.2 535.2h4.6v2.1h-4.6zM563.1 535.2h2.6v2.1h-2.6zM573.1 535.2h4.6v2.1h-4.6zM648.9 535.2h2.6v2.1h-2.6zM702.7 535.2h2.6v2.1h-2.6zM706.7 535.2h2.6v2.1h-2.6zM555.2 536.7h4.6v2.1h-4.6zM561.1 536.7h4.6v2.1h-4.6zM573.1 536.7h4.6v2.1h-4.6zM644.9 536.7h2.6v2.1h-2.6zM648.9 536.7h4.6v2.1h-4.6zM706.7 536.7h2.6v2.1h-2.6zM559.1 538.2h2.6v2.1h-2.6zM573.1 538.2h2.6v2.1h-2.6zM644.9 538.2h2.6v2.1h-2.6zM648.9 538.2h2.6v2.1h-2.6zM706.7 538.2h4.6v2.1h-4.6zM541.2 539.7h4.6v2.1h-4.6zM557.2 539.7h2.6v2.1h-2.6zM573.1 539.7h2.6v2.1h-2.6zM619 539.7h2.6v2.1h-2.6zM644.9 539.7h2.6v2.1h-2.6zM648.9 539.7h2.6v2.1h-2.6zM656.9 539.7h2.6v2.1h-2.6zM702.7 539.7h2.6v2.1h-2.6z"/><path fill="#0cfff3" d="M619 402.3h2.6v2.1h-2.6zM619 403.8h2.6v2.1h-2.6zM630.9 406.8h2.6v2.1h-2.6zM619 408.3h2.6v2.1h-2.6zM619 409.8h2.6v2.1h-2.6zM619 411.3h2.6v2.1h-2.6zM619 412.8h2.6v2.1h-2.6zM619 417.2h2.6v2.1h-2.6zM619 418.7h2.6v2.1h-2.6zM692.8 418.7h2.6v2.1h-2.6zM619 420.2h2.6v2.1h-2.6zM619 421.7h2.6v2.1h-2.6zM619 424.7h2.6v2.1h-2.6zM605 427.7h2.6v2.1h-2.6zM619 427.7h2.6v2.1h-2.6zM694.7 430.7h2.6v2.1h-2.6zM619 432.2h2.6v2.1h-2.6zM619 438.1h2.6v2.1h-2.6zM630.9 441.1h2.6v2.1h-2.6zM619 442.6h2.6v2.1h-2.6zM672.8 444.1h2.6v2.1h-2.6zM619 445.6h2.6v2.1h-2.6zM619 450.1h2.6v2.1h-2.6zM619 451.6h2.6v2.1h-2.6zM619 454.6h2.6v2.1h-2.6zM619 459.1h2.6v2.1h-2.6zM619 463.5h2.6v2.1h-2.6zM619 465h2.6v2.1h-2.6zM623 466.5h2.6v2.1h-2.6zM619 477h2.6v2.1h-2.6zM619 483h2.6v2.1h-2.6zM619 484.4h2.6v2.1h-2.6zM619 488.9h2.6v2.1h-2.6zM543.2 496.4h2.6v2.1h-2.6zM619 499.4h2.6v2.1h-2.6zM619 500.9h2.6v2.1h-2.6zM601 502.4h2.6v2.1h-2.6zM619 502.4h2.6v2.1h-2.6zM704.7 502.4h2.6v2.1h-2.6zM619 503.9h2.6v2.1h-2.6zM619 505.4h2.6v2.1h-2.6zM619 508.3h2.6v2.1h-2.6zM619 509.8h2.6v2.1h-2.6zM690.8 511.3h2.6v2.1h-2.6zM597 512.8h4.6v2.1h-4.6zM605 512.8h2.6v2.1h-2.6zM619 512.8h2.6v2.1h-2.6zM628.9 512.8h2.6v2.1h-2.6zM662.8 512.8h2.6v2.1h-2.6zM666.8 512.8h2.6v2.1h-2.6zM690.8 512.8h2.6v2.1h-2.6zM583.1 514.3h4.6v2.1h-4.6zM589.1 514.3h4.6v2.1h-4.6zM595 514.3h4.6v2.1h-4.6zM605 514.3h6.6v2.1h-6.6zM619 514.3h8.6v2.1h-8.6zM628.9 514.3h4.6v2.1h-4.6zM662.8 514.3h2.6v2.1h-2.6zM666.8 514.3h2.6v2.1h-2.6zM672.8 514.3h2.6v2.1h-2.6zM692.8 514.3h2.6v2.1h-2.6zM696.7 514.3h2.6v2.1h-2.6zM583.1 515.8h4.6v2.1h-4.6zM589.1 515.8h4.6v2.1h-4.6zM595 515.8h16.6v2.1h-16.6zM619 515.8h2.6v2.1h-2.6zM672.8 515.8h2.6v2.1h-2.6zM690.8 515.8h4.6v2.1h-4.6zM583.1 517.3h4.6v2.1h-4.6zM589.1 517.3h4.6v2.1h-4.6zM595 517.3h6.6v2.1h-6.6zM603 517.3h8.6v2.1h-8.6zM621 517.3h6.6v2.1h-6.6zM628.9 517.3h4.6v2.1h-4.6zM662.8 517.3h2.6v2.1h-2.6zM666.8 517.3h2.6v2.1h-2.6zM672.8 517.3h2.6v2.1h-2.6zM690.8 517.3h4.6v2.1h-4.6zM696.7 517.3h2.6v2.1h-2.6zM583.1 518.8h4.6v2.1h-4.6zM589.1 518.8h4.6v2.1h-4.6zM595 518.8h6.6v2.1h-6.6zM603 518.8h8.6v2.1h-8.6zM621 518.8h6.6v2.1h-6.6zM628.9 518.8h4.6v2.1h-4.6zM662.8 518.8h2.6v2.1h-2.6zM666.8 518.8h2.6v2.1h-2.6zM672.8 518.8h2.6v2.1h-2.6zM690.8 518.8h4.6v2.1h-4.6zM696.7 518.8h2.6v2.1h-2.6zM583.1 520.3h4.6v2.1h-4.6zM589.1 520.3h4.6v2.1h-4.6zM595 520.3h6.6v2.1h-6.6zM603 520.3h8.6v2.1h-8.6zM619 520.3h8.6v2.1h-8.6zM628.9 520.3h4.6v2.1h-4.6zM662.8 520.3h2.6v2.1h-2.6zM666.8 520.3h2.6v2.1h-2.6zM672.8 520.3h2.6v2.1h-2.6zM690.8 520.3h8.6v2.1h-8.6zM583.1 521.8h4.6v2.1h-4.6zM589.1 521.8h4.6v2.1h-4.6zM595 521.8h6.6v2.1h-6.6zM603 521.8h8.6v2.1h-8.6zM619 521.8h8.6v2.1h-8.6zM628.9 521.8h4.6v2.1h-4.6zM660.8 521.8h4.6v2.1h-4.6zM672.8 521.8h2.6v2.1h-2.6zM690.8 521.8h4.6v2.1h-4.6zM696.7 521.8h2.6v2.1h-2.6zM583.1 523.3h4.6v2.1h-4.6zM589.1 523.3h4.6v2.1h-4.6zM595 523.3h6.6v2.1h-6.6zM603 523.3h8.6v2.1h-8.6zM619 523.3h8.6v2.1h-8.6zM628.9 523.3h4.6v2.1h-4.6zM662.8 523.3h2.6v2.1h-2.6zM666.8 523.3h2.6v2.1h-2.6zM672.8 523.3h2.6v2.1h-2.6zM690.8 523.3h4.6v2.1h-4.6zM696.7 523.3h2.6v2.1h-2.6zM583.1 524.8h4.6v2.1h-4.6zM589.1 524.8h4.6v2.1h-4.6zM595 524.8h6.6v2.1h-6.6zM603 524.8h8.6v2.1h-8.6zM619 524.8h8.6v2.1h-8.6zM628.9 524.8h4.6v2.1h-4.6zM662.8 524.8h2.6v2.1h-2.6zM666.8 524.8h2.6v2.1h-2.6zM672.8 524.8h2.6v2.1h-2.6zM690.8 524.8h8.6v2.1h-8.6zM583.1 526.3h10.6v2.1h-10.6zM595 526.3h6.6v2.1h-6.6zM603 526.3h8.6v2.1h-8.6zM619 526.3h8.6v2.1h-8.6zM628.9 526.3h4.6v2.1h-4.6zM662.8 526.3h2.6v2.1h-2.6zM666.8 526.3h2.6v2.1h-2.6zM672.8 526.3h2.6v2.1h-2.6zM690.8 526.3h4.6v2.1h-4.6zM696.7 526.3h2.6v2.1h-2.6zM583.1 527.8h4.6v2.1h-4.6zM589.1 527.8h4.6v2.1h-4.6zM595 527.8h6.6v2.1h-6.6zM603 527.8h8.6v2.1h-8.6zM621 527.8h6.6v2.1h-6.6zM628.9 527.8h4.6v2.1h-4.6zM662.8 527.8h2.6v2.1h-2.6zM666.8 527.8h2.6v2.1h-2.6zM672.8 527.8h2.6v2.1h-2.6zM690.8 527.8h4.6v2.1h-4.6zM696.7 527.8h2.6v2.1h-2.6zM583.1 529.3h4.6v2.1h-4.6zM589.1 529.3h4.6v2.1h-4.6zM621 529.3h6.6v2.1h-6.6zM628.9 529.3h4.6v2.1h-4.6zM662.8 529.3h2.6v2.1h-2.6zM666.8 529.3h2.6v2.1h-2.6zM672.8 529.3h2.6v2.1h-2.6zM690.8 529.3h4.6v2.1h-4.6zM583.1 530.7h4.6v2.1h-4.6zM589.1 530.7h4.6v2.1h-4.6zM595 530.7h6.6v2.1h-6.6zM603 530.7h8.6v2.1h-8.6zM619 530.7h8.6v2.1h-8.6zM628.9 530.7h4.6v2.1h-4.6zM662.8 530.7h2.6v2.1h-2.6zM666.8 530.7h2.6v2.1h-2.6zM672.8 530.7h2.6v2.1h-2.6zM690.8 530.7h8.6v2.1h-8.6zM583.1 532.2h4.6v2.1h-4.6zM589.1 532.2h22.5v2.1h-22.5zM621 532.2h12.6v2.1h-12.6zM662.8 532.2h2.6v2.1h-2.6zM666.8 532.2h2.6v2.1h-2.6zM672.8 532.2h2.6v2.1h-2.6zM690.8 532.2h4.6v2.1h-4.6zM696.7 532.2h2.6v2.1h-2.6zM583.1 533.7h4.6v2.1h-4.6zM589.1 533.7h4.6v2.1h-4.6zM595 533.7h6.6v2.1h-6.6zM603 533.7h8.6v2.1h-8.6zM619 533.7h8.6v2.1h-8.6zM628.9 533.7h4.6v2.1h-4.6zM672.8 533.7h2.6v2.1h-2.6zM690.8 533.7h4.6v2.1h-4.6zM696.7 533.7h2.6v2.1h-2.6zM583.1 535.2h10.6v2.1h-10.6zM595 535.2h6.6v2.1h-6.6zM603 535.2h8.6v2.1h-8.6zM621 535.2h6.6v2.1h-6.6zM628.9 535.2h4.6v2.1h-4.6zM662.8 535.2h2.6v2.1h-2.6zM666.8 535.2h4.6v2.1h-4.6zM672.8 535.2h2.6v2.1h-2.6zM690.8 535.2h4.6v2.1h-4.6zM696.7 535.2h2.6v2.1h-2.6zM583.1 536.7h4.6v2.1h-4.6zM589.1 536.7h4.6v2.1h-4.6zM595 536.7h6.6v2.1h-6.6zM603 536.7h8.6v2.1h-8.6zM621 536.7h6.6v2.1h-6.6zM628.9 536.7h4.6v2.1h-4.6zM662.8 536.7h6.6v2.1h-6.6zM672.8 536.7h2.6v2.1h-2.6zM690.8 536.7h4.6v2.1h-4.6zM696.7 536.7h2.6v2.1h-2.6zM575.1 538.2h2.6v2.1h-2.6zM583.1 538.2h4.6v2.1h-4.6zM589.1 538.2h4.6v2.1h-4.6zM595 538.2h16.6v2.1h-16.6zM619 538.2h14.6v2.1h-14.6zM662.8 538.2h6.6v2.1h-6.6zM670.8 538.2h4.6v2.1h-4.6zM690.8 538.2h4.6v2.1h-4.6zM696.7 538.2h2.6v2.1h-2.6zM575.1 539.7h2.6v2.1h-2.6zM583.1 539.7h4.6v2.1h-4.6zM589.1 539.7h4.6v2.1h-4.6zM595 539.7h6.6v2.1h-6.6zM603 539.7h8.6v2.1h-8.6zM621 539.7h6.6v2.1h-6.6zM628.9 539.7h4.6v2.1h-4.6zM660.8 539.7h4.6v2.1h-4.6zM666.8 539.7h2.6v2.1h-2.6zM672.8 539.7h2.6v2.1h-2.6zM690.8 539.7h4.6v2.1h-4.6zM696.7 539.7h2.6v2.1h-2.6z"/><path fill="#2dffd2" d="M619 405.3h2.6v2.1h-2.6zM686.8 415.7h2.6v2.1h-2.6zM690.8 415.7h10.6v2.1h-10.6zM704.7 415.7h4.6v2.1h-4.6zM680.8 418.7h2.6v2.1h-2.6zM597 423.2h2.6v2.1h-2.6zM601 423.2h2.6v2.1h-2.6zM605 423.2h4.6v2.1h-4.6zM662.8 424.7h2.6v2.1h-2.6zM646.9 426.2h2.6v2.1h-2.6zM619 429.2h2.6v2.1h-2.6zM642.9 429.2h2.6v2.1h-2.6zM619 439.6h2.6v2.1h-2.6zM619 448.6h2.6v2.1h-2.6zM708.7 450.1h2.6v2.1h-2.6zM555.2 456.1h2.6v2.1h-2.6zM623 456.1h2.6v2.1h-2.6zM676.8 468h2.6v2.1h-2.6zM619 469.5h2.6v2.1h-2.6zM619 471h2.6v2.1h-2.6zM619 480h2.6v2.1h-2.6zM619 485.9h2.6v2.1h-2.6zM619 491.9h2.6v2.1h-2.6zM648.9 491.9h2.6v2.1h-2.6zM543.2 497.9h2.6v2.1h-2.6zM619 506.8h2.6v2.1h-2.6zM619 511.3h2.6v2.1h-2.6z"/><path fill="#4effb1" d="M662.8 412.8h8.6v2.1h-8.6zM692.8 412.8h2.6v2.1h-2.6zM541.2 415.7h2.6v2.1h-2.6zM650.9 415.7h4.6v2.1h-4.6zM682.8 415.7h2.6v2.1h-2.6zM708.7 415.7h2.6v2.1h-2.6zM593 423.2h4.6v2.1h-4.6zM599 423.2h2.6v2.1h-2.6zM603 423.2h2.6v2.1h-2.6zM609 423.2h2.6v2.1h-2.6zM674.8 426.2h2.6v2.1h-2.6zM702.7 429.2h8.6v2.1h-8.6zM674.8 432.2h2.6v2.1h-2.6zM690.8 432.2h2.6v2.1h-2.6zM694.7 432.2h6.6v2.1h-6.6zM553.2 433.7h2.6v2.1h-2.6zM648.9 435.2h2.6v2.1h-2.6zM642.9 438.1h2.6v2.1h-2.6zM559.1 439.6h6.6v2.1h-6.6zM662.8 441.1h10.6v2.1h-10.6zM605 456.1h2.6v2.1h-2.6zM678.8 468h2.6v2.1h-2.6zM621 496.4h2.6v2.1h-2.6zM686.8 497.9h2.6v2.1h-2.6z"/><path fill="#6fff90" d="M648.9 408.3h2.6v2.1h-2.6zM654.9 411.3h2.6v2.1h-2.6zM670.8 412.8h2.6v2.1h-2.6zM545.2 415.7h2.6v2.1h-2.6zM684.8 415.7h2.6v2.1h-2.6zM557.2 423.2h8.6v2.1h-8.6zM623 423.2h2.6v2.1h-2.6zM626.9 423.2h2.6v2.1h-2.6zM551.2 426.2h2.6v2.1h-2.6zM648.9 426.2h2.6v2.1h-2.6zM678.8 429.2h2.6v2.1h-2.6zM587.1 432.2h2.6v2.1h-2.6zM692.8 432.2h2.6v2.1h-2.6zM603 433.7h2.6v2.1h-2.6zM569.1 435.2h2.6v2.1h-2.6zM573.1 435.2h2.6v2.1h-2.6zM680.8 435.2h2.6v2.1h-2.6zM557.2 439.6h2.6v2.1h-2.6zM597 441.1h4.6v2.1h-4.6zM603 441.1h4.6v2.1h-4.6zM609 441.1h2.6v2.1h-2.6zM585.1 493.4h2.6v2.1h-2.6zM706.7 496.4h2.6v2.1h-2.6zM597 502.4h2.6v2.1h-2.6z"/><path fill="#90ff6f" d="M551.2 411.3h2.6v2.1h-2.6zM559.1 415.7h2.6v2.1h-2.6zM569.1 415.7h6.6v2.1h-6.6zM593 415.7h16.6v2.1h-16.6zM642.9 417.2h2.6v2.1h-2.6zM621 423.2h2.6v2.1h-2.6zM625 423.2h2.6v2.1h-2.6zM628.9 423.2h4.6v2.1h-4.6zM692.8 423.2h2.6v2.1h-2.6zM664.8 429.2h8.6v2.1h-8.6zM541.2 433.7h2.6v2.1h-2.6zM571.1 435.2h2.6v2.1h-2.6zM593 435.2h18.5v2.1h-18.5zM682.8 435.2h4.6v2.1h-4.6zM678.8 439.6h2.6v2.1h-2.6zM690.8 439.6h10.6v2.1h-10.6zM593 441.1h4.6v2.1h-4.6zM601 441.1h2.6v2.1h-2.6zM607 441.1h2.6v2.1h-2.6zM553.2 445.6h2.6v2.1h-2.6zM593 462h4.6v2.1h-4.6zM599 462h8.6v2.1h-8.6z"/><path fill="#b1ff4e" d="M664.8 406.8h8.6v2.1h-8.6zM642.9 408.3h2.6v2.1h-2.6zM553.2 412.8h2.6v2.1h-2.6zM557.2 415.7h2.6v2.1h-2.6zM561.1 415.7h4.6v2.1h-4.6zM609 415.7h2.6v2.1h-2.6zM646.9 417.2h2.6v2.1h-2.6zM654.9 421.7h2.6v2.1h-2.6zM690.8 423.2h2.6v2.1h-2.6zM694.7 423.2h6.6v2.1h-6.6zM547.2 424.7h2.6v2.1h-2.6zM557.2 432.2h2.6v2.1h-2.6zM561.1 432.2h4.6v2.1h-4.6zM664.8 435.2h6.6v2.1h-6.6zM559.1 447.1h6.6v2.1h-6.6zM593 447.1h4.6v2.1h-4.6zM599 447.1h2.6v2.1h-2.6zM603 447.1h2.6v2.1h-2.6zM690.8 447.1h10.6v2.1h-10.6zM642.9 450.1h2.6v2.1h-2.6zM551.2 451.6h2.6v2.1h-2.6zM553.2 456.1h2.6v2.1h-2.6zM690.8 456.1h10.6v2.1h-10.6zM557.2 457.6h4.6v2.1h-4.6zM563.1 457.6h2.6v2.1h-2.6zM621 459.1h12.6v2.1h-12.6zM674.8 460.5h2.6v2.1h-2.6zM597 462h2.6v2.1h-2.6zM607 462h4.6v2.1h-4.6zM648.9 462h2.6v2.1h-2.6zM664.8 465h8.6v2.1h-8.6zM694.7 465h2.6v2.1h-2.6zM698.7 465h2.6v2.1h-2.6zM571.1 468h4.6v2.1h-4.6zM704.7 468h2.6v2.1h-2.6zM654.9 477h2.6v2.1h-2.6z"/><path fill="#d2ff2d" d="M678.8 420.2h2.6v2.1h-2.6zM559.1 432.2h2.6v2.1h-2.6zM670.8 435.2h2.6v2.1h-2.6zM686.8 435.2h2.6v2.1h-2.6zM547.2 436.7h2.6v2.1h-2.6zM654.9 445.6h2.6v2.1h-2.6zM597 447.1h2.6v2.1h-2.6zM601 447.1h2.6v2.1h-2.6zM605 447.1h6.6v2.1h-6.6zM628.9 447.1h2.6v2.1h-2.6zM547.2 450.1h2.6v2.1h-2.6zM650.9 450.1h4.6v2.1h-4.6zM648.9 453.1h2.6v2.1h-2.6zM662.8 453.1h6.6v2.1h-6.6zM670.8 453.1h2.6v2.1h-2.6zM654.9 454.6h2.6v2.1h-2.6zM561.1 457.6h2.6v2.1h-2.6zM569.1 457.6h6.6v2.1h-6.6zM593 457.6h18.5v2.1h-18.5zM642.9 460.5h2.6v2.1h-2.6zM646.9 462h2.6v2.1h-2.6zM678.8 465h2.6v2.1h-2.6zM692.8 465h2.6v2.1h-2.6zM696.7 465h2.6v2.1h-2.6zM551.2 466.5h2.6v2.1h-2.6zM553.2 468h2.6v2.1h-2.6zM559.1 468h2.6v2.1h-2.6zM569.1 468h2.6v2.1h-2.6zM593 468h18.5v2.1h-18.5zM706.7 468h4.6v2.1h-4.6zM541.2 469.5h2.6v2.1h-2.6zM545.2 472.5h2.6v2.1h-2.6zM646.9 472.5h2.6v2.1h-2.6zM585.1 474h6.6v2.1h-6.6zM593 475.5h2.6v2.1h-2.6zM597 475.5h2.6v2.1h-2.6zM601 475.5h4.6v2.1h-4.6z"/><path fill="#f3ff0c" d="M623 447.1h6.6v2.1h-6.6zM630.9 447.1h2.6v2.1h-2.6zM666.8 447.1h4.6v2.1h-4.6zM704.7 447.1h4.6v2.1h-4.6zM541.2 451.6h2.6v2.1h-2.6zM686.8 451.6h2.6v2.1h-2.6zM646.9 453.1h2.6v2.1h-2.6zM668.8 453.1h2.6v2.1h-2.6zM682.8 453.1h4.6v2.1h-4.6zM678.8 456.1h2.6v2.1h-2.6zM583.1 462h8.6v2.1h-8.6zM557.2 468h2.6v2.1h-2.6zM561.1 468h4.6v2.1h-4.6zM648.9 472.5h2.6v2.1h-2.6zM678.8 474h2.6v2.1h-2.6zM595 475.5h2.6v2.1h-2.6zM599 475.5h2.6v2.1h-2.6zM605 475.5h6.6v2.1h-6.6zM664.8 475.5h8.6v2.1h-8.6zM690.8 475.5h10.6v2.1h-10.6z"/><path fill="#ffea00" d="M662.8 447.1h4.6v2.1h-4.6zM670.8 447.1h2.6v2.1h-2.6zM678.8 447.1h2.6v2.1h-2.6zM708.7 447.1h2.6v2.1h-2.6zM662.8 475.5h2.6v2.1h-2.6zM621 481.5h4.6v2.1h-4.6zM628.9 481.5h2.6v2.1h-2.6zM650.9 481.5h4.6v2.1h-4.6zM668.8 481.5h2.6v2.1h-2.6zM680.8 481.5h2.6v2.1h-2.6zM561.1 488.9h2.6v2.1h-2.6zM563.1 500.9h2.6v2.1h-2.6zM585.1 500.9h6.6v2.1h-6.6zM678.8 509.8h2.6v2.1h-2.6zM664.8 521.8h6.6v2.1h-6.6zM559.1 523.3h2.6v2.1h-2.6z"/><path fill="#ffca00" d="M551.2 480h2.6v2.1h-2.6zM625 481.5h4.6v2.1h-4.6zM630.9 481.5h2.6v2.1h-2.6zM648.9 481.5h2.6v2.1h-2.6zM662.8 481.5h6.6v2.1h-6.6zM670.8 481.5h2.6v2.1h-2.6zM557.2 488.9h4.6v2.1h-4.6zM563.1 488.9h2.6v2.1h-2.6zM595 488.9h2.6v2.1h-2.6zM605 488.9h2.6v2.1h-2.6zM694.7 488.9h6.6v2.1h-6.6zM706.7 488.9h2.6v2.1h-2.6zM547.2 490.4h2.6v2.1h-2.6zM646.9 490.4h2.6v2.1h-2.6zM682.8 491.9h2.6v2.1h-2.6zM621 493.4h2.6v2.1h-2.6zM625 493.4h2.6v2.1h-2.6zM650.9 496.4h2.6v2.1h-2.6zM648.9 497.9h2.6v2.1h-2.6zM674.8 497.9h2.6v2.1h-2.6zM646.9 499.4h2.6v2.1h-2.6zM664.8 499.4h2.6v2.1h-2.6zM668.8 499.4h4.6v2.1h-4.6zM557.2 500.9h6.6v2.1h-6.6zM541.2 502.4h2.6v2.1h-2.6zM625 503.9h8.6v2.1h-8.6zM664.8 503.9h2.6v2.1h-2.6zM668.8 503.9h4.6v2.1h-4.6zM704.7 503.9h2.6v2.1h-2.6zM708.7 503.9h2.6v2.1h-2.6zM646.9 508.3h2.6v2.1h-2.6zM684.8 509.8h2.6v2.1h-2.6zM642.9 514.3h2.6v2.1h-2.6zM648.9 515.8h2.6v2.1h-2.6zM664.8 515.8h8.6v2.1h-8.6zM678.8 518.8h2.6v2.1h-2.6zM670.8 521.8h2.6v2.1h-2.6zM553.2 523.3h2.6v2.1h-2.6zM561.1 523.3h4.6v2.1h-4.6zM650.9 529.3h4.6v2.1h-4.6zM674.8 532.2h2.6v2.1h-2.6zM678.8 535.2h2.6v2.1h-2.6zM646.9 536.7h2.6v2.1h-2.6z"/><path fill="#ffa900" d="M547.2 478.5h2.6v2.1h-2.6zM553.2 478.5h2.6v2.1h-2.6zM541.2 487.4h2.6v2.1h-2.6zM569.1 488.9h6.6v2.1h-6.6zM593 488.9h2.6v2.1h-2.6zM597 488.9h8.6v2.1h-8.6zM607 488.9h4.6v2.1h-4.6zM702.7 488.9h4.6v2.1h-4.6zM708.7 488.9h2.6v2.1h-2.6zM545.2 490.4h2.6v2.1h-2.6zM684.8 491.9h2.6v2.1h-2.6zM551.2 493.4h2.6v2.1h-2.6zM623 493.4h2.6v2.1h-2.6zM626.9 493.4h6.6v2.1h-6.6zM652.9 496.4h2.6v2.1h-2.6zM680.8 497.9h2.6v2.1h-2.6zM662.8 499.4h2.6v2.1h-2.6zM666.8 499.4h2.6v2.1h-2.6zM678.8 499.4h2.6v2.1h-2.6zM666.8 503.9h2.6v2.1h-2.6zM702.7 503.9h2.6v2.1h-2.6zM706.7 503.9h2.6v2.1h-2.6zM547.2 505.4h2.6v2.1h-2.6zM648.9 506.8h2.6v2.1h-2.6zM551.2 508.3h2.6v2.1h-2.6zM682.8 509.8h2.6v2.1h-2.6zM553.2 511.3h2.6v2.1h-2.6zM662.8 515.8h2.6v2.1h-2.6zM646.9 517.3h2.6v2.1h-2.6zM642.9 524.8h2.6v2.1h-2.6zM646.9 527.8h2.6v2.1h-2.6zM545.2 529.3h2.6v2.1h-2.6zM682.8 529.3h4.6v2.1h-4.6zM654.9 532.2h2.6v2.1h-2.6zM648.9 533.7h2.6v2.1h-2.6zM553.2 535.2h2.6v2.1h-2.6z"/><path fill="#ff8800" d="M642.9 490.4h2.6v2.1h-2.6zM642.9 502.4h2.6v2.1h-2.6z"/><path fill="#ff6700" d="M545.2 515.8h10.6v2.1h-10.6zM621 515.8h2.6v2.1h-2.6zM678.8 515.8h4.6v2.1h-4.6zM684.8 515.8h6.6v2.1h-6.6zM686.8 527.8h2.6v2.1h-2.6zM678.8 530.7h4.6v2.1h-4.6zM684.8 530.7h2.6v2.1h-2.6z"/><path fill="#ff4600" d="M569.1 508.3h4.6v2.1h-4.6zM603 508.3h4.6v2.1h-4.6zM609 508.3h2.6v2.1h-2.6zM694.7 508.3h4.6v2.1h-4.6zM644.9 511.3h4.6v2.1h-4.6zM585.1 512.8h6.6v2.1h-6.6zM559.1 515.8h2.6v2.1h-2.6zM563.1 515.8h2.6v2.1h-2.6zM623 515.8h10.6v2.1h-10.6zM674.8 515.8h2.6v2.1h-2.6zM682.8 515.8h2.6v2.1h-2.6zM694.7 515.8h6.6v2.1h-6.6zM541.2 517.3h2.6v2.1h-2.6zM654.9 520.3h2.6v2.1h-2.6zM678.8 527.8h2.6v2.1h-2.6zM557.2 529.3h8.6v2.1h-8.6zM571.1 529.3h2.6v2.1h-2.6zM593 529.3h4.6v2.1h-4.6zM603 529.3h2.6v2.1h-2.6zM607 529.3h2.6v2.1h-2.6zM702.7 529.3h2.6v2.1h-2.6zM706.7 529.3h4.6v2.1h-4.6zM642.9 530.7h4.6v2.1h-4.6zM648.9 530.7h2.6v2.1h-2.6zM682.8 530.7h2.6v2.1h-2.6zM686.8 530.7h2.6v2.1h-2.6zM543.2 533.7h2.6v2.1h-2.6zM551.2 533.7h2.6v2.1h-2.6z"/><path fill="#ff2500" d="M557.2 508.3h8.6v2.1h-8.6zM573.1 508.3h2.6v2.1h-2.6zM593 508.3h10.6v2.1h-10.6zM607 508.3h2.6v2.1h-2.6zM686.8 508.3h2.6v2.1h-2.6zM692.8 508.3h2.6v2.1h-2.6zM698.7 508.3h2.6v2.1h-2.6zM642.9 511.3h2.6v2.1h-2.6zM648.9 511.3h4.6v2.1h-4.6zM583.1 512.8h2.6v2.1h-2.6zM680.8 514.3h2.6v2.1h-2.6zM561.1 515.8h2.6v2.1h-2.6zM547.2 520.3h2.6v2.1h-2.6zM569.1 529.3h2.6v2.1h-2.6zM573.1 529.3h2.6v2.1h-2.6zM597 529.3h6.6v2.1h-6.6zM605 529.3h2.6v2.1h-2.6zM609 529.3h2.6v2.1h-2.6zM694.7 529.3h6.6v2.1h-6.6zM704.7 529.3h2.6v2.1h-2.6zM646.9 530.7h2.6v2.1h-2.6zM650.9 530.7h6.6v2.1h-6.6zM541.2 533.7h2.6v2.1h-2.6zM545.2 533.7h6.6v2.1h-6.6zM662.8 533.7h10.6v2.1h-10.6zM642.9 535.2h2.6v2.1h-2.6z"/></g></g><defs><linearGradient id="cbC" x1="0" y1="1" x2="0" y2="0"><stop offset="0.000" stop-color="#000080"/><stop offset="0.062" stop-color="#0000bf"/><stop offset="0.125" stop-color="#0000ff"/><stop offset="0.188" stop-color="#0040ff"/><stop offset="0.250" stop-color="#0080ff"/><stop offset="0.312" stop-color="#00bfff"/><stop offset="0.375" stop-color="#00ffff"/><stop offset="0.438" stop-color="#40ffbf"/><stop offset="0.500" stop-color="#80ff80"/><stop offset="0.562" stop-color="#bfff40"/><stop offset="0.625" stop-color="#ffff00"/><stop offset="0.688" stop-color="#ffbf00"/><stop offset="0.750" stop-color="#ff8000"/><stop offset="0.812" stop-color="#ff4000"/><stop offset="0.875" stop-color="#ff0000"/><stop offset="0.938" stop-color="#bf0000"/><stop offset="1.000" stop-color="#800000"/></linearGradient></defs><rect x="715.2" y="402.6" width="5.3" height="138.9" fill="url(#cbC)"/><rect x="715.2" y="402.6" width="5.3" height="138.9" fill="none" stroke="#223" stroke-width="0.6"/>
<g font-family="Liberation Sans, sans-serif" fill="#000" filter="url(#bl3)"><text x="91.5" y="417.4" font-size="5.4" text-anchor="end" font-weight="bold">5000</text><text x="91.5" y="442.9" font-size="5.4" text-anchor="end" font-weight="bold">4000</text><text x="91.5" y="467.7" font-size="5.4" text-anchor="end" font-weight="bold">3000</text><text x="91.5" y="492.9" font-size="5.4" text-anchor="end" font-weight="bold">2000</text><text x="91.5" y="517.9" font-size="5.4" text-anchor="end" font-weight="bold">1000</text><text x="92.1" y="547.2" font-size="5" text-anchor="middle" font-weight="bold">0</text><text x="119.6" y="547.2" font-size="5" text-anchor="middle" font-weight="bold">5</text><text x="145.5" y="547.2" font-size="5" text-anchor="middle" font-weight="bold">10</text><text x="171.8" y="547.2" font-size="5" text-anchor="middle" font-weight="bold">15</text><text x="198.0" y="547.2" font-size="5" text-anchor="middle" font-weight="bold">20</text><text x="224.3" y="547.2" font-size="5" text-anchor="middle" font-weight="bold">25</text><text x="251.4" y="547.2" font-size="5" text-anchor="middle" font-weight="bold">30</text><text x="178.5" y="555.2" font-size="5.4" text-anchor="middle" font-weight="bold">Time (seconds)</text><text transform="translate(76.9,470.6) rotate(-90)" font-size="5.6" text-anchor="middle" font-weight="bold">Frequency (Hz)</text><rect x="271.2" y="403.1" width="2.0" height="1.8"/><rect x="271.2" y="415.1" width="2.0" height="1.8"/><rect x="271.2" y="430.1" width="2.4" height="1.8"/><rect x="271.2" y="442.0" width="2.4" height="2.0"/><rect x="271.2" y="456.4" width="2.4" height="2.0"/><rect x="271.2" y="470.5" width="3.0" height="2.2"/><rect x="271.2" y="484.7" width="5.0" height="2.6"/><rect x="271.2" y="498.7" width="5.0" height="2.6"/><rect x="271.2" y="512.6" width="5.0" height="2.8"/><rect x="271.2" y="526.2" width="5.0" height="3.6"/><rect x="271.2" y="538.6" width="5.0" height="3.6"/><text x="314.9" y="417.4" font-size="5.4" text-anchor="end" font-weight="bold">5000</text><text x="314.9" y="442.9" font-size="5.4" text-anchor="end" font-weight="bold">4000</text><text x="314.9" y="467.7" font-size="5.4" text-anchor="end" font-weight="bold">3000</text><text x="314.9" y="492.9" font-size="5.4" text-anchor="end" font-weight="bold">2000</text><text x="314.9" y="517.9" font-size="5.4" text-anchor="end" font-weight="bold">1000</text><text x="315.5" y="547.2" font-size="5" text-anchor="middle" font-weight="bold">0</text><text x="343.1" y="547.2" font-size="5" text-anchor="middle" font-weight="bold">5</text><text x="369.1" y="547.2" font-size="5" text-anchor="middle" font-weight="bold">10</text><text x="395.4" y="547.2" font-size="5" text-anchor="middle" font-weight="bold">15</text><text x="421.8" y="547.2" font-size="5" text-anchor="middle" font-weight="bold">20</text><text x="448.2" y="547.2" font-size="5" text-anchor="middle" font-weight="bold">25</text><text x="475.4" y="547.2" font-size="5" text-anchor="middle" font-weight="bold">30</text><text x="402.3" y="555.2" font-size="5.4" text-anchor="middle" font-weight="bold">Time (seconds)</text><text transform="translate(300.3,470.6) rotate(-90)" font-size="5.6" text-anchor="middle" font-weight="bold">Frequency (Hz)</text><rect x="495.2" y="403.1" width="2.0" height="1.8"/><rect x="495.2" y="415.1" width="2.0" height="1.8"/><rect x="495.2" y="430.1" width="2.4" height="1.8"/><rect x="495.2" y="442.0" width="2.4" height="2.0"/><rect x="495.2" y="456.4" width="2.4" height="2.0"/><rect x="495.2" y="470.5" width="3.0" height="2.2"/><rect x="495.2" y="484.7" width="5.0" height="2.6"/><rect x="495.2" y="498.7" width="5.0" height="2.6"/><rect x="495.2" y="512.6" width="5.0" height="2.8"/><rect x="495.2" y="526.2" width="5.0" height="3.6"/><rect x="495.2" y="538.6" width="5.0" height="3.6"/><text x="540.9" y="417.4" font-size="5.4" text-anchor="end" font-weight="bold">5000</text><text x="540.9" y="442.9" font-size="5.4" text-anchor="end" font-weight="bold">4000</text><text x="540.9" y="467.7" font-size="5.4" text-anchor="end" font-weight="bold">3000</text><text x="540.9" y="492.9" font-size="5.4" text-anchor="end" font-weight="bold">2000</text><text x="540.9" y="517.9" font-size="5.4" text-anchor="end" font-weight="bold">1000</text><text x="541.5" y="547.2" font-size="5" text-anchor="middle" font-weight="bold">0</text><text x="569.0" y="547.2" font-size="5" text-anchor="middle" font-weight="bold">5</text><text x="594.9" y="547.2" font-size="5" text-anchor="middle" font-weight="bold">10</text><text x="621.2" y="547.2" font-size="5" text-anchor="middle" font-weight="bold">15</text><text x="647.4" y="547.2" font-size="5" text-anchor="middle" font-weight="bold">20</text><text x="673.7" y="547.2" font-size="5" text-anchor="middle" font-weight="bold">25</text><text x="700.8" y="547.2" font-size="5" text-anchor="middle" font-weight="bold">30</text><text x="627.9" y="555.2" font-size="5.4" text-anchor="middle" font-weight="bold">Time (seconds)</text><text transform="translate(526.3,470.6) rotate(-90)" font-size="5.6" text-anchor="middle" font-weight="bold">Frequency (Hz)</text><rect x="720.6" y="403.1" width="2.0" height="1.8"/><rect x="720.6" y="415.1" width="2.0" height="1.8"/><rect x="720.6" y="430.1" width="2.4" height="1.8"/><rect x="720.6" y="442.0" width="2.4" height="2.0"/><rect x="720.6" y="456.4" width="2.4" height="2.0"/><rect x="720.6" y="470.5" width="3.0" height="2.2"/><rect x="720.6" y="484.7" width="5.0" height="2.6"/><rect x="720.6" y="498.7" width="5.0" height="2.6"/><rect x="720.6" y="512.6" width="5.0" height="2.8"/><rect x="720.6" y="526.2" width="5.0" height="3.6"/><rect x="720.6" y="538.6" width="5.0" height="3.6"/><text x="318.2" y="158.0" font-size="4.8" text-anchor="end" font-weight="bold">5000</text><text x="318.2" y="180.7" font-size="4.8" text-anchor="end" font-weight="bold">4000</text><text x="318.2" y="203.4" font-size="4.8" text-anchor="end" font-weight="bold">3000</text><text x="318.2" y="227.4" font-size="4.8" text-anchor="end" font-weight="bold">2000</text><text x="318.2" y="250.0" font-size="4.8" text-anchor="end" font-weight="bold">1000</text><rect x="317.9" y="271.6" width="1.8" height="1.8"/><rect x="342.5" y="271.6" width="1.8" height="1.8"/><rect x="365.6" y="271.6" width="1.8" height="1.8"/><rect x="390.3" y="271.6" width="1.8" height="1.8"/><rect x="414.2" y="271.6" width="1.8" height="1.8"/><rect x="438.0" y="271.6" width="1.8" height="1.8"/><rect x="462.7" y="271.6" width="1.8" height="1.8"/><text x="399" y="281.5" font-size="5" text-anchor="middle" font-weight="bold">Time (seconds)</text><text transform="translate(303,207) rotate(-90)" font-size="5" text-anchor="middle" font-weight="bold">Frequency (Hz)</text><rect x="483" y="144.7" width="2.4" height="1.6"/><rect x="483" y="157.2" width="2.4" height="1.6"/><rect x="483" y="170.7" width="2.4" height="1.6"/><rect x="483" y="183.2" width="2.4" height="1.6"/><rect x="483" y="209.2" width="2.4" height="1.6"/><rect x="483" y="223.2" width="2.4" height="1.6"/><rect x="483" y="236.2" width="2.4" height="1.6"/><rect x="483" y="249.2" width="2.4" height="1.6"/></g>
<g filter="url(#bl2)"><polygon fill="#060606" points="380.0,239.0 309.8,270.6 311.2,261.8 287.0,283.4 319.1,279.1 311.5,274.4 381.2,241.6"/><polygon fill="#060606" points="402.8,240.5 402.1,266.0 394.3,261.0 404.3,292.0 414.3,261.0 406.5,266.0 405.8,240.5"/><polygon fill="#060606" points="427.4,243.4 490.8,272.6 483.3,277.2 515.5,281.2 491.1,259.9 492.6,268.5 428.6,240.6"/></g>
<g filter="url(#bl2)"><path d="M175.6 302.6 L177.4 302.4 L179.2 312 L180.6 338 L178.2 338 L176.6 314 Z" fill="#240a06"/><path d="M174.8 302.4 L177 302 L177.6 308.4 L175.8 308.8 Z" fill="#8a1408"/><circle cx="178.3" cy="311" r="1.4" fill="#c8781a"/><path d="M178.8 335.5 C182 338,188.6 340.5,190 346.5 C191 351,187.6 353.6,186.8 357 C186.6 360.4,193.6 363.4,194.4 371.6 C195 381,187.4 387.4,177.6 387.4 C167.8 387.4,160.4 381,161 371.6 C161.8 363.4,168.8 360.4,168.6 357 C167.8 353.6,164.4 351,165.4 346.5 C166.8 340.5,173.2 338,176.6 335.5 Z" fill="#94220e"/><path d="M169 364.5 C164.4 369,164.6 379,169.6 383.6 C174.6 386.4,176 380,175.6 374 C175.3 369,173 363.6,169 364.5 Z" fill="#cc5018"/><path d="M185 365.4 C189.6 369,190.4 378,186 383 C182.4 385.6,180.8 380,181.2 374 C181.5 369,183 364.6,185 365.4 Z" fill="#b8380f"/><path d="M169.6 341 C166.6 345,167 350.6,170.6 353.6 C174.6 354.6,174.6 343.6,169.6 341 Z" fill="#c2420f"/><path d="M185.6 341 C188.4 345,188 350.6,184.8 353.4 C181.8 353.6,181.8 343.6,185.6 341 Z" fill="#a8300c"/><path d="M177.8 330 L180.4 330 L181 362 L178.8 362 Z" fill="#200805"/><path d="M178.4 362.6 L182 362.6 L181.2 384 L179.6 384 Z" fill="#1c0705"/><rect x="175.4" y="360.6" width="10.6" height="1.7" fill="#f6ece0"/><path d="M172.6 358 q-1.4 3 0 6 M187 358 q1.4 3 0 6" stroke="#3a0c06" stroke-width="0.7" fill="none"/></g><g filter="url(#bl2)"><path d="M389 346 L409 323.5 L416 322.5 L422.5 321.8 L418.5 327 L428.6 332 L427 338 L417 343.5 L416 347 Z" fill="#070707"/><path d="M389.5 345 L398 335.6 L398.6 336 L391 344.8 Z" fill="#5a4418"/><path d="M378.6 348 L386 343.5 L400 346.5 L430.5 345 L430.5 357 L424.5 359 L419 366.5 L407 369 L375.6 359.5 L375.6 355.5 Z" fill="#060606"/><path d="M402 347.8 L423.4 347 L421.6 350.8 L409.4 352.8 L402.4 351 Z" fill="#dc9a1a"/><path d="M409 348.2 L416 347.8 L415 351.4 L410 352.2 Z" fill="#f3d9c0"/><path d="M377 356.2 L398.6 363.2 L398.2 364.8 L376.8 357.8 Z" fill="#e9e9e9"/><path d="M384.6 360 L387.4 361 L386.6 376.5 L384.8 376.5 Z M394.4 364 L397.6 365 L396.8 382.3 L394.6 382.3 Z M399 366 L401 366.6 L400.4 380 L399 380 Z M406 368 L409.8 367.4 L408.8 387 L406.6 387 Z M421.4 358 L424 357 L423.2 373.6 L421.6 373.6 Z" fill="#080808"/><rect x="384.2" y="376" width="2.2" height="1.4" fill="#b98a2a"/><rect x="392.8" y="381.5" width="2.4" height="1.4" fill="#b98a2a"/><rect x="422" y="373" width="1.8" height="1.3" fill="#b98a2a"/></g><rect x="597" y="325" width="63" height="66" fill="#fdfdfd"/><g filter="url(#bl2)"><path d="M657.6 326.8 L659.2 328.4 L654.2 334.4 L652.4 332.8 Z" fill="#0c0c12"/><path d="M652.4 332.2 L655 334.8 L608.2 380.2 L605.4 377.4 Z" fill="#10101e"/><path d="M606.2 376.4 L609.2 379.4 L605 386.2 L598.8 380.4 Z" fill="#0a0a10"/><path d="M648 338.6 L650.2 340.8 L614 376 L611.8 373.8 Z" fill="#0e0e1a" stroke="#0e0e1a" stroke-width="1.6" stroke-dasharray="3 2.2"/><path d="M646 339.3 L647.2 340.5 L614 372.8 L612.8 371.6 Z" fill="#4a5cb8" opacity="0.55"/><circle cx="629.4" cy="357" r="1.4" fill="#d0d0c4"/><circle cx="632.8" cy="352.6" r="0.9" fill="#c0c0c8"/><circle cx="620" cy="366.3" r="1" fill="#b8bcd8"/><circle cx="640" cy="346.3" r="0.8" fill="#b8bcd8"/><circle cx="614.4" cy="371.6" r="0.9" fill="#a8b0d8"/></g>
<g filter="url(#bl3)"><path d="M515.8 566.4 l4.8 -3.1 v6.2 z" fill="#f7c3de"/><rect x="529.5" y="564.1" width="6.7" height="5.1" fill="#fff" stroke="#ef86c0" stroke-width="1.7"/><path d="M546.4 563.3 h1.3 v2 l3.4 1.1 l-3.4 1.1 v2 h-1.3 z" fill="#f7c3de"/><path d="M563.4 566.4 l4.8 -3.1 v6.2 z" fill="#f7c3de"/><path d="M576 565.4 l2 -3.4 h7.6 v4.6 l-2.2 2.6 z" fill="#f3a4cf"/><rect x="573.8" y="566.2" width="7.4" height="4.2" fill="#fff" stroke="#ef86c0" stroke-width="1.6"/><path d="M594.0 563.3 h1.3 v2 l3.4 1.1 l-3.4 1.1 v2 h-1.3 z" fill="#f7c3de"/><path d="M610.8 566.4 l4.8 -3.1 v6.2 z" fill="#f7c3de"/><rect x="624.6" y="562.5" width="8.6" height="1.8" fill="#ef86c0"/><rect x="623.4" y="565.7" width="8.8" height="1.8" fill="#f3a4cf"/><rect x="624.6" y="568.9" width="8.6" height="1.9" fill="#f7c3de"/><path d="M646.2 566.4 l-4.6 -3.1 v6.2 z" fill="#f7c3de"/><path d="M659.0 566.4 l4.8 -3.1 v6.2 z" fill="#f7c3de"/><rect x="671.2" y="562.3" width="8.8" height="2" fill="#ef86c0"/><rect x="672.6" y="565.5" width="9" height="2" fill="#ef86c0"/><rect x="671.2" y="568.7" width="8.8" height="2" fill="#f3a4cf"/><path d="M694.0 566.4 l-4.6 -3.1 v6.2 z" fill="#f7c3de"/><rect x="719" y="561.8" width="8.6" height="2.3" fill="#ef86c0"/><rect x="720.2" y="565.2" width="8.4" height="2.3" fill="#ef86c0"/><rect x="719" y="568.6" width="8.6" height="2.3" fill="#ef86c0"/><path d="M754.6 563.6 a4.1 4.1 0 1 1 2.4 7.2" fill="none" stroke="#ef86c0" stroke-width="1.7"/><path d="M751 564.2 l4.6 -1.2 l-0.6 4.4 z" fill="#ef86c0"/><circle cx="770.6" cy="564.6" r="2.4" fill="none" stroke="#f3a4cf" stroke-width="1.3"/><path d="M772.4 566.6 l3.4 4" stroke="#f3a4cf" stroke-width="1.4" fill="none"/><path d="M787 571 a4.1 4.1 0 1 1 0.4 -7.8" fill="none" stroke="#ef86c0" stroke-width="1.7"/><path d="M791.6 565.4 l-4.8 -1.6 l1 4.6 z" fill="#ef86c0"/></g>
</svg>
</body></html>
